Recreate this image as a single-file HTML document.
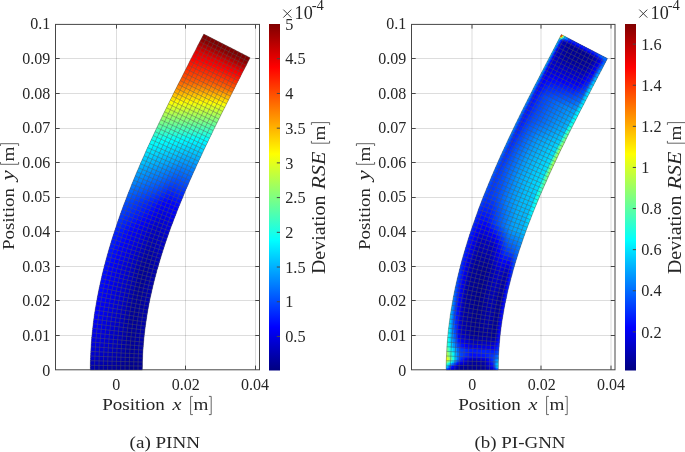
<!DOCTYPE html><html><head><meta charset="utf-8"><title>Figure</title><style>html,body{margin:0;padding:0;background:#fff}svg{display:block;will-change:transform;transform:translateZ(0)}</style></head><body><svg width="685" height="452" viewBox="0 0 685 452" font-family="'Liberation Serif', serif" fill="#262626"><rect width="685" height="452" fill="#fff"/><path d="M55.5 335.5H259.5M55.5 300.5H259.5M55.5 266.5H259.5M55.5 231.5H259.5M55.5 197.5H259.5M55.5 162.5H259.5M55.5 128.5H259.5M55.5 93.5H259.5M55.5 58.5H259.5M116.5 24.5V369.8M185.5 24.5V369.8M255.5 24.5V369.8" stroke="#000" stroke-opacity="0.135" stroke-width="1" fill="none"/><path d="M55.5 335.5h4.2M259.5 335.5h-4.2M55.5 300.5h4.2M259.5 300.5h-4.2M55.5 266.5h4.2M259.5 266.5h-4.2M55.5 231.5h4.2M259.5 231.5h-4.2M55.5 197.5h4.2M259.5 197.5h-4.2M55.5 162.5h4.2M259.5 162.5h-4.2M55.5 128.5h4.2M259.5 128.5h-4.2M55.5 93.5h4.2M259.5 93.5h-4.2M55.5 58.5h4.2M259.5 58.5h-4.2M116.5 369.8v-4.2M116.5 24.4v4.2M185.5 369.8v-4.2M185.5 24.4v4.2M255.5 369.8v-4.2M255.5 24.4v4.2" stroke="#464646" stroke-width="1" fill="none"/><rect x="55.5" y="24.4" width="204.0" height="345.4" fill="none" stroke="#464646" stroke-width="1"/><clipPath id="clip0"><path d="M90.3 370.0L90.3 365.3L90.4 360.7L90.6 356.0L90.8 351.4L91.0 346.7L91.4 342.1L91.7 337.5L92.2 332.9L92.7 328.3L93.2 323.7L93.8 319.1L94.4 314.6L95.1 310.0L95.9 305.5L96.7 301.0L97.5 296.5L98.4 292.0L99.3 287.5L100.3 283.0L101.3 278.6L102.3 274.1L103.4 269.7L104.5 265.3L105.7 260.9L106.9 256.5L108.1 252.2L109.4 247.8L110.7 243.5L112.0 239.1L113.4 234.8L114.8 230.6L116.2 226.3L117.6 222.0L119.1 217.8L120.6 213.5L122.1 209.3L123.7 205.1L125.3 200.9L126.9 196.7L128.5 192.6L130.2 188.4L131.8 184.3L133.5 180.2L135.2 176.0L136.9 171.9L138.7 167.9L140.4 163.8L142.2 159.7L144.0 155.7L145.8 151.6L147.6 147.6L149.5 143.6L151.3 139.6L153.2 135.6L155.0 131.6L156.9 127.6L158.8 123.6L160.7 119.7L162.6 115.7L164.5 111.8L166.5 107.8L168.4 103.9L170.3 100.0L172.3 96.1L174.2 92.1L176.2 88.2L178.1 84.3L180.1 80.5L182.1 76.6L184.0 72.7L186.0 68.8L188.0 64.9L189.9 61.1L191.9 57.2L193.9 53.3L195.9 49.5L197.8 45.6L199.8 41.8L201.8 37.9L203.8 34.1L250.1 57.7L248.1 61.5L246.2 65.4L244.2 69.2L242.2 73.0L240.3 76.9L238.3 80.7L236.3 84.6L234.4 88.4L232.4 92.2L230.5 96.1L228.5 99.9L226.6 103.7L224.7 107.6L222.7 111.4L220.8 115.2L218.9 119.1L217.0 122.9L215.1 126.7L213.2 130.6L211.4 134.4L209.5 138.2L207.7 142.1L205.8 145.9L204.0 149.7L202.2 153.6L200.4 157.4L198.6 161.3L196.8 165.1L195.1 169.0L193.3 172.8L191.6 176.7L189.9 180.5L188.2 184.4L186.5 188.2L184.9 192.1L183.3 196.0L181.7 199.9L180.1 203.7L178.5 207.6L177.0 211.5L175.5 215.4L174.0 219.3L172.5 223.2L171.0 227.1L169.6 231.0L168.2 234.9L166.9 238.8L165.5 242.8L164.2 246.7L163.0 250.6L161.7 254.6L160.5 258.5L159.3 262.4L158.2 266.4L157.0 270.3L156.0 274.3L154.9 278.3L153.9 282.2L152.9 286.2L152.0 290.2L151.1 294.2L150.2 298.1L149.4 302.1L148.6 306.1L147.9 310.1L147.2 314.1L146.6 318.1L146.0 322.1L145.4 326.1L144.9 330.1L144.4 334.1L144.0 338.1L143.6 342.1L143.3 346.1L143.0 350.1L142.7 354.1L142.6 358.1L142.4 362.0L142.4 366.0L142.3 370.0Z"/></clipPath><g clip-path="url(#clip0)" stroke-width="1.3" stroke-linejoin="round" fill="currentColor" stroke="currentColor"><path d="M90.3 370.0L94.6 370.0L94.6 367.7L90.3 367.7Z" color="#0000a3"/><path d="M94.6 370.0L99.0 370.0L99.0 367.7L94.6 367.7Z" color="#0000a0"/><path d="M99.0 370.0L103.3 370.0L103.3 367.8L99.0 367.7Z" color="#00009e"/><path d="M103.3 370.0L107.6 370.0L107.6 367.8L103.3 367.8Z" color="#00009b"/><path d="M107.6 370.0L112.0 370.0L112.0 367.8L107.6 367.8Z" color="#000099"/><path d="M112.0 370.0L116.3 370.0L116.3 367.8L112.0 367.8Z" color="#000096"/><path d="M116.3 370.0L120.6 370.0L120.6 367.9L116.3 367.8Z" color="#000093"/><path d="M120.6 370.0L125.0 370.0L125.0 367.9L120.6 367.9Z" color="#00008e"/><path d="M125.0 370.0L129.3 370.0L129.3 367.9L125.0 367.9Z" color="#00008a"/><path d="M129.3 370.0L133.7 370.0L133.7 368.0L129.3 367.9Z" color="#000089"/><path d="M133.7 370.0L138.0 370.0L138.0 368.0L133.7 368.0Z" color="#00008c"/><path d="M138.0 370.0L142.3 370.0L142.3 368.0L138.0 368.0Z" color="#00008e"/><path d="M90.3 367.7L94.6 367.7L94.6 365.4L90.3 365.3Z" color="#0000aa"/><path d="M94.6 367.7L99.0 367.7L99.0 365.5L94.6 365.4Z" color="#0000a7"/><path d="M99.0 367.7L103.3 367.8L103.3 365.5L99.0 365.5Z" color="#0000a4"/><path d="M103.3 367.8L107.6 367.8L107.7 365.6L103.3 365.5Z" color="#0000a1"/><path d="M107.6 367.8L112.0 367.8L112.0 365.6L107.7 365.6Z" color="#00009e"/><path d="M112.0 367.8L116.3 367.8L116.3 365.7L112.0 365.6Z" color="#00009b"/><path d="M116.3 367.8L120.6 367.9L120.7 365.7L116.3 365.7Z" color="#000097"/><path d="M120.6 367.9L125.0 367.9L125.0 365.8L120.7 365.7Z" color="#000092"/><path d="M125.0 367.9L129.3 367.9L129.3 365.9L125.0 365.8Z" color="#00008d"/><path d="M129.3 367.9L133.7 368.0L133.7 365.9L129.3 365.9Z" color="#00008c"/><path d="M133.7 368.0L138.0 368.0L138.0 366.0L133.7 365.9Z" color="#00008f"/><path d="M138.0 368.0L142.3 368.0L142.4 366.0L138.0 366.0Z" color="#000091"/><path d="M90.3 365.3L94.6 365.4L94.7 363.1L90.3 363.0Z" color="#0000b2"/><path d="M94.6 365.4L99.0 365.5L99.0 363.2L94.7 363.1Z" color="#0000ae"/><path d="M99.0 365.5L103.3 365.5L103.4 363.3L99.0 363.2Z" color="#0000ab"/><path d="M103.3 365.5L107.7 365.6L107.7 363.3L103.4 363.3Z" color="#0000a7"/><path d="M107.7 365.6L112.0 365.6L112.0 363.4L107.7 363.3Z" color="#0000a4"/><path d="M112.0 365.6L116.3 365.7L116.4 363.5L112.0 363.4Z" color="#0000a0"/><path d="M116.3 365.7L120.7 365.7L120.7 363.6L116.4 363.5Z" color="#00009b"/><path d="M120.7 365.7L125.0 365.8L125.0 363.7L120.7 363.6Z" color="#000096"/><path d="M125.0 365.8L129.3 365.9L129.4 363.8L125.0 363.7Z" color="#000090"/><path d="M129.3 365.9L133.7 365.9L133.7 363.9L129.4 363.8Z" color="#00008e"/><path d="M133.7 365.9L138.0 366.0L138.0 363.9L133.7 363.9Z" color="#000092"/><path d="M138.0 366.0L142.4 366.0L142.4 364.0L138.0 363.9Z" color="#000095"/><path d="M90.3 363.0L94.7 363.1L94.7 360.8L90.4 360.7Z" color="#0000b9"/><path d="M94.7 363.1L99.0 363.2L99.1 360.9L94.7 360.8Z" color="#0000b5"/><path d="M99.0 363.2L103.4 363.3L103.4 361.0L99.1 360.9Z" color="#0000b1"/><path d="M103.4 363.3L107.7 363.3L107.7 361.1L103.4 361.0Z" color="#0000ad"/><path d="M107.7 363.3L112.0 363.4L112.1 361.2L107.7 361.1Z" color="#0000a9"/><path d="M112.0 363.4L116.4 363.5L116.4 361.4L112.1 361.2Z" color="#0000a5"/><path d="M116.4 363.5L120.7 363.6L120.8 361.5L116.4 361.4Z" color="#0000a0"/><path d="M120.7 363.6L125.0 363.7L125.1 361.6L120.8 361.5Z" color="#000099"/><path d="M125.0 363.7L129.4 363.8L129.4 361.7L125.1 361.6Z" color="#000093"/><path d="M129.4 363.8L133.7 363.9L133.8 361.8L129.4 361.7Z" color="#000091"/><path d="M133.7 363.9L138.0 363.9L138.1 361.9L133.8 361.8Z" color="#000094"/><path d="M138.0 363.9L142.4 364.0L142.4 362.0L138.1 361.9Z" color="#000098"/><path d="M90.4 360.7L94.7 360.8L94.8 358.5L90.5 358.4Z" color="#0000c1"/><path d="M94.7 360.8L99.1 360.9L99.1 358.6L94.8 358.5Z" color="#0000bc"/><path d="M99.1 360.9L103.4 361.0L103.5 358.8L99.1 358.6Z" color="#0000b8"/><path d="M103.4 361.0L107.7 361.1L107.8 358.9L103.5 358.8Z" color="#0000b3"/><path d="M107.7 361.1L112.1 361.2L112.1 359.1L107.8 358.9Z" color="#0000af"/><path d="M112.1 361.2L116.4 361.4L116.5 359.2L112.1 359.1Z" color="#0000aa"/><path d="M116.4 361.4L120.8 361.5L120.8 359.3L116.5 359.2Z" color="#0000a4"/><path d="M120.8 361.5L125.1 361.6L125.1 359.5L120.8 359.3Z" color="#00009d"/><path d="M125.1 361.6L129.4 361.7L129.5 359.6L125.1 359.5Z" color="#000096"/><path d="M129.4 361.7L133.8 361.8L133.8 359.8L129.5 359.6Z" color="#000094"/><path d="M133.8 361.8L138.1 361.9L138.2 359.9L133.8 359.8Z" color="#000097"/><path d="M138.1 361.9L142.4 362.0L142.5 360.0L138.2 359.9Z" color="#00009b"/><path d="M90.5 358.4L94.8 358.5L94.9 356.2L90.6 356.0Z" color="#0000c8"/><path d="M94.8 358.5L99.1 358.6L99.2 356.4L94.9 356.2Z" color="#0000c3"/><path d="M99.1 358.6L103.5 358.8L103.6 356.5L99.2 356.4Z" color="#0000be"/><path d="M103.5 358.8L107.8 358.9L107.9 356.7L103.6 356.5Z" color="#0000b9"/><path d="M107.8 358.9L112.1 359.1L112.2 356.9L107.9 356.7Z" color="#0000b4"/><path d="M112.1 359.1L116.5 359.2L116.6 357.0L112.2 356.9Z" color="#0000af"/><path d="M116.5 359.2L120.8 359.3L120.9 357.2L116.6 357.0Z" color="#0000a9"/><path d="M120.8 359.3L125.1 359.5L125.2 357.4L120.9 357.2Z" color="#0000a0"/><path d="M125.1 359.5L129.5 359.6L129.6 357.5L125.2 357.4Z" color="#000098"/><path d="M129.5 359.6L133.8 359.8L133.9 357.7L129.6 357.5Z" color="#000096"/><path d="M133.8 359.8L138.2 359.9L138.2 357.9L133.9 357.7Z" color="#00009a"/><path d="M138.2 359.9L142.5 360.0L142.6 358.1L138.2 357.9Z" color="#00009e"/><path d="M90.6 356.0L94.9 356.2L95.0 353.9L90.6 353.7Z" color="#0000ce"/><path d="M94.9 356.2L99.2 356.4L99.3 354.1L95.0 353.9Z" color="#0000c9"/><path d="M99.2 356.4L103.6 356.5L103.6 354.3L99.3 354.1Z" color="#0000c4"/><path d="M103.6 356.5L107.9 356.7L108.0 354.5L103.6 354.3Z" color="#0000be"/><path d="M107.9 356.7L112.2 356.9L112.3 354.7L108.0 354.5Z" color="#0000b9"/><path d="M112.2 356.9L116.6 357.0L116.6 354.9L112.3 354.7Z" color="#0000b4"/><path d="M116.6 357.0L120.9 357.2L121.0 355.1L116.6 354.9Z" color="#0000ad"/><path d="M120.9 357.2L125.2 357.4L125.3 355.3L121.0 355.1Z" color="#0000a4"/><path d="M125.2 357.4L129.6 357.5L129.6 355.5L125.3 355.3Z" color="#00009b"/><path d="M129.6 357.5L133.9 357.7L134.0 355.7L129.6 355.5Z" color="#000099"/><path d="M133.9 357.7L138.2 357.9L138.3 355.9L134.0 355.7Z" color="#00009d"/><path d="M138.2 357.9L142.6 358.1L142.6 356.1L138.3 355.9Z" color="#0000a2"/><path d="M90.6 353.7L95.0 353.9L95.1 351.6L90.8 351.4Z" color="#0000d2"/><path d="M95.0 353.9L99.3 354.1L99.4 351.8L95.1 351.6Z" color="#0000cc"/><path d="M99.3 354.1L103.6 354.3L103.8 352.1L99.4 351.8Z" color="#0000c7"/><path d="M103.6 354.3L108.0 354.5L108.1 352.3L103.8 352.1Z" color="#0000c1"/><path d="M108.0 354.5L112.3 354.7L112.4 352.5L108.1 352.3Z" color="#0000bb"/><path d="M112.3 354.7L116.6 354.9L116.8 352.7L112.4 352.5Z" color="#0000b5"/><path d="M116.6 354.9L121.0 355.1L121.1 352.9L116.8 352.7Z" color="#0000ae"/><path d="M121.0 355.1L125.3 355.3L125.4 353.2L121.1 352.9Z" color="#0000a4"/><path d="M125.3 355.3L129.6 355.5L129.7 353.4L125.4 353.2Z" color="#00009b"/><path d="M129.6 355.5L134.0 355.7L134.1 353.6L129.7 353.4Z" color="#000099"/><path d="M134.0 355.7L138.3 355.9L138.4 353.8L134.1 353.6Z" color="#00009e"/><path d="M138.3 355.9L142.6 356.1L142.7 354.1L138.4 353.8Z" color="#0000a3"/><path d="M90.8 351.4L95.1 351.6L95.2 349.3L90.9 349.1Z" color="#0000d5"/><path d="M95.1 351.6L99.4 351.8L99.6 349.6L95.2 349.3Z" color="#0000cf"/><path d="M99.4 351.8L103.8 352.1L103.9 349.8L99.6 349.6Z" color="#0000c9"/><path d="M103.8 352.1L108.1 352.3L108.2 350.1L103.9 349.8Z" color="#0000c3"/><path d="M108.1 352.3L112.4 352.5L112.5 350.3L108.2 350.1Z" color="#0000bd"/><path d="M112.4 352.5L116.8 352.7L116.9 350.6L112.5 350.3Z" color="#0000b7"/><path d="M116.8 352.7L121.1 352.9L121.2 350.8L116.9 350.6Z" color="#0000af"/><path d="M121.1 352.9L125.4 353.2L125.5 351.1L121.2 350.8Z" color="#0000a5"/><path d="M125.4 353.2L129.7 353.4L129.9 351.3L125.5 351.1Z" color="#00009b"/><path d="M129.7 353.4L134.1 353.6L134.2 351.6L129.9 351.3Z" color="#000099"/><path d="M134.1 353.6L138.4 353.8L138.5 351.8L134.2 351.6Z" color="#00009e"/><path d="M138.4 353.8L142.7 354.1L142.9 352.1L138.5 351.8Z" color="#0000a4"/><path d="M90.9 349.1L95.2 349.3L95.4 347.0L91.0 346.7Z" color="#0000d8"/><path d="M95.2 349.3L99.6 349.6L99.7 347.3L95.4 347.0Z" color="#0000d2"/><path d="M99.6 349.6L103.9 349.8L104.0 347.6L99.7 347.3Z" color="#0000cc"/><path d="M103.9 349.8L108.2 350.1L108.3 347.9L104.0 347.6Z" color="#0000c5"/><path d="M108.2 350.1L112.5 350.3L112.7 348.1L108.3 347.9Z" color="#0000bf"/><path d="M112.5 350.3L116.9 350.6L117.0 348.4L112.7 348.1Z" color="#0000b9"/><path d="M116.9 350.6L121.2 350.8L121.3 348.7L117.0 348.4Z" color="#0000b0"/><path d="M121.2 350.8L125.5 351.1L125.7 349.0L121.3 348.7Z" color="#0000a6"/><path d="M125.5 351.1L129.9 351.3L130.0 349.2L125.7 349.0Z" color="#00009c"/><path d="M129.9 351.3L134.2 351.6L134.3 349.5L130.0 349.2Z" color="#000099"/><path d="M134.2 351.6L138.5 351.8L138.6 349.8L134.3 349.5Z" color="#00009f"/><path d="M138.5 351.8L142.9 352.1L143.0 350.1L138.6 349.8Z" color="#0000a4"/><path d="M91.0 346.7L95.4 347.0L95.5 344.7L91.2 344.4Z" color="#0000db"/><path d="M95.4 347.0L99.7 347.3L99.8 345.0L95.5 344.7Z" color="#0000d5"/><path d="M99.7 347.3L104.0 347.6L104.2 345.3L99.8 345.0Z" color="#0000ce"/><path d="M104.0 347.6L108.3 347.9L108.5 345.6L104.2 345.3Z" color="#0000c8"/><path d="M108.3 347.9L112.7 348.1L112.8 345.9L108.5 345.6Z" color="#0000c1"/><path d="M112.7 348.1L117.0 348.4L117.1 346.3L112.8 345.9Z" color="#0000ba"/><path d="M117.0 348.4L121.3 348.7L121.5 346.6L117.1 346.3Z" color="#0000b2"/><path d="M121.3 348.7L125.7 349.0L125.8 346.9L121.5 346.6Z" color="#0000a7"/><path d="M125.7 349.0L130.0 349.2L130.1 347.2L125.8 346.9Z" color="#00009c"/><path d="M130.0 349.2L134.3 349.5L134.5 347.5L130.1 347.2Z" color="#00009a"/><path d="M134.3 349.5L138.6 349.8L138.8 347.8L134.5 347.5Z" color="#00009f"/><path d="M138.6 349.8L143.0 350.1L143.1 348.1L138.8 347.8Z" color="#0000a5"/><path d="M91.2 344.4L95.5 344.7L95.7 342.5L91.4 342.1Z" color="#0000df"/><path d="M95.5 344.7L99.8 345.0L100.0 342.8L95.7 342.5Z" color="#0000d8"/><path d="M99.8 345.0L104.2 345.3L104.3 343.1L100.0 342.8Z" color="#0000d1"/><path d="M104.2 345.3L108.5 345.6L108.7 343.4L104.3 343.1Z" color="#0000ca"/><path d="M108.5 345.6L112.8 345.9L113.0 343.8L108.7 343.4Z" color="#0000c3"/><path d="M112.8 345.9L117.1 346.3L117.3 344.1L113.0 343.8Z" color="#0000bc"/><path d="M117.1 346.3L121.5 346.6L121.6 344.4L117.3 344.1Z" color="#0000b3"/><path d="M121.5 346.6L125.8 346.9L126.0 344.8L121.6 344.4Z" color="#0000a8"/><path d="M125.8 346.9L130.1 347.2L130.3 345.1L126.0 344.8Z" color="#00009c"/><path d="M130.1 347.2L134.5 347.5L134.6 345.4L130.3 345.1Z" color="#00009a"/><path d="M134.5 347.5L138.8 347.8L138.9 345.7L134.6 345.4Z" color="#0000a0"/><path d="M138.8 347.8L143.1 348.1L143.3 346.1L138.9 345.7Z" color="#0000a6"/><path d="M91.4 342.1L95.7 342.5L95.9 340.2L91.5 339.8Z" color="#0000e2"/><path d="M95.7 342.5L100.0 342.8L100.2 340.5L95.9 340.2Z" color="#0000da"/><path d="M100.0 342.8L104.3 343.1L104.5 340.9L100.2 340.5Z" color="#0000d3"/><path d="M104.3 343.1L108.7 343.4L108.8 341.2L104.5 340.9Z" color="#0000cc"/><path d="M108.7 343.4L113.0 343.8L113.2 341.6L108.8 341.2Z" color="#0000c5"/><path d="M113.0 343.8L117.3 344.1L117.5 341.9L113.2 341.6Z" color="#0000be"/><path d="M117.3 344.1L121.6 344.4L121.8 342.3L117.5 341.9Z" color="#0000b4"/><path d="M121.6 344.4L126.0 344.8L126.1 342.7L121.8 342.3Z" color="#0000a9"/><path d="M126.0 344.8L130.3 345.1L130.4 343.0L126.1 342.7Z" color="#00009d"/><path d="M130.3 345.1L134.6 345.4L134.8 343.4L130.4 343.0Z" color="#00009a"/><path d="M134.6 345.4L138.9 345.7L139.1 343.7L134.8 343.4Z" color="#0000a0"/><path d="M138.9 345.7L143.3 346.1L143.4 344.1L139.1 343.7Z" color="#0000a7"/><path d="M91.5 339.8L95.9 340.2L96.1 337.9L91.7 337.5Z" color="#0000e5"/><path d="M95.9 340.2L100.2 340.5L100.4 338.3L96.1 337.9Z" color="#0000dd"/><path d="M100.2 340.5L104.5 340.9L104.7 338.6L100.4 338.3Z" color="#0000d6"/><path d="M104.5 340.9L108.8 341.2L109.0 339.0L104.7 338.6Z" color="#0000ce"/><path d="M108.8 341.2L113.2 341.6L113.3 339.4L109.0 339.0Z" color="#0000c7"/><path d="M113.2 341.6L117.5 341.9L117.7 339.8L113.3 339.4Z" color="#0000bf"/><path d="M117.5 341.9L121.8 342.3L122.0 340.2L117.7 339.8Z" color="#0000b5"/><path d="M121.8 342.3L126.1 342.7L126.3 340.6L122.0 340.2Z" color="#0000a9"/><path d="M126.1 342.7L130.4 343.0L130.6 340.9L126.3 340.6Z" color="#00009d"/><path d="M130.4 343.0L134.8 343.4L134.9 341.3L130.6 340.9Z" color="#00009a"/><path d="M134.8 343.4L139.1 343.7L139.3 341.7L134.9 341.3Z" color="#0000a1"/><path d="M139.1 343.7L143.4 344.1L143.6 342.1L139.3 341.7Z" color="#0000a7"/><path d="M91.7 337.5L96.1 337.9L96.3 335.6L92.0 335.2Z" color="#0000e8"/><path d="M96.1 337.9L100.4 338.3L100.6 336.0L96.3 335.6Z" color="#0000e0"/><path d="M100.4 338.3L104.7 338.6L104.9 336.4L100.6 336.0Z" color="#0000d8"/><path d="M104.7 338.6L109.0 339.0L109.2 336.8L104.9 336.4Z" color="#0000d0"/><path d="M109.0 339.0L113.3 339.4L113.5 337.2L109.2 336.8Z" color="#0000c9"/><path d="M113.3 339.4L117.7 339.8L117.9 337.6L113.5 337.2Z" color="#0000c1"/><path d="M117.7 339.8L122.0 340.2L122.2 338.0L117.9 337.6Z" color="#0000b7"/><path d="M122.0 340.2L126.3 340.6L126.5 338.5L122.2 338.0Z" color="#0000aa"/><path d="M126.3 340.6L130.6 340.9L130.8 338.9L126.5 338.5Z" color="#00009e"/><path d="M130.6 340.9L134.9 341.3L135.1 339.3L130.8 338.9Z" color="#00009b"/><path d="M134.9 341.3L139.3 341.7L139.5 339.7L135.1 339.3Z" color="#0000a1"/><path d="M139.3 341.7L143.6 342.1L143.8 340.1L139.5 339.7Z" color="#0000a8"/><path d="M92.0 335.2L96.3 335.6L96.5 333.3L92.2 332.9Z" color="#0000ea"/><path d="M96.3 335.6L100.6 336.0L100.8 333.8L96.5 333.3Z" color="#0000e2"/><path d="M100.6 336.0L104.9 336.4L105.1 334.2L100.8 333.8Z" color="#0000da"/><path d="M104.9 336.4L109.2 336.8L109.4 334.6L105.1 334.2Z" color="#0000d3"/><path d="M109.2 336.8L113.5 337.2L113.8 335.1L109.4 334.6Z" color="#0000cb"/><path d="M113.5 337.2L117.9 337.6L118.1 335.5L113.8 335.1Z" color="#0000c3"/><path d="M117.9 337.6L122.2 338.0L122.4 335.9L118.1 335.5Z" color="#0000b8"/><path d="M122.2 338.0L126.5 338.5L126.7 336.4L122.4 335.9Z" color="#0000ab"/><path d="M126.5 338.5L130.8 338.9L131.0 336.8L126.7 336.4Z" color="#00009e"/><path d="M130.8 338.9L135.1 339.3L135.3 337.2L131.0 336.8Z" color="#00009b"/><path d="M135.1 339.3L139.5 339.7L139.7 337.6L135.3 337.2Z" color="#0000a2"/><path d="M139.5 339.7L143.8 340.1L144.0 338.1L139.7 337.6Z" color="#0000a9"/><path d="M92.2 332.9L96.5 333.3L96.7 331.1L92.4 330.6Z" color="#0000ec"/><path d="M96.5 333.3L100.8 333.8L101.0 331.5L96.7 331.1Z" color="#0000e4"/><path d="M100.8 333.8L105.1 334.2L105.4 332.0L101.0 331.5Z" color="#0000dc"/><path d="M105.1 334.2L109.4 334.6L109.7 332.4L105.4 332.0Z" color="#0000d4"/><path d="M109.4 334.6L113.8 335.1L114.0 332.9L109.7 332.4Z" color="#0000cc"/><path d="M113.8 335.1L118.1 335.5L118.3 333.3L114.0 332.9Z" color="#0000c4"/><path d="M118.1 335.5L122.4 335.9L122.6 333.8L118.3 333.3Z" color="#0000b9"/><path d="M122.4 335.9L126.7 336.4L126.9 334.3L122.6 333.8Z" color="#0000ac"/><path d="M126.7 336.4L131.0 336.8L131.2 334.7L126.9 334.3Z" color="#00009f"/><path d="M131.0 336.8L135.3 337.2L135.5 335.2L131.2 334.7Z" color="#00009b"/><path d="M135.3 337.2L139.7 337.6L139.9 335.6L135.5 335.2Z" color="#0000a3"/><path d="M139.7 337.6L144.0 338.1L144.2 336.1L139.9 335.6Z" color="#0000aa"/><path d="M92.4 330.6L96.7 331.1L97.0 328.8L92.7 328.3Z" color="#0000ee"/><path d="M96.7 331.1L101.0 331.5L101.3 329.3L97.0 328.8Z" color="#0000e6"/><path d="M101.0 331.5L105.4 332.0L105.6 329.7L101.3 329.3Z" color="#0000dd"/><path d="M105.4 332.0L109.7 332.4L109.9 330.2L105.6 329.7Z" color="#0000d5"/><path d="M109.7 332.4L114.0 332.9L114.2 330.7L109.9 330.2Z" color="#0000cd"/><path d="M114.0 332.9L118.3 333.3L118.5 331.2L114.2 330.7Z" color="#0000c4"/><path d="M118.3 333.3L122.6 333.8L122.8 331.7L118.5 331.2Z" color="#0000b9"/><path d="M122.6 333.8L126.9 334.3L127.2 332.2L122.8 331.7Z" color="#0000ac"/><path d="M126.9 334.3L131.2 334.7L131.5 332.6L127.2 332.2Z" color="#00009e"/><path d="M131.2 334.7L135.5 335.2L135.8 333.1L131.5 332.6Z" color="#00009b"/><path d="M135.5 335.2L139.9 335.6L140.1 333.6L135.8 333.1Z" color="#0000a3"/><path d="M139.9 335.6L144.2 336.1L144.4 334.1L140.1 333.6Z" color="#0000aa"/><path d="M92.7 328.3L97.0 328.8L97.2 326.5L92.9 326.0Z" color="#0000f0"/><path d="M97.0 328.8L101.3 329.3L101.5 327.0L97.2 326.5Z" color="#0000e8"/><path d="M101.3 329.3L105.6 329.7L105.9 327.5L101.5 327.0Z" color="#0000df"/><path d="M105.6 329.7L109.9 330.2L110.2 328.0L105.9 327.5Z" color="#0000d6"/><path d="M109.9 330.2L114.2 330.7L114.5 328.5L110.2 328.0Z" color="#0000ce"/><path d="M114.2 330.7L118.5 331.2L118.8 329.0L114.5 328.5Z" color="#0000c5"/><path d="M118.5 331.2L122.8 331.7L123.1 329.6L118.8 329.0Z" color="#0000ba"/><path d="M122.8 331.7L127.2 332.2L127.4 330.1L123.1 329.6Z" color="#0000ac"/><path d="M127.2 332.2L131.5 332.6L131.7 330.6L127.4 330.1Z" color="#00009e"/><path d="M131.5 332.6L135.8 333.1L136.0 331.1L131.7 330.6Z" color="#00009a"/><path d="M135.8 333.1L140.1 333.6L140.3 331.6L136.0 331.1Z" color="#0000a2"/><path d="M140.1 333.6L144.4 334.1L144.6 332.1L140.3 331.6Z" color="#0000aa"/><path d="M92.9 326.0L97.2 326.5L97.5 324.2L93.2 323.7Z" color="#0000f2"/><path d="M97.2 326.5L101.5 327.0L101.8 324.8L97.5 324.2Z" color="#0000e9"/><path d="M101.5 327.0L105.9 327.5L106.1 325.3L101.8 324.8Z" color="#0000e0"/><path d="M105.9 327.5L110.2 328.0L110.4 325.8L106.1 325.3Z" color="#0000d8"/><path d="M110.2 328.0L114.5 328.5L114.7 326.4L110.4 325.8Z" color="#0000cf"/><path d="M114.5 328.5L118.8 329.0L119.0 326.9L114.7 326.4Z" color="#0000c6"/><path d="M118.8 329.0L123.1 329.6L123.3 327.4L119.0 326.9Z" color="#0000ba"/><path d="M123.1 329.6L127.4 330.1L127.6 328.0L123.3 327.4Z" color="#0000ac"/><path d="M127.4 330.1L131.7 330.6L132.0 328.5L127.6 328.0Z" color="#00009d"/><path d="M131.7 330.6L136.0 331.1L136.3 329.0L132.0 328.5Z" color="#00009a"/><path d="M136.0 331.1L140.3 331.6L140.6 329.6L136.3 329.0Z" color="#0000a2"/><path d="M140.3 331.6L144.6 332.1L144.9 330.1L140.6 329.6Z" color="#0000aa"/><path d="M93.2 323.7L97.5 324.2L97.8 322.0L93.5 321.4Z" color="#0000f4"/><path d="M97.5 324.2L101.8 324.8L102.1 322.5L97.8 322.0Z" color="#0000eb"/><path d="M101.8 324.8L106.1 325.3L106.4 323.1L102.1 322.5Z" color="#0000e2"/><path d="M106.1 325.3L110.4 325.8L110.7 323.6L106.4 323.1Z" color="#0000d9"/><path d="M110.4 325.8L114.7 326.4L115.0 324.2L110.7 323.6Z" color="#0000d0"/><path d="M114.7 326.4L119.0 326.9L119.3 324.8L115.0 324.2Z" color="#0000c7"/><path d="M119.0 326.9L123.3 327.4L123.6 325.3L119.3 324.8Z" color="#0000ba"/><path d="M123.3 327.4L127.6 328.0L127.9 325.9L123.6 325.3Z" color="#0000ac"/><path d="M127.6 328.0L132.0 328.5L132.2 326.4L127.9 325.9Z" color="#00009d"/><path d="M132.0 328.5L136.3 329.0L136.5 327.0L132.2 326.4Z" color="#000099"/><path d="M136.3 329.0L140.6 329.6L140.8 327.5L136.5 327.0Z" color="#0000a2"/><path d="M140.6 329.6L144.9 330.1L145.1 328.1L140.8 327.5Z" color="#0000aa"/><path d="M93.5 321.4L97.8 322.0L98.1 319.7L93.8 319.1Z" color="#0000f6"/><path d="M97.8 322.0L102.1 322.5L102.4 320.3L98.1 319.7Z" color="#0000ed"/><path d="M102.1 322.5L106.4 323.1L106.7 320.9L102.4 320.3Z" color="#0000e3"/><path d="M106.4 323.1L110.7 323.6L111.0 321.5L106.7 320.9Z" color="#0000da"/><path d="M110.7 323.6L115.0 324.2L115.3 322.0L111.0 321.5Z" color="#0000d1"/><path d="M115.0 324.2L119.3 324.8L119.6 322.6L115.3 322.0Z" color="#0000c7"/><path d="M119.3 324.8L123.6 325.3L123.9 323.2L119.6 322.6Z" color="#0000bb"/><path d="M123.6 325.3L127.9 325.9L128.2 323.8L123.9 323.2Z" color="#0000ac"/><path d="M127.9 325.9L132.2 326.4L132.5 324.4L128.2 323.8Z" color="#00009c"/><path d="M132.2 326.4L136.5 327.0L136.8 324.9L132.5 324.4Z" color="#000099"/><path d="M136.5 327.0L140.8 327.5L141.1 325.5L136.8 324.9Z" color="#0000a1"/><path d="M140.8 327.5L145.1 328.1L145.4 326.1L141.1 325.5Z" color="#0000aa"/><path d="M93.8 319.1L98.1 319.7L98.4 317.5L94.1 316.9Z" color="#0000f8"/><path d="M98.1 319.7L102.4 320.3L102.7 318.1L98.4 317.5Z" color="#0000ef"/><path d="M102.4 320.3L106.7 320.9L107.0 318.7L102.7 318.1Z" color="#0000e5"/><path d="M106.7 320.9L111.0 321.5L111.3 319.3L107.0 318.7Z" color="#0000db"/><path d="M111.0 321.5L115.3 322.0L115.6 319.9L111.3 319.3Z" color="#0000d2"/><path d="M115.3 322.0L119.6 322.6L119.9 320.5L115.6 319.9Z" color="#0000c8"/><path d="M119.6 322.6L123.9 323.2L124.2 321.1L119.9 320.5Z" color="#0000bb"/><path d="M123.9 323.2L128.2 323.8L128.5 321.7L124.2 321.1Z" color="#0000ab"/><path d="M128.2 323.8L132.5 324.4L132.8 322.3L128.5 321.7Z" color="#00009c"/><path d="M132.5 324.4L136.8 324.9L137.1 322.9L132.8 322.3Z" color="#000098"/><path d="M136.8 324.9L141.1 325.5L141.4 323.5L137.1 322.9Z" color="#0000a1"/><path d="M141.1 325.5L145.4 326.1L145.7 324.1L141.4 323.5Z" color="#0000aa"/><path d="M94.1 316.9L98.4 317.5L98.7 315.2L94.4 314.6Z" color="#0000fa"/><path d="M98.4 317.5L102.7 318.1L103.0 315.8L98.7 315.2Z" color="#0000f0"/><path d="M102.7 318.1L107.0 318.7L107.3 316.5L103.0 315.8Z" color="#0000e6"/><path d="M107.0 318.7L111.3 319.3L111.6 317.1L107.3 316.5Z" color="#0000dc"/><path d="M111.3 319.3L115.6 319.9L115.9 317.7L111.6 317.1Z" color="#0000d3"/><path d="M115.6 319.9L119.9 320.5L120.2 318.3L115.9 317.7Z" color="#0000c9"/><path d="M119.9 320.5L124.2 321.1L124.5 319.0L120.2 318.3Z" color="#0000bc"/><path d="M124.2 321.1L128.5 321.7L128.8 319.6L124.5 319.0Z" color="#0000ab"/><path d="M128.5 321.7L132.8 322.3L133.1 320.2L128.8 319.6Z" color="#00009b"/><path d="M132.8 322.3L137.1 322.9L137.4 320.8L133.1 320.2Z" color="#000098"/><path d="M137.1 322.9L141.4 323.5L141.7 321.5L137.4 320.8Z" color="#0000a0"/><path d="M141.4 323.5L145.7 324.1L146.0 322.1L141.7 321.5Z" color="#0000a9"/><path d="M94.4 314.6L98.7 315.2L99.1 313.0L94.8 312.3Z" color="#0000fc"/><path d="M98.7 315.2L103.0 315.8L103.4 313.6L99.1 313.0Z" color="#0000f2"/><path d="M103.0 315.8L107.3 316.5L107.7 314.3L103.4 313.6Z" color="#0000e8"/><path d="M107.3 316.5L111.6 317.1L111.9 314.9L107.7 314.3Z" color="#0000de"/><path d="M111.6 317.1L115.9 317.7L116.2 315.6L111.9 314.9Z" color="#0000d3"/><path d="M115.9 317.7L120.2 318.3L120.5 316.2L116.2 315.6Z" color="#0000c9"/><path d="M120.2 318.3L124.5 319.0L124.8 316.8L120.5 316.2Z" color="#0000bc"/><path d="M124.5 319.0L128.8 319.6L129.1 317.5L124.8 316.8Z" color="#0000ac"/><path d="M128.8 319.6L133.1 320.2L133.4 318.1L129.1 317.5Z" color="#00009b"/><path d="M133.1 320.2L137.4 320.8L137.7 318.8L133.4 318.1Z" color="#000097"/><path d="M137.4 320.8L141.7 321.5L142.0 319.4L137.7 318.8Z" color="#0000a1"/><path d="M141.7 321.5L146.0 322.1L146.3 320.1L142.0 319.4Z" color="#0000aa"/><path d="M94.8 312.3L99.1 313.0L99.4 310.7L95.1 310.0Z" color="#0000fd"/><path d="M99.1 313.0L103.4 313.6L103.7 311.4L99.4 310.7Z" color="#0000f3"/><path d="M103.4 313.6L107.7 314.3L108.0 312.1L103.7 311.4Z" color="#0000e9"/><path d="M107.7 314.3L111.9 314.9L112.3 312.7L108.0 312.1Z" color="#0000de"/><path d="M111.9 314.9L116.2 315.6L116.6 313.4L112.3 312.7Z" color="#0000d4"/><path d="M116.2 315.6L120.5 316.2L120.9 314.1L116.6 313.4Z" color="#0000ca"/><path d="M120.5 316.2L124.8 316.8L125.1 314.7L120.9 314.1Z" color="#0000bd"/><path d="M124.8 316.8L129.1 317.5L129.4 315.4L125.1 314.7Z" color="#0000ac"/><path d="M129.1 317.5L133.4 318.1L133.7 316.1L129.4 315.4Z" color="#00009c"/><path d="M133.4 318.1L137.7 318.8L138.0 316.7L133.7 316.1Z" color="#000098"/><path d="M137.7 318.8L142.0 319.4L142.3 317.4L138.0 316.7Z" color="#0000a1"/><path d="M142.0 319.4L146.3 320.1L146.6 318.1L142.3 317.4Z" color="#0000aa"/><path d="M95.1 310.0L99.4 310.7L99.8 308.5L95.5 307.8Z" color="#0000fe"/><path d="M99.4 310.7L103.7 311.4L104.1 309.2L99.8 308.5Z" color="#0000f4"/><path d="M103.7 311.4L108.0 312.1L108.4 309.8L104.1 309.2Z" color="#0000ea"/><path d="M108.0 312.1L112.3 312.7L112.6 310.5L108.4 309.8Z" color="#0000df"/><path d="M112.3 312.7L116.6 313.4L116.9 311.2L112.6 310.5Z" color="#0000d5"/><path d="M116.6 313.4L120.9 314.1L121.2 311.9L116.9 311.2Z" color="#0000cb"/><path d="M120.9 314.1L125.1 314.7L125.5 312.6L121.2 311.9Z" color="#0000bd"/><path d="M125.1 314.7L129.4 315.4L129.8 313.3L125.5 312.6Z" color="#0000ad"/><path d="M129.4 315.4L133.7 316.1L134.0 314.0L129.8 313.3Z" color="#00009c"/><path d="M133.7 316.1L138.0 316.7L138.3 314.7L134.0 314.0Z" color="#000098"/><path d="M138.0 316.7L142.3 317.4L142.6 315.4L138.3 314.7Z" color="#0000a1"/><path d="M142.3 317.4L146.6 318.1L146.9 316.1L142.6 315.4Z" color="#0000ab"/><path d="M95.5 307.8L99.8 308.5L100.2 306.2L95.9 305.5Z" color="#0000ff"/><path d="M99.8 308.5L104.1 309.2L104.4 306.9L100.2 306.2Z" color="#0000f5"/><path d="M104.1 309.2L108.4 309.8L108.7 307.6L104.4 306.9Z" color="#0000eb"/><path d="M108.4 309.8L112.6 310.5L113.0 308.4L108.7 307.6Z" color="#0000e0"/><path d="M112.6 310.5L116.9 311.2L117.3 309.1L113.0 308.4Z" color="#0000d6"/><path d="M116.9 311.2L121.2 311.9L121.5 309.8L117.3 309.1Z" color="#0000cc"/><path d="M121.2 311.9L125.5 312.6L125.8 310.5L121.5 309.8Z" color="#0000be"/><path d="M125.5 312.6L129.8 313.3L130.1 311.2L125.8 310.5Z" color="#0000ad"/><path d="M129.8 313.3L134.0 314.0L134.4 311.9L130.1 311.2Z" color="#00009c"/><path d="M134.0 314.0L138.3 314.7L138.7 312.7L134.4 311.9Z" color="#000099"/><path d="M138.3 314.7L142.6 315.4L142.9 313.4L138.7 312.7Z" color="#0000a2"/><path d="M142.6 315.4L146.9 316.1L147.2 314.1L142.9 313.4Z" color="#0000ab"/><path d="M95.9 305.5L100.2 306.2L100.5 304.0L96.3 303.2Z" color="#0001ff"/><path d="M100.2 306.2L104.4 306.9L104.8 304.7L100.5 304.0Z" color="#0000f6"/><path d="M104.4 306.9L108.7 307.6L109.1 305.5L104.8 304.7Z" color="#0000ec"/><path d="M108.7 307.6L113.0 308.4L113.4 306.2L109.1 305.5Z" color="#0000e1"/><path d="M113.0 308.4L117.3 309.1L117.6 306.9L113.4 306.2Z" color="#0000d7"/><path d="M117.3 309.1L121.5 309.8L121.9 307.7L117.6 306.9Z" color="#0000cc"/><path d="M121.5 309.8L125.8 310.5L126.2 308.4L121.9 307.7Z" color="#0000bf"/><path d="M125.8 310.5L130.1 311.2L130.5 309.1L126.2 308.4Z" color="#0000ae"/><path d="M130.1 311.2L134.4 311.9L134.7 309.9L130.5 309.1Z" color="#00009d"/><path d="M134.4 311.9L138.7 312.7L139.0 310.6L134.7 309.9Z" color="#000099"/><path d="M138.7 312.7L142.9 313.4L143.3 311.4L139.0 310.6Z" color="#0000a2"/><path d="M142.9 313.4L147.2 314.1L147.6 312.1L143.3 311.4Z" color="#0000ab"/><path d="M96.3 303.2L100.5 304.0L100.9 301.7L96.7 301.0Z" color="#0003ff"/><path d="M100.5 304.0L104.8 304.7L105.2 302.5L100.9 301.7Z" color="#0000f7"/><path d="M104.8 304.7L109.1 305.5L109.5 303.3L105.2 302.5Z" color="#0000ed"/><path d="M109.1 305.5L113.4 306.2L113.7 304.0L109.5 303.3Z" color="#0000e2"/><path d="M113.4 306.2L117.6 306.9L118.0 304.8L113.7 304.0Z" color="#0000d8"/><path d="M117.6 306.9L121.9 307.7L122.3 305.5L118.0 304.8Z" color="#0000cd"/><path d="M121.9 307.7L126.2 308.4L126.6 306.3L122.3 305.5Z" color="#0000bf"/><path d="M126.2 308.4L130.5 309.1L130.8 307.1L126.6 306.3Z" color="#0000ae"/><path d="M130.5 309.1L134.7 309.9L135.1 307.8L130.8 307.1Z" color="#00009d"/><path d="M134.7 309.9L139.0 310.6L139.4 308.6L135.1 307.8Z" color="#000099"/><path d="M139.0 310.6L143.3 311.4L143.6 309.3L139.4 308.6Z" color="#0000a3"/><path d="M143.3 311.4L147.6 312.1L147.9 310.1L143.6 309.3Z" color="#0000ac"/><path d="M96.7 301.0L100.9 301.7L101.3 299.5L97.1 298.7Z" color="#0004ff"/><path d="M100.9 301.7L105.2 302.5L105.6 300.3L101.3 299.5Z" color="#0000f8"/><path d="M105.2 302.5L109.5 303.3L109.9 301.1L105.6 300.3Z" color="#0000ee"/><path d="M109.5 303.3L113.7 304.0L114.1 301.9L109.9 301.1Z" color="#0000e3"/><path d="M113.7 304.0L118.0 304.8L118.4 302.6L114.1 301.9Z" color="#0000d8"/><path d="M118.0 304.8L122.3 305.5L122.7 303.4L118.4 302.6Z" color="#0000ce"/><path d="M122.3 305.5L126.6 306.3L126.9 304.2L122.7 303.4Z" color="#0000c0"/><path d="M126.6 306.3L130.8 307.1L131.2 305.0L126.9 304.2Z" color="#0000af"/><path d="M130.8 307.1L135.1 307.8L135.5 305.8L131.2 305.0Z" color="#00009d"/><path d="M135.1 307.8L139.4 308.6L139.7 306.5L135.5 305.8Z" color="#00009a"/><path d="M139.4 308.6L143.6 309.3L144.0 307.3L139.7 306.5Z" color="#0000a3"/><path d="M143.6 309.3L147.9 310.1L148.3 308.1L144.0 307.3Z" color="#0000ac"/><path d="M97.1 298.7L101.3 299.5L101.8 297.3L97.5 296.5Z" color="#0004ff"/><path d="M101.3 299.5L105.6 300.3L106.0 298.1L101.8 297.3Z" color="#0000f9"/><path d="M105.6 300.3L109.9 301.1L110.3 298.9L106.0 298.1Z" color="#0000ee"/><path d="M109.9 301.1L114.1 301.9L114.6 299.7L110.3 298.9Z" color="#0000e4"/><path d="M114.1 301.9L118.4 302.6L118.8 300.5L114.6 299.7Z" color="#0000d9"/><path d="M118.4 302.6L122.7 303.4L123.1 301.3L118.8 300.5Z" color="#0000cf"/><path d="M122.7 303.4L126.9 304.2L127.3 302.1L123.1 301.3Z" color="#0000c1"/><path d="M126.9 304.2L131.2 305.0L131.6 302.9L127.3 302.1Z" color="#0000af"/><path d="M131.2 305.0L135.5 305.8L135.9 303.7L131.6 302.9Z" color="#00009e"/><path d="M135.5 305.8L139.7 306.5L140.1 304.5L135.9 303.7Z" color="#00009a"/><path d="M139.7 306.5L144.0 307.3L144.4 305.3L140.1 304.5Z" color="#0000a3"/><path d="M144.0 307.3L148.3 308.1L148.6 306.1L144.4 305.3Z" color="#0000ad"/><path d="M97.5 296.5L101.8 297.3L102.2 295.0L97.9 294.2Z" color="#0005ff"/><path d="M101.8 297.3L106.0 298.1L106.5 295.9L102.2 295.0Z" color="#0000f9"/><path d="M106.0 298.1L110.3 298.9L110.7 296.7L106.5 295.9Z" color="#0000ef"/><path d="M110.3 298.9L114.6 299.7L115.0 297.5L110.7 296.7Z" color="#0000e4"/><path d="M114.6 299.7L118.8 300.5L119.2 298.3L115.0 297.5Z" color="#0000da"/><path d="M118.8 300.5L123.1 301.3L123.5 299.2L119.2 298.3Z" color="#0000cf"/><path d="M123.1 301.3L127.3 302.1L127.7 300.0L123.5 299.2Z" color="#0000c1"/><path d="M127.3 302.1L131.6 302.9L132.0 300.8L127.7 300.0Z" color="#0000b0"/><path d="M131.6 302.9L135.9 303.7L136.3 301.6L132.0 300.8Z" color="#00009e"/><path d="M135.9 303.7L140.1 304.5L140.5 302.5L136.3 301.6Z" color="#00009a"/><path d="M140.1 304.5L144.4 305.3L144.8 303.3L140.5 302.5Z" color="#0000a4"/><path d="M144.4 305.3L148.6 306.1L149.0 304.1L144.8 303.3Z" color="#0000ad"/><path d="M97.9 294.2L102.2 295.0L102.6 292.8L98.4 292.0Z" color="#0005ff"/><path d="M102.2 295.0L106.5 295.9L106.9 293.7L102.6 292.8Z" color="#0000fa"/><path d="M106.5 295.9L110.7 296.7L111.1 294.5L106.9 293.7Z" color="#0000ef"/><path d="M110.7 296.7L115.0 297.5L115.4 295.4L111.1 294.5Z" color="#0000e5"/><path d="M115.0 297.5L119.2 298.3L119.6 296.2L115.4 295.4Z" color="#0000da"/><path d="M119.2 298.3L123.5 299.2L123.9 297.0L119.6 296.2Z" color="#0000cf"/><path d="M123.5 299.2L127.7 300.0L128.2 297.9L123.9 297.0Z" color="#0000c1"/><path d="M127.7 300.0L132.0 300.8L132.4 298.7L128.2 297.9Z" color="#0000b0"/><path d="M132.0 300.8L136.3 301.6L136.7 299.6L132.4 298.7Z" color="#00009e"/><path d="M136.3 301.6L140.5 302.5L140.9 300.4L136.7 299.6Z" color="#00009b"/><path d="M140.5 302.5L144.8 303.3L145.2 301.3L140.9 300.4Z" color="#0000a4"/><path d="M144.8 303.3L149.0 304.1L149.4 302.1L145.2 301.3Z" color="#0000ae"/><path d="M98.4 292.0L102.6 292.8L103.1 290.6L98.8 289.7Z" color="#0006ff"/><path d="M102.6 292.8L106.9 293.7L107.3 291.5L103.1 290.6Z" color="#0000fa"/><path d="M106.9 293.7L111.1 294.5L111.6 292.3L107.3 291.5Z" color="#0000f0"/><path d="M111.1 294.5L115.4 295.4L115.8 293.2L111.6 292.3Z" color="#0000e5"/><path d="M115.4 295.4L119.6 296.2L120.1 294.1L115.8 293.2Z" color="#0000da"/><path d="M119.6 296.2L123.9 297.0L124.3 294.9L120.1 294.1Z" color="#0000d0"/><path d="M123.9 297.0L128.2 297.9L128.6 295.8L124.3 294.9Z" color="#0000c1"/><path d="M128.2 297.9L132.4 298.7L132.8 296.7L128.6 295.8Z" color="#0000b0"/><path d="M132.4 298.7L136.7 299.6L137.1 297.5L132.8 296.7Z" color="#00009e"/><path d="M136.7 299.6L140.9 300.4L141.3 298.4L137.1 297.5Z" color="#00009b"/><path d="M140.9 300.4L145.2 301.3L145.6 299.3L141.3 298.4Z" color="#0000a4"/><path d="M145.2 301.3L149.4 302.1L149.8 300.1L145.6 299.3Z" color="#0000ae"/><path d="M98.8 289.7L103.1 290.6L103.5 288.4L99.3 287.5Z" color="#0007ff"/><path d="M103.1 290.6L107.3 291.5L107.8 289.3L103.5 288.4Z" color="#0000fb"/><path d="M107.3 291.5L111.6 292.3L112.0 290.2L107.8 289.3Z" color="#0000f0"/><path d="M111.6 292.3L115.8 293.2L116.3 291.0L112.0 290.2Z" color="#0000e5"/><path d="M115.8 293.2L120.1 294.1L120.5 291.9L116.3 291.0Z" color="#0000db"/><path d="M120.1 294.1L124.3 294.9L124.8 292.8L120.5 291.9Z" color="#0000d0"/><path d="M124.3 294.9L128.6 295.8L129.0 293.7L124.8 292.8Z" color="#0000c2"/><path d="M128.6 295.8L132.8 296.7L133.3 294.6L129.0 293.7Z" color="#0000b0"/><path d="M132.8 296.7L137.1 297.5L137.5 295.5L133.3 294.6Z" color="#00009e"/><path d="M137.1 297.5L141.3 298.4L141.8 296.4L137.5 295.5Z" color="#00009a"/><path d="M141.3 298.4L145.6 299.3L146.0 297.3L141.8 296.4Z" color="#0000a4"/><path d="M145.6 299.3L149.8 300.1L150.2 298.1L146.0 297.3Z" color="#0000ae"/><path d="M99.3 287.5L103.5 288.4L104.0 286.2L99.8 285.3Z" color="#0007ff"/><path d="M103.5 288.4L107.8 289.3L108.3 287.1L104.0 286.2Z" color="#0000fb"/><path d="M107.8 289.3L112.0 290.2L112.5 288.0L108.3 287.1Z" color="#0000f1"/><path d="M112.0 290.2L116.3 291.0L116.7 288.9L112.5 288.0Z" color="#0000e6"/><path d="M116.3 291.0L120.5 291.9L121.0 289.8L116.7 288.9Z" color="#0000db"/><path d="M120.5 291.9L124.8 292.8L125.2 290.7L121.0 289.8Z" color="#0000d0"/><path d="M124.8 292.8L129.0 293.7L129.5 291.6L125.2 290.7Z" color="#0000c2"/><path d="M129.0 293.7L133.3 294.6L133.7 292.5L129.5 291.6Z" color="#0000b0"/><path d="M133.3 294.6L137.5 295.5L137.9 293.4L133.7 292.5Z" color="#00009e"/><path d="M137.5 295.5L141.8 296.4L142.2 294.3L137.9 293.4Z" color="#00009a"/><path d="M141.8 296.4L146.0 297.3L146.4 295.2L142.2 294.3Z" color="#0000a4"/><path d="M146.0 297.3L150.2 298.1L150.7 296.1L146.4 295.2Z" color="#0000ae"/><path d="M99.8 285.3L104.0 286.2L104.5 284.0L100.3 283.0Z" color="#0008ff"/><path d="M104.0 286.2L108.3 287.1L108.7 284.9L104.5 284.0Z" color="#0000fc"/><path d="M108.3 287.1L112.5 288.0L113.0 285.8L108.7 284.9Z" color="#0000f1"/><path d="M112.5 288.0L116.7 288.9L117.2 286.7L113.0 285.8Z" color="#0000e6"/><path d="M116.7 288.9L121.0 289.8L121.4 287.7L117.2 286.7Z" color="#0000db"/><path d="M121.0 289.8L125.2 290.7L125.7 288.6L121.4 287.7Z" color="#0000d0"/><path d="M125.2 290.7L129.5 291.6L129.9 289.5L125.7 288.6Z" color="#0000c2"/><path d="M129.5 291.6L133.7 292.5L134.2 290.4L129.9 289.5Z" color="#0000b0"/><path d="M133.7 292.5L137.9 293.4L138.4 291.4L134.2 290.4Z" color="#00009e"/><path d="M137.9 293.4L142.2 294.3L142.6 292.3L138.4 291.4Z" color="#00009a"/><path d="M142.2 294.3L146.4 295.2L146.9 293.2L142.6 292.3Z" color="#0000a4"/><path d="M146.4 295.2L150.7 296.1L151.1 294.2L146.9 293.2Z" color="#0000ae"/><path d="M100.3 283.0L104.5 284.0L105.0 281.7L100.8 280.8Z" color="#0008ff"/><path d="M104.5 284.0L108.7 284.9L109.2 282.7L105.0 281.7Z" color="#0000fc"/><path d="M108.7 284.9L113.0 285.8L113.5 283.6L109.2 282.7Z" color="#0000f1"/><path d="M113.0 285.8L117.2 286.7L117.7 284.6L113.5 283.6Z" color="#0000e6"/><path d="M117.2 286.7L121.4 287.7L121.9 285.5L117.7 284.6Z" color="#0000db"/><path d="M121.4 287.7L125.7 288.6L126.2 286.5L121.9 285.5Z" color="#0000d0"/><path d="M125.7 288.6L129.9 289.5L130.4 287.4L126.2 286.5Z" color="#0000c2"/><path d="M129.9 289.5L134.2 290.4L134.6 288.4L130.4 287.4Z" color="#0000b0"/><path d="M134.2 290.4L138.4 291.4L138.9 289.3L134.6 288.4Z" color="#00009e"/><path d="M138.4 291.4L142.6 292.3L143.1 290.3L138.9 289.3Z" color="#00009a"/><path d="M142.6 292.3L146.9 293.2L147.3 291.2L143.1 290.3Z" color="#0000a4"/><path d="M146.9 293.2L151.1 294.2L151.5 292.2L147.3 291.2Z" color="#0000ae"/><path d="M100.8 280.8L105.0 281.7L105.5 279.5L101.3 278.6Z" color="#0009ff"/><path d="M105.0 281.7L109.2 282.7L109.7 280.5L105.5 279.5Z" color="#0000fd"/><path d="M109.2 282.7L113.5 283.6L114.0 281.5L109.7 280.5Z" color="#0000f2"/><path d="M113.5 283.6L117.7 284.6L118.2 282.4L114.0 281.5Z" color="#0000e7"/><path d="M117.7 284.6L121.9 285.5L122.4 283.4L118.2 282.4Z" color="#0000dc"/><path d="M121.9 285.5L126.2 286.5L126.6 284.4L122.4 283.4Z" color="#0000d1"/><path d="M126.2 286.5L130.4 287.4L130.9 285.3L126.6 284.4Z" color="#0000c2"/><path d="M130.4 287.4L134.6 288.4L135.1 286.3L130.9 285.3Z" color="#0000b0"/><path d="M134.6 288.4L138.9 289.3L139.3 287.3L135.1 286.3Z" color="#00009e"/><path d="M138.9 289.3L143.1 290.3L143.5 288.2L139.3 287.3Z" color="#00009a"/><path d="M143.1 290.3L147.3 291.2L147.8 289.2L143.5 288.2Z" color="#0000a4"/><path d="M147.3 291.2L151.5 292.2L152.0 290.2L147.8 289.2Z" color="#0000ae"/><path d="M101.3 278.6L105.5 279.5L106.0 277.3L101.8 276.3Z" color="#000aff"/><path d="M105.5 279.5L109.7 280.5L110.2 278.3L106.0 277.3Z" color="#0000fd"/><path d="M109.7 280.5L114.0 281.5L114.5 279.3L110.2 278.3Z" color="#0000f2"/><path d="M114.0 281.5L118.2 282.4L118.7 280.3L114.5 279.3Z" color="#0000e7"/><path d="M118.2 282.4L122.4 283.4L122.9 281.3L118.7 280.3Z" color="#0000dc"/><path d="M122.4 283.4L126.6 284.4L127.1 282.3L122.9 281.3Z" color="#0000d1"/><path d="M126.6 284.4L130.9 285.3L131.3 283.3L127.1 282.3Z" color="#0000c2"/><path d="M130.9 285.3L135.1 286.3L135.6 284.2L131.3 283.3Z" color="#0000b0"/><path d="M135.1 286.3L139.3 287.3L139.8 285.2L135.6 284.2Z" color="#00009e"/><path d="M139.3 287.3L143.5 288.2L144.0 286.2L139.8 285.2Z" color="#00009a"/><path d="M143.5 288.2L147.8 289.2L148.2 287.2L144.0 286.2Z" color="#0000a4"/><path d="M147.8 289.2L152.0 290.2L152.5 288.2L148.2 287.2Z" color="#0000ae"/><path d="M101.8 276.3L106.0 277.3L106.5 275.1L102.3 274.1Z" color="#000aff"/><path d="M106.0 277.3L110.2 278.3L110.8 276.1L106.5 275.1Z" color="#0000fe"/><path d="M110.2 278.3L114.5 279.3L115.0 277.2L110.8 276.1Z" color="#0000f3"/><path d="M114.5 279.3L118.7 280.3L119.2 278.2L115.0 277.2Z" color="#0000e8"/><path d="M118.7 280.3L122.9 281.3L123.4 279.2L119.2 278.2Z" color="#0000dc"/><path d="M122.9 281.3L127.1 282.3L127.6 280.2L123.4 279.2Z" color="#0000d1"/><path d="M127.1 282.3L131.3 283.3L131.8 281.2L127.6 280.2Z" color="#0000c2"/><path d="M131.3 283.3L135.6 284.2L136.1 282.2L131.8 281.2Z" color="#0000b0"/><path d="M135.6 284.2L139.8 285.2L140.3 283.2L136.1 282.2Z" color="#00009e"/><path d="M139.8 285.2L144.0 286.2L144.5 284.2L140.3 283.2Z" color="#00009a"/><path d="M144.0 286.2L148.2 287.2L148.7 285.2L144.5 284.2Z" color="#0000a4"/><path d="M148.2 287.2L152.5 288.2L152.9 286.2L148.7 285.2Z" color="#0000ae"/><path d="M102.3 274.1L106.5 275.1L107.1 272.9L102.9 271.9Z" color="#000bff"/><path d="M106.5 275.1L110.8 276.1L111.3 274.0L107.1 272.9Z" color="#0000ff"/><path d="M110.8 276.1L115.0 277.2L115.5 275.0L111.3 274.0Z" color="#0000f3"/><path d="M115.0 277.2L119.2 278.2L119.7 276.0L115.5 275.0Z" color="#0000e8"/><path d="M119.2 278.2L123.4 279.2L123.9 277.0L119.7 276.0Z" color="#0000dd"/><path d="M123.4 279.2L127.6 280.2L128.1 278.1L123.9 277.0Z" color="#0000d1"/><path d="M127.6 280.2L131.8 281.2L132.3 279.1L128.1 278.1Z" color="#0000c3"/><path d="M131.8 281.2L136.1 282.2L136.6 280.1L132.3 279.1Z" color="#0000b0"/><path d="M136.1 282.2L140.3 283.2L140.8 281.1L136.6 280.1Z" color="#00009e"/><path d="M140.3 283.2L144.5 284.2L145.0 282.2L140.8 281.1Z" color="#000099"/><path d="M144.5 284.2L148.7 285.2L149.2 283.2L145.0 282.2Z" color="#0000a4"/><path d="M148.7 285.2L152.9 286.2L153.4 284.2L149.2 283.2Z" color="#0000ae"/><path d="M102.9 271.9L107.1 272.9L107.6 270.8L103.4 269.7Z" color="#000bff"/><path d="M107.1 272.9L111.3 274.0L111.8 271.8L107.6 270.8Z" color="#0000ff"/><path d="M111.3 274.0L115.5 275.0L116.0 272.8L111.8 271.8Z" color="#0000f4"/><path d="M115.5 275.0L119.7 276.0L120.2 273.9L116.0 272.8Z" color="#0000e8"/><path d="M119.7 276.0L123.9 277.0L124.4 274.9L120.2 273.9Z" color="#0000dd"/><path d="M123.9 277.0L128.1 278.1L128.7 276.0L124.4 274.9Z" color="#0000d2"/><path d="M128.1 278.1L132.3 279.1L132.9 277.0L128.7 276.0Z" color="#0000c3"/><path d="M132.3 279.1L136.6 280.1L137.1 278.1L132.9 277.0Z" color="#0000b0"/><path d="M136.6 280.1L140.8 281.1L141.3 279.1L137.1 278.1Z" color="#00009d"/><path d="M140.8 281.1L145.0 282.2L145.5 280.1L141.3 279.1Z" color="#000099"/><path d="M145.0 282.2L149.2 283.2L149.7 281.2L145.5 280.1Z" color="#0000a4"/><path d="M149.2 283.2L153.4 284.2L153.9 282.2L149.7 281.2Z" color="#0000ae"/><path d="M103.4 269.7L107.6 270.8L108.2 268.6L104.0 267.5Z" color="#000cff"/><path d="M107.6 270.8L111.8 271.8L112.4 269.6L108.2 268.6Z" color="#0001ff"/><path d="M111.8 271.8L116.0 272.8L116.6 270.7L112.4 269.6Z" color="#0000f4"/><path d="M116.0 272.8L120.2 273.9L120.8 271.8L116.6 270.7Z" color="#0000e9"/><path d="M120.2 273.9L124.4 274.9L125.0 272.8L120.8 271.8Z" color="#0000dd"/><path d="M124.4 274.9L128.7 276.0L129.2 273.9L125.0 272.8Z" color="#0000d2"/><path d="M128.7 276.0L132.9 277.0L133.4 274.9L129.2 273.9Z" color="#0000c3"/><path d="M132.9 277.0L137.1 278.1L137.6 276.0L133.4 274.9Z" color="#0000b0"/><path d="M137.1 278.1L141.3 279.1L141.8 277.1L137.6 276.0Z" color="#00009d"/><path d="M141.3 279.1L145.5 280.1L146.0 278.1L141.8 277.1Z" color="#000099"/><path d="M145.5 280.1L149.7 281.2L150.2 279.2L146.0 278.1Z" color="#0000a4"/><path d="M149.7 281.2L153.9 282.2L154.4 280.2L150.2 279.2Z" color="#0000ae"/><path d="M104.0 267.5L108.2 268.6L108.7 266.4L104.5 265.3Z" color="#000dff"/><path d="M108.2 268.6L112.4 269.6L112.9 267.5L108.7 266.4Z" color="#0001ff"/><path d="M112.4 269.6L116.6 270.7L117.1 268.5L112.9 267.5Z" color="#0000f5"/><path d="M116.6 270.7L120.8 271.8L121.3 269.6L117.1 268.5Z" color="#0000e9"/><path d="M120.8 271.8L125.0 272.8L125.5 270.7L121.3 269.6Z" color="#0000de"/><path d="M125.0 272.8L129.2 273.9L129.7 271.8L125.5 270.7Z" color="#0000d2"/><path d="M129.2 273.9L133.4 274.9L133.9 272.9L129.7 271.8Z" color="#0000c3"/><path d="M133.4 274.9L137.6 276.0L138.1 273.9L133.9 272.9Z" color="#0000b0"/><path d="M137.6 276.0L141.8 277.1L142.3 275.0L138.1 273.9Z" color="#00009d"/><path d="M141.8 277.1L146.0 278.1L146.5 276.1L142.3 275.0Z" color="#000099"/><path d="M146.0 278.1L150.2 279.2L150.7 277.2L146.5 276.1Z" color="#0000a4"/><path d="M150.2 279.2L154.4 280.2L154.9 278.3L150.7 277.2Z" color="#0000ae"/><path d="M104.5 265.3L108.7 266.4L109.3 264.2L105.1 263.1Z" color="#000eff"/><path d="M108.7 266.4L112.9 267.5L113.5 265.3L109.3 264.2Z" color="#0002ff"/><path d="M112.9 267.5L117.1 268.5L117.7 266.4L113.5 265.3Z" color="#0000f5"/><path d="M117.1 268.5L121.3 269.6L121.9 267.5L117.7 266.4Z" color="#0000ea"/><path d="M121.3 269.6L125.5 270.7L126.1 268.6L121.9 267.5Z" color="#0000de"/><path d="M125.5 270.7L129.7 271.8L130.3 269.7L126.1 268.6Z" color="#0000d2"/><path d="M129.7 271.8L133.9 272.9L134.5 270.8L130.3 269.7Z" color="#0000c3"/><path d="M133.9 272.9L138.1 273.9L138.7 271.9L134.5 270.8Z" color="#0000b0"/><path d="M138.1 273.9L142.3 275.0L142.9 273.0L138.7 271.9Z" color="#00009d"/><path d="M142.3 275.0L146.5 276.1L147.0 274.1L142.9 273.0Z" color="#000099"/><path d="M146.5 276.1L150.7 277.2L151.2 275.2L147.0 274.1Z" color="#0000a4"/><path d="M150.7 277.2L154.9 278.3L155.4 276.3L151.2 275.2Z" color="#0000ae"/><path d="M105.1 263.1L109.3 264.2L109.9 262.0L105.7 260.9Z" color="#0010ff"/><path d="M109.3 264.2L113.5 265.3L114.1 263.1L109.9 262.0Z" color="#0004ff"/><path d="M113.5 265.3L117.7 266.4L118.3 264.3L114.1 263.1Z" color="#0000f7"/><path d="M117.7 266.4L121.9 267.5L122.4 265.4L118.3 264.3Z" color="#0000ea"/><path d="M121.9 267.5L126.1 268.6L126.6 266.5L122.4 265.4Z" color="#0000de"/><path d="M126.1 268.6L130.3 269.7L130.8 267.6L126.6 266.5Z" color="#0000d3"/><path d="M130.3 269.7L134.5 270.8L135.0 268.7L130.8 267.6Z" color="#0000c3"/><path d="M134.5 270.8L138.7 271.9L139.2 269.8L135.0 268.7Z" color="#0000b0"/><path d="M138.7 271.9L142.9 273.0L143.4 271.0L139.2 269.8Z" color="#00009d"/><path d="M142.9 273.0L147.0 274.1L147.6 272.1L143.4 271.0Z" color="#000099"/><path d="M147.0 274.1L151.2 275.2L151.8 273.2L147.6 272.1Z" color="#0000a4"/><path d="M151.2 275.2L155.4 276.3L156.0 274.3L151.8 273.2Z" color="#0000ae"/><path d="M105.7 260.9L109.9 262.0L110.5 259.8L106.3 258.7Z" color="#0012ff"/><path d="M109.9 262.0L114.1 263.1L114.6 261.0L110.5 259.8Z" color="#0005ff"/><path d="M114.1 263.1L118.3 264.3L118.8 262.1L114.6 261.0Z" color="#0000f8"/><path d="M118.3 264.3L122.4 265.4L123.0 263.2L118.8 262.1Z" color="#0000ec"/><path d="M122.4 265.4L126.6 266.5L127.2 264.4L123.0 263.2Z" color="#0000df"/><path d="M126.6 266.5L130.8 267.6L131.4 265.5L127.2 264.4Z" color="#0000d3"/><path d="M130.8 267.6L135.0 268.7L135.6 266.7L131.4 265.5Z" color="#0000c4"/><path d="M135.0 268.7L139.2 269.8L139.8 267.8L135.6 266.7Z" color="#0000b0"/><path d="M139.2 269.8L143.4 271.0L143.9 268.9L139.8 267.8Z" color="#00009d"/><path d="M143.4 271.0L147.6 272.1L148.1 270.1L143.9 268.9Z" color="#000099"/><path d="M147.6 272.1L151.8 273.2L152.3 271.2L148.1 270.1Z" color="#0000a4"/><path d="M151.8 273.2L156.0 274.3L156.5 272.3L152.3 271.2Z" color="#0000af"/><path d="M106.3 258.7L110.5 259.8L111.1 257.7L106.9 256.5Z" color="#0013ff"/><path d="M110.5 259.8L114.6 261.0L115.2 258.8L111.1 257.7Z" color="#0007ff"/><path d="M114.6 261.0L118.8 262.1L119.4 260.0L115.2 258.8Z" color="#0000f9"/><path d="M118.8 262.1L123.0 263.2L123.6 261.1L119.4 260.0Z" color="#0000ed"/><path d="M123.0 263.2L127.2 264.4L127.8 262.3L123.6 261.1Z" color="#0000e1"/><path d="M127.2 264.4L131.4 265.5L132.0 263.4L127.8 262.3Z" color="#0000d5"/><path d="M131.4 265.5L135.6 266.7L136.1 264.6L132.0 263.4Z" color="#0000c5"/><path d="M135.6 266.7L139.8 267.8L140.3 265.7L136.1 264.6Z" color="#0000b1"/><path d="M139.8 267.8L143.9 268.9L144.5 266.9L140.3 265.7Z" color="#00009e"/><path d="M143.9 268.9L148.1 270.1L148.7 268.0L144.5 266.9Z" color="#00009a"/><path d="M148.1 270.1L152.3 271.2L152.9 269.2L148.7 268.0Z" color="#0000a5"/><path d="M152.3 271.2L156.5 272.3L157.0 270.3L152.9 269.2Z" color="#0000af"/><path d="M106.9 256.5L111.1 257.7L111.7 255.5L107.5 254.3Z" color="#0014ff"/><path d="M111.1 257.7L115.2 258.8L115.8 256.7L111.7 255.5Z" color="#0008ff"/><path d="M115.2 258.8L119.4 260.0L120.0 257.8L115.8 256.7Z" color="#0000fb"/><path d="M119.4 260.0L123.6 261.1L124.2 259.0L120.0 257.8Z" color="#0000ef"/><path d="M123.6 261.1L127.8 262.3L128.4 260.2L124.2 259.0Z" color="#0000e2"/><path d="M127.8 262.3L132.0 263.4L132.5 261.4L128.4 260.2Z" color="#0000d6"/><path d="M132.0 263.4L136.1 264.6L136.7 262.5L132.5 261.4Z" color="#0000c7"/><path d="M136.1 264.6L140.3 265.7L140.9 263.7L136.7 262.5Z" color="#0000b3"/><path d="M140.3 265.7L144.5 266.9L145.1 264.9L140.9 263.7Z" color="#0000a0"/><path d="M144.5 266.9L148.7 268.0L149.2 266.0L145.1 264.9Z" color="#00009b"/><path d="M148.7 268.0L152.9 269.2L153.4 267.2L149.2 266.0Z" color="#0000a5"/><path d="M152.9 269.2L157.0 270.3L157.6 268.4L153.4 267.2Z" color="#0000b0"/><path d="M107.5 254.3L111.7 255.5L112.3 253.3L108.1 252.2Z" color="#0015ff"/><path d="M111.7 255.5L115.8 256.7L116.5 254.5L112.3 253.3Z" color="#0009ff"/><path d="M115.8 256.7L120.0 257.8L120.6 255.7L116.5 254.5Z" color="#0000fc"/><path d="M120.0 257.8L124.2 259.0L124.8 256.9L120.6 255.7Z" color="#0000f0"/><path d="M124.2 259.0L128.4 260.2L129.0 258.1L124.8 256.9Z" color="#0000e4"/><path d="M128.4 260.2L132.5 261.4L133.1 259.3L129.0 258.1Z" color="#0000d8"/><path d="M132.5 261.4L136.7 262.5L137.3 260.5L133.1 259.3Z" color="#0000c8"/><path d="M136.7 262.5L140.9 263.7L141.5 261.6L137.3 260.5Z" color="#0000b5"/><path d="M140.9 263.7L145.1 264.9L145.6 262.8L141.5 261.6Z" color="#0000a2"/><path d="M145.1 264.9L149.2 266.0L149.8 264.0L145.6 262.8Z" color="#00009d"/><path d="M149.2 266.0L153.4 267.2L154.0 265.2L149.8 264.0Z" color="#0000a7"/><path d="M153.4 267.2L157.6 268.4L158.2 266.4L154.0 265.2Z" color="#0000b1"/><path d="M108.1 252.2L112.3 253.3L112.9 251.2L108.7 250.0Z" color="#0016ff"/><path d="M112.3 253.3L116.5 254.5L117.1 252.4L112.9 251.2Z" color="#000aff"/><path d="M116.5 254.5L120.6 255.7L121.2 253.6L117.1 252.4Z" color="#0000fd"/><path d="M120.6 255.7L124.8 256.9L125.4 254.8L121.2 253.6Z" color="#0000f1"/><path d="M124.8 256.9L129.0 258.1L129.6 256.0L125.4 254.8Z" color="#0000e5"/><path d="M129.0 258.1L133.1 259.3L133.7 257.2L129.6 256.0Z" color="#0000da"/><path d="M133.1 259.3L137.3 260.5L137.9 258.4L133.7 257.2Z" color="#0000ca"/><path d="M137.3 260.5L141.5 261.6L142.1 259.6L137.9 258.4Z" color="#0000b7"/><path d="M141.5 261.6L145.6 262.8L146.2 260.8L142.1 259.6Z" color="#0000a4"/><path d="M145.6 262.8L149.8 264.0L150.4 262.0L146.2 260.8Z" color="#00009f"/><path d="M149.8 264.0L154.0 265.2L154.6 263.2L150.4 262.0Z" color="#0000a9"/><path d="M154.0 265.2L158.2 266.4L158.7 264.4L154.6 263.2Z" color="#0000b2"/><path d="M108.7 250.0L112.9 251.2L113.5 249.0L109.4 247.8Z" color="#0017ff"/><path d="M112.9 251.2L117.1 252.4L117.7 250.2L113.5 249.0Z" color="#000bff"/><path d="M117.1 252.4L121.2 253.6L121.9 251.5L117.7 250.2Z" color="#0000ff"/><path d="M121.2 253.6L125.4 254.8L126.0 252.7L121.9 251.5Z" color="#0000f3"/><path d="M125.4 254.8L129.6 256.0L130.2 253.9L126.0 252.7Z" color="#0000e7"/><path d="M129.6 256.0L133.7 257.2L134.3 255.1L130.2 253.9Z" color="#0000db"/><path d="M133.7 257.2L137.9 258.4L138.5 256.3L134.3 255.1Z" color="#0000cc"/><path d="M137.9 258.4L142.1 259.6L142.7 257.6L138.5 256.3Z" color="#0000b9"/><path d="M142.1 259.6L146.2 260.8L146.8 258.8L142.7 257.6Z" color="#0000a6"/><path d="M146.2 260.8L150.4 262.0L151.0 260.0L146.8 258.8Z" color="#0000a2"/><path d="M150.4 262.0L154.6 263.2L155.1 261.2L151.0 260.0Z" color="#0000ab"/><path d="M154.6 263.2L158.7 264.4L159.3 262.4L155.1 261.2Z" color="#0000b4"/><path d="M109.4 247.8L113.5 249.0L114.2 246.9L110.0 245.6Z" color="#0018ff"/><path d="M113.5 249.0L117.7 250.2L118.3 248.1L114.2 246.9Z" color="#000cff"/><path d="M117.7 250.2L121.9 251.5L122.5 249.3L118.3 248.1Z" color="#0001ff"/><path d="M121.9 251.5L126.0 252.7L126.6 250.6L122.5 249.3Z" color="#0000f4"/><path d="M126.0 252.7L130.2 253.9L130.8 251.8L126.6 250.6Z" color="#0000e8"/><path d="M130.2 253.9L134.3 255.1L135.0 253.1L130.8 251.8Z" color="#0000dd"/><path d="M134.3 255.1L138.5 256.3L139.1 254.3L135.0 253.1Z" color="#0000ce"/><path d="M138.5 256.3L142.7 257.6L143.3 255.5L139.1 254.3Z" color="#0000bb"/><path d="M142.7 257.6L146.8 258.8L147.4 256.8L143.3 255.5Z" color="#0000a9"/><path d="M146.8 258.8L151.0 260.0L151.6 258.0L147.4 256.8Z" color="#0000a4"/><path d="M151.0 260.0L155.1 261.2L155.7 259.2L151.6 258.0Z" color="#0000ad"/><path d="M155.1 261.2L159.3 262.4L159.9 260.5L155.7 259.2Z" color="#0000b6"/><path d="M110.0 245.6L114.2 246.9L114.8 244.7L110.7 243.5Z" color="#0019ff"/><path d="M114.2 246.9L118.3 248.1L119.0 246.0L114.8 244.7Z" color="#000eff"/><path d="M118.3 248.1L122.5 249.3L123.1 247.2L119.0 246.0Z" color="#0002ff"/><path d="M122.5 249.3L126.6 250.6L127.3 248.5L123.1 247.2Z" color="#0000f6"/><path d="M126.6 250.6L130.8 251.8L131.4 249.7L127.3 248.5Z" color="#0000ea"/><path d="M130.8 251.8L135.0 253.1L135.6 251.0L131.4 249.7Z" color="#0000de"/><path d="M135.0 253.1L139.1 254.3L139.7 252.2L135.6 251.0Z" color="#0000cf"/><path d="M139.1 254.3L143.3 255.5L143.9 253.5L139.7 252.2Z" color="#0000bd"/><path d="M143.3 255.5L147.4 256.8L148.0 254.7L143.9 253.5Z" color="#0000ab"/><path d="M147.4 256.8L151.6 258.0L152.2 256.0L148.0 254.7Z" color="#0000a6"/><path d="M151.6 258.0L155.7 259.2L156.3 257.2L152.2 256.0Z" color="#0000af"/><path d="M155.7 259.2L159.9 260.5L160.5 258.5L156.3 257.2Z" color="#0000b8"/><path d="M110.7 243.5L114.8 244.7L115.5 242.6L111.3 241.3Z" color="#001aff"/><path d="M114.8 244.7L119.0 246.0L119.6 243.8L115.5 242.6Z" color="#000fff"/><path d="M119.0 246.0L123.1 247.2L123.8 245.1L119.6 243.8Z" color="#0003ff"/><path d="M123.1 247.2L127.3 248.5L127.9 246.4L123.8 245.1Z" color="#0000f7"/><path d="M127.3 248.5L131.4 249.7L132.1 247.6L127.9 246.4Z" color="#0000eb"/><path d="M131.4 249.7L135.6 251.0L136.2 248.9L132.1 247.6Z" color="#0000e0"/><path d="M135.6 251.0L139.7 252.2L140.4 250.2L136.2 248.9Z" color="#0000d1"/><path d="M139.7 252.2L143.9 253.5L144.5 251.5L140.4 250.2Z" color="#0000bf"/><path d="M143.9 253.5L148.0 254.7L148.7 252.7L144.5 251.5Z" color="#0000ad"/><path d="M148.0 254.7L152.2 256.0L152.8 254.0L148.7 252.7Z" color="#0000a8"/><path d="M152.2 256.0L156.3 257.2L156.9 255.3L152.8 254.0Z" color="#0000b1"/><path d="M156.3 257.2L160.5 258.5L161.1 256.5L156.9 255.3Z" color="#0000ba"/><path d="M111.3 241.3L115.5 242.6L116.1 240.4L112.0 239.1Z" color="#001bff"/><path d="M115.5 242.6L119.6 243.8L120.3 241.7L116.1 240.4Z" color="#0010ff"/><path d="M119.6 243.8L123.8 245.1L124.4 243.0L120.3 241.7Z" color="#0005ff"/><path d="M123.8 245.1L127.9 246.4L128.6 244.3L124.4 243.0Z" color="#0000f8"/><path d="M127.9 246.4L132.1 247.6L132.7 245.6L128.6 244.3Z" color="#0000ed"/><path d="M132.1 247.6L136.2 248.9L136.9 246.9L132.7 245.6Z" color="#0000e2"/><path d="M136.2 248.9L140.4 250.2L141.0 248.1L136.9 246.9Z" color="#0000d3"/><path d="M140.4 250.2L144.5 251.5L145.1 249.4L141.0 248.1Z" color="#0000c1"/><path d="M144.5 251.5L148.7 252.7L149.3 250.7L145.1 249.4Z" color="#0000af"/><path d="M148.7 252.7L152.8 254.0L153.4 252.0L149.3 250.7Z" color="#0000aa"/><path d="M152.8 254.0L156.9 255.3L157.6 253.3L153.4 252.0Z" color="#0000b3"/><path d="M156.9 255.3L161.1 256.5L161.7 254.6L157.6 253.3Z" color="#0000bc"/><path d="M112.0 239.1L116.1 240.4L116.8 238.3L112.7 237.0Z" color="#001cff"/><path d="M116.1 240.4L120.3 241.7L121.0 239.6L116.8 238.3Z" color="#0011ff"/><path d="M120.3 241.7L124.4 243.0L125.1 240.9L121.0 239.6Z" color="#0006ff"/><path d="M124.4 243.0L128.6 244.3L129.2 242.2L125.1 240.9Z" color="#0000fa"/><path d="M128.6 244.3L132.7 245.6L133.4 243.5L129.2 242.2Z" color="#0000ee"/><path d="M132.7 245.6L136.9 246.9L137.5 244.8L133.4 243.5Z" color="#0000e3"/><path d="M136.9 246.9L141.0 248.1L141.6 246.1L137.5 244.8Z" color="#0000d5"/><path d="M141.0 248.1L145.1 249.4L145.8 247.4L141.6 246.1Z" color="#0000c3"/><path d="M145.1 249.4L149.3 250.7L149.9 248.7L145.8 247.4Z" color="#0000b1"/><path d="M149.3 250.7L153.4 252.0L154.1 250.0L149.9 248.7Z" color="#0000ad"/><path d="M153.4 252.0L157.6 253.3L158.2 251.3L154.1 250.0Z" color="#0000b5"/><path d="M157.6 253.3L161.7 254.6L162.3 252.6L158.2 251.3Z" color="#0000be"/><path d="M112.7 237.0L116.8 238.3L117.5 236.2L113.4 234.8Z" color="#001dff"/><path d="M116.8 238.3L121.0 239.6L121.6 237.5L117.5 236.2Z" color="#0012ff"/><path d="M121.0 239.6L125.1 240.9L125.8 238.8L121.6 237.5Z" color="#0007ff"/><path d="M125.1 240.9L129.2 242.2L129.9 240.1L125.8 238.8Z" color="#0000fb"/><path d="M129.2 242.2L133.4 243.5L134.0 241.4L129.9 240.1Z" color="#0000f0"/><path d="M133.4 243.5L137.5 244.8L138.2 242.7L134.0 241.4Z" color="#0000e5"/><path d="M137.5 244.8L141.6 246.1L142.3 244.0L138.2 242.7Z" color="#0000d7"/><path d="M141.6 246.1L145.8 247.4L146.4 245.4L142.3 244.0Z" color="#0000c5"/><path d="M145.8 247.4L149.9 248.7L150.6 246.7L146.4 245.4Z" color="#0000b3"/><path d="M149.9 248.7L154.1 250.0L154.7 248.0L150.6 246.7Z" color="#0000af"/><path d="M154.1 250.0L158.2 251.3L158.8 249.3L154.7 248.0Z" color="#0000b7"/><path d="M158.2 251.3L162.3 252.6L163.0 250.6L158.8 249.3Z" color="#0000c0"/><path d="M113.4 234.8L117.5 236.2L118.2 234.0L114.1 232.7Z" color="#001eff"/><path d="M117.5 236.2L121.6 237.5L122.3 235.4L118.2 234.0Z" color="#0013ff"/><path d="M121.6 237.5L125.8 238.8L126.4 236.7L122.3 235.4Z" color="#0008ff"/><path d="M125.8 238.8L129.9 240.1L130.6 238.0L126.4 236.7Z" color="#0000fc"/><path d="M129.9 240.1L134.0 241.4L134.7 239.3L130.6 238.0Z" color="#0000f1"/><path d="M134.0 241.4L138.2 242.7L138.8 240.7L134.7 239.3Z" color="#0000e7"/><path d="M138.2 242.7L142.3 244.0L143.0 242.0L138.8 240.7Z" color="#0000d8"/><path d="M142.3 244.0L146.4 245.4L147.1 243.3L143.0 242.0Z" color="#0000c7"/><path d="M146.4 245.4L150.6 246.7L151.2 244.7L147.1 243.3Z" color="#0000b6"/><path d="M150.6 246.7L154.7 248.0L155.3 246.0L151.2 244.7Z" color="#0000b1"/><path d="M154.7 248.0L158.8 249.3L159.5 247.3L155.3 246.0Z" color="#0000b9"/><path d="M158.8 249.3L163.0 250.6L163.6 248.6L159.5 247.3Z" color="#0000c2"/><path d="M114.1 232.7L118.2 234.0L118.9 231.9L114.8 230.6Z" color="#001fff"/><path d="M118.2 234.0L122.3 235.4L123.0 233.2L118.9 231.9Z" color="#0014ff"/><path d="M122.3 235.4L126.4 236.7L127.1 234.6L123.0 233.2Z" color="#000aff"/><path d="M126.4 236.7L130.6 238.0L131.2 235.9L127.1 234.6Z" color="#0000fe"/><path d="M130.6 238.0L134.7 239.3L135.4 237.3L131.2 235.9Z" color="#0000f3"/><path d="M134.7 239.3L138.8 240.7L139.5 238.6L135.4 237.3Z" color="#0000e8"/><path d="M138.8 240.7L143.0 242.0L143.6 240.0L139.5 238.6Z" color="#0000da"/><path d="M143.0 242.0L147.1 243.3L147.7 241.3L143.6 240.0Z" color="#0000c9"/><path d="M147.1 243.3L151.2 244.7L151.9 242.7L147.7 241.3Z" color="#0000b8"/><path d="M151.2 244.7L155.3 246.0L156.0 244.0L151.9 242.7Z" color="#0000b3"/><path d="M155.3 246.0L159.5 247.3L160.1 245.3L156.0 244.0Z" color="#0000bb"/><path d="M159.5 247.3L163.6 248.6L164.2 246.7L160.1 245.3Z" color="#0000c4"/><path d="M114.8 230.6L118.9 231.9L119.6 229.8L115.5 228.4Z" color="#0022ff"/><path d="M118.9 231.9L123.0 233.2L123.7 231.1L119.6 229.8Z" color="#0016ff"/><path d="M123.0 233.2L127.1 234.6L127.8 232.5L123.7 231.1Z" color="#000bff"/><path d="M127.1 234.6L131.2 235.9L131.9 233.8L127.8 232.5Z" color="#0000ff"/><path d="M131.2 235.9L135.4 237.3L136.1 235.2L131.9 233.8Z" color="#0000f4"/><path d="M135.4 237.3L139.5 238.6L140.2 236.6L136.1 235.2Z" color="#0000ea"/><path d="M139.5 238.6L143.6 240.0L144.3 237.9L140.2 236.6Z" color="#0000dc"/><path d="M143.6 240.0L147.7 241.3L148.4 239.3L144.3 237.9Z" color="#0000cb"/><path d="M147.7 241.3L151.9 242.7L152.5 240.6L148.4 239.3Z" color="#0000ba"/><path d="M151.9 242.7L156.0 244.0L156.6 242.0L152.5 240.6Z" color="#0000b5"/><path d="M156.0 244.0L160.1 245.3L160.8 243.4L156.6 242.0Z" color="#0000be"/><path d="M160.1 245.3L164.2 246.7L164.9 244.7L160.8 243.4Z" color="#0000c6"/><path d="M115.5 228.4L119.6 229.8L120.3 227.6L116.2 226.3Z" color="#0025ff"/><path d="M119.6 229.8L123.7 231.1L124.4 229.0L120.3 227.6Z" color="#0019ff"/><path d="M123.7 231.1L127.8 232.5L128.5 230.4L124.4 229.0Z" color="#000dff"/><path d="M127.8 232.5L131.9 233.8L132.6 231.8L128.5 230.4Z" color="#0002ff"/><path d="M131.9 233.8L136.1 235.2L136.7 233.1L132.6 231.8Z" color="#0000f6"/><path d="M136.1 235.2L140.2 236.6L140.9 234.5L136.7 233.1Z" color="#0000eb"/><path d="M140.2 236.6L144.3 237.9L145.0 235.9L140.9 234.5Z" color="#0000de"/><path d="M144.3 237.9L148.4 239.3L149.1 237.3L145.0 235.9Z" color="#0000cd"/><path d="M148.4 239.3L152.5 240.6L153.2 238.6L149.1 237.3Z" color="#0000bc"/><path d="M152.5 240.6L156.6 242.0L157.3 240.0L153.2 238.6Z" color="#0000b8"/><path d="M156.6 242.0L160.8 243.4L161.4 241.4L157.3 240.0Z" color="#0000c0"/><path d="M160.8 243.4L164.9 244.7L165.5 242.8L161.4 241.4Z" color="#0000c8"/><path d="M116.2 226.3L120.3 227.6L121.0 225.5L116.9 224.1Z" color="#0028ff"/><path d="M120.3 227.6L124.4 229.0L125.1 226.9L121.0 225.5Z" color="#001cff"/><path d="M124.4 229.0L128.5 230.4L129.2 228.3L125.1 226.9Z" color="#0010ff"/><path d="M128.5 230.4L132.6 231.8L133.3 229.7L129.2 228.3Z" color="#0004ff"/><path d="M132.6 231.8L136.7 233.1L137.4 231.1L133.3 229.7Z" color="#0000f8"/><path d="M136.7 233.1L140.9 234.5L141.6 232.5L137.4 231.1Z" color="#0000ed"/><path d="M140.9 234.5L145.0 235.9L145.7 233.9L141.6 232.5Z" color="#0000df"/><path d="M145.0 235.9L149.1 237.3L149.8 235.2L145.7 233.9Z" color="#0000cf"/><path d="M149.1 237.3L153.2 238.6L153.9 236.6L149.8 235.2Z" color="#0000be"/><path d="M153.2 238.6L157.3 240.0L158.0 238.0L153.9 236.6Z" color="#0000ba"/><path d="M157.3 240.0L161.4 241.4L162.1 239.4L158.0 238.0Z" color="#0000c2"/><path d="M161.4 241.4L165.5 242.8L166.2 240.8L162.1 239.4Z" color="#0000ca"/><path d="M116.9 224.1L121.0 225.5L121.7 223.4L117.6 222.0Z" color="#002bff"/><path d="M121.0 225.5L125.1 226.9L125.8 224.8L121.7 223.4Z" color="#001fff"/><path d="M125.1 226.9L129.2 228.3L129.9 226.2L125.8 224.8Z" color="#0013ff"/><path d="M129.2 228.3L133.3 229.7L134.0 227.6L129.9 226.2Z" color="#0008ff"/><path d="M133.3 229.7L137.4 231.1L138.1 229.0L134.0 227.6Z" color="#0000fb"/><path d="M137.4 231.1L141.6 232.5L142.3 230.4L138.1 229.0Z" color="#0000ef"/><path d="M141.6 232.5L145.7 233.9L146.4 231.8L142.3 230.4Z" color="#0000e1"/><path d="M145.7 233.9L149.8 235.2L150.5 233.2L146.4 231.8Z" color="#0000d1"/><path d="M149.8 235.2L153.9 236.6L154.6 234.6L150.5 233.2Z" color="#0000c0"/><path d="M153.9 236.6L158.0 238.0L158.7 236.0L154.6 234.6Z" color="#0000bc"/><path d="M158.0 238.0L162.1 239.4L162.8 237.4L158.7 236.0Z" color="#0000c4"/><path d="M162.1 239.4L166.2 240.8L166.9 238.8L162.8 237.4Z" color="#0000cb"/><path d="M117.6 222.0L121.7 223.4L122.5 221.3L118.4 219.9Z" color="#002eff"/><path d="M121.7 223.4L125.8 224.8L126.6 222.7L122.5 221.3Z" color="#0022ff"/><path d="M125.8 224.8L129.9 226.2L130.7 224.1L126.6 222.7Z" color="#0017ff"/><path d="M129.9 226.2L134.0 227.6L134.8 225.5L130.7 224.1Z" color="#000bff"/><path d="M134.0 227.6L138.1 229.0L138.9 227.0L134.8 225.5Z" color="#0000ff"/><path d="M138.1 229.0L142.3 230.4L143.0 228.4L138.9 227.0Z" color="#0000f3"/><path d="M142.3 230.4L146.4 231.8L147.1 229.8L143.0 228.4Z" color="#0000e4"/><path d="M146.4 231.8L150.5 233.2L151.2 231.2L147.1 229.8Z" color="#0000d3"/><path d="M150.5 233.2L154.6 234.6L155.3 232.6L151.2 231.2Z" color="#0000c3"/><path d="M154.6 234.6L158.7 236.0L159.4 234.0L155.3 232.6Z" color="#0000be"/><path d="M158.7 236.0L162.8 237.4L163.4 235.5L159.4 234.0Z" color="#0000c6"/><path d="M162.8 237.4L166.9 238.8L167.5 236.9L163.4 235.5Z" color="#0000cd"/><path d="M118.4 219.9L122.5 221.3L123.2 219.2L119.1 217.8Z" color="#0031ff"/><path d="M122.5 221.3L126.6 222.7L127.3 220.6L123.2 219.2Z" color="#0025ff"/><path d="M126.6 222.7L130.7 224.1L131.4 222.1L127.3 220.6Z" color="#001aff"/><path d="M130.7 224.1L134.8 225.5L135.5 223.5L131.4 222.1Z" color="#000eff"/><path d="M134.8 225.5L138.9 227.0L139.6 224.9L135.5 223.5Z" color="#0003ff"/><path d="M138.9 227.0L143.0 228.4L143.7 226.3L139.6 224.9Z" color="#0000f7"/><path d="M143.0 228.4L147.1 229.8L147.8 227.8L143.7 226.3Z" color="#0000e8"/><path d="M147.1 229.8L151.2 231.2L151.9 229.2L147.8 227.8Z" color="#0000d7"/><path d="M151.2 231.2L155.3 232.6L156.0 230.6L151.9 229.2Z" color="#0000c6"/><path d="M155.3 232.6L159.4 234.0L160.0 232.1L156.0 230.6Z" color="#0000c1"/><path d="M159.4 234.0L163.4 235.5L164.1 233.5L160.0 232.1Z" color="#0000c8"/><path d="M163.4 235.5L167.5 236.9L168.2 234.9L164.1 233.5Z" color="#0000cf"/><path d="M119.1 217.8L123.2 219.2L123.9 217.1L119.9 215.6Z" color="#0034ff"/><path d="M123.2 219.2L127.3 220.6L128.0 218.5L123.9 217.1Z" color="#0029ff"/><path d="M127.3 220.6L131.4 222.1L132.1 220.0L128.0 218.5Z" color="#001dff"/><path d="M131.4 222.1L135.5 223.5L136.2 221.4L132.1 220.0Z" color="#0012ff"/><path d="M135.5 223.5L139.6 224.9L140.3 222.9L136.2 221.4Z" color="#0006ff"/><path d="M139.6 224.9L143.7 226.3L144.4 224.3L140.3 222.9Z" color="#0000fa"/><path d="M143.7 226.3L147.8 227.8L148.5 225.7L144.4 224.3Z" color="#0000ec"/><path d="M147.8 227.8L151.9 229.2L152.6 227.2L148.5 225.7Z" color="#0000db"/><path d="M151.9 229.2L156.0 230.6L156.7 228.6L152.6 227.2Z" color="#0000ca"/><path d="M156.0 230.6L160.0 232.1L160.7 230.1L156.7 228.6Z" color="#0000c4"/><path d="M160.0 232.1L164.1 233.5L164.8 231.5L160.7 230.1Z" color="#0000ca"/><path d="M164.1 233.5L168.2 234.9L168.9 233.0L164.8 231.5Z" color="#0000d1"/><path d="M119.9 215.6L123.9 217.1L124.7 215.0L120.6 213.5Z" color="#0037ff"/><path d="M123.9 217.1L128.0 218.5L128.8 216.4L124.7 215.0Z" color="#002cff"/><path d="M128.0 218.5L132.1 220.0L132.9 217.9L128.8 216.4Z" color="#0020ff"/><path d="M132.1 220.0L136.2 221.4L137.0 219.4L132.9 217.9Z" color="#0015ff"/><path d="M136.2 221.4L140.3 222.9L141.0 220.8L137.0 219.4Z" color="#000aff"/><path d="M140.3 222.9L144.4 224.3L145.1 222.3L141.0 220.8Z" color="#0000fe"/><path d="M144.4 224.3L148.5 225.7L149.2 223.7L145.1 222.3Z" color="#0000f0"/><path d="M148.5 225.7L152.6 227.2L153.3 225.2L149.2 223.7Z" color="#0000df"/><path d="M152.6 227.2L156.7 228.6L157.4 226.6L153.3 225.2Z" color="#0000ce"/><path d="M156.7 228.6L160.7 230.1L161.5 228.1L157.4 226.6Z" color="#0000c8"/><path d="M160.7 230.1L164.8 231.5L165.5 229.5L161.5 228.1Z" color="#0000ce"/><path d="M164.8 231.5L168.9 233.0L169.6 231.0L165.5 229.5Z" color="#0000d4"/><path d="M120.6 213.5L124.7 215.0L125.5 212.9L121.4 211.4Z" color="#003aff"/><path d="M124.7 215.0L128.8 216.4L129.5 214.4L125.5 212.9Z" color="#002fff"/><path d="M128.8 216.4L132.9 217.9L133.6 215.8L129.5 214.4Z" color="#0024ff"/><path d="M132.9 217.9L137.0 219.4L137.7 217.3L133.6 215.8Z" color="#0018ff"/><path d="M137.0 219.4L141.0 220.8L141.8 218.8L137.7 217.3Z" color="#000dff"/><path d="M141.0 220.8L145.1 222.3L145.9 220.2L141.8 218.8Z" color="#0002ff"/><path d="M145.1 222.3L149.2 223.7L149.9 221.7L145.9 220.2Z" color="#0000f3"/><path d="M149.2 223.7L153.3 225.2L154.0 223.2L149.9 221.7Z" color="#0000e2"/><path d="M153.3 225.2L157.4 226.6L158.1 224.6L154.0 223.2Z" color="#0000d2"/><path d="M157.4 226.6L161.5 228.1L162.2 226.1L158.1 224.6Z" color="#0000cc"/><path d="M161.5 228.1L165.5 229.5L166.3 227.6L162.2 226.1Z" color="#0000d2"/><path d="M165.5 229.5L169.6 231.0L170.3 229.0L166.3 227.6Z" color="#0000d7"/><path d="M121.4 211.4L125.5 212.9L126.2 210.8L122.1 209.3Z" color="#003dff"/><path d="M125.5 212.9L129.5 214.4L130.3 212.3L126.2 210.8Z" color="#0032ff"/><path d="M129.5 214.4L133.6 215.8L134.4 213.8L130.3 212.3Z" color="#0027ff"/><path d="M133.6 215.8L137.7 217.3L138.4 215.2L134.4 213.8Z" color="#001cff"/><path d="M137.7 217.3L141.8 218.8L142.5 216.7L138.4 215.2Z" color="#0011ff"/><path d="M141.8 218.8L145.9 220.2L146.6 218.2L142.5 216.7Z" color="#0006ff"/><path d="M145.9 220.2L149.9 221.7L150.7 219.7L146.6 218.2Z" color="#0000f7"/><path d="M149.9 221.7L154.0 223.2L154.7 221.2L150.7 219.7Z" color="#0000e6"/><path d="M154.0 223.2L158.1 224.6L158.8 222.6L154.7 221.2Z" color="#0000d6"/><path d="M158.1 224.6L162.2 226.1L162.9 224.1L158.8 222.6Z" color="#0000d0"/><path d="M162.2 226.1L166.3 227.6L167.0 225.6L162.9 224.1Z" color="#0000d6"/><path d="M166.3 227.6L170.3 229.0L171.0 227.1L167.0 225.6Z" color="#0000db"/><path d="M122.1 209.3L126.2 210.8L127.0 208.7L122.9 207.2Z" color="#0040ff"/><path d="M126.2 210.8L130.3 212.3L131.1 210.2L127.0 208.7Z" color="#0035ff"/><path d="M130.3 212.3L134.4 213.8L135.1 211.7L131.1 210.2Z" color="#002aff"/><path d="M134.4 213.8L138.4 215.2L139.2 213.2L135.1 211.7Z" color="#001fff"/><path d="M138.4 215.2L142.5 216.7L143.3 214.7L139.2 213.2Z" color="#0014ff"/><path d="M142.5 216.7L146.6 218.2L147.3 216.2L143.3 214.7Z" color="#0009ff"/><path d="M146.6 218.2L150.7 219.7L151.4 217.7L147.3 216.2Z" color="#0000fb"/><path d="M150.7 219.7L154.7 221.2L155.5 219.2L151.4 217.7Z" color="#0000ea"/><path d="M154.7 221.2L158.8 222.6L159.6 220.7L155.5 219.2Z" color="#0000da"/><path d="M158.8 222.6L162.9 224.1L163.6 222.2L159.6 220.7Z" color="#0000d4"/><path d="M162.9 224.1L167.0 225.6L167.7 223.6L163.6 222.2Z" color="#0000da"/><path d="M167.0 225.6L171.0 227.1L171.8 225.1L167.7 223.6Z" color="#0000df"/><path d="M122.9 207.2L127.0 208.7L127.8 206.6L123.7 205.1Z" color="#0043ff"/><path d="M127.0 208.7L131.1 210.2L131.8 208.1L127.8 206.6Z" color="#0038ff"/><path d="M131.1 210.2L135.1 211.7L135.9 209.6L131.8 208.1Z" color="#002dff"/><path d="M135.1 211.7L139.2 213.2L140.0 211.1L135.9 209.6Z" color="#0022ff"/><path d="M139.2 213.2L143.3 214.7L144.0 212.6L140.0 211.1Z" color="#0018ff"/><path d="M143.3 214.7L147.3 216.2L148.1 214.1L144.0 212.6Z" color="#000dff"/><path d="M147.3 216.2L151.4 217.7L152.2 215.7L148.1 214.1Z" color="#0000fe"/><path d="M151.4 217.7L155.5 219.2L156.2 217.2L152.2 215.7Z" color="#0000ee"/><path d="M155.5 219.2L159.6 220.7L160.3 218.7L156.2 217.2Z" color="#0000de"/><path d="M159.6 220.7L163.6 222.2L164.4 220.2L160.3 218.7Z" color="#0000d8"/><path d="M163.6 222.2L167.7 223.6L168.4 221.7L164.4 220.2Z" color="#0000de"/><path d="M167.7 223.6L171.8 225.1L172.5 223.2L168.4 221.7Z" color="#0000e3"/><path d="M123.7 205.1L127.8 206.6L128.6 204.5L124.5 203.0Z" color="#0046ff"/><path d="M127.8 206.6L131.8 208.1L132.6 206.0L128.6 204.5Z" color="#003bff"/><path d="M131.8 208.1L135.9 209.6L136.7 207.6L132.6 206.0Z" color="#0030ff"/><path d="M135.9 209.6L140.0 211.1L140.7 209.1L136.7 207.6Z" color="#0026ff"/><path d="M140.0 211.1L144.0 212.6L144.8 210.6L140.7 209.1Z" color="#001bff"/><path d="M144.0 212.6L148.1 214.1L148.9 212.1L144.8 210.6Z" color="#0010ff"/><path d="M148.1 214.1L152.2 215.7L152.9 213.6L148.9 212.1Z" color="#0003ff"/><path d="M152.2 215.7L156.2 217.2L157.0 215.2L152.9 213.6Z" color="#0000f2"/><path d="M156.2 217.2L160.3 218.7L161.0 216.7L157.0 215.2Z" color="#0000e2"/><path d="M160.3 218.7L164.4 220.2L165.1 218.2L161.0 216.7Z" color="#0000dc"/><path d="M164.4 220.2L168.4 221.7L169.2 219.7L165.1 218.2Z" color="#0000e2"/><path d="M168.4 221.7L172.5 223.2L173.2 221.2L169.2 219.7Z" color="#0000e7"/><path d="M124.5 203.0L128.6 204.5L129.3 202.4L125.3 200.9Z" color="#0049ff"/><path d="M128.6 204.5L132.6 206.0L133.4 204.0L129.3 202.4Z" color="#003eff"/><path d="M132.6 206.0L136.7 207.6L137.5 205.5L133.4 204.0Z" color="#0034ff"/><path d="M136.7 207.6L140.7 209.1L141.5 207.0L137.5 205.5Z" color="#0029ff"/><path d="M140.7 209.1L144.8 210.6L145.6 208.6L141.5 207.0Z" color="#001eff"/><path d="M144.8 210.6L148.9 212.1L149.6 210.1L145.6 208.6Z" color="#0014ff"/><path d="M148.9 212.1L152.9 213.6L153.7 211.6L149.6 210.1Z" color="#0007ff"/><path d="M152.9 213.6L157.0 215.2L157.7 213.2L153.7 211.6Z" color="#0000f6"/><path d="M157.0 215.2L161.0 216.7L161.8 214.7L157.7 213.2Z" color="#0000e6"/><path d="M161.0 216.7L165.1 218.2L165.8 216.2L161.8 214.7Z" color="#0000e1"/><path d="M165.1 218.2L169.2 219.7L169.9 217.8L165.8 216.2Z" color="#0000e5"/><path d="M169.2 219.7L173.2 221.2L174.0 219.3L169.9 217.8Z" color="#0000ea"/><path d="M125.3 200.9L129.3 202.4L130.1 200.4L126.1 198.8Z" color="#004eff"/><path d="M129.3 202.4L133.4 204.0L134.2 201.9L130.1 200.4Z" color="#0041ff"/><path d="M133.4 204.0L137.5 205.5L138.2 203.5L134.2 201.9Z" color="#0037ff"/><path d="M137.5 205.5L141.5 207.0L142.3 205.0L138.2 203.5Z" color="#002cff"/><path d="M141.5 207.0L145.6 208.6L146.3 206.5L142.3 205.0Z" color="#0022ff"/><path d="M145.6 208.6L149.6 210.1L150.4 208.1L146.3 206.5Z" color="#0017ff"/><path d="M149.6 210.1L153.7 211.6L154.4 209.6L150.4 208.1Z" color="#000aff"/><path d="M153.7 211.6L157.7 213.2L158.5 211.2L154.4 209.6Z" color="#0000fa"/><path d="M157.7 213.2L161.8 214.7L162.5 212.7L158.5 211.2Z" color="#0000ea"/><path d="M161.8 214.7L165.8 216.2L166.6 214.3L162.5 212.7Z" color="#0000e5"/><path d="M165.8 216.2L169.9 217.8L170.6 215.8L166.6 214.3Z" color="#0000e9"/><path d="M169.9 217.8L174.0 219.3L174.7 217.3L170.6 215.8Z" color="#0000ee"/><path d="M126.1 198.8L130.1 200.4L130.9 198.3L126.9 196.7Z" color="#0054ff"/><path d="M130.1 200.4L134.2 201.9L135.0 199.8L130.9 198.3Z" color="#0047ff"/><path d="M134.2 201.9L138.2 203.5L139.0 201.4L135.0 199.8Z" color="#003aff"/><path d="M138.2 203.5L142.3 205.0L143.1 203.0L139.0 201.4Z" color="#002fff"/><path d="M142.3 205.0L146.3 206.5L147.1 204.5L143.1 203.0Z" color="#0025ff"/><path d="M146.3 206.5L150.4 208.1L151.2 206.1L147.1 204.5Z" color="#001bff"/><path d="M150.4 208.1L154.4 209.6L155.2 207.6L151.2 206.1Z" color="#000eff"/><path d="M154.4 209.6L158.5 211.2L159.3 209.2L155.2 207.6Z" color="#0000fd"/><path d="M158.5 211.2L162.5 212.7L163.3 210.7L159.3 209.2Z" color="#0000ee"/><path d="M162.5 212.7L166.6 214.3L167.4 212.3L163.3 210.7Z" color="#0000e9"/><path d="M166.6 214.3L170.6 215.8L171.4 213.8L167.4 212.3Z" color="#0000ed"/><path d="M170.6 215.8L174.7 217.3L175.5 215.4L171.4 213.8Z" color="#0000f2"/><path d="M126.9 196.7L130.9 198.3L131.7 196.2L127.7 194.7Z" color="#005aff"/><path d="M130.9 198.3L135.0 199.8L135.8 197.8L131.7 196.2Z" color="#004dff"/><path d="M135.0 199.8L139.0 201.4L139.8 199.4L135.8 197.8Z" color="#0041ff"/><path d="M139.0 201.4L143.1 203.0L143.9 200.9L139.8 199.4Z" color="#0034ff"/><path d="M143.1 203.0L147.1 204.5L147.9 202.5L143.9 200.9Z" color="#0028ff"/><path d="M147.1 204.5L151.2 206.1L152.0 204.1L147.9 202.5Z" color="#001eff"/><path d="M151.2 206.1L155.2 207.6L156.0 205.6L152.0 204.1Z" color="#0011ff"/><path d="M155.2 207.6L159.3 209.2L160.0 207.2L156.0 205.6Z" color="#0002ff"/><path d="M159.3 209.2L163.3 210.7L164.1 208.8L160.0 207.2Z" color="#0000f2"/><path d="M163.3 210.7L167.4 212.3L168.1 210.3L164.1 208.8Z" color="#0000ed"/><path d="M167.4 212.3L171.4 213.8L172.2 211.9L168.1 210.3Z" color="#0000f1"/><path d="M171.4 213.8L175.5 215.4L176.2 213.4L172.2 211.9Z" color="#0000f6"/><path d="M127.7 194.7L131.7 196.2L132.5 194.2L128.5 192.6Z" color="#0060ff"/><path d="M131.7 196.2L135.8 197.8L136.6 195.7L132.5 194.2Z" color="#0053ff"/><path d="M135.8 197.8L139.8 199.4L140.6 197.3L136.6 195.7Z" color="#0047ff"/><path d="M139.8 199.4L143.9 200.9L144.7 198.9L140.6 197.3Z" color="#003aff"/><path d="M143.9 200.9L147.9 202.5L148.7 200.5L144.7 198.9Z" color="#002eff"/><path d="M147.9 202.5L152.0 204.1L152.7 202.0L148.7 200.5Z" color="#0022ff"/><path d="M152.0 204.1L156.0 205.6L156.8 203.6L152.7 202.0Z" color="#0015ff"/><path d="M156.0 205.6L160.0 207.2L160.8 205.2L156.8 203.6Z" color="#0006ff"/><path d="M160.0 207.2L164.1 208.8L164.9 206.8L160.8 205.2Z" color="#0000f6"/><path d="M164.1 208.8L168.1 210.3L168.9 208.3L164.9 206.8Z" color="#0000f1"/><path d="M168.1 210.3L172.2 211.9L172.9 209.9L168.9 208.3Z" color="#0000f5"/><path d="M172.2 211.9L176.2 213.4L177.0 211.5L172.9 209.9Z" color="#0000f9"/><path d="M128.5 192.6L132.5 194.2L133.4 192.1L129.3 190.5Z" color="#0066ff"/><path d="M132.5 194.2L136.6 195.7L137.4 193.7L133.4 192.1Z" color="#005aff"/><path d="M136.6 195.7L140.6 197.3L141.4 195.3L137.4 193.7Z" color="#004dff"/><path d="M140.6 197.3L144.7 198.9L145.5 196.9L141.4 195.3Z" color="#0041ff"/><path d="M144.7 198.9L148.7 200.5L149.5 198.4L145.5 196.9Z" color="#0034ff"/><path d="M148.7 200.5L152.7 202.0L153.5 200.0L149.5 198.4Z" color="#0028ff"/><path d="M152.7 202.0L156.8 203.6L157.6 201.6L153.5 200.0Z" color="#0019ff"/><path d="M156.8 203.6L160.8 205.2L161.6 203.2L157.6 201.6Z" color="#000aff"/><path d="M160.8 205.2L164.9 206.8L165.6 204.8L161.6 203.2Z" color="#0000fa"/><path d="M164.9 206.8L168.9 208.3L169.7 206.4L165.6 204.8Z" color="#0000f5"/><path d="M168.9 208.3L172.9 209.9L173.7 208.0L169.7 206.4Z" color="#0000f9"/><path d="M172.9 209.9L177.0 211.5L177.7 209.6L173.7 208.0Z" color="#0000fd"/><path d="M129.3 190.5L133.4 192.1L134.2 190.0L130.2 188.4Z" color="#006cff"/><path d="M133.4 192.1L137.4 193.7L138.2 191.6L134.2 190.0Z" color="#0060ff"/><path d="M137.4 193.7L141.4 195.3L142.2 193.2L138.2 191.6Z" color="#0053ff"/><path d="M141.4 195.3L145.5 196.9L146.3 194.8L142.2 193.2Z" color="#0047ff"/><path d="M145.5 196.9L149.5 198.4L150.3 196.4L146.3 194.8Z" color="#003bff"/><path d="M149.5 198.4L153.5 200.0L154.3 198.0L150.3 196.4Z" color="#002eff"/><path d="M153.5 200.0L157.6 201.6L158.4 199.6L154.3 198.0Z" color="#0020ff"/><path d="M157.6 201.6L161.6 203.2L162.4 201.2L158.4 199.6Z" color="#000fff"/><path d="M161.6 203.2L165.6 204.8L166.4 202.8L162.4 201.2Z" color="#0000fe"/><path d="M165.6 204.8L169.7 206.4L170.5 204.4L166.4 202.8Z" color="#0000f9"/><path d="M169.7 206.4L173.7 208.0L174.5 206.0L170.5 204.4Z" color="#0000fd"/><path d="M173.7 208.0L177.7 209.6L178.5 207.6L174.5 206.0Z" color="#0002ff"/><path d="M130.2 188.4L134.2 190.0L135.0 188.0L131.0 186.4Z" color="#0072ff"/><path d="M134.2 190.0L138.2 191.6L139.0 189.6L135.0 188.0Z" color="#0066ff"/><path d="M138.2 191.6L142.2 193.2L143.1 191.2L139.0 189.6Z" color="#005aff"/><path d="M142.2 193.2L146.3 194.8L147.1 192.8L143.1 191.2Z" color="#004dff"/><path d="M146.3 194.8L150.3 196.4L151.1 194.4L147.1 192.8Z" color="#0041ff"/><path d="M150.3 196.4L154.3 198.0L155.1 196.0L151.1 194.4Z" color="#0035ff"/><path d="M154.3 198.0L158.4 199.6L159.2 197.6L155.1 196.0Z" color="#0026ff"/><path d="M158.4 199.6L162.4 201.2L163.2 199.2L159.2 197.6Z" color="#0015ff"/><path d="M162.4 201.2L166.4 202.8L167.2 200.8L163.2 199.2Z" color="#0005ff"/><path d="M166.4 202.8L170.5 204.4L171.2 202.5L167.2 200.8Z" color="#0000fd"/><path d="M170.5 204.4L174.5 206.0L175.3 204.1L171.2 202.5Z" color="#0002ff"/><path d="M174.5 206.0L178.5 207.6L179.3 205.7L175.3 204.1Z" color="#0006ff"/><path d="M131.0 186.4L135.0 188.0L135.8 185.9L131.8 184.3Z" color="#0078ff"/><path d="M135.0 188.0L139.0 189.6L139.9 187.5L135.8 185.9Z" color="#006cff"/><path d="M139.0 189.6L143.1 191.2L143.9 189.1L139.9 187.5Z" color="#0060ff"/><path d="M143.1 191.2L147.1 192.8L147.9 190.8L143.9 189.1Z" color="#0054ff"/><path d="M147.1 192.8L151.1 194.4L151.9 192.4L147.9 190.8Z" color="#0047ff"/><path d="M151.1 194.4L155.1 196.0L156.0 194.0L151.9 192.4Z" color="#003bff"/><path d="M155.1 196.0L159.2 197.6L160.0 195.6L156.0 194.0Z" color="#002dff"/><path d="M159.2 197.6L163.2 199.2L164.0 197.3L160.0 195.6Z" color="#001cff"/><path d="M163.2 199.2L167.2 200.8L168.0 198.9L164.0 197.3Z" color="#000cff"/><path d="M167.2 200.8L171.2 202.5L172.0 200.5L168.0 198.9Z" color="#0004ff"/><path d="M171.2 202.5L175.3 204.1L176.1 202.1L172.0 200.5Z" color="#0006ff"/><path d="M175.3 204.1L179.3 205.7L180.1 203.7L176.1 202.1Z" color="#000aff"/><path d="M131.8 184.3L135.8 185.9L136.7 183.9L132.7 182.2Z" color="#007eff"/><path d="M135.8 185.9L139.9 187.5L140.7 185.5L136.7 183.9Z" color="#0072ff"/><path d="M139.9 187.5L143.9 189.1L144.7 187.1L140.7 185.5Z" color="#0066ff"/><path d="M143.9 189.1L147.9 190.8L148.7 188.7L144.7 187.1Z" color="#005aff"/><path d="M147.9 190.8L151.9 192.4L152.8 190.4L148.7 188.7Z" color="#004eff"/><path d="M151.9 192.4L156.0 194.0L156.8 192.0L152.8 190.4Z" color="#0042ff"/><path d="M156.0 194.0L160.0 195.6L160.8 193.6L156.8 192.0Z" color="#0034ff"/><path d="M160.0 195.6L164.0 197.3L164.8 195.3L160.8 193.6Z" color="#0023ff"/><path d="M164.0 197.3L168.0 198.9L168.8 196.9L164.8 195.3Z" color="#0013ff"/><path d="M168.0 198.9L172.0 200.5L172.8 198.5L168.8 196.9Z" color="#000bff"/><path d="M172.0 200.5L176.1 202.1L176.9 200.2L172.8 198.5Z" color="#000cff"/><path d="M176.1 202.1L180.1 203.7L180.9 201.8L176.9 200.2Z" color="#000dff"/><path d="M132.7 182.2L136.7 183.9L137.5 181.8L133.5 180.2Z" color="#0084ff"/><path d="M136.7 183.9L140.7 185.5L141.5 183.4L137.5 181.8Z" color="#0078ff"/><path d="M140.7 185.5L144.7 187.1L145.6 185.1L141.5 183.4Z" color="#006cff"/><path d="M144.7 187.1L148.7 188.7L149.6 186.7L145.6 185.1Z" color="#0060ff"/><path d="M148.7 188.7L152.8 190.4L153.6 188.4L149.6 186.7Z" color="#0054ff"/><path d="M152.8 190.4L156.8 192.0L157.6 190.0L153.6 188.4Z" color="#0048ff"/><path d="M156.8 192.0L160.8 193.6L161.6 191.7L157.6 190.0Z" color="#003aff"/><path d="M160.8 193.6L164.8 195.3L165.6 193.3L161.6 191.7Z" color="#002aff"/><path d="M164.8 195.3L168.8 196.9L169.6 194.9L165.6 193.3Z" color="#001aff"/><path d="M168.8 196.9L172.8 198.5L173.6 196.6L169.6 194.9Z" color="#0012ff"/><path d="M172.8 198.5L176.9 200.2L177.7 198.2L173.6 196.6Z" color="#0013ff"/><path d="M176.9 200.2L180.9 201.8L181.7 199.9L177.7 198.2Z" color="#0014ff"/><path d="M133.5 180.2L137.5 181.8L138.4 179.8L134.4 178.1Z" color="#008aff"/><path d="M137.5 181.8L141.5 183.4L142.4 181.4L138.4 179.8Z" color="#007eff"/><path d="M141.5 183.4L145.6 185.1L146.4 183.1L142.4 181.4Z" color="#0072ff"/><path d="M145.6 185.1L149.6 186.7L150.4 184.7L146.4 183.1Z" color="#0066ff"/><path d="M149.6 186.7L153.6 188.4L154.4 186.4L150.4 184.7Z" color="#005bff"/><path d="M153.6 188.4L157.6 190.0L158.4 188.0L154.4 186.4Z" color="#004fff"/><path d="M157.6 190.0L161.6 191.7L162.4 189.7L158.4 188.0Z" color="#0041ff"/><path d="M161.6 191.7L165.6 193.3L166.4 191.3L162.4 189.7Z" color="#0031ff"/><path d="M165.6 193.3L169.6 194.9L170.4 193.0L166.4 191.3Z" color="#0021ff"/><path d="M169.6 194.9L173.6 196.6L174.4 194.6L170.4 193.0Z" color="#0019ff"/><path d="M173.6 196.6L177.7 198.2L178.5 196.3L174.4 194.6Z" color="#001aff"/><path d="M177.7 198.2L181.7 199.9L182.5 197.9L178.5 196.3Z" color="#001bff"/><path d="M134.4 178.1L138.4 179.8L139.2 177.7L135.2 176.0Z" color="#0090ff"/><path d="M138.4 179.8L142.4 181.4L143.2 179.4L139.2 177.7Z" color="#0084ff"/><path d="M142.4 181.4L146.4 183.1L147.2 181.0L143.2 179.4Z" color="#0079ff"/><path d="M146.4 183.1L150.4 184.7L151.2 182.7L147.2 181.0Z" color="#006dff"/><path d="M150.4 184.7L154.4 186.4L155.2 184.4L151.2 182.7Z" color="#0061ff"/><path d="M154.4 186.4L158.4 188.0L159.2 186.0L155.2 184.4Z" color="#0055ff"/><path d="M158.4 188.0L162.4 189.7L163.3 187.7L159.2 186.0Z" color="#0047ff"/><path d="M162.4 189.7L166.4 191.3L167.3 189.3L163.3 187.7Z" color="#0038ff"/><path d="M166.4 191.3L170.4 193.0L171.3 191.0L167.3 189.3Z" color="#0028ff"/><path d="M170.4 193.0L174.4 194.6L175.3 192.7L171.3 191.0Z" color="#0020ff"/><path d="M174.4 194.6L178.5 196.3L179.3 194.3L175.3 192.7Z" color="#0021ff"/><path d="M178.5 196.3L182.5 197.9L183.3 196.0L179.3 194.3Z" color="#0021ff"/><path d="M135.2 176.0L139.2 177.7L140.1 175.7L136.1 174.0Z" color="#0096ff"/><path d="M139.2 177.7L143.2 179.4L144.1 177.3L140.1 175.7Z" color="#008aff"/><path d="M143.2 179.4L147.2 181.0L148.1 179.0L144.1 177.3Z" color="#007fff"/><path d="M147.2 181.0L151.2 182.7L152.1 180.7L148.1 179.0Z" color="#0073ff"/><path d="M151.2 182.7L155.2 184.4L156.1 182.4L152.1 180.7Z" color="#0067ff"/><path d="M155.2 184.4L159.2 186.0L160.1 184.0L156.1 182.4Z" color="#005cff"/><path d="M159.2 186.0L163.3 187.7L164.1 185.7L160.1 184.0Z" color="#004eff"/><path d="M163.3 187.7L167.3 189.3L168.1 187.4L164.1 185.7Z" color="#003eff"/><path d="M167.3 189.3L171.3 191.0L172.1 189.0L168.1 187.4Z" color="#002fff"/><path d="M171.3 191.0L175.3 192.7L176.1 190.7L172.1 189.0Z" color="#0027ff"/><path d="M175.3 192.7L179.3 194.3L180.1 192.4L176.1 190.7Z" color="#0028ff"/><path d="M179.3 194.3L183.3 196.0L184.1 194.0L180.1 192.4Z" color="#0028ff"/><path d="M136.1 174.0L140.1 175.7L140.9 173.6L136.9 171.9Z" color="#009bff"/><path d="M140.1 175.7L144.1 177.3L144.9 175.3L140.9 173.6Z" color="#0090ff"/><path d="M144.1 177.3L148.1 179.0L148.9 177.0L144.9 175.3Z" color="#0085ff"/><path d="M148.1 179.0L152.1 180.7L152.9 178.7L148.9 177.0Z" color="#0079ff"/><path d="M152.1 180.7L156.1 182.4L156.9 180.4L152.9 178.7Z" color="#006eff"/><path d="M156.1 182.4L160.1 184.0L160.9 182.0L156.9 180.4Z" color="#0062ff"/><path d="M160.1 184.0L164.1 185.7L164.9 183.7L160.9 182.0Z" color="#0055ff"/><path d="M164.1 185.7L168.1 187.4L168.9 185.4L164.9 183.7Z" color="#0045ff"/><path d="M168.1 187.4L172.1 189.0L172.9 187.1L168.9 185.4Z" color="#0036ff"/><path d="M172.1 189.0L176.1 190.7L176.9 188.8L172.9 187.1Z" color="#002eff"/><path d="M176.1 190.7L180.1 192.4L180.9 190.4L176.9 188.8Z" color="#002fff"/><path d="M180.1 192.4L184.1 194.0L184.9 192.1L180.9 190.4Z" color="#002fff"/><path d="M136.9 171.9L140.9 173.6L141.8 171.6L137.8 169.9Z" color="#00a1ff"/><path d="M140.9 173.6L144.9 175.3L145.8 173.3L141.8 171.6Z" color="#0096ff"/><path d="M144.9 175.3L148.9 177.0L149.8 175.0L145.8 173.3Z" color="#008bff"/><path d="M148.9 177.0L152.9 178.7L153.8 176.7L149.8 175.0Z" color="#007fff"/><path d="M152.9 178.7L156.9 180.4L157.8 178.4L153.8 176.7Z" color="#0074ff"/><path d="M156.9 180.4L160.9 182.0L161.8 180.0L157.8 178.4Z" color="#0069ff"/><path d="M160.9 182.0L164.9 183.7L165.8 181.7L161.8 180.0Z" color="#005bff"/><path d="M164.9 183.7L168.9 185.4L169.8 183.4L165.8 181.7Z" color="#004cff"/><path d="M168.9 185.4L172.9 187.1L173.7 185.1L169.8 183.4Z" color="#003dff"/><path d="M172.9 187.1L176.9 188.8L177.7 186.8L173.7 185.1Z" color="#0036ff"/><path d="M176.9 188.8L180.9 190.4L181.7 188.5L177.7 186.8Z" color="#0036ff"/><path d="M180.9 190.4L184.9 192.1L185.7 190.2L181.7 188.5Z" color="#0036ff"/><path d="M137.8 169.9L141.8 171.6L142.7 169.6L138.7 167.9Z" color="#00a8ff"/><path d="M141.8 171.6L145.8 173.3L146.7 171.3L142.7 169.6Z" color="#009cff"/><path d="M145.8 173.3L149.8 175.0L150.7 173.0L146.7 171.3Z" color="#0090ff"/><path d="M149.8 175.0L153.8 176.7L154.6 174.7L150.7 173.0Z" color="#0085ff"/><path d="M153.8 176.7L157.8 178.4L158.6 176.4L154.6 174.7Z" color="#007aff"/><path d="M157.8 178.4L161.8 180.0L162.6 178.1L158.6 176.4Z" color="#006fff"/><path d="M161.8 180.0L165.8 181.7L166.6 179.8L162.6 178.1Z" color="#0062ff"/><path d="M165.8 181.7L169.8 183.4L170.6 181.5L166.6 179.8Z" color="#0053ff"/><path d="M169.8 183.4L173.7 185.1L174.6 183.1L170.6 181.5Z" color="#0045ff"/><path d="M173.7 185.1L177.7 186.8L178.6 184.8L174.6 183.1Z" color="#003dff"/><path d="M177.7 186.8L181.7 188.5L182.6 186.5L178.6 184.8Z" color="#003dff"/><path d="M181.7 188.5L185.7 190.2L186.5 188.2L182.6 186.5Z" color="#003dff"/><path d="M138.7 167.9L142.7 169.6L143.6 167.5L139.6 165.8Z" color="#00afff"/><path d="M142.7 169.6L146.7 171.3L147.5 169.2L143.6 167.5Z" color="#00a3ff"/><path d="M146.7 171.3L150.7 173.0L151.5 170.9L147.5 169.2Z" color="#0097ff"/><path d="M150.7 173.0L154.6 174.7L155.5 172.7L151.5 170.9Z" color="#008bff"/><path d="M154.6 174.7L158.6 176.4L159.5 174.4L155.5 172.7Z" color="#0081ff"/><path d="M158.6 176.4L162.6 178.1L163.5 176.1L159.5 174.4Z" color="#0076ff"/><path d="M162.6 178.1L166.6 179.8L167.5 177.8L163.5 176.1Z" color="#0069ff"/><path d="M166.6 179.8L170.6 181.5L171.4 179.5L167.5 177.8Z" color="#005aff"/><path d="M170.6 181.5L174.6 183.1L175.4 181.2L171.4 179.5Z" color="#004cff"/><path d="M174.6 183.1L178.6 184.8L179.4 182.9L175.4 181.2Z" color="#0044ff"/><path d="M178.6 184.8L182.6 186.5L183.4 184.6L179.4 182.9Z" color="#0044ff"/><path d="M182.6 186.5L186.5 188.2L187.4 186.3L183.4 184.6Z" color="#0044ff"/><path d="M139.6 165.8L143.6 167.5L144.4 165.5L140.4 163.8Z" color="#00b5ff"/><path d="M143.6 167.5L147.5 169.2L148.4 167.2L144.4 165.5Z" color="#00aaff"/><path d="M147.5 169.2L151.5 170.9L152.4 168.9L148.4 167.2Z" color="#009eff"/><path d="M151.5 170.9L155.5 172.7L156.4 170.7L152.4 168.9Z" color="#0092ff"/><path d="M155.5 172.7L159.5 174.4L160.4 172.4L156.4 170.7Z" color="#0087ff"/><path d="M159.5 174.4L163.5 176.1L164.3 174.1L160.4 172.4Z" color="#007cff"/><path d="M163.5 176.1L167.5 177.8L168.3 175.8L164.3 174.1Z" color="#0070ff"/><path d="M167.5 177.8L171.4 179.5L172.3 177.5L168.3 175.8Z" color="#0061ff"/><path d="M171.4 179.5L175.4 181.2L176.3 179.2L172.3 177.5Z" color="#0053ff"/><path d="M175.4 181.2L179.4 182.9L180.3 180.9L176.3 179.2Z" color="#004cff"/><path d="M179.4 182.9L183.4 184.6L184.2 182.7L180.3 180.9Z" color="#004bff"/><path d="M183.4 184.6L187.4 186.3L188.2 184.4L184.2 182.7Z" color="#004bff"/><path d="M140.4 163.8L144.4 165.5L145.3 163.5L141.3 161.8Z" color="#00bcff"/><path d="M144.4 165.5L148.4 167.2L149.3 165.2L145.3 163.5Z" color="#00b1ff"/><path d="M148.4 167.2L152.4 168.9L153.3 166.9L149.3 165.2Z" color="#00a5ff"/><path d="M152.4 168.9L156.4 170.7L157.2 168.7L153.3 166.9Z" color="#0099ff"/><path d="M156.4 170.7L160.4 172.4L161.2 170.4L157.2 168.7Z" color="#008eff"/><path d="M160.4 172.4L164.3 174.1L165.2 172.1L161.2 170.4Z" color="#0082ff"/><path d="M164.3 174.1L168.3 175.8L169.2 173.8L165.2 172.1Z" color="#0076ff"/><path d="M168.3 175.8L172.3 177.5L173.2 175.6L169.2 173.8Z" color="#0068ff"/><path d="M172.3 177.5L176.3 179.2L177.1 177.3L173.2 175.6Z" color="#005aff"/><path d="M176.3 179.2L180.3 180.9L181.1 179.0L177.1 177.3Z" color="#0053ff"/><path d="M180.3 180.9L184.2 182.7L185.1 180.7L181.1 179.0Z" color="#0052ff"/><path d="M184.2 182.7L188.2 184.4L189.1 182.5L185.1 180.7Z" color="#0052ff"/><path d="M141.3 161.8L145.3 163.5L146.2 161.5L142.2 159.7Z" color="#00c3ff"/><path d="M145.3 163.5L149.3 165.2L150.2 163.2L146.2 161.5Z" color="#00b7ff"/><path d="M149.3 165.2L153.3 166.9L154.1 164.9L150.2 163.2Z" color="#00acff"/><path d="M153.3 166.9L157.2 168.7L158.1 166.7L154.1 164.9Z" color="#00a1ff"/><path d="M157.2 168.7L161.2 170.4L162.1 168.4L158.1 166.7Z" color="#0095ff"/><path d="M161.2 170.4L165.2 172.1L166.1 170.1L162.1 168.4Z" color="#008aff"/><path d="M165.2 172.1L169.2 173.8L170.0 171.9L166.1 170.1Z" color="#007dff"/><path d="M169.2 173.8L173.2 175.6L174.0 173.6L170.0 171.9Z" color="#006fff"/><path d="M173.2 175.6L177.1 177.3L178.0 175.3L174.0 173.6Z" color="#0062ff"/><path d="M177.1 177.3L181.1 179.0L182.0 177.1L178.0 175.3Z" color="#005aff"/><path d="M181.1 179.0L185.1 180.7L185.9 178.8L182.0 177.1Z" color="#0059ff"/><path d="M185.1 180.7L189.1 182.5L189.9 180.5L185.9 178.8Z" color="#0058ff"/><path d="M142.2 159.7L146.2 161.5L147.1 159.4L143.1 157.7Z" color="#00caff"/><path d="M146.2 161.5L150.2 163.2L151.1 161.2L147.1 159.4Z" color="#00beff"/><path d="M150.2 163.2L154.1 164.9L155.0 162.9L151.1 161.2Z" color="#00b3ff"/><path d="M154.1 164.9L158.1 166.7L159.0 164.7L155.0 162.9Z" color="#00a8ff"/><path d="M158.1 166.7L162.1 168.4L163.0 166.4L159.0 164.7Z" color="#009dff"/><path d="M162.1 168.4L166.1 170.1L166.9 168.1L163.0 166.4Z" color="#0091ff"/><path d="M166.1 170.1L170.0 171.9L170.9 169.9L166.9 168.1Z" color="#0084ff"/><path d="M170.0 171.9L174.0 173.6L174.9 171.6L170.9 169.9Z" color="#0076ff"/><path d="M174.0 173.6L178.0 175.3L178.8 173.4L174.9 171.6Z" color="#0069ff"/><path d="M178.0 175.3L182.0 177.1L182.8 175.1L178.8 173.4Z" color="#0062ff"/><path d="M182.0 177.1L185.9 178.8L186.8 176.9L182.8 175.1Z" color="#0061ff"/><path d="M185.9 178.8L189.9 180.5L190.8 178.6L186.8 176.9Z" color="#005fff"/><path d="M143.1 157.7L147.1 159.4L148.0 157.4L144.0 155.7Z" color="#00d0ff"/><path d="M147.1 159.4L151.1 161.2L151.9 159.2L148.0 157.4Z" color="#00c5ff"/><path d="M151.1 161.2L155.0 162.9L155.9 160.9L151.9 159.2Z" color="#00baff"/><path d="M155.0 162.9L159.0 164.7L159.9 162.7L155.9 160.9Z" color="#00afff"/><path d="M159.0 164.7L163.0 166.4L163.8 164.4L159.9 162.7Z" color="#00a4ff"/><path d="M163.0 166.4L166.9 168.1L167.8 166.2L163.8 164.4Z" color="#0099ff"/><path d="M166.9 168.1L170.9 169.9L171.8 167.9L167.8 166.2Z" color="#008cff"/><path d="M170.9 169.9L174.9 171.6L175.7 169.7L171.8 167.9Z" color="#007eff"/><path d="M174.9 171.6L178.8 173.4L179.7 171.4L175.7 169.7Z" color="#0070ff"/><path d="M178.8 173.4L182.8 175.1L183.7 173.2L179.7 171.4Z" color="#0069ff"/><path d="M182.8 175.1L186.8 176.9L187.6 174.9L183.7 173.2Z" color="#0068ff"/><path d="M186.8 176.9L190.8 178.6L191.6 176.7L187.6 174.9Z" color="#0066ff"/><path d="M144.0 155.7L148.0 157.4L148.9 155.4L144.9 153.6Z" color="#00d7ff"/><path d="M148.0 157.4L151.9 159.2L152.8 157.2L148.9 155.4Z" color="#00ccff"/><path d="M151.9 159.2L155.9 160.9L156.8 158.9L152.8 157.2Z" color="#00c1ff"/><path d="M155.9 160.9L159.9 162.7L160.8 160.7L156.8 158.9Z" color="#00b6ff"/><path d="M159.9 162.7L163.8 164.4L164.7 162.4L160.8 160.7Z" color="#00abff"/><path d="M163.8 164.4L167.8 166.2L168.7 164.2L164.7 162.4Z" color="#00a0ff"/><path d="M167.8 166.2L171.8 167.9L172.7 166.0L168.7 164.2Z" color="#0094ff"/><path d="M171.8 167.9L175.7 169.7L176.6 167.7L172.7 166.0Z" color="#0086ff"/><path d="M175.7 169.7L179.7 171.4L180.6 169.5L176.6 167.7Z" color="#0079ff"/><path d="M179.7 171.4L183.7 173.2L184.5 171.2L180.6 169.5Z" color="#0070ff"/><path d="M183.7 173.2L187.6 174.9L188.5 173.0L184.5 171.2Z" color="#006fff"/><path d="M187.6 174.9L191.6 176.7L192.5 174.7L188.5 173.0Z" color="#006dff"/><path d="M144.9 153.6L148.9 155.4L149.8 153.4L145.8 151.6Z" color="#00deff"/><path d="M148.9 155.4L152.8 157.2L153.7 155.2L149.8 153.4Z" color="#00d3ff"/><path d="M152.8 157.2L156.8 158.9L157.7 156.9L153.7 155.2Z" color="#00c8ff"/><path d="M156.8 158.9L160.8 160.7L161.7 158.7L157.7 156.9Z" color="#00beff"/><path d="M160.8 160.7L164.7 162.4L165.6 160.5L161.7 158.7Z" color="#00b3ff"/><path d="M164.7 162.4L168.7 164.2L169.6 162.2L165.6 160.5Z" color="#00a8ff"/><path d="M168.7 164.2L172.7 166.0L173.5 164.0L169.6 162.2Z" color="#009cff"/><path d="M172.7 166.0L176.6 167.7L177.5 165.8L173.5 164.0Z" color="#008eff"/><path d="M176.6 167.7L180.6 169.5L181.5 167.5L177.5 165.8Z" color="#0081ff"/><path d="M180.6 169.5L184.5 171.2L185.4 169.3L181.5 167.5Z" color="#0079ff"/><path d="M184.5 171.2L188.5 173.0L189.4 171.0L185.4 169.3Z" color="#0076ff"/><path d="M188.5 173.0L192.5 174.7L193.3 172.8L189.4 171.0Z" color="#0074ff"/><path d="M145.8 151.6L149.8 153.4L150.7 151.4L146.7 149.6Z" color="#00e5ff"/><path d="M149.8 153.4L153.7 155.2L154.6 153.2L150.7 151.4Z" color="#00daff"/><path d="M153.7 155.2L157.7 156.9L158.6 154.9L154.6 153.2Z" color="#00cfff"/><path d="M157.7 156.9L161.7 158.7L162.6 156.7L158.6 154.9Z" color="#00c5ff"/><path d="M161.7 158.7L165.6 160.5L166.5 158.5L162.6 156.7Z" color="#00baff"/><path d="M165.6 160.5L169.6 162.2L170.5 160.2L166.5 158.5Z" color="#00b0ff"/><path d="M169.6 162.2L173.5 164.0L174.4 162.0L170.5 160.2Z" color="#00a4ff"/><path d="M173.5 164.0L177.5 165.8L178.4 163.8L174.4 162.0Z" color="#0097ff"/><path d="M177.5 165.8L181.5 167.5L182.3 165.6L178.4 163.8Z" color="#0089ff"/><path d="M181.5 167.5L185.4 169.3L186.3 167.3L182.3 165.6Z" color="#0081ff"/><path d="M185.4 169.3L189.4 171.0L190.2 169.1L186.3 167.3Z" color="#007eff"/><path d="M189.4 171.0L193.3 172.8L194.2 170.9L190.2 169.1Z" color="#007bff"/><path d="M146.7 149.6L150.7 151.4L151.6 149.4L147.6 147.6Z" color="#00ebff"/><path d="M150.7 151.4L154.6 153.2L155.5 151.2L151.6 149.4Z" color="#00e1ff"/><path d="M154.6 153.2L158.6 154.9L159.5 152.9L155.5 151.2Z" color="#00d6ff"/><path d="M158.6 154.9L162.6 156.7L163.5 154.7L159.5 152.9Z" color="#00ccff"/><path d="M162.6 156.7L166.5 158.5L167.4 156.5L163.5 154.7Z" color="#00c2ff"/><path d="M166.5 158.5L170.5 160.2L171.4 158.3L167.4 156.5Z" color="#00b7ff"/><path d="M170.5 160.2L174.4 162.0L175.3 160.1L171.4 158.3Z" color="#00acff"/><path d="M174.4 162.0L178.4 163.8L179.3 161.8L175.3 160.1Z" color="#009fff"/><path d="M178.4 163.8L182.3 165.6L183.2 163.6L179.3 161.8Z" color="#0092ff"/><path d="M182.3 165.6L186.3 167.3L187.2 165.4L183.2 163.6Z" color="#008aff"/><path d="M186.3 167.3L190.2 169.1L191.1 167.2L187.2 165.4Z" color="#0086ff"/><path d="M190.2 169.1L194.2 170.9L195.1 169.0L191.1 167.2Z" color="#0083ff"/><path d="M147.6 147.6L151.6 149.4L152.5 147.4L148.6 145.6Z" color="#00f2ff"/><path d="M151.6 149.4L155.5 151.2L156.5 149.2L152.5 147.4Z" color="#00e8ff"/><path d="M155.5 151.2L159.5 152.9L160.4 150.9L156.5 149.2Z" color="#00deff"/><path d="M159.5 152.9L163.5 154.7L164.4 152.7L160.4 150.9Z" color="#00d3ff"/><path d="M163.5 154.7L167.4 156.5L168.3 154.5L164.4 152.7Z" color="#00c9ff"/><path d="M167.4 156.5L171.4 158.3L172.3 156.3L168.3 154.5Z" color="#00bfff"/><path d="M171.4 158.3L175.3 160.1L176.2 158.1L172.3 156.3Z" color="#00b3ff"/><path d="M175.3 160.1L179.3 161.8L180.1 159.9L176.2 158.1Z" color="#00a7ff"/><path d="M179.3 161.8L183.2 163.6L184.1 161.7L180.1 159.9Z" color="#009aff"/><path d="M183.2 163.6L187.2 165.4L188.0 163.5L184.1 161.7Z" color="#0092ff"/><path d="M187.2 165.4L191.1 167.2L192.0 165.2L188.0 163.5Z" color="#008fff"/><path d="M191.1 167.2L195.1 169.0L195.9 167.0L192.0 165.2Z" color="#008bff"/><path d="M148.6 145.6L152.5 147.4L153.4 145.4L149.5 143.6Z" color="#00f9ff"/><path d="M152.5 147.4L156.5 149.2L157.4 147.2L153.4 145.4Z" color="#00efff"/><path d="M156.5 149.2L160.4 150.9L161.3 149.0L157.4 147.2Z" color="#00e5ff"/><path d="M160.4 150.9L164.4 152.7L165.3 150.8L161.3 149.0Z" color="#00daff"/><path d="M164.4 152.7L168.3 154.5L169.2 152.5L165.3 150.8Z" color="#00d0ff"/><path d="M168.3 154.5L172.3 156.3L173.2 154.3L169.2 152.5Z" color="#00c6ff"/><path d="M172.3 156.3L176.2 158.1L177.1 156.1L173.2 154.3Z" color="#00bbff"/><path d="M176.2 158.1L180.1 159.9L181.0 157.9L177.1 156.1Z" color="#00afff"/><path d="M180.1 159.9L184.1 161.7L185.0 159.7L181.0 157.9Z" color="#00a3ff"/><path d="M184.1 161.7L188.0 163.5L188.9 161.5L185.0 159.7Z" color="#009bff"/><path d="M188.0 163.5L192.0 165.2L192.9 163.3L188.9 161.5Z" color="#0097ff"/><path d="M192.0 165.2L195.9 167.0L196.8 165.1L192.9 163.3Z" color="#0093ff"/><path d="M149.5 143.6L153.4 145.4L154.3 143.4L150.4 141.6Z" color="#00ffff"/><path d="M153.4 145.4L157.4 147.2L158.3 145.2L154.3 143.4Z" color="#00f6ff"/><path d="M157.4 147.2L161.3 149.0L162.2 147.0L158.3 145.2Z" color="#00ecff"/><path d="M161.3 149.0L165.3 150.8L166.2 148.8L162.2 147.0Z" color="#00e2ff"/><path d="M165.3 150.8L169.2 152.5L170.1 150.6L166.2 148.8Z" color="#00d8ff"/><path d="M169.2 152.5L173.2 154.3L174.1 152.4L170.1 150.6Z" color="#00ceff"/><path d="M173.2 154.3L177.1 156.1L178.0 154.2L174.1 152.4Z" color="#00c3ff"/><path d="M177.1 156.1L181.0 157.9L181.9 156.0L178.0 154.2Z" color="#00b7ff"/><path d="M181.0 157.9L185.0 159.7L185.9 157.8L181.9 156.0Z" color="#00abff"/><path d="M185.0 159.7L188.9 161.5L189.8 159.6L185.9 157.8Z" color="#00a3ff"/><path d="M188.9 161.5L192.9 163.3L193.8 161.4L189.8 159.6Z" color="#009fff"/><path d="M192.9 163.3L196.8 165.1L197.7 163.2L193.8 161.4Z" color="#009bff"/><path d="M150.4 141.6L154.3 143.4L155.3 141.4L151.3 139.6Z" color="#07fff8"/><path d="M154.3 143.4L158.3 145.2L159.2 143.2L155.3 141.4Z" color="#00fcff"/><path d="M158.3 145.2L162.2 147.0L163.1 145.0L159.2 143.2Z" color="#00f3ff"/><path d="M162.2 147.0L166.2 148.8L167.1 146.8L163.1 145.0Z" color="#00e9ff"/><path d="M166.2 148.8L170.1 150.6L171.0 148.6L167.1 146.8Z" color="#00dfff"/><path d="M170.1 150.6L174.1 152.4L175.0 150.4L171.0 148.6Z" color="#00d5ff"/><path d="M174.1 152.4L178.0 154.2L178.9 152.2L175.0 150.4Z" color="#00cbff"/><path d="M178.0 154.2L181.9 156.0L182.8 154.0L178.9 152.2Z" color="#00bfff"/><path d="M181.9 156.0L185.9 157.8L186.8 155.8L182.8 154.0Z" color="#00b3ff"/><path d="M185.9 157.8L189.8 159.6L190.7 157.6L186.8 155.8Z" color="#00acff"/><path d="M189.8 159.6L193.8 161.4L194.7 159.5L190.7 157.6Z" color="#00a7ff"/><path d="M193.8 161.4L197.7 163.2L198.6 161.3L194.7 159.5Z" color="#00a3ff"/><path d="M151.3 139.6L155.3 141.4L156.2 139.4L152.2 137.6Z" color="#0efff1"/><path d="M155.3 141.4L159.2 143.2L160.1 141.2L156.2 139.4Z" color="#04fffb"/><path d="M159.2 143.2L163.1 145.0L164.1 143.0L160.1 141.2Z" color="#00faff"/><path d="M163.1 145.0L167.1 146.8L168.0 144.8L164.1 143.0Z" color="#00f0ff"/><path d="M167.1 146.8L171.0 148.6L171.9 146.6L168.0 144.8Z" color="#00e6ff"/><path d="M171.0 148.6L175.0 150.4L175.9 148.5L171.9 146.6Z" color="#00ddff"/><path d="M175.0 150.4L178.9 152.2L179.8 150.3L175.9 148.5Z" color="#00d2ff"/><path d="M178.9 152.2L182.8 154.0L183.7 152.1L179.8 150.3Z" color="#00c7ff"/><path d="M182.8 154.0L186.8 155.8L187.7 153.9L183.7 152.1Z" color="#00bcff"/><path d="M186.8 155.8L190.7 157.6L191.6 155.7L187.7 153.9Z" color="#00b4ff"/><path d="M190.7 157.6L194.7 159.5L195.6 157.5L191.6 155.7Z" color="#00b0ff"/><path d="M194.7 159.5L198.6 161.3L199.5 159.3L195.6 157.5Z" color="#00abff"/><path d="M152.2 137.6L156.2 139.4L157.1 137.4L153.2 135.6Z" color="#17ffe8"/><path d="M156.2 139.4L160.1 141.2L161.0 139.2L157.1 137.4Z" color="#0bfff4"/><path d="M160.1 141.2L164.1 143.0L165.0 141.0L161.0 139.2Z" color="#02fffd"/><path d="M164.1 143.0L168.0 144.8L168.9 142.9L165.0 141.0Z" color="#00f7ff"/><path d="M168.0 144.8L171.9 146.6L172.8 144.7L168.9 142.9Z" color="#00eeff"/><path d="M171.9 146.6L175.9 148.5L176.8 146.5L172.8 144.7Z" color="#00e4ff"/><path d="M175.9 148.5L179.8 150.3L180.7 148.3L176.8 146.5Z" color="#00daff"/><path d="M179.8 150.3L183.7 152.1L184.6 150.1L180.7 148.3Z" color="#00cfff"/><path d="M183.7 152.1L187.7 153.9L188.6 152.0L184.6 150.1Z" color="#00c4ff"/><path d="M187.7 153.9L191.6 155.7L192.5 153.8L188.6 152.0Z" color="#00bcff"/><path d="M191.6 155.7L195.6 157.5L196.4 155.6L192.5 153.8Z" color="#00b8ff"/><path d="M195.6 157.5L199.5 159.3L200.4 157.4L196.4 155.6Z" color="#00b3ff"/><path d="M153.2 135.6L157.1 137.4L158.0 135.4L154.1 133.6Z" color="#24ffdb"/><path d="M157.1 137.4L161.0 139.2L162.0 137.2L158.0 135.4Z" color="#15ffea"/><path d="M161.0 139.2L165.0 141.0L165.9 139.1L162.0 137.2Z" color="#09fff6"/><path d="M165.0 141.0L168.9 142.9L169.8 140.9L165.9 139.1Z" color="#00feff"/><path d="M168.9 142.9L172.8 144.7L173.8 142.7L169.8 140.9Z" color="#00f5ff"/><path d="M172.8 144.7L176.8 146.5L177.7 144.5L173.8 142.7Z" color="#00ecff"/><path d="M176.8 146.5L180.7 148.3L181.6 146.4L177.7 144.5Z" color="#00e2ff"/><path d="M180.7 148.3L184.6 150.1L185.6 148.2L181.6 146.4Z" color="#00d7ff"/><path d="M184.6 150.1L188.6 152.0L189.5 150.0L185.6 148.2Z" color="#00cdff"/><path d="M188.6 152.0L192.5 153.8L193.4 151.8L189.5 150.0Z" color="#00c5ff"/><path d="M192.5 153.8L196.4 155.6L197.3 153.7L193.4 151.8Z" color="#00c0ff"/><path d="M196.4 155.6L200.4 157.4L201.3 155.5L197.3 153.7Z" color="#00bbff"/><path d="M154.1 133.6L158.0 135.4L159.0 133.4L155.0 131.6Z" color="#30ffcf"/><path d="M158.0 135.4L162.0 137.2L162.9 135.2L159.0 133.4Z" color="#22ffdd"/><path d="M162.0 137.2L165.9 139.1L166.8 137.1L162.9 135.2Z" color="#13ffec"/><path d="M165.9 139.1L169.8 140.9L170.8 138.9L166.8 137.1Z" color="#07fff8"/><path d="M169.8 140.9L173.8 142.7L174.7 140.7L170.8 138.9Z" color="#00fcff"/><path d="M173.8 142.7L177.7 144.5L178.6 142.6L174.7 140.7Z" color="#00f3ff"/><path d="M177.7 144.5L181.6 146.4L182.5 144.4L178.6 142.6Z" color="#00eaff"/><path d="M181.6 146.4L185.6 148.2L186.5 146.2L182.5 144.4Z" color="#00dfff"/><path d="M185.6 148.2L189.5 150.0L190.4 148.1L186.5 146.2Z" color="#00d5ff"/><path d="M189.5 150.0L193.4 151.8L194.3 149.9L190.4 148.1Z" color="#00cdff"/><path d="M193.4 151.8L197.3 153.7L198.3 151.7L194.3 149.9Z" color="#00c8ff"/><path d="M197.3 153.7L201.3 155.5L202.2 153.6L198.3 151.7Z" color="#00c3ff"/><path d="M155.0 131.6L159.0 133.4L159.9 131.4L156.0 129.6Z" color="#3dffc2"/><path d="M159.0 133.4L162.9 135.2L163.8 133.3L159.9 131.4Z" color="#2effd1"/><path d="M162.9 135.2L166.8 137.1L167.8 135.1L163.8 133.3Z" color="#20ffdf"/><path d="M166.8 137.1L170.8 138.9L171.7 136.9L167.8 135.1Z" color="#12ffed"/><path d="M170.8 138.9L174.7 140.7L175.6 138.8L171.7 136.9Z" color="#05fffa"/><path d="M174.7 140.7L178.6 142.6L179.5 140.6L175.6 138.8Z" color="#00fbff"/><path d="M178.6 142.6L182.5 144.4L183.5 142.5L179.5 140.6Z" color="#00f1ff"/><path d="M182.5 144.4L186.5 146.2L187.4 144.3L183.5 142.5Z" color="#00e7ff"/><path d="M186.5 146.2L190.4 148.1L191.3 146.1L187.4 144.3Z" color="#00ddff"/><path d="M190.4 148.1L194.3 149.9L195.2 148.0L191.3 146.1Z" color="#00d6ff"/><path d="M194.3 149.9L198.3 151.7L199.2 149.8L195.2 148.0Z" color="#00d0ff"/><path d="M198.3 151.7L202.2 153.6L203.1 151.7L199.2 149.8Z" color="#00cbff"/><path d="M156.0 129.6L159.9 131.4L160.9 129.4L156.9 127.6Z" color="#49ffb6"/><path d="M159.9 131.4L163.8 133.3L164.8 131.3L160.9 129.4Z" color="#3bffc4"/><path d="M163.8 133.3L167.8 135.1L168.7 133.1L164.8 131.3Z" color="#2dffd2"/><path d="M167.8 135.1L171.7 136.9L172.6 135.0L168.7 133.1Z" color="#1fffe0"/><path d="M171.7 136.9L175.6 138.8L176.5 136.8L172.6 135.0Z" color="#11ffee"/><path d="M175.6 138.8L179.5 140.6L180.5 138.7L176.5 136.8Z" color="#03fffc"/><path d="M179.5 140.6L183.5 142.5L184.4 140.5L180.5 138.7Z" color="#00f9ff"/><path d="M183.5 142.5L187.4 144.3L188.3 142.4L184.4 140.5Z" color="#00efff"/><path d="M187.4 144.3L191.3 146.1L192.2 144.2L188.3 142.4Z" color="#00e6ff"/><path d="M191.3 146.1L195.2 148.0L196.1 146.0L192.2 144.2Z" color="#00deff"/><path d="M195.2 148.0L199.2 149.8L200.1 147.9L196.1 146.0Z" color="#00d9ff"/><path d="M199.2 149.8L203.1 151.7L204.0 149.7L200.1 147.9Z" color="#00d3ff"/><path d="M156.9 127.6L160.9 129.4L161.8 127.5L157.9 125.6Z" color="#56ffa9"/><path d="M160.9 129.4L164.8 131.3L165.7 129.3L161.8 127.5Z" color="#48ffb7"/><path d="M164.8 131.3L168.7 133.1L169.6 131.2L165.7 129.3Z" color="#3affc5"/><path d="M168.7 133.1L172.6 135.0L173.5 133.0L169.6 131.2Z" color="#2cffd3"/><path d="M172.6 135.0L176.5 136.8L177.5 134.9L173.5 133.0Z" color="#1effe1"/><path d="M176.5 136.8L180.5 138.7L181.4 136.7L177.5 134.9Z" color="#10ffef"/><path d="M180.5 138.7L184.4 140.5L185.3 138.6L181.4 136.7Z" color="#02fffd"/><path d="M184.4 140.5L188.3 142.4L189.2 140.4L185.3 138.6Z" color="#00f7ff"/><path d="M188.3 142.4L192.2 144.2L193.1 142.3L189.2 140.4Z" color="#00eeff"/><path d="M192.2 144.2L196.1 146.0L197.1 144.1L193.1 142.3Z" color="#00e6ff"/><path d="M196.1 146.0L200.1 147.9L201.0 146.0L197.1 144.1Z" color="#00e1ff"/><path d="M200.1 147.9L204.0 149.7L204.9 147.8L201.0 146.0Z" color="#00dbff"/><path d="M157.9 125.6L161.8 127.5L162.7 125.5L158.8 123.6Z" color="#62ff9d"/><path d="M161.8 127.5L165.7 129.3L166.7 127.3L162.7 125.5Z" color="#55ffaa"/><path d="M165.7 129.3L169.6 131.2L170.6 129.2L166.7 127.3Z" color="#47ffb8"/><path d="M169.6 131.2L173.5 133.0L174.5 131.1L170.6 129.2Z" color="#39ffc6"/><path d="M173.5 133.0L177.5 134.9L178.4 132.9L174.5 131.1Z" color="#2bffd4"/><path d="M177.5 134.9L181.4 136.7L182.3 134.8L178.4 132.9Z" color="#1dffe2"/><path d="M181.4 136.7L185.3 138.6L186.2 136.6L182.3 134.8Z" color="#0ffff0"/><path d="M185.3 138.6L189.2 140.4L190.2 138.5L186.2 136.6Z" color="#00ffff"/><path d="M189.2 140.4L193.1 142.3L194.1 140.3L190.2 138.5Z" color="#00f6ff"/><path d="M193.1 142.3L197.1 144.1L198.0 142.2L194.1 140.3Z" color="#00efff"/><path d="M197.1 144.1L201.0 146.0L201.9 144.0L198.0 142.2Z" color="#00e9ff"/><path d="M201.0 146.0L204.9 147.8L205.8 145.9L201.9 144.0Z" color="#00e3ff"/><path d="M158.8 123.6L162.7 125.5L163.7 123.5L159.8 121.6Z" color="#6fff90"/><path d="M162.7 125.5L166.7 127.3L167.6 125.4L163.7 123.5Z" color="#61ff9e"/><path d="M166.7 127.3L170.6 129.2L171.5 127.2L167.6 125.4Z" color="#53ffac"/><path d="M170.6 129.2L174.5 131.1L175.4 129.1L171.5 127.2Z" color="#46ffb9"/><path d="M174.5 131.1L178.4 132.9L179.3 131.0L175.4 129.1Z" color="#38ffc7"/><path d="M178.4 132.9L182.3 134.8L183.3 132.8L179.3 131.0Z" color="#2affd5"/><path d="M182.3 134.8L186.2 136.6L187.2 134.7L183.3 132.8Z" color="#1cffe3"/><path d="M186.2 136.6L190.2 138.5L191.1 136.5L187.2 134.7Z" color="#0efff1"/><path d="M190.2 138.5L194.1 140.3L195.0 138.4L191.1 136.5Z" color="#00ffff"/><path d="M194.1 140.3L198.0 142.2L198.9 140.3L195.0 138.4Z" color="#00f7ff"/><path d="M198.0 142.2L201.9 144.0L202.8 142.1L198.9 140.3Z" color="#00f1ff"/><path d="M201.9 144.0L205.8 145.9L206.7 144.0L202.8 142.1Z" color="#00ebff"/><path d="M159.8 121.6L163.7 123.5L164.6 121.5L160.7 119.7Z" color="#7bff84"/><path d="M163.7 123.5L167.6 125.4L168.5 123.4L164.6 121.5Z" color="#6eff91"/><path d="M167.6 125.4L171.5 127.2L172.5 125.3L168.5 123.4Z" color="#60ff9f"/><path d="M171.5 127.2L175.4 129.1L176.4 127.1L172.5 125.3Z" color="#53ffac"/><path d="M175.4 129.1L179.3 131.0L180.3 129.0L176.4 127.1Z" color="#45ffba"/><path d="M179.3 131.0L183.3 132.8L184.2 130.9L180.3 129.0Z" color="#38ffc7"/><path d="M183.3 132.8L187.2 134.7L188.1 132.7L184.2 130.9Z" color="#2affd5"/><path d="M187.2 134.7L191.1 136.5L192.0 134.6L188.1 132.7Z" color="#1cffe3"/><path d="M191.1 136.5L195.0 138.4L195.9 136.5L192.0 134.6Z" color="#0efff1"/><path d="M195.0 138.4L198.9 140.3L199.8 138.3L195.9 136.5Z" color="#01fffe"/><path d="M198.9 140.3L202.8 142.1L203.7 140.2L199.8 138.3Z" color="#00f9ff"/><path d="M202.8 142.1L206.7 144.0L207.7 142.1L203.7 140.2Z" color="#00f3ff"/><path d="M160.7 119.7L164.6 121.5L165.6 119.6L161.7 117.7Z" color="#88ff77"/><path d="M164.6 121.5L168.5 123.4L169.5 121.4L165.6 119.6Z" color="#7aff85"/><path d="M168.5 123.4L172.5 125.3L173.4 123.3L169.5 121.4Z" color="#6dff92"/><path d="M172.5 125.3L176.4 127.1L177.3 125.2L173.4 123.3Z" color="#60ff9f"/><path d="M176.4 127.1L180.3 129.0L181.2 127.0L177.3 125.2Z" color="#52ffad"/><path d="M180.3 129.0L184.2 130.9L185.1 128.9L181.2 127.0Z" color="#45ffba"/><path d="M184.2 130.9L188.1 132.7L189.0 130.8L185.1 128.9Z" color="#37ffc8"/><path d="M188.1 132.7L192.0 134.6L192.9 132.7L189.0 130.8Z" color="#29ffd6"/><path d="M192.0 134.6L195.9 136.5L196.9 134.5L192.9 132.7Z" color="#1cffe3"/><path d="M195.9 136.5L199.8 138.3L200.8 136.4L196.9 134.5Z" color="#0ffff0"/><path d="M199.8 138.3L203.7 140.2L204.7 138.3L200.8 136.4Z" color="#03fffc"/><path d="M203.7 140.2L207.7 142.1L208.6 140.1L204.7 138.3Z" color="#00fbff"/><path d="M161.7 117.7L165.6 119.6L166.5 117.6L162.6 115.7Z" color="#94ff6b"/><path d="M165.6 119.6L169.5 121.4L170.4 119.5L166.5 117.6Z" color="#87ff78"/><path d="M169.5 121.4L173.4 123.3L174.3 121.3L170.4 119.5Z" color="#7aff85"/><path d="M173.4 123.3L177.3 125.2L178.3 123.2L174.3 121.3Z" color="#6dff92"/><path d="M177.3 125.2L181.2 127.0L182.2 125.1L178.3 123.2Z" color="#5fffa0"/><path d="M181.2 127.0L185.1 128.9L186.1 127.0L182.2 125.1Z" color="#52ffad"/><path d="M185.1 128.9L189.0 130.8L190.0 128.8L186.1 127.0Z" color="#45ffba"/><path d="M189.0 130.8L192.9 132.7L193.9 130.7L190.0 128.8Z" color="#37ffc8"/><path d="M192.9 132.7L196.9 134.5L197.8 132.6L193.9 130.7Z" color="#2affd5"/><path d="M196.9 134.5L200.8 136.4L201.7 134.5L197.8 132.6Z" color="#1dffe2"/><path d="M200.8 136.4L204.7 138.3L205.6 136.4L201.7 134.5Z" color="#11ffee"/><path d="M204.7 138.3L208.6 140.1L209.5 138.2L205.6 136.4Z" color="#04fffb"/><path d="M162.6 115.7L166.5 117.6L167.5 115.6L163.6 113.7Z" color="#a1ff5e"/><path d="M166.5 117.6L170.4 119.5L171.4 117.5L167.5 115.6Z" color="#94ff6b"/><path d="M170.4 119.5L174.3 121.3L175.3 119.4L171.4 117.5Z" color="#87ff78"/><path d="M174.3 121.3L178.3 123.2L179.2 121.3L175.3 119.4Z" color="#7aff85"/><path d="M178.3 123.2L182.2 125.1L183.1 123.1L179.2 121.3Z" color="#6dff92"/><path d="M182.2 125.1L186.1 127.0L187.0 125.0L183.1 123.1Z" color="#5fffa0"/><path d="M186.1 127.0L190.0 128.8L190.9 126.9L187.0 125.0Z" color="#52ffad"/><path d="M190.0 128.8L193.9 130.7L194.8 128.8L190.9 126.9Z" color="#45ffba"/><path d="M193.9 130.7L197.8 132.6L198.7 130.7L194.8 128.8Z" color="#38ffc7"/><path d="M197.8 132.6L201.7 134.5L202.6 132.6L198.7 130.7Z" color="#2bffd4"/><path d="M201.7 134.5L205.6 136.4L206.5 134.4L202.6 132.6Z" color="#1effe1"/><path d="M205.6 136.4L209.5 138.2L210.4 136.3L206.5 134.4Z" color="#12ffed"/><path d="M163.6 113.7L167.5 115.6L168.4 113.6L164.5 111.8Z" color="#adff52"/><path d="M167.5 115.6L171.4 117.5L172.3 115.5L168.4 113.6Z" color="#a0ff5f"/><path d="M171.4 117.5L175.3 119.4L176.2 117.4L172.3 115.5Z" color="#93ff6c"/><path d="M175.3 119.4L179.2 121.3L180.2 119.3L176.2 117.4Z" color="#86ff79"/><path d="M179.2 121.3L183.1 123.1L184.1 121.2L180.2 119.3Z" color="#7aff85"/><path d="M183.1 123.1L187.0 125.0L188.0 123.1L184.1 121.2Z" color="#6dff92"/><path d="M187.0 125.0L190.9 126.9L191.9 125.0L188.0 123.1Z" color="#60ff9f"/><path d="M190.9 126.9L194.8 128.8L195.8 126.9L191.9 125.0Z" color="#53ffac"/><path d="M194.8 128.8L198.7 130.7L199.7 128.7L195.8 126.9Z" color="#46ffb9"/><path d="M198.7 130.7L202.6 132.6L203.6 130.6L199.7 128.7Z" color="#39ffc6"/><path d="M202.6 132.6L206.5 134.4L207.5 132.5L203.6 130.6Z" color="#2cffd3"/><path d="M206.5 134.4L210.4 136.3L211.4 134.4L207.5 132.5Z" color="#20ffdf"/><path d="M164.5 111.8L168.4 113.6L169.4 111.7L165.5 109.8Z" color="#baff45"/><path d="M168.4 113.6L172.3 115.5L173.3 113.6L169.4 111.7Z" color="#adff52"/><path d="M172.3 115.5L176.2 117.4L177.2 115.5L173.3 113.6Z" color="#a0ff5f"/><path d="M176.2 117.4L180.2 119.3L181.1 117.4L177.2 115.5Z" color="#94ff6b"/><path d="M180.2 119.3L184.1 121.2L185.0 119.2L181.1 117.4Z" color="#87ff78"/><path d="M184.1 121.2L188.0 123.1L188.9 121.1L185.0 119.2Z" color="#7aff85"/><path d="M188.0 123.1L191.9 125.0L192.8 123.0L188.9 121.1Z" color="#6dff92"/><path d="M191.9 125.0L195.8 126.9L196.7 124.9L192.8 123.0Z" color="#60ff9f"/><path d="M195.8 126.9L199.7 128.7L200.6 126.8L196.7 124.9Z" color="#53ffac"/><path d="M199.7 128.7L203.6 130.6L204.5 128.7L200.6 126.8Z" color="#47ffb8"/><path d="M203.6 130.6L207.5 132.5L208.4 130.6L204.5 128.7Z" color="#3affc5"/><path d="M207.5 132.5L211.4 134.4L212.3 132.5L208.4 130.6Z" color="#2dffd2"/><path d="M165.5 109.8L169.4 111.7L170.4 109.7L166.5 107.8Z" color="#c7ff38"/><path d="M169.4 111.7L173.3 113.6L174.3 111.6L170.4 109.7Z" color="#bbff44"/><path d="M173.3 113.6L177.2 115.5L178.2 113.5L174.3 111.6Z" color="#aeff51"/><path d="M177.2 115.5L181.1 117.4L182.1 115.4L178.2 113.5Z" color="#a1ff5e"/><path d="M181.1 117.4L185.0 119.2L186.0 117.3L182.1 115.4Z" color="#94ff6b"/><path d="M185.0 119.2L188.9 121.1L189.9 119.2L186.0 117.3Z" color="#87ff78"/><path d="M188.9 121.1L192.8 123.0L193.8 121.1L189.9 119.2Z" color="#7aff85"/><path d="M192.8 123.0L196.7 124.9L197.6 123.0L193.8 121.1Z" color="#6dff92"/><path d="M196.7 124.9L200.6 126.8L201.5 124.9L197.6 123.0Z" color="#61ff9e"/><path d="M200.6 126.8L204.5 128.7L205.4 126.8L201.5 124.9Z" color="#54ffab"/><path d="M204.5 128.7L208.4 130.6L209.3 128.7L205.4 126.8Z" color="#47ffb8"/><path d="M208.4 130.6L212.3 132.5L213.2 130.6L209.3 128.7Z" color="#3affc5"/><path d="M166.5 107.8L170.4 109.7L171.3 107.8L167.4 105.9Z" color="#d5ff2a"/><path d="M170.4 109.7L174.3 111.6L175.2 109.7L171.3 107.8Z" color="#c8ff37"/><path d="M174.3 111.6L178.2 113.5L179.1 111.6L175.2 109.7Z" color="#bbff44"/><path d="M178.2 113.5L182.1 115.4L183.0 113.5L179.1 111.6Z" color="#aeff51"/><path d="M182.1 115.4L186.0 117.3L186.9 115.4L183.0 113.5Z" color="#a1ff5e"/><path d="M186.0 117.3L189.9 119.2L190.8 117.3L186.9 115.4Z" color="#94ff6b"/><path d="M189.9 119.2L193.8 121.1L194.7 119.2L190.8 117.3Z" color="#87ff78"/><path d="M193.8 121.1L197.6 123.0L198.6 121.1L194.7 119.2Z" color="#7bff84"/><path d="M197.6 123.0L201.5 124.9L202.5 122.9L198.6 121.1Z" color="#6eff91"/><path d="M201.5 124.9L205.4 126.8L206.4 124.8L202.5 122.9Z" color="#61ff9e"/><path d="M205.4 126.8L209.3 128.7L210.3 126.7L206.4 124.8Z" color="#54ffab"/><path d="M209.3 128.7L213.2 130.6L214.2 128.6L210.3 126.7Z" color="#47ffb8"/><path d="M167.4 105.9L171.3 107.8L172.3 105.8L168.4 103.9Z" color="#e2ff1d"/><path d="M171.3 107.8L175.2 109.7L176.2 107.7L172.3 105.8Z" color="#d5ff2a"/><path d="M175.2 109.7L179.1 111.6L180.1 109.6L176.2 107.7Z" color="#c8ff37"/><path d="M179.1 111.6L183.0 113.5L184.0 111.5L180.1 109.6Z" color="#bbff44"/><path d="M183.0 113.5L186.9 115.4L187.9 113.4L184.0 111.5Z" color="#aeff51"/><path d="M186.9 115.4L190.8 117.3L191.8 115.3L187.9 113.4Z" color="#a2ff5d"/><path d="M190.8 117.3L194.7 119.2L195.7 117.2L191.8 115.3Z" color="#95ff6a"/><path d="M194.7 119.2L198.6 121.1L199.5 119.1L195.7 117.2Z" color="#88ff77"/><path d="M198.6 121.1L202.5 122.9L203.4 121.0L199.5 119.1Z" color="#7bff84"/><path d="M202.5 122.9L206.4 124.8L207.3 122.9L203.4 121.0Z" color="#6eff91"/><path d="M206.4 124.8L210.3 126.7L211.2 124.8L207.3 122.9Z" color="#61ff9e"/><path d="M210.3 126.7L214.2 128.6L215.1 126.7L211.2 124.8Z" color="#54ffab"/><path d="M168.4 103.9L172.3 105.8L173.3 103.8L169.4 101.9Z" color="#efff10"/><path d="M172.3 105.8L176.2 107.7L177.1 105.7L173.3 103.8Z" color="#e2ff1d"/><path d="M176.2 107.7L180.1 109.6L181.0 107.7L177.1 105.7Z" color="#d5ff2a"/><path d="M180.1 109.6L184.0 111.5L184.9 109.6L181.0 107.7Z" color="#c9ff36"/><path d="M184.0 111.5L187.9 113.4L188.8 111.5L184.9 109.6Z" color="#bcff43"/><path d="M187.9 113.4L191.8 115.3L192.7 113.4L188.8 111.5Z" color="#afff50"/><path d="M191.8 115.3L195.7 117.2L196.6 115.3L192.7 113.4Z" color="#a2ff5d"/><path d="M195.7 117.2L199.5 119.1L200.5 117.2L196.6 115.3Z" color="#95ff6a"/><path d="M199.5 119.1L203.4 121.0L204.4 119.1L200.5 117.2Z" color="#88ff77"/><path d="M203.4 121.0L207.3 122.9L208.3 121.0L204.4 119.1Z" color="#7bff84"/><path d="M207.3 122.9L211.2 124.8L212.2 122.9L208.3 121.0Z" color="#6eff91"/><path d="M211.2 124.8L215.1 126.7L216.1 124.8L212.2 122.9Z" color="#61ff9e"/><path d="M169.4 101.9L173.3 103.8L174.2 101.9L170.3 100.0Z" color="#fffe00"/><path d="M173.3 103.8L177.1 105.7L178.1 103.8L174.2 101.9Z" color="#f0ff0f"/><path d="M177.1 105.7L181.0 107.7L182.0 105.7L178.1 103.8Z" color="#e3ff1c"/><path d="M181.0 107.7L184.9 109.6L185.9 107.6L182.0 105.7Z" color="#d6ff29"/><path d="M184.9 109.6L188.8 111.5L189.8 109.5L185.9 107.6Z" color="#c9ff36"/><path d="M188.8 111.5L192.7 113.4L193.7 111.4L189.8 109.5Z" color="#bcff43"/><path d="M192.7 113.4L196.6 115.3L197.6 113.3L193.7 111.4Z" color="#afff50"/><path d="M196.6 115.3L200.5 117.2L201.5 115.3L197.6 113.3Z" color="#a2ff5d"/><path d="M200.5 117.2L204.4 119.1L205.3 117.2L201.5 115.3Z" color="#95ff6a"/><path d="M204.4 119.1L208.3 121.0L209.2 119.1L205.3 117.2Z" color="#88ff77"/><path d="M208.3 121.0L212.2 122.9L213.1 121.0L209.2 119.1Z" color="#7bff84"/><path d="M212.2 122.9L216.1 124.8L217.0 122.9L213.1 121.0Z" color="#6eff91"/><path d="M170.3 100.0L174.2 101.9L175.2 99.9L171.3 98.0Z" color="#ffee00"/><path d="M174.2 101.9L178.1 103.8L179.1 101.8L175.2 99.9Z" color="#fffe00"/><path d="M178.1 103.8L182.0 105.7L183.0 103.8L179.1 101.8Z" color="#f0ff0f"/><path d="M182.0 105.7L185.9 107.6L186.9 105.7L183.0 103.8Z" color="#e3ff1c"/><path d="M185.9 107.6L189.8 109.5L190.7 107.6L186.9 105.7Z" color="#d6ff29"/><path d="M189.8 109.5L193.7 111.4L194.6 109.5L190.7 107.6Z" color="#c9ff36"/><path d="M193.7 111.4L197.6 113.3L198.5 111.4L194.6 109.5Z" color="#bcff43"/><path d="M197.6 113.3L201.5 115.3L202.4 113.3L198.5 111.4Z" color="#afff50"/><path d="M201.5 115.3L205.3 117.2L206.3 115.2L202.4 113.3Z" color="#a2ff5d"/><path d="M205.3 117.2L209.2 119.1L210.2 117.2L206.3 115.2Z" color="#95ff6a"/><path d="M209.2 119.1L213.1 121.0L214.1 119.1L210.2 117.2Z" color="#88ff77"/><path d="M213.1 121.0L217.0 122.9L218.0 121.0L214.1 119.1Z" color="#7bff84"/><path d="M171.3 98.0L175.2 99.9L176.2 98.0L172.3 96.1Z" color="#ffde00"/><path d="M175.2 99.9L179.1 101.8L180.0 99.9L176.2 98.0Z" color="#ffee00"/><path d="M179.1 101.8L183.0 103.8L183.9 101.8L180.0 99.9Z" color="#fffe00"/><path d="M183.0 103.8L186.9 105.7L187.8 103.7L183.9 101.8Z" color="#f0ff0f"/><path d="M186.9 105.7L190.7 107.6L191.7 105.6L187.8 103.7Z" color="#e3ff1c"/><path d="M190.7 107.6L194.6 109.5L195.6 107.6L191.7 105.6Z" color="#d6ff29"/><path d="M194.6 109.5L198.5 111.4L199.5 109.5L195.6 107.6Z" color="#c9ff36"/><path d="M198.5 111.4L202.4 113.3L203.4 111.4L199.5 109.5Z" color="#bcff43"/><path d="M202.4 113.3L206.3 115.2L207.3 113.3L203.4 111.4Z" color="#afff50"/><path d="M206.3 115.2L210.2 117.2L211.1 115.2L207.3 113.3Z" color="#a2ff5d"/><path d="M210.2 117.2L214.1 119.1L215.0 117.1L211.1 115.2Z" color="#95ff6a"/><path d="M214.1 119.1L218.0 121.0L218.9 119.1L215.0 117.1Z" color="#88ff77"/><path d="M172.3 96.1L176.2 98.0L177.1 96.0L173.2 94.1Z" color="#ffcd00"/><path d="M176.2 98.0L180.0 99.9L181.0 97.9L177.1 96.0Z" color="#ffdd00"/><path d="M180.0 99.9L183.9 101.8L184.9 99.9L181.0 97.9Z" color="#ffed00"/><path d="M183.9 101.8L187.8 103.7L188.8 101.8L184.9 99.9Z" color="#fffd00"/><path d="M187.8 103.7L191.7 105.6L192.7 103.7L188.8 101.8Z" color="#f1ff0e"/><path d="M191.7 105.6L195.6 107.6L196.6 105.6L192.7 103.7Z" color="#e3ff1c"/><path d="M195.6 107.6L199.5 109.5L200.4 107.5L196.6 105.6Z" color="#d6ff29"/><path d="M199.5 109.5L203.4 111.4L204.3 109.5L200.4 107.5Z" color="#c9ff36"/><path d="M203.4 111.4L207.3 113.3L208.2 111.4L204.3 109.5Z" color="#bcff43"/><path d="M207.3 113.3L211.1 115.2L212.1 113.3L208.2 111.4Z" color="#afff50"/><path d="M211.1 115.2L215.0 117.1L216.0 115.2L212.1 113.3Z" color="#a2ff5d"/><path d="M215.0 117.1L218.9 119.1L219.9 117.2L216.0 115.2Z" color="#95ff6a"/><path d="M173.2 94.1L177.1 96.0L178.1 94.1L174.2 92.1Z" color="#ffbe00"/><path d="M177.1 96.0L181.0 97.9L182.0 96.0L178.1 94.1Z" color="#ffce00"/><path d="M181.0 97.9L184.9 99.9L185.9 97.9L182.0 96.0Z" color="#ffdd00"/><path d="M184.9 99.9L188.8 101.8L189.8 99.8L185.9 97.9Z" color="#ffed00"/><path d="M188.8 101.8L192.7 103.7L193.6 101.8L189.8 99.8Z" color="#fffd00"/><path d="M192.7 103.7L196.6 105.6L197.5 103.7L193.6 101.8Z" color="#f1ff0e"/><path d="M196.6 105.6L200.4 107.5L201.4 105.6L197.5 103.7Z" color="#e3ff1c"/><path d="M200.4 107.5L204.3 109.5L205.3 107.5L201.4 105.6Z" color="#d7ff28"/><path d="M204.3 109.5L208.2 111.4L209.2 109.5L205.3 107.5Z" color="#caff35"/><path d="M208.2 111.4L212.1 113.3L213.1 111.4L209.2 109.5Z" color="#bdff42"/><path d="M212.1 113.3L216.0 115.2L216.9 113.3L213.1 111.4Z" color="#b0ff4f"/><path d="M216.0 115.2L219.9 117.2L220.8 115.2L216.9 113.3Z" color="#a3ff5c"/><path d="M174.2 92.1L178.1 94.1L179.1 92.1L175.2 90.2Z" color="#ffae00"/><path d="M178.1 94.1L182.0 96.0L183.0 94.0L179.1 92.1Z" color="#ffbe00"/><path d="M182.0 96.0L185.9 97.9L186.8 96.0L183.0 94.0Z" color="#ffce00"/><path d="M185.9 97.9L189.8 99.8L190.7 97.9L186.8 96.0Z" color="#ffde00"/><path d="M189.8 99.8L193.6 101.8L194.6 99.8L190.7 97.9Z" color="#ffed00"/><path d="M193.6 101.8L197.5 103.7L198.5 101.8L194.6 99.8Z" color="#fffd00"/><path d="M197.5 103.7L201.4 105.6L202.4 103.7L198.5 101.8Z" color="#f1ff0e"/><path d="M201.4 105.6L205.3 107.5L206.3 105.6L202.4 103.7Z" color="#e4ff1b"/><path d="M205.3 107.5L209.2 109.5L210.1 107.5L206.3 105.6Z" color="#d7ff28"/><path d="M209.2 109.5L213.1 111.4L214.0 109.5L210.1 107.5Z" color="#caff35"/><path d="M213.1 111.4L216.9 113.3L217.9 111.4L214.0 109.5Z" color="#bdff42"/><path d="M216.9 113.3L220.8 115.2L221.8 113.3L217.9 111.4Z" color="#b0ff4f"/><path d="M175.2 90.2L179.1 92.1L180.1 90.2L176.2 88.2Z" color="#ff9f00"/><path d="M179.1 92.1L183.0 94.0L183.9 92.1L180.1 90.2Z" color="#ffaf00"/><path d="M183.0 94.0L186.8 96.0L187.8 94.0L183.9 92.1Z" color="#ffbe00"/><path d="M186.8 96.0L190.7 97.9L191.7 96.0L187.8 94.0Z" color="#ffce00"/><path d="M190.7 97.9L194.6 99.8L195.6 97.9L191.7 96.0Z" color="#ffde00"/><path d="M194.6 99.8L198.5 101.8L199.5 99.8L195.6 97.9Z" color="#ffed00"/><path d="M198.5 101.8L202.4 103.7L203.3 101.8L199.5 99.8Z" color="#fffd00"/><path d="M202.4 103.7L206.3 105.6L207.2 103.7L203.3 101.8Z" color="#f2ff0d"/><path d="M206.3 105.6L210.1 107.5L211.1 105.6L207.2 103.7Z" color="#e5ff1a"/><path d="M210.1 107.5L214.0 109.5L215.0 107.5L211.1 105.6Z" color="#d8ff27"/><path d="M214.0 109.5L217.9 111.4L218.9 109.5L215.0 107.5Z" color="#cbff34"/><path d="M217.9 111.4L221.8 113.3L222.7 111.4L218.9 109.5Z" color="#bfff40"/><path d="M176.2 88.2L180.1 90.2L181.0 88.2L177.2 86.3Z" color="#ff9100"/><path d="M180.1 90.2L183.9 92.1L184.9 90.2L181.0 88.2Z" color="#ffa000"/><path d="M183.9 92.1L187.8 94.0L188.8 92.1L184.9 90.2Z" color="#ffaf00"/><path d="M187.8 94.0L191.7 96.0L192.7 94.0L188.8 92.1Z" color="#ffbf00"/><path d="M191.7 96.0L195.6 97.9L196.5 96.0L192.7 94.0Z" color="#ffce00"/><path d="M195.6 97.9L199.5 99.8L200.4 97.9L196.5 96.0Z" color="#ffdd00"/><path d="M199.5 99.8L203.3 101.8L204.3 99.8L200.4 97.9Z" color="#ffed00"/><path d="M203.3 101.8L207.2 103.7L208.2 101.8L204.3 99.8Z" color="#fffc00"/><path d="M207.2 103.7L211.1 105.6L212.1 103.7L208.2 101.8Z" color="#f3ff0c"/><path d="M211.1 105.6L215.0 107.5L215.9 105.6L212.1 103.7Z" color="#e6ff19"/><path d="M215.0 107.5L218.9 109.5L219.8 107.6L215.9 105.6Z" color="#daff25"/><path d="M218.9 109.5L222.7 111.4L223.7 109.5L219.8 107.6Z" color="#cdff32"/><path d="M177.2 86.3L181.0 88.2L182.0 86.3L178.1 84.3Z" color="#ff8300"/><path d="M181.0 88.2L184.9 90.2L185.9 88.2L182.0 86.3Z" color="#ff9200"/><path d="M184.9 90.2L188.8 92.1L189.8 90.1L185.9 88.2Z" color="#ffa100"/><path d="M188.8 92.1L192.7 94.0L193.6 92.1L189.8 90.1Z" color="#ffaf00"/><path d="M192.7 94.0L196.5 96.0L197.5 94.0L193.6 92.1Z" color="#ffbe00"/><path d="M196.5 96.0L200.4 97.9L201.4 96.0L197.5 94.0Z" color="#ffcd00"/><path d="M200.4 97.9L204.3 99.8L205.3 97.9L201.4 96.0Z" color="#ffdc00"/><path d="M204.3 99.8L208.2 101.8L209.2 99.8L205.3 97.9Z" color="#ffeb00"/><path d="M208.2 101.8L212.1 103.7L213.0 101.8L209.2 99.8Z" color="#fffa00"/><path d="M212.1 103.7L215.9 105.6L216.9 103.7L213.0 101.8Z" color="#f5ff0a"/><path d="M215.9 105.6L219.8 107.6L220.8 105.6L216.9 103.7Z" color="#e8ff17"/><path d="M219.8 107.6L223.7 109.5L224.7 107.6L220.8 105.6Z" color="#dcff23"/><path d="M178.1 84.3L182.0 86.3L183.0 84.3L179.1 82.4Z" color="#ff7500"/><path d="M182.0 86.3L185.9 88.2L186.9 86.3L183.0 84.3Z" color="#ff8300"/><path d="M185.9 88.2L189.8 90.1L190.7 88.2L186.9 86.3Z" color="#ff9200"/><path d="M189.8 90.1L193.6 92.1L194.6 90.1L190.7 88.2Z" color="#ffa000"/><path d="M193.6 92.1L197.5 94.0L198.5 92.1L194.6 90.1Z" color="#ffaf00"/><path d="M197.5 94.0L201.4 96.0L202.4 94.0L198.5 92.1Z" color="#ffbd00"/><path d="M201.4 96.0L205.3 97.9L206.2 96.0L202.4 94.0Z" color="#ffcc00"/><path d="M205.3 97.9L209.2 99.8L210.1 97.9L206.2 96.0Z" color="#ffda00"/><path d="M209.2 99.8L213.0 101.8L214.0 99.8L210.1 97.9Z" color="#ffe900"/><path d="M213.0 101.8L216.9 103.7L217.9 101.8L214.0 99.8Z" color="#fff700"/><path d="M216.9 103.7L220.8 105.6L221.8 103.7L217.9 101.8Z" color="#f8ff07"/><path d="M220.8 105.6L224.7 107.6L225.6 105.7L221.8 103.7Z" color="#ebff14"/><path d="M179.1 82.4L183.0 84.3L184.0 82.4L180.1 80.5Z" color="#ff6800"/><path d="M183.0 84.3L186.9 86.3L187.8 84.3L184.0 82.4Z" color="#ff7600"/><path d="M186.9 86.3L190.7 88.2L191.7 86.3L187.8 84.3Z" color="#ff8400"/><path d="M190.7 88.2L194.6 90.1L195.6 88.2L191.7 86.3Z" color="#ff9200"/><path d="M194.6 90.1L198.5 92.1L199.5 90.2L195.6 88.2Z" color="#ff9f00"/><path d="M198.5 92.1L202.4 94.0L203.3 92.1L199.5 90.2Z" color="#ffad00"/><path d="M202.4 94.0L206.2 96.0L207.2 94.0L203.3 92.1Z" color="#ffbb00"/><path d="M206.2 96.0L210.1 97.9L211.1 96.0L207.2 94.0Z" color="#ffc900"/><path d="M210.1 97.9L214.0 99.8L215.0 97.9L211.1 96.0Z" color="#ffd700"/><path d="M214.0 99.8L217.9 101.8L218.8 99.9L215.0 97.9Z" color="#ffe500"/><path d="M217.9 101.8L221.8 103.7L222.7 101.8L218.8 99.9Z" color="#fff300"/><path d="M221.8 103.7L225.6 105.7L226.6 103.7L222.7 101.8Z" color="#fdff02"/><path d="M180.1 80.5L184.0 82.4L184.9 80.4L181.1 78.5Z" color="#ff5d00"/><path d="M184.0 82.4L187.8 84.3L188.8 82.4L184.9 80.4Z" color="#ff6800"/><path d="M187.8 84.3L191.7 86.3L192.7 84.3L188.8 82.4Z" color="#ff7500"/><path d="M191.7 86.3L195.6 88.2L196.6 86.3L192.7 84.3Z" color="#ff8300"/><path d="M195.6 88.2L199.5 90.2L200.4 88.2L196.6 86.3Z" color="#ff9000"/><path d="M199.5 90.2L203.3 92.1L204.3 90.2L200.4 88.2Z" color="#ff9e00"/><path d="M203.3 92.1L207.2 94.0L208.2 92.1L204.3 90.2Z" color="#ffab00"/><path d="M207.2 94.0L211.1 96.0L212.1 94.1L208.2 92.1Z" color="#ffb800"/><path d="M211.1 96.0L215.0 97.9L215.9 96.0L212.1 94.1Z" color="#ffc600"/><path d="M215.0 97.9L218.8 99.9L219.8 97.9L215.9 96.0Z" color="#ffd300"/><path d="M218.8 99.9L222.7 101.8L223.7 99.9L219.8 97.9Z" color="#ffe100"/><path d="M222.7 101.8L226.6 103.7L227.6 101.8L223.7 99.9Z" color="#ffee00"/><path d="M181.1 78.5L184.9 80.4L185.9 78.5L182.1 76.6Z" color="#ff5400"/><path d="M184.9 80.4L188.8 82.4L189.8 80.5L185.9 78.5Z" color="#ff5d00"/><path d="M188.8 82.4L192.7 84.3L193.7 82.4L189.8 80.5Z" color="#ff6700"/><path d="M192.7 84.3L196.6 86.3L197.5 84.3L193.7 82.4Z" color="#ff7400"/><path d="M196.6 86.3L200.4 88.2L201.4 86.3L197.5 84.3Z" color="#ff8100"/><path d="M200.4 88.2L204.3 90.2L205.3 88.2L201.4 86.3Z" color="#ff8e00"/><path d="M204.3 90.2L208.2 92.1L209.2 90.2L205.3 88.2Z" color="#ff9b00"/><path d="M208.2 92.1L212.1 94.1L213.0 92.1L209.2 90.2Z" color="#ffa700"/><path d="M212.1 94.1L215.9 96.0L216.9 94.1L213.0 92.1Z" color="#ffb400"/><path d="M215.9 96.0L219.8 97.9L220.8 96.0L216.9 94.1Z" color="#ffc100"/><path d="M219.8 97.9L223.7 99.9L224.7 98.0L220.8 96.0Z" color="#ffce00"/><path d="M223.7 99.9L227.6 101.8L228.5 99.9L224.7 98.0Z" color="#ffdb00"/><path d="M182.1 76.6L185.9 78.5L186.9 76.6L183.0 74.6Z" color="#ff4c00"/><path d="M185.9 78.5L189.8 80.5L190.8 78.5L186.9 76.6Z" color="#ff5400"/><path d="M189.8 80.5L193.7 82.4L194.7 80.5L190.8 78.5Z" color="#ff5c00"/><path d="M193.7 82.4L197.5 84.3L198.5 82.4L194.7 80.5Z" color="#ff6600"/><path d="M197.5 84.3L201.4 86.3L202.4 84.4L198.5 82.4Z" color="#ff7200"/><path d="M201.4 86.3L205.3 88.2L206.3 86.3L202.4 84.4Z" color="#ff7e00"/><path d="M205.3 88.2L209.2 90.2L210.1 88.3L206.3 86.3Z" color="#ff8a00"/><path d="M209.2 90.2L213.0 92.1L214.0 90.2L210.1 88.3Z" color="#ff9600"/><path d="M213.0 92.1L216.9 94.1L217.9 92.1L214.0 90.2Z" color="#ffa200"/><path d="M216.9 94.1L220.8 96.0L221.8 94.1L217.9 92.1Z" color="#ffaf00"/><path d="M220.8 96.0L224.7 98.0L225.6 96.0L221.8 94.1Z" color="#ffbb00"/><path d="M224.7 98.0L228.5 99.9L229.5 98.0L225.6 96.0Z" color="#ffc700"/><path d="M183.0 74.6L186.9 76.6L187.9 74.6L184.0 72.7Z" color="#ff4400"/><path d="M186.9 76.6L190.8 78.5L191.8 76.6L187.9 74.6Z" color="#ff4c00"/><path d="M190.8 78.5L194.7 80.5L195.6 78.5L191.8 76.6Z" color="#ff5300"/><path d="M194.7 80.5L198.5 82.4L199.5 80.5L195.6 78.5Z" color="#ff5b00"/><path d="M198.5 82.4L202.4 84.4L203.4 82.4L199.5 80.5Z" color="#ff6300"/><path d="M202.4 84.4L206.3 86.3L207.2 84.4L203.4 82.4Z" color="#ff6e00"/><path d="M206.3 86.3L210.1 88.3L211.1 86.3L207.2 84.4Z" color="#ff7a00"/><path d="M210.1 88.3L214.0 90.2L215.0 88.3L211.1 86.3Z" color="#ff8500"/><path d="M214.0 90.2L217.9 92.1L218.9 90.2L215.0 88.3Z" color="#ff9100"/><path d="M217.9 92.1L221.8 94.1L222.7 92.2L218.9 90.2Z" color="#ff9c00"/><path d="M221.8 94.1L225.6 96.0L226.6 94.1L222.7 92.2Z" color="#ffa800"/><path d="M225.6 96.0L229.5 98.0L230.5 96.1L226.6 94.1Z" color="#ffb300"/><path d="M184.0 72.7L187.9 74.6L188.9 72.7L185.0 70.7Z" color="#ff3c00"/><path d="M187.9 74.6L191.8 76.6L192.7 74.6L188.9 72.7Z" color="#ff4300"/><path d="M191.8 76.6L195.6 78.5L196.6 76.6L192.7 74.6Z" color="#ff4a00"/><path d="M195.6 78.5L199.5 80.5L200.5 78.5L196.6 76.6Z" color="#ff5100"/><path d="M199.5 80.5L203.4 82.4L204.4 80.5L200.5 78.5Z" color="#ff5800"/><path d="M203.4 82.4L207.2 84.4L208.2 82.4L204.4 80.5Z" color="#ff5f00"/><path d="M207.2 84.4L211.1 86.3L212.1 84.4L208.2 82.4Z" color="#ff6900"/><path d="M211.1 86.3L215.0 88.3L216.0 86.4L212.1 84.4Z" color="#ff7400"/><path d="M215.0 88.3L218.9 90.2L219.8 88.3L216.0 86.4Z" color="#ff7f00"/><path d="M218.9 90.2L222.7 92.2L223.7 90.3L219.8 88.3Z" color="#ff8a00"/><path d="M222.7 92.2L226.6 94.1L227.6 92.2L223.7 90.3Z" color="#ff9400"/><path d="M226.6 94.1L230.5 96.1L231.4 94.2L227.6 92.2Z" color="#ff9f00"/><path d="M185.0 70.7L188.9 72.7L189.9 70.8L186.0 68.8Z" color="#ff3400"/><path d="M188.9 72.7L192.7 74.6L193.7 72.7L189.9 70.8Z" color="#ff3b00"/><path d="M192.7 74.6L196.6 76.6L197.6 74.7L193.7 72.7Z" color="#ff4100"/><path d="M196.6 76.6L200.5 78.5L201.5 76.6L197.6 74.7Z" color="#ff4800"/><path d="M200.5 78.5L204.4 80.5L205.3 78.6L201.5 76.6Z" color="#ff4e00"/><path d="M204.4 80.5L208.2 82.4L209.2 80.5L205.3 78.6Z" color="#ff5500"/><path d="M208.2 82.4L212.1 84.4L213.1 82.5L209.2 80.5Z" color="#ff5c00"/><path d="M212.1 84.4L216.0 86.4L216.9 84.4L213.1 82.5Z" color="#ff6300"/><path d="M216.0 86.4L219.8 88.3L220.8 86.4L216.9 84.4Z" color="#ff6d00"/><path d="M219.8 88.3L223.7 90.3L224.7 88.3L220.8 86.4Z" color="#ff7700"/><path d="M223.7 90.3L227.6 92.2L228.6 90.3L224.7 88.3Z" color="#ff8100"/><path d="M227.6 92.2L231.4 94.2L232.4 92.2L228.6 90.3Z" color="#ff8b00"/><path d="M186.0 68.8L189.9 70.8L190.8 68.8L187.0 66.9Z" color="#ff2c00"/><path d="M189.9 70.8L193.7 72.7L194.7 70.8L190.8 68.8Z" color="#ff3200"/><path d="M193.7 72.7L197.6 74.7L198.6 72.7L194.7 70.8Z" color="#ff3900"/><path d="M197.6 74.7L201.5 76.6L202.4 74.7L198.6 72.7Z" color="#ff3f00"/><path d="M201.5 76.6L205.3 78.6L206.3 76.6L202.4 74.7Z" color="#ff4500"/><path d="M205.3 78.6L209.2 80.5L210.2 78.6L206.3 76.6Z" color="#ff4b00"/><path d="M209.2 80.5L213.1 82.5L214.1 80.5L210.2 78.6Z" color="#ff5100"/><path d="M213.1 82.5L216.9 84.4L217.9 82.5L214.1 80.5Z" color="#ff5700"/><path d="M216.9 84.4L220.8 86.4L221.8 84.5L217.9 82.5Z" color="#ff5d00"/><path d="M220.8 86.4L224.7 88.3L225.7 86.4L221.8 84.5Z" color="#ff6400"/><path d="M224.7 88.3L228.6 90.3L229.5 88.4L225.7 86.4Z" color="#ff6d00"/><path d="M228.6 90.3L232.4 92.2L233.4 90.3L229.5 88.4Z" color="#ff7700"/><path d="M187.0 66.9L190.8 68.8L191.8 66.9L188.0 64.9Z" color="#ff2500"/><path d="M190.8 68.8L194.7 70.8L195.7 68.8L191.8 66.9Z" color="#ff2a00"/><path d="M194.7 70.8L198.6 72.7L199.6 70.8L195.7 68.8Z" color="#ff3000"/><path d="M198.6 72.7L202.4 74.7L203.4 72.8L199.6 70.8Z" color="#ff3500"/><path d="M202.4 74.7L206.3 76.6L207.3 74.7L203.4 72.8Z" color="#ff3b00"/><path d="M206.3 76.6L210.2 78.6L211.2 76.7L207.3 74.7Z" color="#ff4000"/><path d="M210.2 78.6L214.1 80.5L215.0 78.6L211.2 76.7Z" color="#ff4600"/><path d="M214.1 80.5L217.9 82.5L218.9 80.6L215.0 78.6Z" color="#ff4c00"/><path d="M217.9 82.5L221.8 84.5L222.8 82.5L218.9 80.6Z" color="#ff5100"/><path d="M221.8 84.5L225.7 86.4L226.6 84.5L222.8 82.5Z" color="#ff5700"/><path d="M225.7 86.4L229.5 88.4L230.5 86.4L226.6 84.5Z" color="#ff5c00"/><path d="M229.5 88.4L233.4 90.3L234.4 88.4L230.5 86.4Z" color="#ff6200"/><path d="M188.0 64.9L191.8 66.9L192.8 65.0L188.9 63.0Z" color="#ff1d00"/><path d="M191.8 66.9L195.7 68.8L196.7 66.9L192.8 65.0Z" color="#ff2200"/><path d="M195.7 68.8L199.6 70.8L200.5 68.9L196.7 66.9Z" color="#ff2700"/><path d="M199.6 70.8L203.4 72.8L204.4 70.8L200.5 68.9Z" color="#ff2c00"/><path d="M203.4 72.8L207.3 74.7L208.3 72.8L204.4 70.8Z" color="#ff3100"/><path d="M207.3 74.7L211.2 76.7L212.2 74.7L208.3 72.8Z" color="#ff3600"/><path d="M211.2 76.7L215.0 78.6L216.0 76.7L212.2 74.7Z" color="#ff3b00"/><path d="M215.0 78.6L218.9 80.6L219.9 78.7L216.0 76.7Z" color="#ff4000"/><path d="M218.9 80.6L222.8 82.5L223.8 80.6L219.9 78.7Z" color="#ff4500"/><path d="M222.8 82.5L226.6 84.5L227.6 82.6L223.8 80.6Z" color="#ff4b00"/><path d="M226.6 84.5L230.5 86.4L231.5 84.5L227.6 82.6Z" color="#ff5000"/><path d="M230.5 86.4L234.4 88.4L235.4 86.5L231.5 84.5Z" color="#ff5500"/><path d="M188.9 63.0L192.8 65.0L193.8 63.0L189.9 61.1Z" color="#ff1500"/><path d="M192.8 65.0L196.7 66.9L197.7 65.0L193.8 63.0Z" color="#ff1a00"/><path d="M196.7 66.9L200.5 68.9L201.5 66.9L197.7 65.0Z" color="#ff1e00"/><path d="M200.5 68.9L204.4 70.8L205.4 68.9L201.5 66.9Z" color="#ff2300"/><path d="M204.4 70.8L208.3 72.8L209.3 70.9L205.4 68.9Z" color="#ff2700"/><path d="M208.3 72.8L212.2 74.7L213.1 72.8L209.3 70.9Z" color="#ff2c00"/><path d="M212.2 74.7L216.0 76.7L217.0 74.8L213.1 72.8Z" color="#ff3100"/><path d="M216.0 76.7L219.9 78.7L220.9 76.7L217.0 74.8Z" color="#ff3500"/><path d="M219.9 78.7L223.8 80.6L224.7 78.7L220.9 76.7Z" color="#ff3a00"/><path d="M223.8 80.6L227.6 82.6L228.6 80.6L224.7 78.7Z" color="#ff3e00"/><path d="M227.6 82.6L231.5 84.5L232.5 82.6L228.6 80.6Z" color="#ff4300"/><path d="M231.5 84.5L235.4 86.5L236.3 84.6L232.5 82.6Z" color="#ff4800"/><path d="M189.9 61.1L193.8 63.0L194.8 61.1L190.9 59.1Z" color="#ff0d00"/><path d="M193.8 63.0L197.7 65.0L198.7 63.1L194.8 61.1Z" color="#ff1100"/><path d="M197.7 65.0L201.5 66.9L202.5 65.0L198.7 63.1Z" color="#ff1500"/><path d="M201.5 66.9L205.4 68.9L206.4 67.0L202.5 65.0Z" color="#ff1a00"/><path d="M205.4 68.9L209.3 70.9L210.2 68.9L206.4 67.0Z" color="#ff1e00"/><path d="M209.3 70.9L213.1 72.8L214.1 70.9L210.2 68.9Z" color="#ff2200"/><path d="M213.1 72.8L217.0 74.8L218.0 72.8L214.1 70.9Z" color="#ff2600"/><path d="M217.0 74.8L220.9 76.7L221.8 74.8L218.0 72.8Z" color="#ff2a00"/><path d="M220.9 76.7L224.7 78.7L225.7 76.8L221.8 74.8Z" color="#ff2e00"/><path d="M224.7 78.7L228.6 80.6L229.6 78.7L225.7 76.8Z" color="#ff3200"/><path d="M228.6 80.6L232.5 82.6L233.4 80.7L229.6 78.7Z" color="#ff3600"/><path d="M232.5 82.6L236.3 84.6L237.3 82.6L233.4 80.7Z" color="#ff3a00"/><path d="M190.9 59.1L194.8 61.1L195.8 59.2L191.9 57.2Z" color="#ff0500"/><path d="M194.8 61.1L198.7 63.1L199.6 61.1L195.8 59.2Z" color="#ff0900"/><path d="M198.7 63.1L202.5 65.0L203.5 63.1L199.6 61.1Z" color="#ff0d00"/><path d="M202.5 65.0L206.4 67.0L207.4 65.0L203.5 63.1Z" color="#ff1000"/><path d="M206.4 67.0L210.2 68.9L211.2 67.0L207.4 65.0Z" color="#ff1400"/><path d="M210.2 68.9L214.1 70.9L215.1 69.0L211.2 67.0Z" color="#ff1800"/><path d="M214.1 70.9L218.0 72.8L219.0 70.9L215.1 69.0Z" color="#ff1b00"/><path d="M218.0 72.8L221.8 74.8L222.8 72.9L219.0 70.9Z" color="#ff1f00"/><path d="M221.8 74.8L225.7 76.8L226.7 74.8L222.8 72.9Z" color="#ff2200"/><path d="M225.7 76.8L229.6 78.7L230.6 76.8L226.7 74.8Z" color="#ff2600"/><path d="M229.6 78.7L233.4 80.7L234.4 78.8L230.6 76.8Z" color="#ff2a00"/><path d="M233.4 80.7L237.3 82.6L238.3 80.7L234.4 78.8Z" color="#ff2d00"/><path d="M191.9 57.2L195.8 59.2L196.8 57.2L192.9 55.3Z" color="#fd0000"/><path d="M195.8 59.2L199.6 61.1L200.6 59.2L196.8 57.2Z" color="#ff0100"/><path d="M199.6 61.1L203.5 63.1L204.5 61.2L200.6 59.2Z" color="#ff0400"/><path d="M203.5 63.1L207.4 65.0L208.4 63.1L204.5 61.2Z" color="#ff0700"/><path d="M207.4 65.0L211.2 67.0L212.2 65.1L208.4 63.1Z" color="#ff0a00"/><path d="M211.2 67.0L215.1 69.0L216.1 67.0L212.2 65.1Z" color="#ff0d00"/><path d="M215.1 69.0L219.0 70.9L219.9 69.0L216.1 67.0Z" color="#ff1000"/><path d="M219.0 70.9L222.8 72.9L223.8 71.0L219.9 69.0Z" color="#ff1400"/><path d="M222.8 72.9L226.7 74.8L227.7 72.9L223.8 71.0Z" color="#ff1700"/><path d="M226.7 74.8L230.6 76.8L231.5 74.9L227.7 72.9Z" color="#ff1a00"/><path d="M230.6 76.8L234.4 78.8L235.4 76.8L231.5 74.9Z" color="#ff1d00"/><path d="M234.4 78.8L238.3 80.7L239.3 78.8L235.4 76.8Z" color="#ff2000"/><path d="M192.9 55.3L196.8 57.2L197.7 55.3L193.9 53.3Z" color="#f50000"/><path d="M196.8 57.2L200.6 59.2L201.6 57.3L197.7 55.3Z" color="#f70000"/><path d="M200.6 59.2L204.5 61.2L205.5 59.2L201.6 57.3Z" color="#fa0000"/><path d="M204.5 61.2L208.4 63.1L209.3 61.2L205.5 59.2Z" color="#fd0000"/><path d="M208.4 63.1L212.2 65.1L213.2 63.2L209.3 61.2Z" color="#ff0000"/><path d="M212.2 65.1L216.1 67.0L217.1 65.1L213.2 63.2Z" color="#ff0300"/><path d="M216.1 67.0L219.9 69.0L220.9 67.1L217.1 65.1Z" color="#ff0600"/><path d="M219.9 69.0L223.8 71.0L224.8 69.0L220.9 67.1Z" color="#ff0800"/><path d="M223.8 71.0L227.7 72.9L228.7 71.0L224.8 69.0Z" color="#ff0b00"/><path d="M227.7 72.9L231.5 74.9L232.5 73.0L228.7 71.0Z" color="#ff0e00"/><path d="M231.5 74.9L235.4 76.8L236.4 74.9L232.5 73.0Z" color="#ff1000"/><path d="M235.4 76.8L239.3 78.8L240.3 76.9L236.4 74.9Z" color="#ff1300"/><path d="M193.9 53.3L197.7 55.3L198.7 53.4L194.9 51.4Z" color="#ec0000"/><path d="M197.7 55.3L201.6 57.3L202.6 55.3L198.7 53.4Z" color="#ef0000"/><path d="M201.6 57.3L205.5 59.2L206.5 57.3L202.6 55.3Z" color="#f10000"/><path d="M205.5 59.2L209.3 61.2L210.3 59.3L206.5 57.3Z" color="#f30000"/><path d="M209.3 61.2L213.2 63.2L214.2 61.2L210.3 59.3Z" color="#f50000"/><path d="M213.2 63.2L217.1 65.1L218.1 63.2L214.2 61.2Z" color="#f80000"/><path d="M217.1 65.1L220.9 67.1L221.9 65.2L218.1 63.2Z" color="#fa0000"/><path d="M220.9 67.1L224.8 69.0L225.8 67.1L221.9 65.2Z" color="#fc0000"/><path d="M224.8 69.0L228.7 71.0L229.6 69.1L225.8 67.1Z" color="#ff0000"/><path d="M228.7 71.0L232.5 73.0L233.5 71.0L229.6 69.1Z" color="#ff0200"/><path d="M232.5 73.0L236.4 74.9L237.4 73.0L233.5 71.0Z" color="#ff0400"/><path d="M236.4 74.9L240.3 76.9L241.2 75.0L237.4 73.0Z" color="#ff0600"/><path d="M194.9 51.4L198.7 53.4L199.7 51.4L195.9 49.5Z" color="#e30000"/><path d="M198.7 53.4L202.6 55.3L203.6 53.4L199.7 51.4Z" color="#e60000"/><path d="M202.6 55.3L206.5 57.3L207.4 55.4L203.6 53.4Z" color="#e80000"/><path d="M206.5 57.3L210.3 59.3L211.3 57.3L207.4 55.4Z" color="#ea0000"/><path d="M210.3 59.3L214.2 61.2L215.2 59.3L211.3 57.3Z" color="#ec0000"/><path d="M214.2 61.2L218.1 63.2L219.0 61.3L215.2 59.3Z" color="#ed0000"/><path d="M218.1 63.2L221.9 65.2L222.9 63.2L219.0 61.3Z" color="#ef0000"/><path d="M221.9 65.2L225.8 67.1L226.8 65.2L222.9 63.2Z" color="#f10000"/><path d="M225.8 67.1L229.6 69.1L230.6 67.2L226.8 65.2Z" color="#f30000"/><path d="M229.6 69.1L233.5 71.0L234.5 69.1L230.6 67.2Z" color="#f50000"/><path d="M233.5 71.0L237.4 73.0L238.4 71.1L234.5 69.1Z" color="#f70000"/><path d="M237.4 73.0L241.2 75.0L242.2 73.0L238.4 71.1Z" color="#f90000"/><path d="M195.9 49.5L199.7 51.4L200.7 49.5L196.8 47.6Z" color="#d50000"/><path d="M199.7 51.4L203.6 53.4L204.6 51.5L200.7 49.5Z" color="#d80000"/><path d="M203.6 53.4L207.4 55.4L208.4 53.4L204.6 51.5Z" color="#da0000"/><path d="M207.4 55.4L211.3 57.3L212.3 55.4L208.4 53.4Z" color="#dd0000"/><path d="M211.3 57.3L215.2 59.3L216.2 57.4L212.3 55.4Z" color="#df0000"/><path d="M215.2 59.3L219.0 61.3L220.0 59.3L216.2 57.4Z" color="#e20000"/><path d="M219.0 61.3L222.9 63.2L223.9 61.3L220.0 59.3Z" color="#e40000"/><path d="M222.9 63.2L226.8 65.2L227.8 63.3L223.9 61.3Z" color="#e60000"/><path d="M226.8 65.2L230.6 67.2L231.6 65.2L227.8 63.3Z" color="#e80000"/><path d="M230.6 67.2L234.5 69.1L235.5 67.2L231.6 65.2Z" color="#e90000"/><path d="M234.5 69.1L238.4 71.1L239.3 69.2L235.5 67.2Z" color="#eb0000"/><path d="M238.4 71.1L242.2 73.0L243.2 71.1L239.3 69.2Z" color="#ec0000"/><path d="M196.8 47.6L200.7 49.5L201.7 47.6L197.8 45.6Z" color="#c70000"/><path d="M200.7 49.5L204.6 51.5L205.6 49.6L201.7 47.6Z" color="#c90000"/><path d="M204.6 51.5L208.4 53.4L209.4 51.5L205.6 49.6Z" color="#cb0000"/><path d="M208.4 53.4L212.3 55.4L213.3 53.5L209.4 51.5Z" color="#cd0000"/><path d="M212.3 55.4L216.2 57.4L217.1 55.4L213.3 53.5Z" color="#cf0000"/><path d="M216.2 57.4L220.0 59.3L221.0 57.4L217.1 55.4Z" color="#d10000"/><path d="M220.0 59.3L223.9 61.3L224.9 59.4L221.0 57.4Z" color="#d30000"/><path d="M223.9 61.3L227.8 63.3L228.7 61.3L224.9 59.4Z" color="#d40000"/><path d="M227.8 63.3L231.6 65.2L232.6 63.3L228.7 61.3Z" color="#d60000"/><path d="M231.6 65.2L235.5 67.2L236.5 65.3L232.6 63.3Z" color="#d80000"/><path d="M235.5 67.2L239.3 69.2L240.3 67.2L236.5 65.3Z" color="#da0000"/><path d="M239.3 69.2L243.2 71.1L244.2 69.2L240.3 67.2Z" color="#dc0000"/><path d="M197.8 45.6L201.7 47.6L202.7 45.7L198.8 43.7Z" color="#b90000"/><path d="M201.7 47.6L205.6 49.6L206.5 47.6L202.7 45.7Z" color="#ba0000"/><path d="M205.6 49.6L209.4 51.5L210.4 49.6L206.5 47.6Z" color="#bc0000"/><path d="M209.4 51.5L213.3 53.5L214.3 51.6L210.4 49.6Z" color="#bd0000"/><path d="M213.3 53.5L217.1 55.4L218.1 53.5L214.3 51.6Z" color="#be0000"/><path d="M217.1 55.4L221.0 57.4L222.0 55.5L218.1 53.5Z" color="#c00000"/><path d="M221.0 57.4L224.9 59.4L225.9 57.5L222.0 55.5Z" color="#c10000"/><path d="M224.9 59.4L228.7 61.3L229.7 59.4L225.9 57.5Z" color="#c20000"/><path d="M228.7 61.3L232.6 63.3L233.6 61.4L229.7 59.4Z" color="#c40000"/><path d="M232.6 63.3L236.5 65.3L237.4 63.3L233.6 61.4Z" color="#c50000"/><path d="M236.5 65.3L240.3 67.2L241.3 65.3L237.4 63.3Z" color="#c70000"/><path d="M240.3 67.2L244.2 69.2L245.2 67.3L241.3 65.3Z" color="#c80000"/><path d="M198.8 43.7L202.7 45.7L203.7 43.7L199.8 41.8Z" color="#aa0000"/><path d="M202.7 45.7L206.5 47.6L207.5 45.7L203.7 43.7Z" color="#ab0000"/><path d="M206.5 47.6L210.4 49.6L211.4 47.7L207.5 45.7Z" color="#ac0000"/><path d="M210.4 49.6L214.3 51.6L215.3 49.6L211.4 47.7Z" color="#ad0000"/><path d="M214.3 51.6L218.1 53.5L219.1 51.6L215.3 49.6Z" color="#ae0000"/><path d="M218.1 53.5L222.0 55.5L223.0 53.6L219.1 51.6Z" color="#af0000"/><path d="M222.0 55.5L225.9 57.5L226.8 55.5L223.0 53.6Z" color="#b00000"/><path d="M225.9 57.5L229.7 59.4L230.7 57.5L226.8 55.5Z" color="#b10000"/><path d="M229.7 59.4L233.6 61.4L234.6 59.5L230.7 57.5Z" color="#b20000"/><path d="M233.6 61.4L237.4 63.3L238.4 61.4L234.6 59.5Z" color="#b30000"/><path d="M237.4 63.3L241.3 65.3L242.3 63.4L238.4 61.4Z" color="#b30000"/><path d="M241.3 65.3L245.2 67.3L246.2 65.4L242.3 63.4Z" color="#b40000"/><path d="M199.8 41.8L203.7 43.7L204.7 41.8L200.8 39.8Z" color="#9b0000"/><path d="M203.7 43.7L207.5 45.7L208.5 43.8L204.7 41.8Z" color="#9b0000"/><path d="M207.5 45.7L211.4 47.7L212.4 45.7L208.5 43.8Z" color="#9c0000"/><path d="M211.4 47.7L215.3 49.6L216.2 47.7L212.4 45.7Z" color="#9d0000"/><path d="M215.3 49.6L219.1 51.6L220.1 49.7L216.2 47.7Z" color="#9d0000"/><path d="M219.1 51.6L223.0 53.6L224.0 51.6L220.1 49.7Z" color="#9e0000"/><path d="M223.0 53.6L226.8 55.5L227.8 53.6L224.0 51.6Z" color="#9e0000"/><path d="M226.8 55.5L230.7 57.5L231.7 55.6L227.8 53.6Z" color="#9f0000"/><path d="M230.7 57.5L234.6 59.5L235.6 57.5L231.7 55.6Z" color="#9f0000"/><path d="M234.6 59.5L238.4 61.4L239.4 59.5L235.6 57.5Z" color="#a00000"/><path d="M238.4 61.4L242.3 63.4L243.3 61.5L239.4 59.5Z" color="#a10000"/><path d="M242.3 63.4L246.2 65.4L247.1 63.4L243.3 61.5Z" color="#a10000"/><path d="M200.8 39.8L204.7 41.8L205.6 39.9L201.8 37.9Z" color="#8b0000"/><path d="M204.7 41.8L208.5 43.8L209.5 41.9L205.6 39.9Z" color="#8b0000"/><path d="M208.5 43.8L212.4 45.7L213.4 43.8L209.5 41.9Z" color="#8c0000"/><path d="M212.4 45.7L216.2 47.7L217.2 45.8L213.4 43.8Z" color="#8c0000"/><path d="M216.2 47.7L220.1 49.7L221.1 47.8L217.2 45.8Z" color="#8c0000"/><path d="M220.1 49.7L224.0 51.6L225.0 49.7L221.1 47.8Z" color="#8d0000"/><path d="M224.0 51.6L227.8 53.6L228.8 51.7L225.0 49.7Z" color="#8d0000"/><path d="M227.8 53.6L231.7 55.6L232.7 53.6L228.8 51.7Z" color="#8d0000"/><path d="M231.7 55.6L235.6 57.5L236.5 55.6L232.7 53.6Z" color="#8e0000"/><path d="M235.6 57.5L239.4 59.5L240.4 57.6L236.5 55.6Z" color="#8e0000"/><path d="M239.4 59.5L243.3 61.5L244.3 59.5L240.4 57.6Z" color="#8e0000"/><path d="M243.3 61.5L247.1 63.4L248.1 61.5L244.3 59.5Z" color="#8e0000"/><path d="M201.8 37.9L205.6 39.9L206.6 38.0L202.8 36.0Z" color="#800000"/><path d="M205.6 39.9L209.5 41.9L210.5 39.9L206.6 38.0Z" color="#800000"/><path d="M209.5 41.9L213.4 43.8L214.4 41.9L210.5 39.9Z" color="#800000"/><path d="M213.4 43.8L217.2 45.8L218.2 43.9L214.4 41.9Z" color="#800000"/><path d="M217.2 45.8L221.1 47.8L222.1 45.8L218.2 43.9Z" color="#800000"/><path d="M221.1 47.8L225.0 49.7L225.9 47.8L222.1 45.8Z" color="#800000"/><path d="M225.0 49.7L228.8 51.7L229.8 49.8L225.9 47.8Z" color="#800000"/><path d="M228.8 51.7L232.7 53.6L233.7 51.7L229.8 49.8Z" color="#800000"/><path d="M232.7 53.6L236.5 55.6L237.5 53.7L233.7 51.7Z" color="#800000"/><path d="M236.5 55.6L240.4 57.6L241.4 55.7L237.5 53.7Z" color="#800000"/><path d="M240.4 57.6L244.3 59.5L245.3 57.6L241.4 55.7Z" color="#800000"/><path d="M244.3 59.5L248.1 61.5L249.1 59.6L245.3 57.6Z" color="#800000"/><path d="M202.8 36.0L206.6 38.0L207.6 36.0L203.8 34.1Z" color="#800000"/><path d="M206.6 38.0L210.5 39.9L211.5 38.0L207.6 36.0Z" color="#800000"/><path d="M210.5 39.9L214.4 41.9L215.3 40.0L211.5 38.0Z" color="#800000"/><path d="M214.4 41.9L218.2 43.9L219.2 41.9L215.3 40.0Z" color="#800000"/><path d="M218.2 43.9L222.1 45.8L223.1 43.9L219.2 41.9Z" color="#800000"/><path d="M222.1 45.8L225.9 47.8L226.9 45.9L223.1 43.9Z" color="#800000"/><path d="M225.9 47.8L229.8 49.8L230.8 47.8L226.9 45.9Z" color="#800000"/><path d="M229.8 49.8L233.7 51.7L234.7 49.8L230.8 47.8Z" color="#800000"/><path d="M233.7 51.7L237.5 53.7L238.5 51.8L234.7 49.8Z" color="#800000"/><path d="M237.5 53.7L241.4 55.7L242.4 53.7L238.5 51.8Z" color="#800000"/><path d="M241.4 55.7L245.3 57.6L246.2 55.7L242.4 53.7Z" color="#800000"/><path d="M245.3 57.6L249.1 59.6L250.1 57.7L246.2 55.7Z" color="#800000"/></g><path d="M90.3 370.0L90.3 365.3L90.4 360.7L90.6 356.0L90.8 351.4L91.0 346.7L91.4 342.1L91.7 337.5L92.2 332.9L92.7 328.3L93.2 323.7L93.8 319.1L94.4 314.6L95.1 310.0L95.9 305.5L96.7 301.0L97.5 296.5L98.4 292.0L99.3 287.5L100.3 283.0L101.3 278.6L102.3 274.1L103.4 269.7L104.5 265.3L105.7 260.9L106.9 256.5L108.1 252.2L109.4 247.8L110.7 243.5L112.0 239.1L113.4 234.8L114.8 230.6L116.2 226.3L117.6 222.0L119.1 217.8L120.6 213.5L122.1 209.3L123.7 205.1L125.3 200.9L126.9 196.7L128.5 192.6L130.2 188.4L131.8 184.3L133.5 180.2L135.2 176.0L136.9 171.9L138.7 167.9L140.4 163.8L142.2 159.7L144.0 155.7L145.8 151.6L147.6 147.6L149.5 143.6L151.3 139.6L153.2 135.6L155.0 131.6L156.9 127.6L158.8 123.6L160.7 119.7L162.6 115.7L164.5 111.8L166.5 107.8L168.4 103.9L170.3 100.0L172.3 96.1L174.2 92.1L176.2 88.2L178.1 84.3L180.1 80.5L182.1 76.6L184.0 72.7L186.0 68.8L188.0 64.9L189.9 61.1L191.9 57.2L193.9 53.3L195.9 49.5L197.8 45.6L199.8 41.8L201.8 37.9L203.8 34.1M94.6 370.0L94.6 365.4L94.7 360.8L94.9 356.2L95.1 351.6L95.4 347.0L95.7 342.5L96.1 337.9L96.5 333.3L97.0 328.8L97.5 324.2L98.1 319.7L98.7 315.2L99.4 310.7L100.2 306.2L100.9 301.7L101.8 297.3L102.6 292.8L103.5 288.4L104.5 284.0L105.5 279.5L106.5 275.1L107.6 270.8L108.7 266.4L109.9 262.0L111.1 257.7L112.3 253.3L113.5 249.0L114.8 244.7L116.1 240.4L117.5 236.2L118.9 231.9L120.3 227.6L121.7 223.4L123.2 219.2L124.7 215.0L126.2 210.8L127.8 206.6L129.3 202.4L130.9 198.3L132.5 194.2L134.2 190.0L135.8 185.9L137.5 181.8L139.2 177.7L140.9 173.6L142.7 169.6L144.4 165.5L146.2 161.5L148.0 157.4L149.8 153.4L151.6 149.4L153.4 145.4L155.3 141.4L157.1 137.4L159.0 133.4L160.9 129.4L162.7 125.5L164.6 121.5L166.5 117.6L168.4 113.6L170.4 109.7L172.3 105.8L174.2 101.9L176.2 98.0L178.1 94.1L180.1 90.2L182.0 86.3L184.0 82.4L185.9 78.5L187.9 74.6L189.9 70.8L191.8 66.9L193.8 63.0L195.8 59.2L197.7 55.3L199.7 51.4L201.7 47.6L203.7 43.7L205.6 39.9L207.6 36.0M99.0 370.0L99.0 365.5L99.1 360.9L99.2 356.4L99.4 351.8L99.7 347.3L100.0 342.8L100.4 338.3L100.8 333.8L101.3 329.3L101.8 324.8L102.4 320.3L103.0 315.8L103.7 311.4L104.4 306.9L105.2 302.5L106.0 298.1L106.9 293.7L107.8 289.3L108.7 284.9L109.7 280.5L110.8 276.1L111.8 271.8L112.9 267.5L114.1 263.1L115.2 258.8L116.5 254.5L117.7 250.2L119.0 246.0L120.3 241.7L121.6 237.5L123.0 233.2L124.4 229.0L125.8 224.8L127.3 220.6L128.8 216.4L130.3 212.3L131.8 208.1L133.4 204.0L135.0 199.8L136.6 195.7L138.2 191.6L139.9 187.5L141.5 183.4L143.2 179.4L144.9 175.3L146.7 171.3L148.4 167.2L150.2 163.2L151.9 159.2L153.7 155.2L155.5 151.2L157.4 147.2L159.2 143.2L161.0 139.2L162.9 135.2L164.8 131.3L166.7 127.3L168.5 123.4L170.4 119.5L172.3 115.5L174.3 111.6L176.2 107.7L178.1 103.8L180.0 99.9L182.0 96.0L183.9 92.1L185.9 88.2L187.8 84.3L189.8 80.5L191.8 76.6L193.7 72.7L195.7 68.8L197.7 65.0L199.6 61.1L201.6 57.3L203.6 53.4L205.6 49.6L207.5 45.7L209.5 41.9L211.5 38.0M103.3 370.0L103.3 365.5L103.4 361.0L103.6 356.5L103.8 352.1L104.0 347.6L104.3 343.1L104.7 338.6L105.1 334.2L105.6 329.7L106.1 325.3L106.7 320.9L107.3 316.5L108.0 312.1L108.7 307.6L109.5 303.3L110.3 298.9L111.1 294.5L112.0 290.2L113.0 285.8L114.0 281.5L115.0 277.2L116.0 272.8L117.1 268.5L118.3 264.3L119.4 260.0L120.6 255.7L121.9 251.5L123.1 247.2L124.4 243.0L125.8 238.8L127.1 234.6L128.5 230.4L129.9 226.2L131.4 222.1L132.9 217.9L134.4 213.8L135.9 209.6L137.5 205.5L139.0 201.4L140.6 197.3L142.2 193.2L143.9 189.1L145.6 185.1L147.2 181.0L148.9 177.0L150.7 173.0L152.4 168.9L154.1 164.9L155.9 160.9L157.7 156.9L159.5 152.9L161.3 149.0L163.1 145.0L165.0 141.0L166.8 137.1L168.7 133.1L170.6 129.2L172.5 125.3L174.3 121.3L176.2 117.4L178.2 113.5L180.1 109.6L182.0 105.7L183.9 101.8L185.9 97.9L187.8 94.0L189.8 90.1L191.7 86.3L193.7 82.4L195.6 78.5L197.6 74.7L199.6 70.8L201.5 66.9L203.5 63.1L205.5 59.2L207.4 55.4L209.4 51.5L211.4 47.7L213.4 43.8L215.3 40.0M107.6 370.0L107.7 365.6L107.7 361.1L107.9 356.7L108.1 352.3L108.3 347.9L108.7 343.4L109.0 339.0L109.4 334.6L109.9 330.2L110.4 325.8L111.0 321.5L111.6 317.1L112.3 312.7L113.0 308.4L113.7 304.0L114.6 299.7L115.4 295.4L116.3 291.0L117.2 286.7L118.2 282.4L119.2 278.2L120.2 273.9L121.3 269.6L122.4 265.4L123.6 261.1L124.8 256.9L126.0 252.7L127.3 248.5L128.6 244.3L129.9 240.1L131.2 235.9L132.6 231.8L134.0 227.6L135.5 223.5L137.0 219.4L138.4 215.2L140.0 211.1L141.5 207.0L143.1 203.0L144.7 198.9L146.3 194.8L147.9 190.8L149.6 186.7L151.2 182.7L152.9 178.7L154.6 174.7L156.4 170.7L158.1 166.7L159.9 162.7L161.7 158.7L163.5 154.7L165.3 150.8L167.1 146.8L168.9 142.9L170.8 138.9L172.6 135.0L174.5 131.1L176.4 127.1L178.3 123.2L180.2 119.3L182.1 115.4L184.0 111.5L185.9 107.6L187.8 103.7L189.8 99.8L191.7 96.0L193.6 92.1L195.6 88.2L197.5 84.3L199.5 80.5L201.5 76.6L203.4 72.8L205.4 68.9L207.4 65.0L209.3 61.2L211.3 57.3L213.3 53.5L215.3 49.6L217.2 45.8L219.2 41.9M112.0 370.0L112.0 365.6L112.1 361.2L112.2 356.9L112.4 352.5L112.7 348.1L113.0 343.8L113.3 339.4L113.8 335.1L114.2 330.7L114.7 326.4L115.3 322.0L115.9 317.7L116.6 313.4L117.3 309.1L118.0 304.8L118.8 300.5L119.6 296.2L120.5 291.9L121.4 287.7L122.4 283.4L123.4 279.2L124.4 274.9L125.5 270.7L126.6 266.5L127.8 262.3L129.0 258.1L130.2 253.9L131.4 249.7L132.7 245.6L134.0 241.4L135.4 237.3L136.7 233.1L138.1 229.0L139.6 224.9L141.0 220.8L142.5 216.7L144.0 212.6L145.6 208.6L147.1 204.5L148.7 200.5L150.3 196.4L151.9 192.4L153.6 188.4L155.2 184.4L156.9 180.4L158.6 176.4L160.4 172.4L162.1 168.4L163.8 164.4L165.6 160.5L167.4 156.5L169.2 152.5L171.0 148.6L172.8 144.7L174.7 140.7L176.5 136.8L178.4 132.9L180.3 129.0L182.2 125.1L184.1 121.2L186.0 117.3L187.9 113.4L189.8 109.5L191.7 105.6L193.6 101.8L195.6 97.9L197.5 94.0L199.5 90.2L201.4 86.3L203.4 82.4L205.3 78.6L207.3 74.7L209.3 70.9L211.2 67.0L213.2 63.2L215.2 59.3L217.1 55.4L219.1 51.6L221.1 47.8L223.1 43.9M116.3 370.0L116.3 365.7L116.4 361.4L116.6 357.0L116.8 352.7L117.0 348.4L117.3 344.1L117.7 339.8L118.1 335.5L118.5 331.2L119.0 326.9L119.6 322.6L120.2 318.3L120.9 314.1L121.5 309.8L122.3 305.5L123.1 301.3L123.9 297.0L124.8 292.8L125.7 288.6L126.6 284.4L127.6 280.2L128.7 276.0L129.7 271.8L130.8 267.6L132.0 263.4L133.1 259.3L134.3 255.1L135.6 251.0L136.9 246.9L138.2 242.7L139.5 238.6L140.9 234.5L142.3 230.4L143.7 226.3L145.1 222.3L146.6 218.2L148.1 214.1L149.6 210.1L151.2 206.1L152.7 202.0L154.3 198.0L156.0 194.0L157.6 190.0L159.2 186.0L160.9 182.0L162.6 178.1L164.3 174.1L166.1 170.1L167.8 166.2L169.6 162.2L171.4 158.3L173.2 154.3L175.0 150.4L176.8 146.5L178.6 142.6L180.5 138.7L182.3 134.8L184.2 130.9L186.1 127.0L188.0 123.1L189.9 119.2L191.8 115.3L193.7 111.4L195.6 107.6L197.5 103.7L199.5 99.8L201.4 96.0L203.3 92.1L205.3 88.2L207.2 84.4L209.2 80.5L211.2 76.7L213.1 72.8L215.1 69.0L217.1 65.1L219.0 61.3L221.0 57.4L223.0 53.6L225.0 49.7L226.9 45.9M120.6 370.0L120.7 365.7L120.8 361.5L120.9 357.2L121.1 352.9L121.3 348.7L121.6 344.4L122.0 340.2L122.4 335.9L122.8 331.7L123.3 327.4L123.9 323.2L124.5 319.0L125.1 314.7L125.8 310.5L126.6 306.3L127.3 302.1L128.2 297.9L129.0 293.7L129.9 289.5L130.9 285.3L131.8 281.2L132.9 277.0L133.9 272.9L135.0 268.7L136.1 264.6L137.3 260.5L138.5 256.3L139.7 252.2L141.0 248.1L142.3 244.0L143.6 240.0L145.0 235.9L146.4 231.8L147.8 227.8L149.2 223.7L150.7 219.7L152.2 215.7L153.7 211.6L155.2 207.6L156.8 203.6L158.4 199.6L160.0 195.6L161.6 191.7L163.3 187.7L164.9 183.7L166.6 179.8L168.3 175.8L170.0 171.9L171.8 167.9L173.5 164.0L175.3 160.1L177.1 156.1L178.9 152.2L180.7 148.3L182.5 144.4L184.4 140.5L186.2 136.6L188.1 132.7L190.0 128.8L191.9 125.0L193.8 121.1L195.7 117.2L197.6 113.3L199.5 109.5L201.4 105.6L203.3 101.8L205.3 97.9L207.2 94.0L209.2 90.2L211.1 86.3L213.1 82.5L215.0 78.6L217.0 74.8L219.0 70.9L220.9 67.1L222.9 63.2L224.9 59.4L226.8 55.5L228.8 51.7L230.8 47.8M125.0 370.0L125.0 365.8L125.1 361.6L125.2 357.4L125.4 353.2L125.7 349.0L126.0 344.8L126.3 340.6L126.7 336.4L127.2 332.2L127.6 328.0L128.2 323.8L128.8 319.6L129.4 315.4L130.1 311.2L130.8 307.1L131.6 302.9L132.4 298.7L133.3 294.6L134.2 290.4L135.1 286.3L136.1 282.2L137.1 278.1L138.1 273.9L139.2 269.8L140.3 265.7L141.5 261.6L142.7 257.6L143.9 253.5L145.1 249.4L146.4 245.4L147.7 241.3L149.1 237.3L150.5 233.2L151.9 229.2L153.3 225.2L154.7 221.2L156.2 217.2L157.7 213.2L159.3 209.2L160.8 205.2L162.4 201.2L164.0 197.3L165.6 193.3L167.3 189.3L168.9 185.4L170.6 181.5L172.3 177.5L174.0 173.6L175.7 169.7L177.5 165.8L179.3 161.8L181.0 157.9L182.8 154.0L184.6 150.1L186.5 146.2L188.3 142.4L190.2 138.5L192.0 134.6L193.9 130.7L195.8 126.9L197.6 123.0L199.5 119.1L201.5 115.3L203.4 111.4L205.3 107.5L207.2 103.7L209.2 99.8L211.1 96.0L213.0 92.1L215.0 88.3L216.9 84.4L218.9 80.6L220.9 76.7L222.8 72.9L224.8 69.0L226.8 65.2L228.7 61.3L230.7 57.5L232.7 53.6L234.7 49.8M129.3 370.0L129.3 365.9L129.4 361.7L129.6 357.5L129.7 353.4L130.0 349.2L130.3 345.1L130.6 340.9L131.0 336.8L131.5 332.6L132.0 328.5L132.5 324.4L133.1 320.2L133.7 316.1L134.4 311.9L135.1 307.8L135.9 303.7L136.7 299.6L137.5 295.5L138.4 291.4L139.3 287.3L140.3 283.2L141.3 279.1L142.3 275.0L143.4 271.0L144.5 266.9L145.6 262.8L146.8 258.8L148.0 254.7L149.3 250.7L150.6 246.7L151.9 242.7L153.2 238.6L154.6 234.6L156.0 230.6L157.4 226.6L158.8 222.6L160.3 218.7L161.8 214.7L163.3 210.7L164.9 206.8L166.4 202.8L168.0 198.9L169.6 194.9L171.3 191.0L172.9 187.1L174.6 183.1L176.3 179.2L178.0 175.3L179.7 171.4L181.5 167.5L183.2 163.6L185.0 159.7L186.8 155.8L188.6 152.0L190.4 148.1L192.2 144.2L194.1 140.3L195.9 136.5L197.8 132.6L199.7 128.7L201.5 124.9L203.4 121.0L205.3 117.2L207.3 113.3L209.2 109.5L211.1 105.6L213.0 101.8L215.0 97.9L216.9 94.1L218.9 90.2L220.8 86.4L222.8 82.5L224.7 78.7L226.7 74.8L228.7 71.0L230.6 67.2L232.6 63.3L234.6 59.5L236.5 55.6L238.5 51.8M133.7 370.0L133.7 365.9L133.8 361.8L133.9 357.7L134.1 353.6L134.3 349.5L134.6 345.4L134.9 341.3L135.3 337.2L135.8 333.1L136.3 329.0L136.8 324.9L137.4 320.8L138.0 316.7L138.7 312.7L139.4 308.6L140.1 304.5L140.9 300.4L141.8 296.4L142.6 292.3L143.5 288.2L144.5 284.2L145.5 280.1L146.5 276.1L147.6 272.1L148.7 268.0L149.8 264.0L151.0 260.0L152.2 256.0L153.4 252.0L154.7 248.0L156.0 244.0L157.3 240.0L158.7 236.0L160.0 232.1L161.5 228.1L162.9 224.1L164.4 220.2L165.8 216.2L167.4 212.3L168.9 208.3L170.5 204.4L172.0 200.5L173.6 196.6L175.3 192.7L176.9 188.8L178.6 184.8L180.3 180.9L182.0 177.1L183.7 173.2L185.4 169.3L187.2 165.4L188.9 161.5L190.7 157.6L192.5 153.8L194.3 149.9L196.1 146.0L198.0 142.2L199.8 138.3L201.7 134.5L203.6 130.6L205.4 126.8L207.3 122.9L209.2 119.1L211.1 115.2L213.1 111.4L215.0 107.5L216.9 103.7L218.8 99.9L220.8 96.0L222.7 92.2L224.7 88.3L226.6 84.5L228.6 80.6L230.6 76.8L232.5 73.0L234.5 69.1L236.5 65.3L238.4 61.4L240.4 57.6L242.4 53.7M138.0 370.0L138.0 366.0L138.1 361.9L138.2 357.9L138.4 353.8L138.6 349.8L138.9 345.7L139.3 341.7L139.7 337.6L140.1 333.6L140.6 329.6L141.1 325.5L141.7 321.5L142.3 317.4L142.9 313.4L143.6 309.3L144.4 305.3L145.2 301.3L146.0 297.3L146.9 293.2L147.8 289.2L148.7 285.2L149.7 281.2L150.7 277.2L151.8 273.2L152.9 269.2L154.0 265.2L155.1 261.2L156.3 257.2L157.6 253.3L158.8 249.3L160.1 245.3L161.4 241.4L162.8 237.4L164.1 233.5L165.5 229.5L167.0 225.6L168.4 221.7L169.9 217.8L171.4 213.8L172.9 209.9L174.5 206.0L176.1 202.1L177.7 198.2L179.3 194.3L180.9 190.4L182.6 186.5L184.2 182.7L185.9 178.8L187.6 174.9L189.4 171.0L191.1 167.2L192.9 163.3L194.7 159.5L196.4 155.6L198.3 151.7L200.1 147.9L201.9 144.0L203.7 140.2L205.6 136.4L207.5 132.5L209.3 128.7L211.2 124.8L213.1 121.0L215.0 117.1L216.9 113.3L218.9 109.5L220.8 105.6L222.7 101.8L224.7 98.0L226.6 94.1L228.6 90.3L230.5 86.4L232.5 82.6L234.4 78.8L236.4 74.9L238.4 71.1L240.3 67.2L242.3 63.4L244.3 59.5L246.2 55.7M142.3 370.0L142.4 366.0L142.4 362.0L142.6 358.1L142.7 354.1L143.0 350.1L143.3 346.1L143.6 342.1L144.0 338.1L144.4 334.1L144.9 330.1L145.4 326.1L146.0 322.1L146.6 318.1L147.2 314.1L147.9 310.1L148.6 306.1L149.4 302.1L150.2 298.1L151.1 294.2L152.0 290.2L152.9 286.2L153.9 282.2L154.9 278.3L156.0 274.3L157.0 270.3L158.2 266.4L159.3 262.4L160.5 258.5L161.7 254.6L163.0 250.6L164.2 246.7L165.5 242.8L166.9 238.8L168.2 234.9L169.6 231.0L171.0 227.1L172.5 223.2L174.0 219.3L175.5 215.4L177.0 211.5L178.5 207.6L180.1 203.7L181.7 199.9L183.3 196.0L184.9 192.1L186.5 188.2L188.2 184.4L189.9 180.5L191.6 176.7L193.3 172.8L195.1 169.0L196.8 165.1L198.6 161.3L200.4 157.4L202.2 153.6L204.0 149.7L205.8 145.9L207.7 142.1L209.5 138.2L211.4 134.4L213.2 130.6L215.1 126.7L217.0 122.9L218.9 119.1L220.8 115.2L222.7 111.4L224.7 107.6L226.6 103.7L228.5 99.9L230.5 96.1L232.4 92.2L234.4 88.4L236.3 84.6L238.3 80.7L240.3 76.9L242.2 73.0L244.2 69.2L246.2 65.4L248.1 61.5L250.1 57.7M90.3 370.0 L142.3 370.0M90.3 365.3 L142.4 366.0M90.4 360.7 L142.4 362.0M90.6 356.0 L142.6 358.1M90.8 351.4 L142.7 354.1M91.0 346.7 L143.0 350.1M91.4 342.1 L143.3 346.1M91.7 337.5 L143.6 342.1M92.2 332.9 L144.0 338.1M92.7 328.3 L144.4 334.1M93.2 323.7 L144.9 330.1M93.8 319.1 L145.4 326.1M94.4 314.6 L146.0 322.1M95.1 310.0 L146.6 318.1M95.9 305.5 L147.2 314.1M96.7 301.0 L147.9 310.1M97.5 296.5 L148.6 306.1M98.4 292.0 L149.4 302.1M99.3 287.5 L150.2 298.1M100.3 283.0 L151.1 294.2M101.3 278.6 L152.0 290.2M102.3 274.1 L152.9 286.2M103.4 269.7 L153.9 282.2M104.5 265.3 L154.9 278.3M105.7 260.9 L156.0 274.3M106.9 256.5 L157.0 270.3M108.1 252.2 L158.2 266.4M109.4 247.8 L159.3 262.4M110.7 243.5 L160.5 258.5M112.0 239.1 L161.7 254.6M113.4 234.8 L163.0 250.6M114.8 230.6 L164.2 246.7M116.2 226.3 L165.5 242.8M117.6 222.0 L166.9 238.8M119.1 217.8 L168.2 234.9M120.6 213.5 L169.6 231.0M122.1 209.3 L171.0 227.1M123.7 205.1 L172.5 223.2M125.3 200.9 L174.0 219.3M126.9 196.7 L175.5 215.4M128.5 192.6 L177.0 211.5M130.2 188.4 L178.5 207.6M131.8 184.3 L180.1 203.7M133.5 180.2 L181.7 199.9M135.2 176.0 L183.3 196.0M136.9 171.9 L184.9 192.1M138.7 167.9 L186.5 188.2M140.4 163.8 L188.2 184.4M142.2 159.7 L189.9 180.5M144.0 155.7 L191.6 176.7M145.8 151.6 L193.3 172.8M147.6 147.6 L195.1 169.0M149.5 143.6 L196.8 165.1M151.3 139.6 L198.6 161.3M153.2 135.6 L200.4 157.4M155.0 131.6 L202.2 153.6M156.9 127.6 L204.0 149.7M158.8 123.6 L205.8 145.9M160.7 119.7 L207.7 142.1M162.6 115.7 L209.5 138.2M164.5 111.8 L211.4 134.4M166.5 107.8 L213.2 130.6M168.4 103.9 L215.1 126.7M170.3 100.0 L217.0 122.9M172.3 96.1 L218.9 119.1M174.2 92.1 L220.8 115.2M176.2 88.2 L222.7 111.4M178.1 84.3 L224.7 107.6M180.1 80.5 L226.6 103.7M182.1 76.6 L228.5 99.9M184.0 72.7 L230.5 96.1M186.0 68.8 L232.4 92.2M188.0 64.9 L234.4 88.4M189.9 61.1 L236.3 84.6M191.9 57.2 L238.3 80.7M193.9 53.3 L240.3 76.9M195.9 49.5 L242.2 73.0M197.8 45.6 L244.2 69.2M199.8 41.8 L246.2 65.4M201.8 37.9 L248.1 61.5M203.8 34.1 L250.1 57.7" fill="none" stroke="#555" stroke-opacity="0.62" stroke-width="0.72"/><g opacity="0.999"><defs><linearGradient id="cbL" x1="0" y1="0" x2="0" y2="1"><stop offset="0.0000" stop-color="#800000"/><stop offset="0.0312" stop-color="#9f0000"/><stop offset="0.0625" stop-color="#bf0000"/><stop offset="0.0938" stop-color="#df0000"/><stop offset="0.1250" stop-color="#ff0000"/><stop offset="0.1562" stop-color="#ff2000"/><stop offset="0.1875" stop-color="#ff4000"/><stop offset="0.2188" stop-color="#ff6000"/><stop offset="0.2500" stop-color="#ff8000"/><stop offset="0.2812" stop-color="#ff9f00"/><stop offset="0.3125" stop-color="#ffbf00"/><stop offset="0.3438" stop-color="#ffdf00"/><stop offset="0.3750" stop-color="#ffff00"/><stop offset="0.4062" stop-color="#dfff20"/><stop offset="0.4375" stop-color="#bfff40"/><stop offset="0.4688" stop-color="#9fff60"/><stop offset="0.5000" stop-color="#80ff80"/><stop offset="0.5312" stop-color="#60ff9f"/><stop offset="0.5625" stop-color="#40ffbf"/><stop offset="0.5938" stop-color="#20ffdf"/><stop offset="0.6250" stop-color="#00ffff"/><stop offset="0.6562" stop-color="#00dfff"/><stop offset="0.6875" stop-color="#00bfff"/><stop offset="0.7188" stop-color="#009fff"/><stop offset="0.7500" stop-color="#0080ff"/><stop offset="0.7812" stop-color="#0060ff"/><stop offset="0.8125" stop-color="#0040ff"/><stop offset="0.8438" stop-color="#0020ff"/><stop offset="0.8750" stop-color="#0000ff"/><stop offset="0.9062" stop-color="#0000df"/><stop offset="0.9375" stop-color="#0000bf"/><stop offset="0.9688" stop-color="#00009f"/><stop offset="1.0000" stop-color="#000080"/></linearGradient></defs><rect x="269.0" y="24.0" width="11.0" height="346.5" fill="url(#cbL)"/><text x="285.2" y="29.70" font-size="16.3">5</text><text x="285.2" y="64.42" font-size="16.3">4.5</text><text x="285.2" y="99.14" font-size="16.3">4</text><text x="285.2" y="133.86" font-size="16.3">3.5</text><text x="285.2" y="168.58" font-size="16.3">3</text><text x="285.2" y="203.30" font-size="16.3">2.5</text><text x="285.2" y="238.02" font-size="16.3">2</text><text x="285.2" y="272.74" font-size="16.3">1.5</text><text x="285.2" y="307.46" font-size="16.3">1</text><text x="285.2" y="342.17" font-size="16.3">0.5</text><path d="M280.0 58.72h-3.2M280.0 93.44h-3.2M280.0 128.16h-3.2M280.0 162.88h-3.2M280.0 197.60h-3.2M280.0 232.32h-3.2M280.0 267.04h-3.2M280.0 301.76h-3.2M280.0 336.47h-3.2" stroke="#464646" stroke-width="1" fill="none"/><text x="50.2" y="375.50" text-anchor="end" font-size="16">0</text><text x="50.2" y="340.88" text-anchor="end" font-size="16">0.01</text><text x="50.2" y="306.26" text-anchor="end" font-size="16">0.02</text><text x="50.2" y="271.64" text-anchor="end" font-size="16">0.03</text><text x="50.2" y="237.02" text-anchor="end" font-size="16">0.04</text><text x="50.2" y="202.40" text-anchor="end" font-size="16">0.05</text><text x="50.2" y="167.78" text-anchor="end" font-size="16">0.06</text><text x="50.2" y="133.16" text-anchor="end" font-size="16">0.07</text><text x="50.2" y="98.54" text-anchor="end" font-size="16">0.08</text><text x="50.2" y="63.92" text-anchor="end" font-size="16">0.09</text><text x="50.2" y="29.30" text-anchor="end" font-size="16">0.1</text><text x="116.30" y="390.2" text-anchor="middle" font-size="16">0</text><text x="185.70" y="390.2" text-anchor="middle" font-size="16">0.02</text><text x="255.10" y="390.2" text-anchor="middle" font-size="16">0.04</text><text x="102.2" y="409.9" font-size="17" textLength="62.6" lengthAdjust="spacingAndGlyphs">Position</text><text x="172.4" y="409.9" font-size="17" font-style="italic" textLength="9" lengthAdjust="spacingAndGlyphs">x</text><path d="M192.9 396.4H190.6V414.6H192.9M208.9 396.4H211.2V414.6H208.9" stroke="#4a4a4a" stroke-width="0.85" fill="none"/><text x="193.4" y="409.8" font-size="16.6" textLength="14.9" lengthAdjust="spacingAndGlyphs">m</text><g transform="translate(13.8,0) rotate(-90)"><text x="-250" y="0" font-size="17" textLength="62" lengthAdjust="spacingAndGlyphs">Position</text><text x="-180.6" y="0" font-size="18.5" font-style="italic" textLength="10.3" lengthAdjust="spacingAndGlyphs">y</text><path d="M-162.0 -13.4H-164.3V4.8H-162.0M-146.0 -13.4H-143.7V4.8H-146.0" stroke="#4a4a4a" stroke-width="0.85" fill="none"/><text x="-161.5" y="0.0" font-size="16.6" textLength="14.9" lengthAdjust="spacingAndGlyphs">m</text></g><g transform="translate(324.8,0) rotate(-90)"><text x="-274" y="0" font-size="18.4" textLength="78.5" lengthAdjust="spacingAndGlyphs">Deviation</text><text x="-189.4" y="0" font-size="18.4" font-style="italic" textLength="37.7" lengthAdjust="spacingAndGlyphs">RSE</text><path d="M-140.9 -13.4H-143.2V4.8H-140.9M-124.9 -13.4H-122.6V4.8H-124.9" stroke="#4a4a4a" stroke-width="0.85" fill="none"/><text x="-140.4" y="0.0" font-size="16.6" textLength="14.9" lengthAdjust="spacingAndGlyphs">m</text></g><path d="M283.3 9.6l8 8m0 -8l-8 8" stroke="#262626" stroke-width="0.9" fill="none"/><text x="294.6" y="18.7" font-size="18.1">10</text><text x="311.7" y="9.6" font-size="14.6">-4</text><text x="129.6" y="447.7" font-size="17" textLength="70.4" lengthAdjust="spacingAndGlyphs">(a) PINN</text></g><path d="M411.5 335.5H615.0M411.5 300.5H615.0M411.5 266.5H615.0M411.5 231.5H615.0M411.5 197.5H615.0M411.5 162.5H615.0M411.5 128.5H615.0M411.5 93.5H615.0M411.5 58.5H615.0M472.0 24.5V369.8M541.0 24.5V369.8M611.0 24.5V369.8" stroke="#000" stroke-opacity="0.135" stroke-width="1" fill="none"/><path d="M411.5 335.5h4.2M615.0 335.5h-4.2M411.5 300.5h4.2M615.0 300.5h-4.2M411.5 266.5h4.2M615.0 266.5h-4.2M411.5 231.5h4.2M615.0 231.5h-4.2M411.5 197.5h4.2M615.0 197.5h-4.2M411.5 162.5h4.2M615.0 162.5h-4.2M411.5 128.5h4.2M615.0 128.5h-4.2M411.5 93.5h4.2M615.0 93.5h-4.2M411.5 58.5h4.2M615.0 58.5h-4.2M472.0 369.8v-4.2M472.0 24.4v4.2M541.0 369.8v-4.2M541.0 24.4v4.2M611.0 369.8v-4.2M611.0 24.4v4.2" stroke="#464646" stroke-width="1" fill="none"/><rect x="411.5" y="24.4" width="203.5" height="345.4" fill="none" stroke="#464646" stroke-width="1"/><clipPath id="clip356"><path d="M446.2 370.0L446.2 365.3L446.3 360.7L446.5 356.0L446.7 351.4L446.9 346.7L447.3 342.1L447.7 337.5L448.1 332.9L448.6 328.3L449.2 323.7L449.8 319.1L450.4 314.5L451.1 310.0L451.9 305.4L452.7 300.9L453.5 296.4L454.4 291.9L455.3 287.4L456.3 283.0L457.3 278.5L458.4 274.1L459.5 269.6L460.6 265.2L461.8 260.8L463.0 256.5L464.3 252.1L465.6 247.8L466.9 243.4L468.2 239.1L469.6 234.8L471.0 230.5L472.5 226.2L474.0 222.0L475.5 217.7L477.0 213.5L478.5 209.3L480.1 205.1L481.7 200.9L483.3 196.7L485.0 192.6L486.7 188.4L488.4 184.3L490.1 180.2L491.8 176.1L493.6 172.0L495.3 167.9L497.1 163.9L498.9 159.8L500.7 155.8L502.6 151.7L504.4 147.7L506.3 143.7L508.1 139.7L510.0 135.7L511.9 131.7L513.8 127.8L515.7 123.8L517.7 119.8L519.6 115.9L521.5 112.0L523.5 108.0L525.5 104.1L527.4 100.2L529.4 96.3L531.4 92.4L533.3 88.5L535.3 84.6L537.3 80.8L539.3 76.9L541.3 73.0L543.3 69.2L545.3 65.3L547.3 61.4L549.3 57.6L551.3 53.7L553.3 49.9L555.3 46.1L557.3 42.2L559.3 38.4L561.3 34.6L607.5 58.5L605.5 62.3L603.5 66.1L601.5 70.0L599.5 73.8L597.5 77.6L595.5 81.4L593.5 85.3L591.5 89.1L589.6 92.9L587.6 96.7L585.6 100.6L583.7 104.4L581.7 108.2L579.7 112.0L577.8 115.8L575.9 119.6L573.9 123.5L572.0 127.3L570.1 131.1L568.2 134.9L566.3 138.7L564.5 142.6L562.6 146.4L560.7 150.2L558.9 154.0L557.1 157.9L555.3 161.7L553.5 165.5L551.7 169.4L549.9 173.2L548.2 177.0L546.5 180.9L544.8 184.7L543.1 188.6L541.4 192.4L539.7 196.3L538.1 200.2L536.5 204.0L534.9 207.9L533.3 211.8L531.8 215.7L530.3 219.6L528.8 223.4L527.3 227.3L525.9 231.2L524.5 235.1L523.1 239.0L521.8 243.0L520.4 246.9L519.1 250.8L517.9 254.7L516.6 258.7L515.4 262.6L514.3 266.5L513.1 270.5L512.1 274.4L511.0 278.4L510.0 282.4L509.0 286.3L508.0 290.3L507.1 294.3L506.3 298.2L505.4 302.2L504.6 306.2L503.9 310.2L503.2 314.2L502.5 318.2L501.9 322.1L501.3 326.1L500.8 330.1L500.3 334.1L499.9 338.1L499.5 342.1L499.2 346.1L498.9 350.1L498.6 354.1L498.5 358.1L498.3 362.0L498.3 366.0L498.2 370.0Z"/></clipPath><g clip-path="url(#clip356)" stroke-width="1.3" stroke-linejoin="round" fill="currentColor" stroke="currentColor"><path d="M446.2 370.0L447.3 370.0L447.3 368.4L446.2 368.4Z" color="#004cff"/><path d="M447.3 370.0L448.3 370.0L448.3 368.5L447.3 368.4Z" color="#002aff"/><path d="M448.3 370.0L449.4 370.0L449.4 368.5L448.3 368.5Z" color="#0008ff"/><path d="M449.4 370.0L450.5 370.0L450.5 368.5L449.4 368.5Z" color="#0000e6"/><path d="M450.5 370.0L452.7 370.0L452.7 368.5L450.5 368.5Z" color="#0000cd"/><path d="M452.7 370.0L454.8 370.0L454.9 368.5L452.7 368.5Z" color="#0000bd"/><path d="M454.8 370.0L457.0 370.0L457.0 368.5L454.9 368.5Z" color="#0000ad"/><path d="M457.0 370.0L459.2 370.0L459.2 368.5L457.0 368.5Z" color="#00009d"/><path d="M459.2 370.0L461.4 370.0L461.4 368.5L459.2 368.5Z" color="#000094"/><path d="M461.4 370.0L463.5 370.0L463.5 368.5L461.4 368.5Z" color="#000092"/><path d="M463.5 370.0L465.7 370.0L465.7 368.5L463.5 368.5Z" color="#000091"/><path d="M465.7 370.0L467.9 370.0L467.9 368.5L465.7 368.5Z" color="#000090"/><path d="M467.9 370.0L470.0 370.0L470.0 368.5L467.9 368.5Z" color="#00008e"/><path d="M470.0 370.0L472.2 370.0L472.2 368.6L470.0 368.5Z" color="#00008d"/><path d="M472.2 370.0L474.4 370.0L474.4 368.6L472.2 368.6Z" color="#00008d"/><path d="M474.4 370.0L476.5 370.0L476.5 368.6L474.4 368.6Z" color="#00008e"/><path d="M476.5 370.0L478.7 370.0L478.7 368.6L476.5 368.6Z" color="#00008f"/><path d="M478.7 370.0L480.9 370.0L480.9 368.6L478.7 368.6Z" color="#000091"/><path d="M480.9 370.0L483.0 370.0L483.0 368.6L480.9 368.6Z" color="#000092"/><path d="M483.0 370.0L485.2 370.0L485.2 368.6L483.0 368.6Z" color="#000093"/><path d="M485.2 370.0L487.4 370.0L487.4 368.6L485.2 368.6Z" color="#000099"/><path d="M487.4 370.0L489.5 370.0L489.6 368.6L487.4 368.6Z" color="#0000a4"/><path d="M489.5 370.0L491.7 370.0L491.7 368.6L489.6 368.6Z" color="#0000af"/><path d="M491.7 370.0L493.9 370.0L493.9 368.7L491.7 368.6Z" color="#0000ba"/><path d="M493.9 370.0L495.0 370.0L495.0 368.7L493.9 368.7Z" color="#0000d3"/><path d="M495.0 370.0L496.1 370.0L496.1 368.7L495.0 368.7Z" color="#0000f8"/><path d="M496.1 370.0L497.1 370.0L497.1 368.7L496.1 368.7Z" color="#001eff"/><path d="M497.1 370.0L498.2 370.0L498.2 368.7L497.1 368.7Z" color="#0044ff"/><path d="M446.2 368.4L447.3 368.4L447.3 366.9L446.2 366.9Z" color="#0098ff"/><path d="M447.3 368.4L448.3 368.5L448.4 366.9L447.3 366.9Z" color="#006fff"/><path d="M448.3 368.5L449.4 368.5L449.4 366.9L448.4 366.9Z" color="#0046ff"/><path d="M449.4 368.5L450.5 368.5L450.5 366.9L449.4 366.9Z" color="#001cff"/><path d="M450.5 368.5L452.7 368.5L452.7 366.9L450.5 366.9Z" color="#0000f9"/><path d="M452.7 368.5L454.9 368.5L454.9 367.0L452.7 366.9Z" color="#0000de"/><path d="M454.9 368.5L457.0 368.5L457.0 367.0L454.9 367.0Z" color="#0000c3"/><path d="M457.0 368.5L459.2 368.5L459.2 367.0L457.0 367.0Z" color="#0000a8"/><path d="M459.2 368.5L461.4 368.5L461.4 367.0L459.2 367.0Z" color="#00009a"/><path d="M461.4 368.5L463.5 368.5L463.5 367.0L461.4 367.0Z" color="#000098"/><path d="M463.5 368.5L465.7 368.5L465.7 367.1L463.5 367.0Z" color="#000096"/><path d="M465.7 368.5L467.9 368.5L467.9 367.1L465.7 367.1Z" color="#000093"/><path d="M467.9 368.5L470.0 368.5L470.0 367.1L467.9 367.1Z" color="#000092"/><path d="M470.0 368.5L472.2 368.6L472.2 367.1L470.0 367.1Z" color="#000090"/><path d="M472.2 368.6L474.4 368.6L474.4 367.1L472.2 367.1Z" color="#00008f"/><path d="M474.4 368.6L476.5 368.6L476.6 367.2L474.4 367.1Z" color="#000091"/><path d="M476.5 368.6L478.7 368.6L478.7 367.2L476.6 367.2Z" color="#000092"/><path d="M478.7 368.6L480.9 368.6L480.9 367.2L478.7 367.2Z" color="#000094"/><path d="M480.9 368.6L483.0 368.6L483.1 367.2L480.9 367.2Z" color="#000095"/><path d="M483.0 368.6L485.2 368.6L485.2 367.2L483.1 367.2Z" color="#000097"/><path d="M485.2 368.6L487.4 368.6L487.4 367.3L485.2 367.2Z" color="#0000a1"/><path d="M487.4 368.6L489.6 368.6L489.6 367.3L487.4 367.3Z" color="#0000b3"/><path d="M489.6 368.6L491.7 368.6L491.7 367.3L489.6 367.3Z" color="#0000c5"/><path d="M491.7 368.6L493.9 368.7L493.9 367.3L491.7 367.3Z" color="#0000d7"/><path d="M493.9 368.7L495.0 368.7L495.0 367.3L493.9 367.3Z" color="#0000f7"/><path d="M495.0 368.7L496.1 368.7L496.1 367.3L495.0 367.3Z" color="#0026ff"/><path d="M496.1 368.7L497.1 368.7L497.2 367.3L496.1 367.3Z" color="#0055ff"/><path d="M497.1 368.7L498.2 368.7L498.2 367.4L497.2 367.3Z" color="#0083ff"/><path d="M446.2 366.9L447.3 366.9L447.3 365.3L446.2 365.3Z" color="#00e4ff"/><path d="M447.3 366.9L448.4 366.9L448.4 365.4L447.3 365.3Z" color="#00b4ff"/><path d="M448.4 366.9L449.4 366.9L449.5 365.4L448.4 365.4Z" color="#0083ff"/><path d="M449.4 366.9L450.5 366.9L450.5 365.4L449.5 365.4Z" color="#0052ff"/><path d="M450.5 366.9L452.7 366.9L452.7 365.4L450.5 365.4Z" color="#0027ff"/><path d="M452.7 366.9L454.9 367.0L454.9 365.4L452.7 365.4Z" color="#0001ff"/><path d="M454.9 367.0L457.0 367.0L457.0 365.5L454.9 365.4Z" color="#0000da"/><path d="M457.0 367.0L459.2 367.0L459.2 365.5L457.0 365.5Z" color="#0000b4"/><path d="M459.2 367.0L461.4 367.0L461.4 365.5L459.2 365.5Z" color="#00009f"/><path d="M461.4 367.0L463.5 367.0L463.6 365.6L461.4 365.5Z" color="#00009c"/><path d="M463.5 367.0L465.7 367.1L465.7 365.6L463.6 365.6Z" color="#00009a"/><path d="M465.7 367.1L467.9 367.1L467.9 365.6L465.7 365.6Z" color="#000097"/><path d="M467.9 367.1L470.0 367.1L470.1 365.6L467.9 365.6Z" color="#000094"/><path d="M470.0 367.1L472.2 367.1L472.2 365.7L470.1 365.6Z" color="#000092"/><path d="M472.2 367.1L474.4 367.1L474.4 365.7L472.2 365.7Z" color="#000091"/><path d="M474.4 367.1L476.6 367.2L476.6 365.7L474.4 365.7Z" color="#000093"/><path d="M476.6 367.2L478.7 367.2L478.7 365.8L476.6 365.7Z" color="#000095"/><path d="M478.7 367.2L480.9 367.2L480.9 365.8L478.7 365.8Z" color="#000097"/><path d="M480.9 367.2L483.1 367.2L483.1 365.8L480.9 365.8Z" color="#000099"/><path d="M483.1 367.2L485.2 367.2L485.2 365.9L483.1 365.8Z" color="#00009b"/><path d="M485.2 367.2L487.4 367.3L487.4 365.9L485.2 365.9Z" color="#0000a8"/><path d="M487.4 367.3L489.6 367.3L489.6 365.9L487.4 365.9Z" color="#0000c1"/><path d="M489.6 367.3L491.7 367.3L491.7 365.9L489.6 365.9Z" color="#0000da"/><path d="M491.7 367.3L493.9 367.3L493.9 366.0L491.7 365.9Z" color="#0000f3"/><path d="M493.9 367.3L495.0 367.3L495.0 366.0L493.9 366.0Z" color="#001dff"/><path d="M495.0 367.3L496.1 367.3L496.1 366.0L495.0 366.0Z" color="#0054ff"/><path d="M496.1 367.3L497.2 367.3L497.2 366.0L496.1 366.0Z" color="#008bff"/><path d="M497.2 367.3L498.2 367.4L498.3 366.0L497.2 366.0Z" color="#00c3ff"/><path d="M446.2 365.3L447.3 365.3L447.3 363.8L446.2 363.8Z" color="#29ffd6"/><path d="M447.3 365.3L448.4 365.4L448.4 363.8L447.3 363.8Z" color="#00f6ff"/><path d="M448.4 365.4L449.5 365.4L449.5 363.8L448.4 363.8Z" color="#00c5ff"/><path d="M449.5 365.4L450.5 365.4L450.6 363.9L449.5 363.8Z" color="#0093ff"/><path d="M450.5 365.4L452.7 365.4L452.7 363.9L450.6 363.9Z" color="#0062ff"/><path d="M452.7 365.4L454.9 365.4L454.9 363.9L452.7 363.9Z" color="#0031ff"/><path d="M454.9 365.4L457.0 365.5L457.1 364.0L454.9 363.9Z" color="#0000ff"/><path d="M457.0 365.5L459.2 365.5L459.2 364.0L457.1 364.0Z" color="#0000ce"/><path d="M459.2 365.5L461.4 365.5L461.4 364.0L459.2 364.0Z" color="#0000b3"/><path d="M461.4 365.5L463.6 365.6L463.6 364.1L461.4 364.0Z" color="#0000ad"/><path d="M463.6 365.6L465.7 365.6L465.7 364.1L463.6 364.1Z" color="#0000a8"/><path d="M465.7 365.6L467.9 365.6L467.9 364.2L465.7 364.1Z" color="#0000a2"/><path d="M467.9 365.6L470.1 365.6L470.1 364.2L467.9 364.2Z" color="#00009c"/><path d="M470.1 365.6L472.2 365.7L472.3 364.2L470.1 364.2Z" color="#000097"/><path d="M472.2 365.7L474.4 365.7L474.4 364.3L472.3 364.2Z" color="#000095"/><path d="M474.4 365.7L476.6 365.7L476.6 364.3L474.4 364.3Z" color="#000097"/><path d="M476.6 365.7L478.7 365.8L478.8 364.4L476.6 364.3Z" color="#000099"/><path d="M478.7 365.8L480.9 365.8L480.9 364.4L478.8 364.4Z" color="#00009b"/><path d="M480.9 365.8L483.1 365.8L483.1 364.4L480.9 364.4Z" color="#00009e"/><path d="M483.1 365.8L485.2 365.9L485.3 364.5L483.1 364.4Z" color="#0000a0"/><path d="M485.2 365.9L487.4 365.9L487.4 364.5L485.3 364.5Z" color="#0000b0"/><path d="M487.4 365.9L489.6 365.9L489.6 364.5L487.4 364.5Z" color="#0000cd"/><path d="M489.6 365.9L491.7 365.9L491.8 364.6L489.6 364.5Z" color="#0000ea"/><path d="M491.7 365.9L493.9 366.0L493.9 364.6L491.8 364.6Z" color="#0008ff"/><path d="M493.9 366.0L495.0 366.0L495.0 364.6L493.9 364.6Z" color="#0033ff"/><path d="M495.0 366.0L496.1 366.0L496.1 364.7L495.0 364.6Z" color="#006bff"/><path d="M496.1 366.0L497.2 366.0L497.2 364.7L496.1 364.7Z" color="#00a3ff"/><path d="M497.2 366.0L498.3 366.0L498.3 364.7L497.2 364.7Z" color="#00dcff"/><path d="M446.2 363.8L447.3 363.8L447.3 362.2L446.3 362.2Z" color="#65ff9a"/><path d="M447.3 363.8L448.4 363.8L448.4 362.3L447.3 362.2Z" color="#39ffc6"/><path d="M448.4 363.8L449.5 363.8L449.5 362.3L448.4 362.3Z" color="#0cfff3"/><path d="M449.5 363.8L450.6 363.9L450.6 362.3L449.5 362.3Z" color="#00dfff"/><path d="M450.6 363.9L452.7 363.9L452.8 362.4L450.6 362.3Z" color="#00abff"/><path d="M452.7 363.9L454.9 363.9L454.9 362.4L452.8 362.4Z" color="#0070ff"/><path d="M454.9 363.9L457.1 364.0L457.1 362.5L454.9 362.4Z" color="#0035ff"/><path d="M457.1 364.0L459.2 364.0L459.3 362.5L457.1 362.5Z" color="#0000f9"/><path d="M459.2 364.0L461.4 364.0L461.4 362.6L459.3 362.5Z" color="#0000d6"/><path d="M461.4 364.0L463.6 364.1L463.6 362.6L461.4 362.6Z" color="#0000ca"/><path d="M463.6 364.1L465.7 364.1L465.8 362.7L463.6 362.6Z" color="#0000bf"/><path d="M465.7 364.1L467.9 364.2L467.9 362.7L465.8 362.7Z" color="#0000b4"/><path d="M467.9 364.2L470.1 364.2L470.1 362.8L467.9 362.7Z" color="#0000a9"/><path d="M470.1 364.2L472.3 364.2L472.3 362.8L470.1 362.8Z" color="#00009e"/><path d="M472.3 364.2L474.4 364.3L474.4 362.8L472.3 362.8Z" color="#000099"/><path d="M474.4 364.3L476.6 364.3L476.6 362.9L474.4 362.8Z" color="#00009c"/><path d="M476.6 364.3L478.8 364.4L478.8 362.9L476.6 362.9Z" color="#00009f"/><path d="M478.8 364.4L480.9 364.4L481.0 363.0L478.8 362.9Z" color="#0000a1"/><path d="M480.9 364.4L483.1 364.4L483.1 363.0L481.0 363.0Z" color="#0000a4"/><path d="M483.1 364.4L485.3 364.5L485.3 363.1L483.1 363.0Z" color="#0000a7"/><path d="M485.3 364.5L487.4 364.5L487.5 363.1L485.3 363.1Z" color="#0000b7"/><path d="M487.4 364.5L489.6 364.5L489.6 363.2L487.5 363.1Z" color="#0000d5"/><path d="M489.6 364.5L491.8 364.6L491.8 363.2L489.6 363.2Z" color="#0000f4"/><path d="M491.8 364.6L493.9 364.6L494.0 363.3L491.8 363.2Z" color="#0013ff"/><path d="M493.9 364.6L495.0 364.6L495.0 363.3L494.0 363.3Z" color="#003bff"/><path d="M495.0 364.6L496.1 364.7L496.1 363.3L495.0 363.3Z" color="#006cff"/><path d="M496.1 364.7L497.2 364.7L497.2 363.4L496.1 363.3Z" color="#009dff"/><path d="M497.2 364.7L498.3 364.7L498.3 363.4L497.2 363.4Z" color="#00ceff"/><path d="M446.3 362.2L447.3 362.2L447.4 360.7L446.3 360.7Z" color="#a1ff5e"/><path d="M447.3 362.2L448.4 362.3L448.5 360.7L447.4 360.7Z" color="#7aff85"/><path d="M448.4 362.3L449.5 362.3L449.6 360.8L448.5 360.7Z" color="#53ffac"/><path d="M449.5 362.3L450.6 362.3L450.6 360.8L449.6 360.8Z" color="#2cffd3"/><path d="M450.6 362.3L452.8 362.4L452.8 360.8L450.6 360.8Z" color="#00f4ff"/><path d="M452.8 362.4L454.9 362.4L455.0 360.9L452.8 360.8Z" color="#00afff"/><path d="M454.9 362.4L457.1 362.5L457.1 361.0L455.0 360.9Z" color="#006aff"/><path d="M457.1 362.5L459.3 362.5L459.3 361.0L457.1 361.0Z" color="#0024ff"/><path d="M459.3 362.5L461.4 362.6L461.5 361.1L459.3 361.0Z" color="#0000f8"/><path d="M461.4 362.6L463.6 362.6L463.6 361.1L461.5 361.1Z" color="#0000e7"/><path d="M463.6 362.6L465.8 362.7L465.8 361.2L463.6 361.1Z" color="#0000d7"/><path d="M465.8 362.7L467.9 362.7L468.0 361.2L465.8 361.2Z" color="#0000c6"/><path d="M467.9 362.7L470.1 362.8L470.1 361.3L468.0 361.2Z" color="#0000b5"/><path d="M470.1 362.8L472.3 362.8L472.3 361.4L470.1 361.3Z" color="#0000a5"/><path d="M472.3 362.8L474.4 362.8L474.5 361.4L472.3 361.4Z" color="#00009e"/><path d="M474.4 362.8L476.6 362.9L476.7 361.5L474.5 361.4Z" color="#0000a1"/><path d="M476.6 362.9L478.8 362.9L478.8 361.5L476.7 361.5Z" color="#0000a4"/><path d="M478.8 362.9L481.0 363.0L481.0 361.6L478.8 361.5Z" color="#0000a7"/><path d="M481.0 363.0L483.1 363.0L483.2 361.6L481.0 361.6Z" color="#0000ab"/><path d="M483.1 363.0L485.3 363.1L485.3 361.7L483.2 361.6Z" color="#0000ae"/><path d="M485.3 363.1L487.5 363.1L487.5 361.8L485.3 361.7Z" color="#0000bf"/><path d="M487.5 363.1L489.6 363.2L489.7 361.8L487.5 361.8Z" color="#0000de"/><path d="M489.6 363.2L491.8 363.2L491.8 361.9L489.7 361.8Z" color="#0000fd"/><path d="M491.8 363.2L494.0 363.3L494.0 361.9L491.8 361.9Z" color="#001eff"/><path d="M494.0 363.3L495.0 363.3L495.1 362.0L494.0 361.9Z" color="#0042ff"/><path d="M495.0 363.3L496.1 363.3L496.2 362.0L495.1 362.0Z" color="#006cff"/><path d="M496.1 363.3L497.2 363.4L497.2 362.0L496.2 362.0Z" color="#0097ff"/><path d="M497.2 363.4L498.3 363.4L498.3 362.0L497.2 362.0Z" color="#00c1ff"/><path d="M446.3 360.7L447.4 360.7L447.4 359.1L446.3 359.1Z" color="#ddff22"/><path d="M447.4 360.7L448.5 360.7L448.5 359.2L447.4 359.1Z" color="#bbff44"/><path d="M448.5 360.7L449.6 360.8L449.6 359.2L448.5 359.2Z" color="#99ff66"/><path d="M449.6 360.8L450.6 360.8L450.7 359.2L449.6 359.2Z" color="#78ff87"/><path d="M450.6 360.8L452.8 360.8L452.8 359.3L450.7 359.2Z" color="#3fffc0"/><path d="M452.8 360.8L455.0 360.9L455.0 359.4L452.8 359.3Z" color="#00eeff"/><path d="M455.0 360.9L457.1 361.0L457.2 359.4L455.0 359.4Z" color="#009eff"/><path d="M457.1 361.0L459.3 361.0L459.4 359.5L457.2 359.4Z" color="#004eff"/><path d="M459.3 361.0L461.5 361.1L461.5 359.6L459.4 359.5Z" color="#001bff"/><path d="M461.5 361.1L463.6 361.1L463.7 359.7L461.5 359.6Z" color="#0005ff"/><path d="M463.6 361.1L465.8 361.2L465.9 359.7L463.7 359.7Z" color="#0000ee"/><path d="M465.8 361.2L468.0 361.2L468.0 359.8L465.9 359.7Z" color="#0000d8"/><path d="M468.0 361.2L470.1 361.3L470.2 359.9L468.0 359.8Z" color="#0000c2"/><path d="M470.1 361.3L472.3 361.4L472.4 359.9L470.2 359.9Z" color="#0000ac"/><path d="M472.3 361.4L474.5 361.4L474.5 360.0L472.4 359.9Z" color="#0000a2"/><path d="M474.5 361.4L476.7 361.5L476.7 360.1L474.5 360.0Z" color="#0000a6"/><path d="M476.7 361.5L478.8 361.5L478.9 360.1L476.7 360.1Z" color="#0000aa"/><path d="M478.8 361.5L481.0 361.6L481.0 360.2L478.9 360.1Z" color="#0000ad"/><path d="M481.0 361.6L483.2 361.6L483.2 360.3L481.0 360.2Z" color="#0000b1"/><path d="M483.2 361.6L485.3 361.7L485.4 360.3L483.2 360.3Z" color="#0000b5"/><path d="M485.3 361.7L487.5 361.8L487.5 360.4L485.4 360.3Z" color="#0000c7"/><path d="M487.5 361.8L489.7 361.8L489.7 360.5L487.5 360.4Z" color="#0000e7"/><path d="M489.7 361.8L491.8 361.9L491.9 360.5L489.7 360.5Z" color="#0008ff"/><path d="M491.8 361.9L494.0 361.9L494.0 360.6L491.9 360.5Z" color="#0028ff"/><path d="M494.0 361.9L495.1 362.0L495.1 360.6L494.0 360.6Z" color="#004aff"/><path d="M495.1 362.0L496.2 362.0L496.2 360.7L495.1 360.6Z" color="#006dff"/><path d="M496.2 362.0L497.2 362.0L497.3 360.7L496.2 360.7Z" color="#0090ff"/><path d="M497.2 362.0L498.3 362.0L498.4 360.7L497.3 360.7Z" color="#00b3ff"/><path d="M446.3 359.1L447.4 359.1L447.5 357.6L446.4 357.6Z" color="#fffd00"/><path d="M447.4 359.1L448.5 359.2L448.6 357.6L447.5 357.6Z" color="#e3ff1c"/><path d="M448.5 359.2L449.6 359.2L449.6 357.7L448.6 357.6Z" color="#c4ff3b"/><path d="M449.6 359.2L450.7 359.2L450.7 357.7L449.6 357.7Z" color="#a6ff59"/><path d="M450.7 359.2L452.8 359.3L452.9 357.8L450.7 357.7Z" color="#6dff92"/><path d="M452.8 359.3L455.0 359.4L455.1 357.9L452.9 357.8Z" color="#18ffe7"/><path d="M455.0 359.4L457.2 359.4L457.2 357.9L455.1 357.9Z" color="#00c2ff"/><path d="M457.2 359.4L459.4 359.5L459.4 358.0L457.2 357.9Z" color="#006dff"/><path d="M459.4 359.5L461.5 359.6L461.6 358.1L459.4 358.0Z" color="#0036ff"/><path d="M461.5 359.6L463.7 359.7L463.7 358.2L461.6 358.1Z" color="#001dff"/><path d="M463.7 359.7L465.9 359.7L465.9 358.2L463.7 358.2Z" color="#0004ff"/><path d="M465.9 359.7L468.0 359.8L468.1 358.3L465.9 358.2Z" color="#0000ea"/><path d="M468.0 359.8L470.2 359.9L470.2 358.4L468.1 358.3Z" color="#0000d2"/><path d="M470.2 359.9L472.4 359.9L472.4 358.5L470.2 358.4Z" color="#0000b9"/><path d="M472.4 359.9L474.5 360.0L474.6 358.6L472.4 358.5Z" color="#0000ae"/><path d="M474.5 360.0L476.7 360.1L476.7 358.6L474.6 358.6Z" color="#0000b2"/><path d="M476.7 360.1L478.9 360.1L478.9 358.7L476.7 358.6Z" color="#0000b6"/><path d="M478.9 360.1L481.0 360.2L481.1 358.8L478.9 358.7Z" color="#0000ba"/><path d="M481.0 360.2L483.2 360.3L483.2 358.9L481.1 358.8Z" color="#0000be"/><path d="M483.2 360.3L485.4 360.3L485.4 358.9L483.2 358.9Z" color="#0000c2"/><path d="M485.4 360.3L487.5 360.4L487.6 359.0L485.4 358.9Z" color="#0000d3"/><path d="M487.5 360.4L489.7 360.5L489.7 359.1L487.6 359.0Z" color="#0000f2"/><path d="M489.7 360.5L491.9 360.5L491.9 359.2L489.7 359.1Z" color="#0012ff"/><path d="M491.9 360.5L494.0 360.6L494.1 359.2L491.9 359.2Z" color="#0030ff"/><path d="M494.0 360.6L495.1 360.6L495.2 359.3L494.1 359.2Z" color="#004eff"/><path d="M495.1 360.6L496.2 360.7L496.2 359.3L495.2 359.3Z" color="#006bff"/><path d="M496.2 360.7L497.3 360.7L497.3 359.4L496.2 359.3Z" color="#0088ff"/><path d="M497.3 360.7L498.4 360.7L498.4 359.4L497.3 359.4Z" color="#00a4ff"/><path d="M446.4 357.6L447.5 357.6L447.5 356.1L446.5 356.0Z" color="#eeff11"/><path d="M447.5 357.6L448.6 357.6L448.6 356.1L447.5 356.1Z" color="#ceff31"/><path d="M448.6 357.6L449.6 357.7L449.7 356.1L448.6 356.1Z" color="#afff50"/><path d="M449.6 357.7L450.7 357.7L450.8 356.2L449.7 356.1Z" color="#90ff6f"/><path d="M450.7 357.7L452.9 357.8L453.0 356.3L450.8 356.2Z" color="#59ffa6"/><path d="M452.9 357.8L455.1 357.9L455.1 356.4L453.0 356.3Z" color="#0bfff4"/><path d="M455.1 357.9L457.2 357.9L457.3 356.4L455.1 356.4Z" color="#00bcff"/><path d="M457.2 357.9L459.4 358.0L459.5 356.5L457.3 356.4Z" color="#006eff"/><path d="M459.4 358.0L461.6 358.1L461.6 356.6L459.5 356.5Z" color="#003dff"/><path d="M461.6 358.1L463.7 358.2L463.8 356.7L461.6 356.6Z" color="#0028ff"/><path d="M463.7 358.2L465.9 358.2L466.0 356.8L463.8 356.7Z" color="#0014ff"/><path d="M465.9 358.2L468.1 358.3L468.1 356.9L466.0 356.8Z" color="#0000fe"/><path d="M468.1 358.3L470.2 358.4L470.3 357.0L468.1 356.9Z" color="#0000e9"/><path d="M470.2 358.4L472.4 358.5L472.5 357.0L470.3 357.0Z" color="#0000d5"/><path d="M472.4 358.5L474.6 358.6L474.6 357.1L472.5 357.0Z" color="#0000cc"/><path d="M474.6 358.6L476.7 358.6L476.8 357.2L474.6 357.1Z" color="#0000d0"/><path d="M476.7 358.6L478.9 358.7L479.0 357.3L476.8 357.2Z" color="#0000d3"/><path d="M478.9 358.7L481.1 358.8L481.1 357.4L479.0 357.3Z" color="#0000d7"/><path d="M481.1 358.8L483.2 358.9L483.3 357.5L481.1 357.4Z" color="#0000da"/><path d="M483.2 358.9L485.4 358.9L485.5 357.6L483.3 357.5Z" color="#0000de"/><path d="M485.4 358.9L487.6 359.0L487.6 357.6L485.5 357.6Z" color="#0000eb"/><path d="M487.6 359.0L489.7 359.1L489.8 357.7L487.6 357.6Z" color="#0003ff"/><path d="M489.7 359.1L491.9 359.2L492.0 357.8L489.8 357.7Z" color="#001aff"/><path d="M491.9 359.2L494.1 359.2L494.1 357.9L492.0 357.8Z" color="#0032ff"/><path d="M494.1 359.2L495.2 359.3L495.2 357.9L494.1 357.9Z" color="#004aff"/><path d="M495.2 359.3L496.2 359.3L496.3 358.0L495.2 357.9Z" color="#0062ff"/><path d="M496.2 359.3L497.3 359.4L497.4 358.0L496.3 358.0Z" color="#007aff"/><path d="M497.3 359.4L498.4 359.4L498.5 358.1L497.4 358.0Z" color="#0092ff"/><path d="M446.5 356.0L447.5 356.1L447.8 351.4L446.7 351.4Z" color="#c7ff38"/><path d="M447.5 356.1L448.6 356.1L448.8 351.5L447.8 351.4Z" color="#a6ff59"/><path d="M448.6 356.1L449.7 356.1L449.9 351.5L448.8 351.5Z" color="#85ff7a"/><path d="M449.7 356.1L450.8 356.2L451.0 351.6L449.9 351.5Z" color="#64ff9b"/><path d="M450.8 356.2L453.0 356.3L453.2 351.7L451.0 351.6Z" color="#33ffcc"/><path d="M453.0 356.3L455.1 356.4L455.3 351.8L453.2 351.7Z" color="#00f2ff"/><path d="M455.1 356.4L457.3 356.4L457.5 351.9L455.3 351.8Z" color="#00b2ff"/><path d="M457.3 356.4L459.5 356.5L459.7 352.0L457.5 351.9Z" color="#0071ff"/><path d="M459.5 356.5L461.6 356.6L461.8 352.2L459.7 352.0Z" color="#004bff"/><path d="M461.6 356.6L463.8 356.7L464.0 352.3L461.8 352.2Z" color="#003fff"/><path d="M463.8 356.7L466.0 356.8L466.2 352.4L464.0 352.3Z" color="#0032ff"/><path d="M466.0 356.8L468.1 356.9L468.3 352.5L466.2 352.4Z" color="#0026ff"/><path d="M468.1 356.9L470.3 357.0L470.5 352.6L468.3 352.5Z" color="#001aff"/><path d="M470.3 357.0L472.5 357.0L472.7 352.7L470.5 352.6Z" color="#000eff"/><path d="M472.5 357.0L474.6 357.1L474.8 352.8L472.7 352.7Z" color="#0009ff"/><path d="M474.6 357.1L476.8 357.2L477.0 352.9L474.8 352.8Z" color="#000bff"/><path d="M476.8 357.2L479.0 357.3L479.2 353.1L477.0 352.9Z" color="#000eff"/><path d="M479.0 357.3L481.1 357.4L481.3 353.2L479.2 353.1Z" color="#0011ff"/><path d="M481.1 357.4L483.3 357.5L483.5 353.3L481.3 353.2Z" color="#0013ff"/><path d="M483.3 357.5L485.5 357.6L485.7 353.4L483.5 353.3Z" color="#0016ff"/><path d="M485.5 357.6L487.6 357.6L487.8 353.5L485.7 353.4Z" color="#001bff"/><path d="M487.6 357.6L489.8 357.7L490.0 353.6L487.8 353.5Z" color="#0024ff"/><path d="M489.8 357.7L492.0 357.8L492.2 353.7L490.0 353.6Z" color="#002cff"/><path d="M492.0 357.8L494.1 357.9L494.3 353.9L492.2 353.7Z" color="#0034ff"/><path d="M494.1 357.9L495.2 357.9L495.4 353.9L494.3 353.9Z" color="#0040ff"/><path d="M495.2 357.9L496.3 358.0L496.5 354.0L495.4 353.9Z" color="#0050ff"/><path d="M496.3 358.0L497.4 358.0L497.6 354.0L496.5 354.0Z" color="#005fff"/><path d="M497.4 358.0L498.5 358.1L498.6 354.1L497.6 354.0Z" color="#006fff"/><path d="M446.7 351.4L447.8 351.4L448.0 346.8L446.9 346.7Z" color="#87ff78"/><path d="M447.8 351.4L448.8 351.5L449.1 346.9L448.0 346.8Z" color="#66ff99"/><path d="M448.8 351.5L449.9 351.5L450.2 346.9L449.1 346.9Z" color="#45ffba"/><path d="M449.9 351.5L451.0 351.6L451.3 347.0L450.2 346.9Z" color="#24ffdb"/><path d="M451.0 351.6L453.2 351.7L453.4 347.1L451.3 347.0Z" color="#00f9ff"/><path d="M453.2 351.7L455.3 351.8L455.6 347.3L453.4 347.1Z" color="#00c6ff"/><path d="M455.3 351.8L457.5 351.9L457.8 347.4L455.6 347.3Z" color="#0093ff"/><path d="M457.5 351.9L459.7 352.0L459.9 347.6L457.8 347.4Z" color="#005fff"/><path d="M459.7 352.0L461.8 352.2L462.1 347.7L459.9 347.6Z" color="#0042ff"/><path d="M461.8 352.2L464.0 352.3L464.3 347.8L462.1 347.7Z" color="#003aff"/><path d="M464.0 352.3L466.2 352.4L466.4 348.0L464.3 347.8Z" color="#0032ff"/><path d="M466.2 352.4L468.3 352.5L468.6 348.1L466.4 348.0Z" color="#002aff"/><path d="M468.3 352.5L470.5 352.6L470.8 348.3L468.6 348.1Z" color="#0022ff"/><path d="M470.5 352.6L472.7 352.7L472.9 348.4L470.8 348.3Z" color="#001aff"/><path d="M472.7 352.7L474.8 352.8L475.1 348.5L472.9 348.4Z" color="#0018ff"/><path d="M474.8 352.8L477.0 352.9L477.2 348.7L475.1 348.5Z" color="#001aff"/><path d="M477.0 352.9L479.2 353.1L479.4 348.8L477.2 348.7Z" color="#001cff"/><path d="M479.2 353.1L481.3 353.2L481.6 349.0L479.4 348.8Z" color="#001eff"/><path d="M481.3 353.2L483.5 353.3L483.7 349.1L481.6 349.0Z" color="#0020ff"/><path d="M483.5 353.3L485.7 353.4L485.9 349.3L483.7 349.1Z" color="#0022ff"/><path d="M485.7 353.4L487.8 353.5L488.1 349.4L485.9 349.3Z" color="#0022ff"/><path d="M487.8 353.5L490.0 353.6L490.2 349.5L488.1 349.4Z" color="#0021ff"/><path d="M490.0 353.6L492.2 353.7L492.4 349.7L490.2 349.5Z" color="#0020ff"/><path d="M492.2 353.7L494.3 353.9L494.6 349.8L492.4 349.7Z" color="#001fff"/><path d="M494.3 353.9L495.4 353.9L495.6 349.9L494.6 349.8Z" color="#0024ff"/><path d="M495.4 353.9L496.5 354.0L496.7 350.0L495.6 349.9Z" color="#0030ff"/><path d="M496.5 354.0L497.6 354.0L497.8 350.0L496.7 350.0Z" color="#003cff"/><path d="M497.6 354.0L498.6 354.1L498.9 350.1L497.8 350.0Z" color="#0047ff"/><path d="M446.9 346.7L448.0 346.8L448.4 342.2L447.3 342.1Z" color="#42ffbd"/><path d="M448.0 346.8L449.1 346.9L449.4 342.3L448.4 342.2Z" color="#23ffdc"/><path d="M449.1 346.9L450.2 346.9L450.5 342.3L449.4 342.3Z" color="#05fffa"/><path d="M450.2 346.9L451.3 347.0L451.6 342.4L450.5 342.3Z" color="#00e6ff"/><path d="M451.3 347.0L453.4 347.1L453.8 342.6L451.6 342.4Z" color="#00c0ff"/><path d="M453.4 347.1L455.6 347.3L455.9 342.8L453.8 342.6Z" color="#0092ff"/><path d="M455.6 347.3L457.8 347.4L458.1 342.9L455.9 342.8Z" color="#0065ff"/><path d="M457.8 347.4L459.9 347.6L460.3 343.1L458.1 342.9Z" color="#0037ff"/><path d="M459.9 347.6L462.1 347.7L462.4 343.3L460.3 343.1Z" color="#001aff"/><path d="M462.1 347.7L464.3 347.8L464.6 343.4L462.4 343.3Z" color="#000fff"/><path d="M464.3 347.8L466.4 348.0L466.7 343.6L464.6 343.4Z" color="#0003ff"/><path d="M466.4 348.0L468.6 348.1L468.9 343.8L466.7 343.6Z" color="#0000f7"/><path d="M468.6 348.1L470.8 348.3L471.1 343.9L468.9 343.8Z" color="#0000eb"/><path d="M470.8 348.3L472.9 348.4L473.2 344.1L471.1 343.9Z" color="#0000df"/><path d="M472.9 348.4L475.1 348.5L475.4 344.3L473.2 344.1Z" color="#0000db"/><path d="M475.1 348.5L477.2 348.7L477.5 344.4L475.4 344.3Z" color="#0000dd"/><path d="M477.2 348.7L479.4 348.8L479.7 344.6L477.5 344.4Z" color="#0000df"/><path d="M479.4 348.8L481.6 349.0L481.9 344.8L479.7 344.6Z" color="#0000e1"/><path d="M481.6 349.0L483.7 349.1L484.0 344.9L481.9 344.8Z" color="#0000e3"/><path d="M483.7 349.1L485.9 349.3L486.2 345.1L484.0 344.9Z" color="#0000e5"/><path d="M485.9 349.3L488.1 349.4L488.4 345.3L486.2 345.1Z" color="#0000e7"/><path d="M488.1 349.4L490.2 349.5L490.5 345.4L488.4 345.3Z" color="#0000e9"/><path d="M490.2 349.5L492.4 349.7L492.7 345.6L490.5 345.4Z" color="#0000ec"/><path d="M492.4 349.7L494.6 349.8L494.8 345.8L492.7 345.6Z" color="#0000ef"/><path d="M494.6 349.8L495.6 349.9L495.9 345.9L494.8 345.8Z" color="#0000f9"/><path d="M495.6 349.9L496.7 350.0L497.0 345.9L495.9 345.9Z" color="#000bff"/><path d="M496.7 350.0L497.8 350.0L498.1 346.0L497.0 345.9Z" color="#001dff"/><path d="M497.8 350.0L498.9 350.1L499.2 346.1L498.1 346.0Z" color="#002eff"/><path d="M447.3 342.1L448.4 342.2L448.7 337.6L447.7 337.5Z" color="#2cffd3"/><path d="M448.4 342.2L449.4 342.3L449.8 337.7L448.7 337.6Z" color="#0cfff3"/><path d="M449.4 342.3L450.5 342.3L450.9 337.8L449.8 337.7Z" color="#00ebff"/><path d="M450.5 342.3L451.6 342.4L452.0 337.9L450.9 337.8Z" color="#00caff"/><path d="M451.6 342.4L453.8 342.6L454.1 338.1L452.0 337.9Z" color="#00a3ff"/><path d="M453.8 342.6L455.9 342.8L456.3 338.2L454.1 338.1Z" color="#0073ff"/><path d="M455.9 342.8L458.1 342.9L458.5 338.4L456.3 338.2Z" color="#0044ff"/><path d="M458.1 342.9L460.3 343.1L460.6 338.6L458.5 338.4Z" color="#0015ff"/><path d="M460.3 343.1L462.4 343.3L462.8 338.8L460.6 338.6Z" color="#0000f7"/><path d="M462.4 343.3L464.6 343.4L464.9 339.0L462.8 338.8Z" color="#0000ec"/><path d="M464.6 343.4L466.7 343.6L467.1 339.2L464.9 339.0Z" color="#0000e1"/><path d="M466.7 343.6L468.9 343.8L469.3 339.4L467.1 339.2Z" color="#0000d6"/><path d="M468.9 343.8L471.1 343.9L471.4 339.6L469.3 339.4Z" color="#0000cb"/><path d="M471.1 343.9L473.2 344.1L473.6 339.8L471.4 339.6Z" color="#0000c0"/><path d="M473.2 344.1L475.4 344.3L475.7 340.0L473.6 339.8Z" color="#0000bc"/><path d="M475.4 344.3L477.5 344.4L477.9 340.2L475.7 340.0Z" color="#0000be"/><path d="M477.5 344.4L479.7 344.6L480.1 340.4L477.9 340.2Z" color="#0000c0"/><path d="M479.7 344.6L481.9 344.8L482.2 340.6L480.1 340.4Z" color="#0000c2"/><path d="M481.9 344.8L484.0 344.9L484.4 340.8L482.2 340.6Z" color="#0000c4"/><path d="M484.0 344.9L486.2 345.1L486.5 341.0L484.4 340.8Z" color="#0000c6"/><path d="M486.2 345.1L488.4 345.3L488.7 341.1L486.5 341.0Z" color="#0000c7"/><path d="M488.4 345.3L490.5 345.4L490.9 341.3L488.7 341.1Z" color="#0000c9"/><path d="M490.5 345.4L492.7 345.6L493.0 341.5L490.9 341.3Z" color="#0000ca"/><path d="M492.7 345.6L494.8 345.8L495.2 341.7L493.0 341.5Z" color="#0000cb"/><path d="M494.8 345.8L495.9 345.9L496.3 341.8L495.2 341.7Z" color="#0000d7"/><path d="M495.9 345.9L497.0 345.9L497.3 341.9L496.3 341.8Z" color="#0000ee"/><path d="M497.0 345.9L498.1 346.0L498.4 342.0L497.3 341.9Z" color="#0005ff"/><path d="M498.1 346.0L499.2 346.1L499.5 342.1L498.4 342.0Z" color="#001cff"/><path d="M447.7 337.5L448.7 337.6L449.2 333.0L448.1 332.9Z" color="#1cffe3"/><path d="M448.7 337.6L449.8 337.7L450.3 333.1L449.2 333.0Z" color="#00f8ff"/><path d="M449.8 337.7L450.9 337.8L451.3 333.2L450.3 333.1Z" color="#00d5ff"/><path d="M450.9 337.8L452.0 337.9L452.4 333.3L451.3 333.2Z" color="#00b3ff"/><path d="M452.0 337.9L454.1 338.1L454.6 333.5L452.4 333.3Z" color="#0088ff"/><path d="M454.1 338.1L456.3 338.2L456.7 333.7L454.6 333.5Z" color="#0056ff"/><path d="M456.3 338.2L458.5 338.4L458.9 334.0L456.7 333.7Z" color="#0025ff"/><path d="M458.5 338.4L460.6 338.6L461.1 334.2L458.9 334.0Z" color="#0000f2"/><path d="M460.6 338.6L462.8 338.8L463.2 334.4L461.1 334.2Z" color="#0000d4"/><path d="M462.8 338.8L464.9 339.0L465.4 334.6L463.2 334.4Z" color="#0000cb"/><path d="M464.9 339.0L467.1 339.2L467.5 334.8L465.4 334.6Z" color="#0000c1"/><path d="M467.1 339.2L469.3 339.4L469.7 335.1L467.5 334.8Z" color="#0000b7"/><path d="M469.3 339.4L471.4 339.6L471.8 335.3L469.7 335.1Z" color="#0000ae"/><path d="M471.4 339.6L473.6 339.8L474.0 335.5L471.8 335.3Z" color="#0000a4"/><path d="M473.6 339.8L475.7 340.0L476.2 335.7L474.0 335.5Z" color="#0000a0"/><path d="M475.7 340.0L477.9 340.2L478.3 335.9L476.2 335.7Z" color="#0000a2"/><path d="M477.9 340.2L480.1 340.4L480.5 336.1L478.3 335.9Z" color="#0000a4"/><path d="M480.1 340.4L482.2 340.6L482.6 336.4L480.5 336.1Z" color="#0000a6"/><path d="M482.2 340.6L484.4 340.8L484.8 336.6L482.6 336.4Z" color="#0000a8"/><path d="M484.4 340.8L486.5 341.0L486.9 336.8L484.8 336.6Z" color="#0000aa"/><path d="M486.5 341.0L488.7 341.1L489.1 337.0L486.9 336.8Z" color="#0000ab"/><path d="M488.7 341.1L490.9 341.3L491.3 337.2L489.1 337.0Z" color="#0000aa"/><path d="M490.9 341.3L493.0 341.5L493.4 337.5L491.3 337.2Z" color="#0000aa"/><path d="M493.0 341.5L495.2 341.7L495.6 337.7L493.4 337.5Z" color="#0000a9"/><path d="M495.2 341.7L496.3 341.8L496.7 337.8L495.6 337.7Z" color="#0000b7"/><path d="M496.3 341.8L497.3 341.9L497.7 337.9L496.7 337.8Z" color="#0000d2"/><path d="M497.3 341.9L498.4 342.0L498.8 338.0L497.7 337.9Z" color="#0000ee"/><path d="M498.4 342.0L499.5 342.1L499.9 338.1L498.8 338.0Z" color="#000aff"/><path d="M448.1 332.9L449.2 333.0L449.7 328.4L448.6 328.3Z" color="#0bfff4"/><path d="M449.2 333.0L450.3 333.1L450.8 328.5L449.7 328.4Z" color="#00e6ff"/><path d="M450.3 333.1L451.3 333.2L451.8 328.6L450.8 328.5Z" color="#00c2ff"/><path d="M451.3 333.2L452.4 333.3L452.9 328.8L451.8 328.6Z" color="#009eff"/><path d="M452.4 333.3L454.6 333.5L455.1 329.0L452.9 328.8Z" color="#0073ff"/><path d="M454.6 333.5L456.7 333.7L457.2 329.2L455.1 329.0Z" color="#0041ff"/><path d="M456.7 333.7L458.9 334.0L459.4 329.5L457.2 329.2Z" color="#0010ff"/><path d="M458.9 334.0L461.1 334.2L461.5 329.7L459.4 329.5Z" color="#0000dd"/><path d="M461.1 334.2L463.2 334.4L463.7 330.0L461.5 329.7Z" color="#0000c0"/><path d="M463.2 334.4L465.4 334.6L465.8 330.2L463.7 330.0Z" color="#0000b8"/><path d="M465.4 334.6L467.5 334.8L468.0 330.5L465.8 330.2Z" color="#0000af"/><path d="M467.5 334.8L469.7 335.1L470.2 330.7L468.0 330.5Z" color="#0000a6"/><path d="M469.7 335.1L471.8 335.3L472.3 331.0L470.2 330.7Z" color="#00009e"/><path d="M471.8 335.3L474.0 335.5L474.5 331.2L472.3 331.0Z" color="#000095"/><path d="M474.0 335.5L476.2 335.7L476.6 331.4L474.5 331.2Z" color="#000092"/><path d="M476.2 335.7L478.3 335.9L478.8 331.7L476.6 331.4Z" color="#000094"/><path d="M478.3 335.9L480.5 336.1L480.9 331.9L478.8 331.7Z" color="#000097"/><path d="M480.5 336.1L482.6 336.4L483.1 332.2L480.9 331.9Z" color="#00009a"/><path d="M482.6 336.4L484.8 336.6L485.2 332.4L483.1 332.2Z" color="#00009c"/><path d="M484.8 336.6L486.9 336.8L487.4 332.7L485.2 332.4Z" color="#00009e"/><path d="M486.9 336.8L489.1 337.0L489.5 332.9L487.4 332.7Z" color="#00009f"/><path d="M489.1 337.0L491.3 337.2L491.7 333.2L489.5 332.9Z" color="#00009c"/><path d="M491.3 337.2L493.4 337.5L493.9 333.4L491.7 333.2Z" color="#00009a"/><path d="M493.4 337.5L495.6 337.7L496.0 333.6L493.9 333.4Z" color="#000098"/><path d="M495.6 337.7L496.7 337.8L497.1 333.8L496.0 333.6Z" color="#0000a6"/><path d="M496.7 337.8L497.7 337.9L498.2 333.9L497.1 333.8Z" color="#0000c4"/><path d="M497.7 337.9L498.8 338.0L499.2 334.0L498.2 333.9Z" color="#0000e2"/><path d="M498.8 338.0L499.9 338.1L500.3 334.1L499.2 334.0Z" color="#0001ff"/><path d="M448.6 328.3L449.7 328.4L450.2 323.8L449.2 323.7Z" color="#00f8ff"/><path d="M449.7 328.4L450.8 328.5L451.3 323.9L450.2 323.8Z" color="#00d4ff"/><path d="M450.8 328.5L451.8 328.6L452.4 324.1L451.3 323.9Z" color="#00b0ff"/><path d="M451.8 328.6L452.9 328.8L453.5 324.2L452.4 324.1Z" color="#008cff"/><path d="M452.9 328.8L455.1 329.0L455.6 324.5L453.5 324.2Z" color="#0062ff"/><path d="M455.1 329.0L457.2 329.2L457.8 324.8L455.6 324.5Z" color="#0034ff"/><path d="M457.2 329.2L459.4 329.5L459.9 325.0L457.8 324.8Z" color="#0005ff"/><path d="M459.4 329.5L461.5 329.7L462.1 325.3L459.9 325.0Z" color="#0000d6"/><path d="M461.5 329.7L463.7 330.0L464.2 325.6L462.1 325.3Z" color="#0000bb"/><path d="M463.7 330.0L465.8 330.2L466.4 325.8L464.2 325.6Z" color="#0000b3"/><path d="M465.8 330.2L468.0 330.5L468.5 326.1L466.4 325.8Z" color="#0000ab"/><path d="M468.0 330.5L470.2 330.7L470.7 326.4L468.5 326.1Z" color="#0000a3"/><path d="M470.2 330.7L472.3 331.0L472.8 326.6L470.7 326.4Z" color="#00009b"/><path d="M472.3 331.0L474.5 331.2L475.0 326.9L472.8 326.6Z" color="#000093"/><path d="M474.5 331.2L476.6 331.4L477.1 327.2L475.0 326.9Z" color="#000091"/><path d="M476.6 331.4L478.8 331.7L479.3 327.4L477.1 327.2Z" color="#000094"/><path d="M478.8 331.7L480.9 331.9L481.4 327.7L479.3 327.4Z" color="#000098"/><path d="M480.9 331.9L483.1 332.2L483.6 328.0L481.4 327.7Z" color="#00009c"/><path d="M483.1 332.2L485.2 332.4L485.7 328.3L483.6 328.0Z" color="#00009f"/><path d="M485.2 332.4L487.4 332.7L487.9 328.5L485.7 328.3Z" color="#0000a2"/><path d="M487.4 332.7L489.5 332.9L490.0 328.8L487.9 328.5Z" color="#0000a2"/><path d="M489.5 332.9L491.7 333.2L492.2 329.1L490.0 328.8Z" color="#00009f"/><path d="M491.7 333.2L493.9 333.4L494.3 329.3L492.2 329.1Z" color="#00009b"/><path d="M493.9 333.4L496.0 333.6L496.5 329.6L494.3 329.3Z" color="#000097"/><path d="M496.0 333.6L497.1 333.8L497.6 329.7L496.5 329.6Z" color="#0000a5"/><path d="M497.1 333.8L498.2 333.9L498.7 329.9L497.6 329.7Z" color="#0000c3"/><path d="M498.2 333.9L499.2 334.0L499.7 330.0L498.7 329.9Z" color="#0000e2"/><path d="M499.2 334.0L500.3 334.1L500.8 330.1L499.7 330.0Z" color="#0001ff"/><path d="M449.2 323.7L450.2 323.8L450.8 319.2L449.8 319.1Z" color="#00e6ff"/><path d="M450.2 323.8L451.3 323.9L451.9 319.4L450.8 319.2Z" color="#00c2ff"/><path d="M451.3 323.9L452.4 324.1L453.0 319.5L451.9 319.4Z" color="#009eff"/><path d="M452.4 324.1L453.5 324.2L454.1 319.7L453.0 319.5Z" color="#007aff"/><path d="M453.5 324.2L455.6 324.5L456.2 320.0L454.1 319.7Z" color="#0052ff"/><path d="M455.6 324.5L457.8 324.8L458.4 320.3L456.2 320.0Z" color="#0026ff"/><path d="M457.8 324.8L459.9 325.0L460.5 320.6L458.4 320.3Z" color="#0000fa"/><path d="M459.9 325.0L462.1 325.3L462.7 320.9L460.5 320.6Z" color="#0000ce"/><path d="M462.1 325.3L464.2 325.6L464.8 321.2L462.7 320.9Z" color="#0000b5"/><path d="M464.2 325.6L466.4 325.8L467.0 321.4L464.8 321.2Z" color="#0000ae"/><path d="M466.4 325.8L468.5 326.1L469.1 321.7L467.0 321.4Z" color="#0000a7"/><path d="M468.5 326.1L470.7 326.4L471.2 322.0L469.1 321.7Z" color="#0000a0"/><path d="M470.7 326.4L472.8 326.6L473.4 322.3L471.2 322.0Z" color="#000098"/><path d="M472.8 326.6L475.0 326.9L475.5 322.6L473.4 322.3Z" color="#000091"/><path d="M475.0 326.9L477.1 327.2L477.7 322.9L475.5 322.6Z" color="#000090"/><path d="M477.1 327.2L479.3 327.4L479.8 323.2L477.7 322.9Z" color="#000094"/><path d="M479.3 327.4L481.4 327.7L482.0 323.5L479.8 323.2Z" color="#000099"/><path d="M481.4 327.7L483.6 328.0L484.1 323.8L482.0 323.5Z" color="#00009e"/><path d="M483.6 328.0L485.7 328.3L486.3 324.1L484.1 323.8Z" color="#0000a2"/><path d="M485.7 328.3L487.9 328.5L488.4 324.4L486.3 324.1Z" color="#0000a6"/><path d="M487.9 328.5L490.0 328.8L490.6 324.7L488.4 324.4Z" color="#0000a6"/><path d="M490.0 328.8L492.2 329.1L492.7 325.0L490.6 324.7Z" color="#0000a1"/><path d="M492.2 329.1L494.3 329.3L494.9 325.3L492.7 325.0Z" color="#00009c"/><path d="M494.3 329.3L496.5 329.6L497.0 325.6L494.9 325.3Z" color="#000096"/><path d="M496.5 329.6L497.6 329.7L498.1 325.7L497.0 325.6Z" color="#0000a3"/><path d="M497.6 329.7L498.7 329.9L499.2 325.8L498.1 325.7Z" color="#0000c2"/><path d="M498.7 329.9L499.7 330.0L500.3 326.0L499.2 325.8Z" color="#0000e1"/><path d="M499.7 330.0L500.8 330.1L501.3 326.1L500.3 326.0Z" color="#0001ff"/><path d="M449.8 319.1L450.8 319.2L451.5 314.7L450.4 314.5Z" color="#00d4ff"/><path d="M450.8 319.2L451.9 319.4L452.6 314.9L451.5 314.7Z" color="#00b0ff"/><path d="M451.9 319.4L453.0 319.5L453.6 315.0L452.6 314.9Z" color="#008cff"/><path d="M453.0 319.5L454.1 319.7L454.7 315.2L453.6 315.0Z" color="#0068ff"/><path d="M454.1 319.7L456.2 320.0L456.9 315.5L454.7 315.2Z" color="#0041ff"/><path d="M456.2 320.0L458.4 320.3L459.0 315.8L456.9 315.5Z" color="#0019ff"/><path d="M458.4 320.3L460.5 320.6L461.1 316.1L459.0 315.8Z" color="#0000ef"/><path d="M460.5 320.6L462.7 320.9L463.3 316.4L461.1 316.1Z" color="#0000c7"/><path d="M462.7 320.9L464.8 321.2L465.4 316.8L463.3 316.4Z" color="#0000af"/><path d="M464.8 321.2L467.0 321.4L467.6 317.1L465.4 316.8Z" color="#0000a9"/><path d="M467.0 321.4L469.1 321.7L469.7 317.4L467.6 317.1Z" color="#0000a3"/><path d="M469.1 321.7L471.2 322.0L471.9 317.7L469.7 317.4Z" color="#00009c"/><path d="M471.2 322.0L473.4 322.3L474.0 318.0L471.9 317.7Z" color="#000096"/><path d="M473.4 322.3L475.5 322.6L476.2 318.3L474.0 318.0Z" color="#00008f"/><path d="M475.5 322.6L477.7 322.9L478.3 318.7L476.2 318.3Z" color="#00008f"/><path d="M477.7 322.9L479.8 323.2L480.4 319.0L478.3 318.7Z" color="#000094"/><path d="M479.8 323.2L482.0 323.5L482.6 319.3L480.4 319.0Z" color="#00009a"/><path d="M482.0 323.5L484.1 323.8L484.7 319.6L482.6 319.3Z" color="#0000a0"/><path d="M484.1 323.8L486.3 324.1L486.9 319.9L484.7 319.6Z" color="#0000a5"/><path d="M486.3 324.1L488.4 324.4L489.0 320.2L486.9 319.9Z" color="#0000ab"/><path d="M488.4 324.4L490.6 324.7L491.2 320.6L489.0 320.2Z" color="#0000aa"/><path d="M490.6 324.7L492.7 325.0L493.3 320.9L491.2 320.6Z" color="#0000a3"/><path d="M492.7 325.0L494.9 325.3L495.5 321.2L493.3 320.9Z" color="#00009c"/><path d="M494.9 325.3L497.0 325.6L497.6 321.5L495.5 321.2Z" color="#000096"/><path d="M497.0 325.6L498.1 325.7L498.7 321.7L497.6 321.5Z" color="#0000a2"/><path d="M498.1 325.7L499.2 325.8L499.8 321.8L498.7 321.7Z" color="#0000c1"/><path d="M499.2 325.8L500.3 326.0L500.8 322.0L499.8 321.8Z" color="#0000e1"/><path d="M500.3 326.0L501.3 326.1L501.9 322.1L500.8 322.0Z" color="#0001ff"/><path d="M450.4 314.5L451.5 314.7L452.2 310.2L451.1 310.0Z" color="#00c2ff"/><path d="M451.5 314.7L452.6 314.9L453.3 310.3L452.2 310.2Z" color="#00a0ff"/><path d="M452.6 314.9L453.6 315.0L454.3 310.5L453.3 310.3Z" color="#007dff"/><path d="M453.6 315.0L454.7 315.2L455.4 310.7L454.3 310.5Z" color="#005aff"/><path d="M454.7 315.2L456.9 315.5L457.5 311.0L455.4 310.7Z" color="#0035ff"/><path d="M456.9 315.5L459.0 315.8L459.7 311.3L457.5 311.0Z" color="#000fff"/><path d="M459.0 315.8L461.1 316.1L461.8 311.7L459.7 311.3Z" color="#0000e7"/><path d="M461.1 316.1L463.3 316.4L464.0 312.0L461.8 311.7Z" color="#0000c1"/><path d="M463.3 316.4L465.4 316.8L466.1 312.4L464.0 312.0Z" color="#0000ab"/><path d="M465.4 316.8L467.6 317.1L468.3 312.7L466.1 312.4Z" color="#0000a5"/><path d="M467.6 317.1L469.7 317.4L470.4 313.0L468.3 312.7Z" color="#0000a0"/><path d="M469.7 317.4L471.9 317.7L472.5 313.4L470.4 313.0Z" color="#00009a"/><path d="M471.9 317.7L474.0 318.0L474.7 313.7L472.5 313.4Z" color="#000094"/><path d="M474.0 318.0L476.2 318.3L476.8 314.1L474.7 313.7Z" color="#00008e"/><path d="M476.2 318.3L478.3 318.7L479.0 314.4L476.8 314.1Z" color="#00008f"/><path d="M478.3 318.7L480.4 319.0L481.1 314.8L479.0 314.4Z" color="#000095"/><path d="M480.4 319.0L482.6 319.3L483.2 315.1L481.1 314.8Z" color="#00009b"/><path d="M482.6 319.3L484.7 319.6L485.4 315.4L483.2 315.1Z" color="#0000a1"/><path d="M484.7 319.6L486.9 319.9L487.5 315.8L485.4 315.4Z" color="#0000a7"/><path d="M486.9 319.9L489.0 320.2L489.7 316.1L487.5 315.8Z" color="#0000ad"/><path d="M489.0 320.2L491.2 320.6L491.8 316.5L489.7 316.1Z" color="#0000ad"/><path d="M491.2 320.6L493.3 320.9L494.0 316.8L491.8 316.5Z" color="#0000a5"/><path d="M493.3 320.9L495.5 321.2L496.1 317.1L494.0 316.8Z" color="#00009d"/><path d="M495.5 321.2L497.6 321.5L498.2 317.5L496.1 317.1Z" color="#000095"/><path d="M497.6 321.5L498.7 321.7L499.3 317.6L498.2 317.5Z" color="#0000a2"/><path d="M498.7 321.7L499.8 321.8L500.4 317.8L499.3 317.6Z" color="#0000c1"/><path d="M499.8 321.8L500.8 322.0L501.4 318.0L500.4 317.8Z" color="#0000e1"/><path d="M500.8 322.0L501.9 322.1L502.5 318.2L501.4 318.0Z" color="#0002ff"/><path d="M451.1 310.0L452.2 310.2L452.9 305.6L451.9 305.4Z" color="#00b2ff"/><path d="M452.2 310.2L453.3 310.3L454.0 305.8L452.9 305.6Z" color="#0092ff"/><path d="M453.3 310.3L454.3 310.5L455.1 306.0L454.0 305.8Z" color="#0071ff"/><path d="M454.3 310.5L455.4 310.7L456.1 306.2L455.1 306.0Z" color="#0050ff"/><path d="M455.4 310.7L457.5 311.0L458.3 306.5L456.1 306.2Z" color="#002dff"/><path d="M457.5 311.0L459.7 311.3L460.4 306.9L458.3 306.5Z" color="#0008ff"/><path d="M459.7 311.3L461.8 311.7L462.6 307.3L460.4 306.9Z" color="#0000e2"/><path d="M461.8 311.7L464.0 312.0L464.7 307.6L462.6 307.3Z" color="#0000bd"/><path d="M464.0 312.0L466.1 312.4L466.8 308.0L464.7 307.6Z" color="#0000a8"/><path d="M466.1 312.4L468.3 312.7L469.0 308.4L466.8 308.0Z" color="#0000a3"/><path d="M468.3 312.7L470.4 313.0L471.1 308.7L469.0 308.4Z" color="#00009e"/><path d="M470.4 313.0L472.5 313.4L473.3 309.1L471.1 308.7Z" color="#000098"/><path d="M472.5 313.4L474.7 313.7L475.4 309.4L473.3 309.1Z" color="#000093"/><path d="M474.7 313.7L476.8 314.1L477.5 309.8L475.4 309.4Z" color="#00008e"/><path d="M476.8 314.1L479.0 314.4L479.7 310.2L477.5 309.8Z" color="#00008f"/><path d="M479.0 314.4L481.1 314.8L481.8 310.5L479.7 310.2Z" color="#000095"/><path d="M481.1 314.8L483.2 315.1L483.9 310.9L481.8 310.5Z" color="#00009c"/><path d="M483.2 315.1L485.4 315.4L486.1 311.3L483.9 310.9Z" color="#0000a2"/><path d="M485.4 315.4L487.5 315.8L488.2 311.6L486.1 311.3Z" color="#0000a9"/><path d="M487.5 315.8L489.7 316.1L490.4 312.0L488.2 311.6Z" color="#0000af"/><path d="M489.7 316.1L491.8 316.5L492.5 312.4L490.4 312.0Z" color="#0000af"/><path d="M491.8 316.5L494.0 316.8L494.6 312.7L492.5 312.4Z" color="#0000a6"/><path d="M494.0 316.8L496.1 317.1L496.8 313.1L494.6 312.7Z" color="#00009e"/><path d="M496.1 317.1L498.2 317.5L498.9 313.4L496.8 313.1Z" color="#000096"/><path d="M498.2 317.5L499.3 317.6L500.0 313.6L498.9 313.4Z" color="#0000a2"/><path d="M499.3 317.6L500.4 317.8L501.0 313.8L500.0 313.6Z" color="#0000c2"/><path d="M500.4 317.8L501.4 318.0L502.1 314.0L501.0 313.8Z" color="#0000e2"/><path d="M501.4 318.0L502.5 318.2L503.2 314.2L502.1 314.0Z" color="#0004ff"/><path d="M451.9 305.4L452.9 305.6L453.7 301.1L452.7 300.9Z" color="#00a2ff"/><path d="M452.9 305.6L454.0 305.8L454.8 301.3L453.7 301.1Z" color="#0084ff"/><path d="M454.0 305.8L455.1 306.0L455.9 301.5L454.8 301.3Z" color="#0065ff"/><path d="M455.1 306.0L456.1 306.2L456.9 301.7L455.9 301.5Z" color="#0047ff"/><path d="M456.1 306.2L458.3 306.5L459.1 302.1L456.9 301.7Z" color="#0025ff"/><path d="M458.3 306.5L460.4 306.9L461.2 302.5L459.1 302.1Z" color="#0002ff"/><path d="M460.4 306.9L462.6 307.3L463.3 302.9L461.2 302.5Z" color="#0000dd"/><path d="M462.6 307.3L464.7 307.6L465.5 303.2L463.3 302.9Z" color="#0000b9"/><path d="M464.7 307.6L466.8 308.0L467.6 303.6L465.5 303.2Z" color="#0000a5"/><path d="M466.8 308.0L469.0 308.4L469.7 304.0L467.6 303.6Z" color="#0000a0"/><path d="M469.0 308.4L471.1 308.7L471.9 304.4L469.7 304.0Z" color="#00009c"/><path d="M471.1 308.7L473.3 309.1L474.0 304.8L471.9 304.4Z" color="#000097"/><path d="M473.3 309.1L475.4 309.4L476.1 305.2L474.0 304.8Z" color="#000092"/><path d="M475.4 309.4L477.5 309.8L478.3 305.6L476.1 305.2Z" color="#00008e"/><path d="M477.5 309.8L479.7 310.2L480.4 305.9L478.3 305.6Z" color="#00008f"/><path d="M479.7 310.2L481.8 310.5L482.5 306.3L480.4 305.9Z" color="#000096"/><path d="M481.8 310.5L483.9 310.9L484.7 306.7L482.5 306.3Z" color="#00009d"/><path d="M483.9 310.9L486.1 311.3L486.8 307.1L484.7 306.7Z" color="#0000a4"/><path d="M486.1 311.3L488.2 311.6L488.9 307.5L486.8 307.1Z" color="#0000ab"/><path d="M488.2 311.6L490.4 312.0L491.1 307.9L488.9 307.5Z" color="#0000b1"/><path d="M490.4 312.0L492.5 312.4L493.2 308.3L491.1 307.9Z" color="#0000b0"/><path d="M492.5 312.4L494.6 312.7L495.3 308.6L493.2 308.3Z" color="#0000a8"/><path d="M494.6 312.7L496.8 313.1L497.5 309.0L495.3 308.6Z" color="#00009f"/><path d="M496.8 313.1L498.9 313.4L499.6 309.4L497.5 309.0Z" color="#000096"/><path d="M498.9 313.4L500.0 313.6L500.7 309.6L499.6 309.4Z" color="#0000a2"/><path d="M500.0 313.6L501.0 313.8L501.8 309.8L500.7 309.6Z" color="#0000c3"/><path d="M501.0 313.8L502.1 314.0L502.8 310.0L501.8 309.8Z" color="#0000e4"/><path d="M502.1 314.0L503.2 314.2L503.9 310.2L502.8 310.0Z" color="#0005ff"/><path d="M452.7 300.9L453.7 301.1L454.6 296.6L453.5 296.4Z" color="#0092ff"/><path d="M453.7 301.1L454.8 301.3L455.6 296.8L454.6 296.6Z" color="#0076ff"/><path d="M454.8 301.3L455.9 301.5L456.7 297.0L455.6 296.8Z" color="#0059ff"/><path d="M455.9 301.5L456.9 301.7L457.8 297.2L456.7 297.0Z" color="#003dff"/><path d="M456.9 301.7L459.1 302.1L459.9 297.6L457.8 297.2Z" color="#001dff"/><path d="M459.1 302.1L461.2 302.5L462.0 298.0L459.9 297.6Z" color="#0000fa"/><path d="M461.2 302.5L463.3 302.9L464.2 298.4L462.0 298.0Z" color="#0000d8"/><path d="M463.3 302.9L465.5 303.2L466.3 298.9L464.2 298.4Z" color="#0000b5"/><path d="M465.5 303.2L467.6 303.6L468.4 299.3L466.3 298.9Z" color="#0000a2"/><path d="M467.6 303.6L469.7 304.0L470.6 299.7L468.4 299.3Z" color="#00009e"/><path d="M469.7 304.0L471.9 304.4L472.7 300.1L470.6 299.7Z" color="#00009a"/><path d="M471.9 304.4L474.0 304.8L474.8 300.5L472.7 300.1Z" color="#000096"/><path d="M474.0 304.8L476.1 305.2L476.9 300.9L474.8 300.5Z" color="#000092"/><path d="M476.1 305.2L478.3 305.6L479.1 301.3L476.9 300.9Z" color="#00008e"/><path d="M478.3 305.6L480.4 305.9L481.2 301.7L479.1 301.3Z" color="#00008f"/><path d="M480.4 305.9L482.5 306.3L483.3 302.1L481.2 301.7Z" color="#000096"/><path d="M482.5 306.3L484.7 306.7L485.5 302.5L483.3 302.1Z" color="#00009e"/><path d="M484.7 306.7L486.8 307.1L487.6 302.9L485.5 302.5Z" color="#0000a5"/><path d="M486.8 307.1L488.9 307.5L489.7 303.3L487.6 302.9Z" color="#0000ac"/><path d="M488.9 307.5L491.1 307.9L491.9 303.8L489.7 303.3Z" color="#0000b3"/><path d="M491.1 307.9L493.2 308.3L494.0 304.2L491.9 303.8Z" color="#0000b2"/><path d="M493.2 308.3L495.3 308.6L496.1 304.6L494.0 304.2Z" color="#0000a9"/><path d="M495.3 308.6L497.5 309.0L498.2 305.0L496.1 304.6Z" color="#0000a0"/><path d="M497.5 309.0L499.6 309.4L500.4 305.4L498.2 305.0Z" color="#000096"/><path d="M499.6 309.4L500.7 309.6L501.4 305.6L500.4 305.4Z" color="#0000a2"/><path d="M500.7 309.6L501.8 309.8L502.5 305.8L501.4 305.6Z" color="#0000c4"/><path d="M501.8 309.8L502.8 310.0L503.6 306.0L502.5 305.8Z" color="#0000e5"/><path d="M502.8 310.0L503.9 310.2L504.6 306.2L503.6 306.0Z" color="#0007ff"/><path d="M453.5 296.4L454.6 296.6L455.5 292.1L454.4 291.9Z" color="#0082ff"/><path d="M454.6 296.6L455.6 296.8L456.5 292.3L455.5 292.1Z" color="#0068ff"/><path d="M455.6 296.8L456.7 297.0L457.6 292.6L456.5 292.3Z" color="#004eff"/><path d="M456.7 297.0L457.8 297.2L458.7 292.8L457.6 292.6Z" color="#0033ff"/><path d="M457.8 297.2L459.9 297.6L460.8 293.2L458.7 292.8Z" color="#0016ff"/><path d="M459.9 297.6L462.0 298.0L462.9 293.6L460.8 293.2Z" color="#0000f4"/><path d="M462.0 298.0L464.2 298.4L465.0 294.1L462.9 293.6Z" color="#0000d3"/><path d="M464.2 298.4L466.3 298.9L467.2 294.5L465.0 294.1Z" color="#0000b2"/><path d="M466.3 298.9L468.4 299.3L469.3 294.9L467.2 294.5Z" color="#00009f"/><path d="M468.4 299.3L470.6 299.7L471.4 295.3L469.3 294.9Z" color="#00009c"/><path d="M470.6 299.7L472.7 300.1L473.5 295.8L471.4 295.3Z" color="#000098"/><path d="M472.7 300.1L474.8 300.5L475.7 296.2L473.5 295.8Z" color="#000094"/><path d="M474.8 300.5L476.9 300.9L477.8 296.6L475.7 296.2Z" color="#000091"/><path d="M476.9 300.9L479.1 301.3L479.9 297.1L477.8 296.6Z" color="#00008d"/><path d="M479.1 301.3L481.2 301.7L482.0 297.5L479.9 297.1Z" color="#00008f"/><path d="M481.2 301.7L483.3 302.1L484.2 297.9L482.0 297.5Z" color="#000097"/><path d="M483.3 302.1L485.5 302.5L486.3 298.4L484.2 297.9Z" color="#00009f"/><path d="M485.5 302.5L487.6 302.9L488.4 298.8L486.3 298.4Z" color="#0000a6"/><path d="M487.6 302.9L489.7 303.3L490.5 299.2L488.4 298.8Z" color="#0000ae"/><path d="M489.7 303.3L491.9 303.8L492.7 299.6L490.5 299.2Z" color="#0000b5"/><path d="M491.9 303.8L494.0 304.2L494.8 300.1L492.7 299.6Z" color="#0000b4"/><path d="M494.0 304.2L496.1 304.6L496.9 300.5L494.8 300.1Z" color="#0000aa"/><path d="M496.1 304.6L498.2 305.0L499.0 300.9L496.9 300.5Z" color="#0000a0"/><path d="M498.2 305.0L500.4 305.4L501.2 301.4L499.0 300.9Z" color="#000096"/><path d="M500.4 305.4L501.4 305.6L502.2 301.6L501.2 301.4Z" color="#0000a3"/><path d="M501.4 305.6L502.5 305.8L503.3 301.8L502.2 301.6Z" color="#0000c5"/><path d="M502.5 305.8L503.6 306.0L504.4 302.0L503.3 301.8Z" color="#0000e6"/><path d="M503.6 306.0L504.6 306.2L505.4 302.2L504.4 302.0Z" color="#0009ff"/><path d="M454.4 291.9L455.5 292.1L456.4 287.7L455.3 287.4Z" color="#0072ff"/><path d="M455.5 292.1L456.5 292.3L457.5 287.9L456.4 287.7Z" color="#005aff"/><path d="M456.5 292.3L457.6 292.6L458.5 288.1L457.5 287.9Z" color="#0042ff"/><path d="M457.6 292.6L458.7 292.8L459.6 288.3L458.5 288.1Z" color="#002aff"/><path d="M458.7 292.8L460.8 293.2L461.7 288.8L459.6 288.3Z" color="#000eff"/><path d="M460.8 293.2L462.9 293.6L463.8 289.2L461.7 288.8Z" color="#0000ed"/><path d="M462.9 293.6L465.0 294.1L466.0 289.7L463.8 289.2Z" color="#0000cd"/><path d="M465.0 294.1L467.2 294.5L468.1 290.1L466.0 289.7Z" color="#0000ae"/><path d="M467.2 294.5L469.3 294.9L470.2 290.6L468.1 290.1Z" color="#00009c"/><path d="M469.3 294.9L471.4 295.3L472.3 291.0L470.2 290.6Z" color="#000099"/><path d="M471.4 295.3L473.5 295.8L474.4 291.5L472.3 291.0Z" color="#000096"/><path d="M473.5 295.8L475.7 296.2L476.6 291.9L474.4 291.5Z" color="#000093"/><path d="M475.7 296.2L477.8 296.6L478.7 292.4L476.6 291.9Z" color="#000090"/><path d="M477.8 296.6L479.9 297.1L480.8 292.8L478.7 292.4Z" color="#00008d"/><path d="M479.9 297.1L482.0 297.5L482.9 293.3L480.8 292.8Z" color="#00008f"/><path d="M482.0 297.5L484.2 297.9L485.0 293.7L482.9 293.3Z" color="#000097"/><path d="M484.2 297.9L486.3 298.4L487.2 294.2L485.0 293.7Z" color="#00009f"/><path d="M486.3 298.4L488.4 298.8L489.3 294.6L487.2 294.2Z" color="#0000a7"/><path d="M488.4 298.8L490.5 299.2L491.4 295.1L489.3 294.6Z" color="#0000af"/><path d="M490.5 299.2L492.7 299.6L493.5 295.5L491.4 295.1Z" color="#0000b7"/><path d="M492.7 299.6L494.8 300.1L495.6 296.0L493.5 295.5Z" color="#0000b6"/><path d="M494.8 300.1L496.9 300.5L497.8 296.4L495.6 296.0Z" color="#0000ac"/><path d="M496.9 300.5L499.0 300.9L499.9 296.9L497.8 296.4Z" color="#0000a1"/><path d="M499.0 300.9L501.2 301.4L502.0 297.3L499.9 296.9Z" color="#000097"/><path d="M501.2 301.4L502.2 301.6L503.1 297.6L502.0 297.3Z" color="#0000a3"/><path d="M502.2 301.6L503.3 301.8L504.1 297.8L503.1 297.6Z" color="#0000c5"/><path d="M503.3 301.8L504.4 302.0L505.2 298.0L504.1 297.8Z" color="#0000e8"/><path d="M504.4 302.0L505.4 302.2L506.3 298.2L505.2 298.0Z" color="#000bff"/><path d="M455.3 287.4L456.4 287.7L457.4 283.2L456.3 283.0Z" color="#0067ff"/><path d="M456.4 287.7L457.5 287.9L458.4 283.4L457.4 283.2Z" color="#0051ff"/><path d="M457.5 287.9L458.5 288.1L459.5 283.7L458.4 283.4Z" color="#003bff"/><path d="M458.5 288.1L459.6 288.3L460.6 283.9L459.5 283.7Z" color="#0024ff"/><path d="M459.6 288.3L461.7 288.8L462.7 284.4L460.6 283.9Z" color="#000aff"/><path d="M461.7 288.8L463.8 289.2L464.8 284.8L462.7 284.4Z" color="#0000ea"/><path d="M463.8 289.2L466.0 289.7L466.9 285.3L464.8 284.8Z" color="#0000cc"/><path d="M466.0 289.7L468.1 290.1L469.0 285.8L466.9 285.3Z" color="#0000ad"/><path d="M468.1 290.1L470.2 290.6L471.1 286.3L469.0 285.8Z" color="#00009c"/><path d="M470.2 290.6L472.3 291.0L473.3 286.7L471.1 286.3Z" color="#000099"/><path d="M472.3 291.0L474.4 291.5L475.4 287.2L473.3 286.7Z" color="#000096"/><path d="M474.4 291.5L476.6 291.9L477.5 287.7L475.4 287.2Z" color="#000093"/><path d="M476.6 291.9L478.7 292.4L479.6 288.1L477.5 287.7Z" color="#000091"/><path d="M478.7 292.4L480.8 292.8L481.7 288.6L479.6 288.1Z" color="#00008e"/><path d="M480.8 292.8L482.9 293.3L483.8 289.1L481.7 288.6Z" color="#000091"/><path d="M482.9 293.3L485.0 293.7L486.0 289.6L483.8 289.1Z" color="#000099"/><path d="M485.0 293.7L487.2 294.2L488.1 290.0L486.0 289.6Z" color="#0000a1"/><path d="M487.2 294.2L489.3 294.6L490.2 290.5L488.1 290.0Z" color="#0000aa"/><path d="M489.3 294.6L491.4 295.1L492.3 291.0L490.2 290.5Z" color="#0000b2"/><path d="M491.4 295.1L493.5 295.5L494.4 291.4L492.3 291.0Z" color="#0000bb"/><path d="M493.5 295.5L495.6 296.0L496.5 291.9L494.4 291.4Z" color="#0000ba"/><path d="M495.6 296.0L497.8 296.4L498.7 292.4L496.5 291.9Z" color="#0000af"/><path d="M497.8 296.4L499.9 296.9L500.8 292.8L498.7 292.4Z" color="#0000a5"/><path d="M499.9 296.9L502.0 297.3L502.9 293.3L500.8 292.8Z" color="#00009b"/><path d="M502.0 297.3L503.1 297.6L503.9 293.6L502.9 293.3Z" color="#0000a7"/><path d="M503.1 297.6L504.1 297.8L505.0 293.8L503.9 293.6Z" color="#0000c9"/><path d="M504.1 297.8L505.2 298.0L506.1 294.0L505.0 293.8Z" color="#0000ec"/><path d="M505.2 298.0L506.3 298.2L507.1 294.3L506.1 294.0Z" color="#000fff"/><path d="M456.3 283.0L457.4 283.2L458.4 278.8L457.3 278.5Z" color="#005dff"/><path d="M457.4 283.2L458.4 283.4L459.5 279.0L458.4 278.8Z" color="#0049ff"/><path d="M458.4 283.4L459.5 283.7L460.5 279.2L459.5 279.0Z" color="#0034ff"/><path d="M459.5 283.7L460.6 283.9L461.6 279.5L460.5 279.2Z" color="#0020ff"/><path d="M460.6 283.9L462.7 284.4L463.7 280.0L461.6 279.5Z" color="#0007ff"/><path d="M462.7 284.4L464.8 284.8L465.8 280.5L463.7 280.0Z" color="#0000e8"/><path d="M464.8 284.8L466.9 285.3L467.9 281.0L465.8 280.5Z" color="#0000ca"/><path d="M466.9 285.3L469.0 285.8L470.0 281.5L467.9 281.0Z" color="#0000ac"/><path d="M469.0 285.8L471.1 286.3L472.1 281.9L470.0 281.5Z" color="#00009c"/><path d="M471.1 286.3L473.3 286.7L474.2 282.4L472.1 281.9Z" color="#000099"/><path d="M473.3 286.7L475.4 287.2L476.4 282.9L474.2 282.4Z" color="#000097"/><path d="M475.4 287.2L477.5 287.7L478.5 283.4L476.4 282.9Z" color="#000094"/><path d="M477.5 287.7L479.6 288.1L480.6 283.9L478.5 283.4Z" color="#000091"/><path d="M479.6 288.1L481.7 288.6L482.7 284.4L480.6 283.9Z" color="#00008f"/><path d="M481.7 288.6L483.8 289.1L484.8 284.9L482.7 284.4Z" color="#000092"/><path d="M483.8 289.1L486.0 289.6L486.9 285.4L484.8 284.9Z" color="#00009b"/><path d="M486.0 289.6L488.1 290.0L489.0 285.9L486.9 285.4Z" color="#0000a4"/><path d="M488.1 290.0L490.2 290.5L491.1 286.4L489.0 285.9Z" color="#0000ac"/><path d="M490.2 290.5L492.3 291.0L493.2 286.9L491.1 286.4Z" color="#0000b5"/><path d="M492.3 291.0L494.4 291.4L495.4 287.3L493.2 286.9Z" color="#0000be"/><path d="M494.4 291.4L496.5 291.9L497.5 287.8L495.4 287.3Z" color="#0000be"/><path d="M496.5 291.9L498.7 292.4L499.6 288.3L497.5 287.8Z" color="#0000b4"/><path d="M498.7 292.4L500.8 292.8L501.7 288.8L499.6 288.3Z" color="#0000a9"/><path d="M500.8 292.8L502.9 293.3L503.8 289.3L501.7 288.8Z" color="#00009f"/><path d="M502.9 293.3L503.9 293.6L504.9 289.6L503.8 289.3Z" color="#0000ac"/><path d="M503.9 293.6L505.0 293.8L505.9 289.8L504.9 289.6Z" color="#0000ce"/><path d="M505.0 293.8L506.1 294.0L507.0 290.0L505.9 289.8Z" color="#0000f0"/><path d="M506.1 294.0L507.1 294.3L508.0 290.3L507.0 290.0Z" color="#0013ff"/><path d="M457.3 278.5L458.4 278.8L459.5 274.3L458.4 274.1Z" color="#0053ff"/><path d="M458.4 278.8L459.5 279.0L460.5 274.6L459.5 274.3Z" color="#0040ff"/><path d="M459.5 279.0L460.5 279.2L461.6 274.8L460.5 274.6Z" color="#002eff"/><path d="M460.5 279.2L461.6 279.5L462.6 275.1L461.6 274.8Z" color="#001bff"/><path d="M461.6 279.5L463.7 280.0L464.7 275.6L462.6 275.1Z" color="#0003ff"/><path d="M463.7 280.0L465.8 280.5L466.8 276.1L464.7 275.6Z" color="#0000e6"/><path d="M465.8 280.5L467.9 281.0L468.9 276.6L466.8 276.1Z" color="#0000c9"/><path d="M467.9 281.0L470.0 281.5L471.0 277.1L468.9 276.6Z" color="#0000ac"/><path d="M470.0 281.5L472.1 281.9L473.2 277.6L471.0 277.1Z" color="#00009c"/><path d="M472.1 281.9L474.2 282.4L475.3 278.2L473.2 277.6Z" color="#00009a"/><path d="M474.2 282.4L476.4 282.9L477.4 278.7L475.3 278.2Z" color="#000097"/><path d="M476.4 282.9L478.5 283.4L479.5 279.2L477.4 278.7Z" color="#000095"/><path d="M478.5 283.4L480.6 283.9L481.6 279.7L479.5 279.2Z" color="#000092"/><path d="M480.6 283.9L482.7 284.4L483.7 280.2L481.6 279.7Z" color="#00008f"/><path d="M482.7 284.4L484.8 284.9L485.8 280.7L483.7 280.2Z" color="#000093"/><path d="M484.8 284.9L486.9 285.4L487.9 281.2L485.8 280.7Z" color="#00009c"/><path d="M486.9 285.4L489.0 285.9L490.0 281.7L487.9 281.2Z" color="#0000a6"/><path d="M489.0 285.9L491.1 286.4L492.1 282.2L490.0 281.7Z" color="#0000af"/><path d="M491.1 286.4L493.2 286.9L494.2 282.7L492.1 282.2Z" color="#0000b8"/><path d="M493.2 286.9L495.4 287.3L496.3 283.3L494.2 282.7Z" color="#0000c2"/><path d="M495.4 287.3L497.5 287.8L498.4 283.8L496.3 283.3Z" color="#0000c1"/><path d="M497.5 287.8L499.6 288.3L500.6 284.3L498.4 283.8Z" color="#0000b8"/><path d="M499.6 288.3L501.7 288.8L502.7 284.8L500.6 284.3Z" color="#0000ae"/><path d="M501.7 288.8L503.8 289.3L504.8 285.3L502.7 284.8Z" color="#0000a4"/><path d="M503.8 289.3L504.9 289.6L505.8 285.6L504.8 285.3Z" color="#0000b0"/><path d="M504.9 289.6L505.9 289.8L506.9 285.8L505.8 285.6Z" color="#0000d2"/><path d="M505.9 289.8L507.0 290.0L507.9 286.1L506.9 285.8Z" color="#0000f4"/><path d="M507.0 290.0L508.0 290.3L509.0 286.3L507.9 286.1Z" color="#0016ff"/><path d="M458.4 274.1L459.5 274.3L460.6 269.9L459.5 269.6Z" color="#0048ff"/><path d="M459.5 274.3L460.5 274.6L461.6 270.2L460.6 269.9Z" color="#0038ff"/><path d="M460.5 274.6L461.6 274.8L462.7 270.4L461.6 270.2Z" color="#0027ff"/><path d="M461.6 274.8L462.6 275.1L463.7 270.7L462.7 270.4Z" color="#0016ff"/><path d="M462.6 275.1L464.7 275.6L465.8 271.2L463.7 270.7Z" color="#0000ff"/><path d="M464.7 275.6L466.8 276.1L467.9 271.8L465.8 271.2Z" color="#0000e3"/><path d="M466.8 276.1L468.9 276.6L470.0 272.3L467.9 271.8Z" color="#0000c7"/><path d="M468.9 276.6L471.0 277.1L472.1 272.8L470.0 272.3Z" color="#0000ab"/><path d="M471.0 277.1L473.2 277.6L474.2 273.4L472.1 272.8Z" color="#00009c"/><path d="M473.2 277.6L475.3 278.2L476.3 273.9L474.2 273.4Z" color="#00009a"/><path d="M475.3 278.2L477.4 278.7L478.4 274.4L476.3 273.9Z" color="#000098"/><path d="M477.4 278.7L479.5 279.2L480.5 274.9L478.4 274.4Z" color="#000095"/><path d="M479.5 279.2L481.6 279.7L482.6 275.5L480.5 274.9Z" color="#000093"/><path d="M481.6 279.7L483.7 280.2L484.7 276.0L482.6 275.5Z" color="#000090"/><path d="M483.7 280.2L485.8 280.7L486.8 276.5L484.7 276.0Z" color="#000094"/><path d="M485.8 280.7L487.9 281.2L488.9 277.1L486.8 276.5Z" color="#00009e"/><path d="M487.9 281.2L490.0 281.7L491.0 277.6L488.9 277.1Z" color="#0000a8"/><path d="M490.0 281.7L492.1 282.2L493.1 278.1L491.0 277.6Z" color="#0000b2"/><path d="M492.1 282.2L494.2 282.7L495.3 278.7L493.1 278.1Z" color="#0000bb"/><path d="M494.2 282.7L496.3 283.3L497.4 279.2L495.3 278.7Z" color="#0000c5"/><path d="M496.3 283.3L498.4 283.8L499.5 279.7L497.4 279.2Z" color="#0000c5"/><path d="M498.4 283.8L500.6 284.3L501.6 280.2L499.5 279.7Z" color="#0000bc"/><path d="M500.6 284.3L502.7 284.8L503.7 280.8L501.6 280.2Z" color="#0000b2"/><path d="M502.7 284.8L504.8 285.3L505.8 281.3L503.7 280.8Z" color="#0000a9"/><path d="M504.8 285.3L505.8 285.6L506.8 281.6L505.8 281.3Z" color="#0000b5"/><path d="M505.8 285.6L506.9 285.8L507.9 281.8L506.8 281.6Z" color="#0000d6"/><path d="M506.9 285.8L507.9 286.1L508.9 282.1L507.9 281.8Z" color="#0000f8"/><path d="M507.9 286.1L509.0 286.3L510.0 282.4L508.9 282.1Z" color="#001aff"/><path d="M459.5 269.6L460.6 269.9L461.7 265.5L460.6 265.2Z" color="#003eff"/><path d="M460.6 269.9L461.6 270.2L462.7 265.8L461.7 265.5Z" color="#002fff"/><path d="M461.6 270.2L462.7 270.4L463.8 266.1L462.7 265.8Z" color="#0020ff"/><path d="M462.7 270.4L463.7 270.7L464.8 266.3L463.8 266.1Z" color="#0012ff"/><path d="M463.7 270.7L465.8 271.2L466.9 266.9L464.8 266.3Z" color="#0000fc"/><path d="M465.8 271.2L467.9 271.8L469.0 267.4L466.9 266.9Z" color="#0000e1"/><path d="M467.9 271.8L470.0 272.3L471.1 268.0L469.0 267.4Z" color="#0000c6"/><path d="M470.0 272.3L472.1 272.8L473.2 268.5L471.1 268.0Z" color="#0000ab"/><path d="M472.1 272.8L474.2 273.4L475.3 269.1L473.2 268.5Z" color="#00009c"/><path d="M474.2 273.4L476.3 273.9L477.4 269.6L475.3 269.1Z" color="#00009a"/><path d="M476.3 273.9L478.4 274.4L479.5 270.2L477.4 269.6Z" color="#000098"/><path d="M478.4 274.4L480.5 274.9L481.6 270.7L479.5 270.2Z" color="#000096"/><path d="M480.5 274.9L482.6 275.5L483.7 271.3L481.6 270.7Z" color="#000093"/><path d="M482.6 275.5L484.7 276.0L485.8 271.8L483.7 271.3Z" color="#000091"/><path d="M484.7 276.0L486.8 276.5L487.9 272.4L485.8 271.8Z" color="#000095"/><path d="M486.8 276.5L488.9 277.1L490.0 272.9L487.9 272.4Z" color="#0000a0"/><path d="M488.9 277.1L491.0 277.6L492.1 273.5L490.0 272.9Z" color="#0000aa"/><path d="M491.0 277.6L493.1 278.1L494.2 274.0L492.1 273.5Z" color="#0000b4"/><path d="M493.1 278.1L495.3 278.7L496.3 274.6L494.2 274.0Z" color="#0000be"/><path d="M495.3 278.7L497.4 279.2L498.4 275.1L496.3 274.6Z" color="#0000c9"/><path d="M497.4 279.2L499.5 279.7L500.5 275.7L498.4 275.1Z" color="#0000c9"/><path d="M499.5 279.7L501.6 280.2L502.6 276.2L500.5 275.7Z" color="#0000c0"/><path d="M501.6 280.2L503.7 280.8L504.7 276.8L502.6 276.2Z" color="#0000b6"/><path d="M503.7 280.8L505.8 281.3L506.8 277.3L504.7 276.8Z" color="#0000ad"/><path d="M505.8 281.3L506.8 281.6L507.8 277.6L506.8 277.3Z" color="#0000b9"/><path d="M506.8 281.6L507.9 281.8L508.9 277.8L507.8 277.6Z" color="#0000db"/><path d="M507.9 281.8L508.9 282.1L509.9 278.1L508.9 277.8Z" color="#0000fc"/><path d="M508.9 282.1L510.0 282.4L511.0 278.4L509.9 278.1Z" color="#001eff"/><path d="M460.6 265.2L461.7 265.5L462.9 261.1L461.8 260.8Z" color="#0034ff"/><path d="M461.7 265.5L462.7 265.8L463.9 261.4L462.9 261.1Z" color="#0027ff"/><path d="M462.7 265.8L463.8 266.1L465.0 261.7L463.9 261.4Z" color="#001aff"/><path d="M463.8 266.1L464.8 266.3L466.0 262.0L465.0 261.7Z" color="#000dff"/><path d="M464.8 266.3L466.9 266.9L468.1 262.5L466.0 262.0Z" color="#0000f8"/><path d="M466.9 266.9L469.0 267.4L470.2 263.1L468.1 262.5Z" color="#0000de"/><path d="M469.0 267.4L471.1 268.0L472.3 263.7L470.2 263.1Z" color="#0000c4"/><path d="M471.1 268.0L473.2 268.5L474.4 264.2L472.3 263.7Z" color="#0000aa"/><path d="M473.2 268.5L475.3 269.1L476.5 264.8L474.4 264.2Z" color="#00009c"/><path d="M475.3 269.1L477.4 269.6L478.6 265.4L476.5 264.8Z" color="#00009a"/><path d="M477.4 269.6L479.5 270.2L480.7 265.9L478.6 265.4Z" color="#000098"/><path d="M479.5 270.2L481.6 270.7L482.8 266.5L480.7 265.9Z" color="#000096"/><path d="M481.6 270.7L483.7 271.3L484.8 267.1L482.8 266.5Z" color="#000094"/><path d="M483.7 271.3L485.8 271.8L486.9 267.6L484.8 267.1Z" color="#000092"/><path d="M485.8 271.8L487.9 272.4L489.0 268.2L486.9 267.6Z" color="#000096"/><path d="M487.9 272.4L490.0 272.9L491.1 268.8L489.0 268.2Z" color="#0000a1"/><path d="M490.0 272.9L492.1 273.5L493.2 269.3L491.1 268.8Z" color="#0000ac"/><path d="M492.1 273.5L494.2 274.0L495.3 269.9L493.2 269.3Z" color="#0000b7"/><path d="M494.2 274.0L496.3 274.6L497.4 270.5L495.3 269.9Z" color="#0000c1"/><path d="M496.3 274.6L498.4 275.1L499.5 271.0L497.4 270.5Z" color="#0000cc"/><path d="M498.4 275.1L500.5 275.7L501.6 271.6L499.5 271.0Z" color="#0000cd"/><path d="M500.5 275.7L502.6 276.2L503.7 272.2L501.6 271.6Z" color="#0000c4"/><path d="M502.6 276.2L504.7 276.8L505.8 272.7L503.7 272.2Z" color="#0000bb"/><path d="M504.7 276.8L506.8 277.3L507.9 273.3L505.8 272.7Z" color="#0000b2"/><path d="M506.8 277.3L507.8 277.6L508.9 273.6L507.9 273.3Z" color="#0000be"/><path d="M507.8 277.6L508.9 277.8L510.0 273.9L508.9 273.6Z" color="#0000df"/><path d="M508.9 277.8L509.9 278.1L511.0 274.2L510.0 273.9Z" color="#0001ff"/><path d="M509.9 278.1L511.0 278.4L512.1 274.4L511.0 274.2Z" color="#0022ff"/><path d="M461.8 260.8L462.9 261.1L464.1 256.8L463.0 256.5Z" color="#002eff"/><path d="M462.9 261.1L463.9 261.4L465.1 257.0L464.1 256.8Z" color="#0022ff"/><path d="M463.9 261.4L465.0 261.7L466.2 257.3L465.1 257.0Z" color="#0016ff"/><path d="M465.0 261.7L466.0 262.0L467.2 257.6L466.2 257.3Z" color="#000aff"/><path d="M466.0 262.0L468.1 262.5L469.3 258.2L467.2 257.6Z" color="#0000f7"/><path d="M468.1 262.5L470.2 263.1L471.4 258.8L469.3 258.2Z" color="#0000de"/><path d="M470.2 263.1L472.3 263.7L473.5 259.4L471.4 258.8Z" color="#0000c5"/><path d="M472.3 263.7L474.4 264.2L475.6 260.0L473.5 259.4Z" color="#0000ad"/><path d="M474.4 264.2L476.5 264.8L477.7 260.6L475.6 260.0Z" color="#00009f"/><path d="M476.5 264.8L478.6 265.4L479.7 261.1L477.7 260.6Z" color="#00009e"/><path d="M478.6 265.4L480.7 265.9L481.8 261.7L479.7 261.1Z" color="#00009c"/><path d="M480.7 265.9L482.8 266.5L483.9 262.3L481.8 261.7Z" color="#00009a"/><path d="M482.8 266.5L484.8 267.1L486.0 262.9L483.9 262.3Z" color="#000099"/><path d="M484.8 267.1L486.9 267.6L488.1 263.5L486.0 262.9Z" color="#000097"/><path d="M486.9 267.6L489.0 268.2L490.2 264.1L488.1 263.5Z" color="#00009c"/><path d="M489.0 268.2L491.1 268.8L492.3 264.6L490.2 264.1Z" color="#0000a8"/><path d="M491.1 268.8L493.2 269.3L494.4 265.2L492.3 264.6Z" color="#0000b4"/><path d="M493.2 269.3L495.3 269.9L496.4 265.8L494.4 265.2Z" color="#0000c0"/><path d="M495.3 269.9L497.4 270.5L498.5 266.4L496.4 265.8Z" color="#0000cb"/><path d="M497.4 270.5L499.5 271.0L500.6 267.0L498.5 266.4Z" color="#0000d7"/><path d="M499.5 271.0L501.6 271.6L502.7 267.6L500.6 267.0Z" color="#0000d9"/><path d="M501.6 271.6L503.7 272.2L504.8 268.2L502.7 267.6Z" color="#0000d2"/><path d="M503.7 272.2L505.8 272.7L506.9 268.7L504.8 268.2Z" color="#0000ca"/><path d="M505.8 272.7L507.9 273.3L509.0 269.3L506.9 268.7Z" color="#0000c2"/><path d="M507.9 273.3L508.9 273.6L510.0 269.6L509.0 269.3Z" color="#0000ce"/><path d="M508.9 273.6L510.0 273.9L511.1 269.9L510.0 269.6Z" color="#0000ed"/><path d="M510.0 273.9L511.0 274.2L512.1 270.2L511.1 269.9Z" color="#000cff"/><path d="M511.0 274.2L512.1 274.4L513.1 270.5L512.1 270.2Z" color="#002bff"/><path d="M463.0 256.5L464.1 256.8L465.3 252.4L464.3 252.1Z" color="#002cff"/><path d="M464.1 256.8L465.1 257.0L466.4 252.7L465.3 252.4Z" color="#0021ff"/><path d="M465.1 257.0L466.2 257.3L467.4 253.0L466.4 252.7Z" color="#0015ff"/><path d="M466.2 257.3L467.2 257.6L468.5 253.3L467.4 253.0Z" color="#000aff"/><path d="M467.2 257.6L469.3 258.2L470.5 253.9L468.5 253.3Z" color="#0000f8"/><path d="M469.3 258.2L471.4 258.8L472.6 254.5L470.5 253.9Z" color="#0000e0"/><path d="M471.4 258.8L473.5 259.4L474.7 255.1L472.6 254.5Z" color="#0000c9"/><path d="M473.5 259.4L475.6 260.0L476.8 255.7L474.7 255.1Z" color="#0000b1"/><path d="M475.6 260.0L477.7 260.6L478.9 256.3L476.8 255.7Z" color="#0000a5"/><path d="M477.7 260.6L479.7 261.1L481.0 256.9L478.9 256.3Z" color="#0000a4"/><path d="M479.7 261.1L481.8 261.7L483.0 257.5L481.0 256.9Z" color="#0000a3"/><path d="M481.8 261.7L483.9 262.3L485.1 258.1L483.0 257.5Z" color="#0000a2"/><path d="M483.9 262.3L486.0 262.9L487.2 258.7L485.1 258.1Z" color="#0000a1"/><path d="M486.0 262.9L488.1 263.5L489.3 259.3L487.2 258.7Z" color="#0000a0"/><path d="M488.1 263.5L490.2 264.1L491.4 259.9L489.3 259.3Z" color="#0000a7"/><path d="M490.2 264.1L492.3 264.6L493.5 260.5L491.4 259.9Z" color="#0000b4"/><path d="M492.3 264.6L494.4 265.2L495.5 261.1L493.5 260.5Z" color="#0000c1"/><path d="M494.4 265.2L496.4 265.8L497.6 261.7L495.5 261.1Z" color="#0000cf"/><path d="M496.4 265.8L498.5 266.4L499.7 262.3L497.6 261.7Z" color="#0000dc"/><path d="M498.5 266.4L500.6 267.0L501.8 262.9L499.7 262.3Z" color="#0000ea"/><path d="M500.6 267.0L502.7 267.6L503.9 263.5L501.8 262.9Z" color="#0000ee"/><path d="M502.7 267.6L504.8 268.2L505.9 264.1L503.9 263.5Z" color="#0000e9"/><path d="M504.8 268.2L506.9 268.7L508.0 264.7L505.9 264.1Z" color="#0000e4"/><path d="M506.9 268.7L509.0 269.3L510.1 265.3L508.0 264.7Z" color="#0000df"/><path d="M509.0 269.3L510.0 269.6L511.2 265.6L510.1 265.3Z" color="#0000ea"/><path d="M510.0 269.6L511.1 269.9L512.2 265.9L511.2 265.6Z" color="#0004ff"/><path d="M511.1 269.9L512.1 270.2L513.2 266.2L512.2 265.9Z" color="#001eff"/><path d="M512.1 270.2L513.1 270.5L514.3 266.5L513.2 266.2Z" color="#0038ff"/><path d="M464.3 252.1L465.3 252.4L466.6 248.1L465.6 247.8Z" color="#002aff"/><path d="M465.3 252.4L466.4 252.7L467.7 248.4L466.6 248.1Z" color="#001fff"/><path d="M466.4 252.7L467.4 253.0L468.7 248.7L467.7 248.4Z" color="#0015ff"/><path d="M467.4 253.0L468.5 253.3L469.7 249.0L468.7 248.7Z" color="#000aff"/><path d="M468.5 253.3L470.5 253.9L471.8 249.6L469.7 249.0Z" color="#0000f9"/><path d="M470.5 253.9L472.6 254.5L473.9 250.2L471.8 249.6Z" color="#0000e2"/><path d="M472.6 254.5L474.7 255.1L476.0 250.8L473.9 250.2Z" color="#0000cc"/><path d="M474.7 255.1L476.8 255.7L478.0 251.5L476.0 250.8Z" color="#0000b6"/><path d="M476.8 255.7L478.9 256.3L480.1 252.1L478.0 251.5Z" color="#0000ab"/><path d="M478.9 256.3L481.0 256.9L482.2 252.7L480.1 252.1Z" color="#0000ab"/><path d="M481.0 256.9L483.0 257.5L484.3 253.3L482.2 252.7Z" color="#0000aa"/><path d="M483.0 257.5L485.1 258.1L486.4 253.9L484.3 253.3Z" color="#0000aa"/><path d="M485.1 258.1L487.2 258.7L488.4 254.6L486.4 253.9Z" color="#0000aa"/><path d="M487.2 258.7L489.3 259.3L490.5 255.2L488.4 254.6Z" color="#0000aa"/><path d="M489.3 259.3L491.4 259.9L492.6 255.8L490.5 255.2Z" color="#0000b1"/><path d="M491.4 259.9L493.5 260.5L494.7 256.4L492.6 255.8Z" color="#0000c0"/><path d="M493.5 260.5L495.5 261.1L496.7 257.0L494.7 256.4Z" color="#0000cf"/><path d="M495.5 261.1L497.6 261.7L498.8 257.7L496.7 257.0Z" color="#0000de"/><path d="M497.6 261.7L499.7 262.3L500.9 258.3L498.8 257.7Z" color="#0000ed"/><path d="M499.7 262.3L501.8 262.9L503.0 258.9L500.9 258.3Z" color="#0000fc"/><path d="M501.8 262.9L503.9 263.5L505.1 259.5L503.0 258.9Z" color="#0004ff"/><path d="M503.9 263.5L505.9 264.1L507.1 260.1L505.1 259.5Z" color="#0001ff"/><path d="M505.9 264.1L508.0 264.7L509.2 260.7L507.1 260.1Z" color="#0000fe"/><path d="M508.0 264.7L510.1 265.3L511.3 261.4L509.2 260.7Z" color="#0000fc"/><path d="M510.1 265.3L511.2 265.6L512.3 261.7L511.3 261.4Z" color="#0006ff"/><path d="M511.2 265.6L512.2 265.9L513.4 262.0L512.3 261.7Z" color="#001bff"/><path d="M512.2 265.9L513.2 266.2L514.4 262.3L513.4 262.0Z" color="#0030ff"/><path d="M513.2 266.2L514.3 266.5L515.4 262.6L514.4 262.3Z" color="#0045ff"/><path d="M465.6 247.8L466.6 248.1L467.9 243.7L466.9 243.4Z" color="#0028ff"/><path d="M466.6 248.1L467.7 248.4L469.0 244.1L467.9 243.7Z" color="#001eff"/><path d="M467.7 248.4L468.7 248.7L470.0 244.4L469.0 244.1Z" color="#0014ff"/><path d="M468.7 248.7L469.7 249.0L471.0 244.7L470.0 244.4Z" color="#000aff"/><path d="M469.7 249.0L471.8 249.6L473.1 245.3L471.0 244.7Z" color="#0000f9"/><path d="M471.8 249.6L473.9 250.2L475.2 246.0L473.1 245.3Z" color="#0000e4"/><path d="M473.9 250.2L476.0 250.8L477.3 246.6L475.2 246.0Z" color="#0000d0"/><path d="M476.0 250.8L478.0 251.5L479.3 247.2L477.3 246.6Z" color="#0000bb"/><path d="M478.0 251.5L480.1 252.1L481.4 247.9L479.3 247.2Z" color="#0000b0"/><path d="M480.1 252.1L482.2 252.7L483.5 248.5L481.4 247.9Z" color="#0000b1"/><path d="M482.2 252.7L484.3 253.3L485.5 249.1L483.5 248.5Z" color="#0000b2"/><path d="M484.3 253.3L486.4 253.9L487.6 249.8L485.5 249.1Z" color="#0000b2"/><path d="M486.4 253.9L488.4 254.6L489.7 250.4L487.6 249.8Z" color="#0000b2"/><path d="M488.4 254.6L490.5 255.2L491.8 251.0L489.7 250.4Z" color="#0000b3"/><path d="M490.5 255.2L492.6 255.8L493.8 251.7L491.8 251.0Z" color="#0000bc"/><path d="M492.6 255.8L494.7 256.4L495.9 252.3L493.8 251.7Z" color="#0000cc"/><path d="M494.7 256.4L496.7 257.0L498.0 252.9L495.9 252.3Z" color="#0000dd"/><path d="M496.7 257.0L498.8 257.7L500.1 253.6L498.0 252.9Z" color="#0000ed"/><path d="M498.8 257.7L500.9 258.3L502.1 254.2L500.1 253.6Z" color="#0000fe"/><path d="M500.9 258.3L503.0 258.9L504.2 254.9L502.1 254.2Z" color="#0010ff"/><path d="M503.0 258.9L505.1 259.5L506.3 255.5L504.2 254.9Z" color="#0018ff"/><path d="M505.1 259.5L507.1 260.1L508.4 256.1L506.3 255.5Z" color="#0019ff"/><path d="M507.1 260.1L509.2 260.7L510.4 256.8L508.4 256.1Z" color="#0019ff"/><path d="M509.2 260.7L511.3 261.4L512.5 257.4L510.4 256.8Z" color="#0019ff"/><path d="M511.3 261.4L512.3 261.7L513.5 257.7L512.5 257.4Z" color="#0022ff"/><path d="M512.3 261.7L513.4 262.0L514.6 258.0L513.5 257.7Z" color="#0032ff"/><path d="M513.4 262.0L514.4 262.3L515.6 258.3L514.6 258.0Z" color="#0042ff"/><path d="M514.4 262.3L515.4 262.6L516.6 258.7L515.6 258.3Z" color="#0052ff"/><path d="M466.9 243.4L467.9 243.7L469.3 239.4L468.2 239.1Z" color="#0026ff"/><path d="M467.9 243.7L469.0 244.1L470.3 239.8L469.3 239.4Z" color="#001dff"/><path d="M469.0 244.1L470.0 244.4L471.3 240.1L470.3 239.8Z" color="#0013ff"/><path d="M470.0 244.4L471.0 244.7L472.4 240.4L471.3 240.1Z" color="#0009ff"/><path d="M471.0 244.7L473.1 245.3L474.4 241.1L472.4 240.4Z" color="#0000fa"/><path d="M473.1 245.3L475.2 246.0L476.5 241.7L474.4 241.1Z" color="#0000e6"/><path d="M475.2 246.0L477.3 246.6L478.6 242.4L476.5 241.7Z" color="#0000d3"/><path d="M477.3 246.6L479.3 247.2L480.7 243.0L478.6 242.4Z" color="#0000bf"/><path d="M479.3 247.2L481.4 247.9L482.7 243.7L480.7 243.0Z" color="#0000b6"/><path d="M481.4 247.9L483.5 248.5L484.8 244.3L482.7 243.7Z" color="#0000b7"/><path d="M483.5 248.5L485.5 249.1L486.9 245.0L484.8 244.3Z" color="#0000b9"/><path d="M485.5 249.1L487.6 249.8L488.9 245.6L486.9 245.0Z" color="#0000ba"/><path d="M487.6 249.8L489.7 250.4L491.0 246.3L488.9 245.6Z" color="#0000bb"/><path d="M489.7 250.4L491.8 251.0L493.1 246.9L491.0 246.3Z" color="#0000bc"/><path d="M491.8 251.0L493.8 251.7L495.1 247.6L493.1 246.9Z" color="#0000c6"/><path d="M493.8 251.7L495.9 252.3L497.2 248.2L495.1 247.6Z" color="#0000d8"/><path d="M495.9 252.3L498.0 252.9L499.3 248.9L497.2 248.2Z" color="#0000ea"/><path d="M498.0 252.9L500.1 253.6L501.3 249.5L499.3 248.9Z" color="#0000fd"/><path d="M500.1 253.6L502.1 254.2L503.4 250.2L501.3 249.5Z" color="#0010ff"/><path d="M502.1 254.2L504.2 254.9L505.5 250.8L503.4 250.2Z" color="#0022ff"/><path d="M504.2 254.9L506.3 255.5L507.5 251.5L505.5 250.8Z" color="#002dff"/><path d="M506.3 255.5L508.4 256.1L509.6 252.1L507.5 251.5Z" color="#0030ff"/><path d="M508.4 256.1L510.4 256.8L511.7 252.8L509.6 252.1Z" color="#0033ff"/><path d="M510.4 256.8L512.5 257.4L513.7 253.4L511.7 252.8Z" color="#0036ff"/><path d="M512.5 257.4L513.5 257.7L514.8 253.8L513.7 253.4Z" color="#003dff"/><path d="M513.5 257.7L514.6 258.0L515.8 254.1L514.8 253.8Z" color="#0049ff"/><path d="M514.6 258.0L515.6 258.3L516.8 254.4L515.8 254.1Z" color="#0054ff"/><path d="M515.6 258.3L516.6 258.7L517.9 254.7L516.8 254.4Z" color="#005fff"/><path d="M468.2 239.1L469.3 239.4L470.7 235.1L469.6 234.8Z" color="#0024ff"/><path d="M469.3 239.4L470.3 239.8L471.7 235.5L470.7 235.1Z" color="#001bff"/><path d="M470.3 239.8L471.3 240.1L472.7 235.8L471.7 235.5Z" color="#0012ff"/><path d="M471.3 240.1L472.4 240.4L473.8 236.1L472.7 235.8Z" color="#0009ff"/><path d="M472.4 240.4L474.4 241.1L475.8 236.8L473.8 236.1Z" color="#0000fa"/><path d="M474.4 241.1L476.5 241.7L477.9 237.5L475.8 236.8Z" color="#0000e8"/><path d="M476.5 241.7L478.6 242.4L479.9 238.1L477.9 237.5Z" color="#0000d6"/><path d="M478.6 242.4L480.7 243.0L482.0 238.8L479.9 238.1Z" color="#0000c4"/><path d="M480.7 243.0L482.7 243.7L484.1 239.5L482.0 238.8Z" color="#0000bc"/><path d="M482.7 243.7L484.8 244.3L486.1 240.1L484.1 239.5Z" color="#0000be"/><path d="M484.8 244.3L486.9 245.0L488.2 240.8L486.1 240.1Z" color="#0000c0"/><path d="M486.9 245.0L488.9 245.6L490.3 241.5L488.2 240.8Z" color="#0000c2"/><path d="M488.9 245.6L491.0 246.3L492.3 242.1L490.3 241.5Z" color="#0000c4"/><path d="M491.0 246.3L493.1 246.9L494.4 242.8L492.3 242.1Z" color="#0000c6"/><path d="M493.1 246.9L495.1 247.6L496.4 243.5L494.4 242.8Z" color="#0000d0"/><path d="M495.1 247.6L497.2 248.2L498.5 244.1L496.4 243.5Z" color="#0000e4"/><path d="M497.2 248.2L499.3 248.9L500.6 244.8L498.5 244.1Z" color="#0000f8"/><path d="M499.3 248.9L501.3 249.5L502.6 245.5L500.6 244.8Z" color="#000dff"/><path d="M501.3 249.5L503.4 250.2L504.7 246.1L502.6 245.5Z" color="#0021ff"/><path d="M503.4 250.2L505.5 250.8L506.8 246.8L504.7 246.1Z" color="#0035ff"/><path d="M505.5 250.8L507.5 251.5L508.8 247.5L506.8 246.8Z" color="#0041ff"/><path d="M507.5 251.5L509.6 252.1L510.9 248.1L508.8 247.5Z" color="#0047ff"/><path d="M509.6 252.1L511.7 252.8L512.9 248.8L510.9 248.1Z" color="#004dff"/><path d="M511.7 252.8L513.7 253.4L515.0 249.5L512.9 248.8Z" color="#0053ff"/><path d="M513.7 253.4L514.8 253.8L516.0 249.8L515.0 249.5Z" color="#0059ff"/><path d="M514.8 253.8L515.8 254.1L517.1 250.1L516.0 249.8Z" color="#005fff"/><path d="M515.8 254.1L516.8 254.4L518.1 250.5L517.1 250.1Z" color="#0066ff"/><path d="M516.8 254.4L517.9 254.7L519.1 250.8L518.1 250.5Z" color="#006cff"/><path d="M469.6 234.8L470.7 235.1L472.1 230.9L471.0 230.5Z" color="#0026ff"/><path d="M470.7 235.1L471.7 235.5L473.1 231.2L472.1 230.9Z" color="#001dff"/><path d="M471.7 235.5L472.7 235.8L474.1 231.5L473.1 231.2Z" color="#0014ff"/><path d="M472.7 235.8L473.8 236.1L475.2 231.9L474.1 231.5Z" color="#000bff"/><path d="M473.8 236.1L475.8 236.8L477.2 232.6L475.2 231.9Z" color="#0000fe"/><path d="M475.8 236.8L477.9 237.5L479.3 233.2L477.2 232.6Z" color="#0000f0"/><path d="M477.9 237.5L479.9 238.1L481.3 233.9L479.3 233.2Z" color="#0000e1"/><path d="M479.9 238.1L482.0 238.8L483.4 234.6L481.3 233.9Z" color="#0000d3"/><path d="M482.0 238.8L484.1 239.5L485.4 235.3L483.4 234.6Z" color="#0000cd"/><path d="M484.1 239.5L486.1 240.1L487.5 236.0L485.4 235.3Z" color="#0000d1"/><path d="M486.1 240.1L488.2 240.8L489.6 236.6L487.5 236.0Z" color="#0000d5"/><path d="M488.2 240.8L490.3 241.5L491.6 237.3L489.6 236.6Z" color="#0000d9"/><path d="M490.3 241.5L492.3 242.1L493.7 238.0L491.6 237.3Z" color="#0000dd"/><path d="M492.3 242.1L494.4 242.8L495.7 238.7L493.7 238.0Z" color="#0000e1"/><path d="M494.4 242.8L496.4 243.5L497.8 239.4L495.7 238.7Z" color="#0000ec"/><path d="M496.4 243.5L498.5 244.1L499.9 240.1L497.8 239.4Z" color="#0000fe"/><path d="M498.5 244.1L500.6 244.8L501.9 240.7L499.9 240.1Z" color="#0012ff"/><path d="M500.6 244.8L502.6 245.5L504.0 241.4L501.9 240.7Z" color="#0024ff"/><path d="M502.6 245.5L504.7 246.1L506.0 242.1L504.0 241.4Z" color="#0037ff"/><path d="M504.7 246.1L506.8 246.8L508.1 242.8L506.0 242.1Z" color="#0049ff"/><path d="M506.8 246.8L508.8 247.5L510.1 243.5L508.1 242.8Z" color="#0055ff"/><path d="M508.8 247.5L510.9 248.1L512.2 244.2L510.1 243.5Z" color="#005bff"/><path d="M510.9 248.1L512.9 248.8L514.3 244.8L512.2 244.2Z" color="#0060ff"/><path d="M512.9 248.8L515.0 249.5L516.3 245.5L514.3 244.8Z" color="#0066ff"/><path d="M515.0 249.5L516.0 249.8L517.3 245.9L516.3 245.5Z" color="#006bff"/><path d="M516.0 249.8L517.1 250.1L518.4 246.2L517.3 245.9Z" color="#0070ff"/><path d="M517.1 250.1L518.1 250.5L519.4 246.5L518.4 246.2Z" color="#0076ff"/><path d="M518.1 250.5L519.1 250.8L520.4 246.9L519.4 246.5Z" color="#007bff"/><path d="M471.0 230.5L472.1 230.9L473.5 226.6L472.5 226.2Z" color="#0029ff"/><path d="M472.1 230.9L473.1 231.2L474.5 226.9L473.5 226.6Z" color="#0020ff"/><path d="M473.1 231.2L474.1 231.5L475.6 227.3L474.5 226.9Z" color="#0017ff"/><path d="M474.1 231.5L475.2 231.9L476.6 227.6L475.6 227.3Z" color="#000eff"/><path d="M475.2 231.9L477.2 232.6L478.6 228.3L476.6 227.6Z" color="#0004ff"/><path d="M477.2 232.6L479.3 233.2L480.7 229.0L478.6 228.3Z" color="#0000f8"/><path d="M479.3 233.2L481.3 233.9L482.7 229.7L480.7 229.0Z" color="#0000ed"/><path d="M481.3 233.9L483.4 234.6L484.8 230.4L482.7 229.7Z" color="#0000e2"/><path d="M483.4 234.6L485.4 235.3L486.9 231.1L484.8 230.4Z" color="#0000e0"/><path d="M485.4 235.3L487.5 236.0L488.9 231.8L486.9 231.1Z" color="#0000e6"/><path d="M487.5 236.0L489.6 236.6L491.0 232.5L488.9 231.8Z" color="#0000ec"/><path d="M489.6 236.6L491.6 237.3L493.0 233.2L491.0 232.5Z" color="#0000f2"/><path d="M491.6 237.3L493.7 238.0L495.1 233.9L493.0 233.2Z" color="#0000f8"/><path d="M493.7 238.0L495.7 238.7L497.1 234.6L495.1 233.9Z" color="#0000fe"/><path d="M495.7 238.7L497.8 239.4L499.2 235.3L497.1 234.6Z" color="#000aff"/><path d="M497.8 239.4L499.9 240.1L501.2 236.0L499.2 235.3Z" color="#001bff"/><path d="M499.9 240.1L501.9 240.7L503.3 236.7L501.2 236.0Z" color="#002cff"/><path d="M501.9 240.7L504.0 241.4L505.3 237.4L503.3 236.7Z" color="#003cff"/><path d="M504.0 241.4L506.0 242.1L507.4 238.1L505.3 237.4Z" color="#004dff"/><path d="M506.0 242.1L508.1 242.8L509.4 238.8L507.4 238.1Z" color="#005eff"/><path d="M508.1 242.8L510.1 243.5L511.5 239.5L509.4 238.8Z" color="#0069ff"/><path d="M510.1 243.5L512.2 244.2L513.5 240.2L511.5 239.5Z" color="#006eff"/><path d="M512.2 244.2L514.3 244.8L515.6 240.9L513.5 240.2Z" color="#0073ff"/><path d="M514.3 244.8L516.3 245.5L517.6 241.6L515.6 240.9Z" color="#0077ff"/><path d="M516.3 245.5L517.3 245.9L518.7 241.9L517.6 241.6Z" color="#007cff"/><path d="M517.3 245.9L518.4 246.2L519.7 242.3L518.7 241.9Z" color="#0081ff"/><path d="M518.4 246.2L519.4 246.5L520.7 242.6L519.7 242.3Z" color="#0086ff"/><path d="M519.4 246.5L520.4 246.9L521.8 243.0L520.7 242.6Z" color="#008bff"/><path d="M472.5 226.2L473.5 226.6L475.0 222.3L474.0 222.0Z" color="#002bff"/><path d="M473.5 226.6L474.5 226.9L476.0 222.7L475.0 222.3Z" color="#0022ff"/><path d="M474.5 226.9L475.6 227.3L477.0 223.0L476.0 222.7Z" color="#0019ff"/><path d="M475.6 227.3L476.6 227.6L478.1 223.4L477.0 223.0Z" color="#0010ff"/><path d="M476.6 227.6L478.6 228.3L480.1 224.1L478.1 223.4Z" color="#0008ff"/><path d="M478.6 228.3L480.7 229.0L482.1 224.8L480.1 224.1Z" color="#0001ff"/><path d="M480.7 229.0L482.7 229.7L484.2 225.5L482.1 224.8Z" color="#0000f9"/><path d="M482.7 229.7L484.8 230.4L486.2 226.2L484.2 225.5Z" color="#0000f2"/><path d="M484.8 230.4L486.9 231.1L488.3 227.0L486.2 226.2Z" color="#0000f2"/><path d="M486.9 231.1L488.9 231.8L490.3 227.7L488.3 227.0Z" color="#0000fa"/><path d="M488.9 231.8L491.0 232.5L492.4 228.4L490.3 227.7Z" color="#0003ff"/><path d="M491.0 232.5L493.0 233.2L494.4 229.1L492.4 228.4Z" color="#000bff"/><path d="M493.0 233.2L495.1 233.9L496.5 229.8L494.4 229.1Z" color="#0013ff"/><path d="M495.1 233.9L497.1 234.6L498.5 230.5L496.5 229.8Z" color="#001bff"/><path d="M497.1 234.6L499.2 235.3L500.6 231.2L498.5 230.5Z" color="#0027ff"/><path d="M499.2 235.3L501.2 236.0L502.6 231.9L500.6 231.2Z" color="#0036ff"/><path d="M501.2 236.0L503.3 236.7L504.7 232.6L502.6 231.9Z" color="#0045ff"/><path d="M503.3 236.7L505.3 237.4L506.7 233.4L504.7 232.6Z" color="#0055ff"/><path d="M505.3 237.4L507.4 238.1L508.8 234.1L506.7 233.4Z" color="#0064ff"/><path d="M507.4 238.1L509.4 238.8L510.8 234.8L508.8 234.1Z" color="#0073ff"/><path d="M509.4 238.8L511.5 239.5L512.9 235.5L510.8 234.8Z" color="#007dff"/><path d="M511.5 239.5L513.5 240.2L514.9 236.2L512.9 235.5Z" color="#0081ff"/><path d="M513.5 240.2L515.6 240.9L517.0 236.9L514.9 236.2Z" color="#0085ff"/><path d="M515.6 240.9L517.6 241.6L519.0 237.6L517.0 236.9Z" color="#0089ff"/><path d="M517.6 241.6L518.7 241.9L520.0 238.0L519.0 237.6Z" color="#008dff"/><path d="M518.7 241.9L519.7 242.3L521.1 238.3L520.0 238.0Z" color="#0092ff"/><path d="M519.7 242.3L520.7 242.6L522.1 238.7L521.1 238.3Z" color="#0096ff"/><path d="M520.7 242.6L521.8 243.0L523.1 239.0L522.1 238.7Z" color="#009aff"/><path d="M474.0 222.0L475.0 222.3L476.5 218.1L475.5 217.7Z" color="#002eff"/><path d="M475.0 222.3L476.0 222.7L477.5 218.5L476.5 218.1Z" color="#0025ff"/><path d="M476.0 222.7L477.0 223.0L478.5 218.8L477.5 218.5Z" color="#001cff"/><path d="M477.0 223.0L478.1 223.4L479.5 219.2L478.5 218.8Z" color="#0013ff"/><path d="M478.1 223.4L480.1 224.1L481.6 219.9L479.5 219.2Z" color="#000dff"/><path d="M480.1 224.1L482.1 224.8L483.6 220.6L481.6 219.9Z" color="#0009ff"/><path d="M482.1 224.8L484.2 225.5L485.7 221.4L483.6 220.6Z" color="#0006ff"/><path d="M484.2 225.5L486.2 226.2L487.7 222.1L485.7 221.4Z" color="#0002ff"/><path d="M486.2 226.2L488.3 227.0L489.8 222.8L487.7 222.1Z" color="#0006ff"/><path d="M488.3 227.0L490.3 227.7L491.8 223.5L489.8 222.8Z" color="#0010ff"/><path d="M490.3 227.7L492.4 228.4L493.8 224.3L491.8 223.5Z" color="#001aff"/><path d="M492.4 228.4L494.4 229.1L495.9 225.0L493.8 224.3Z" color="#0024ff"/><path d="M494.4 229.1L496.5 229.8L497.9 225.7L495.9 225.0Z" color="#002eff"/><path d="M496.5 229.8L498.5 230.5L500.0 226.4L497.9 225.7Z" color="#0038ff"/><path d="M498.5 230.5L500.6 231.2L502.0 227.2L500.0 226.4Z" color="#0044ff"/><path d="M500.6 231.2L502.6 231.9L504.1 227.9L502.0 227.2Z" color="#0052ff"/><path d="M502.6 231.9L504.7 232.6L506.1 228.6L504.1 227.9Z" color="#005fff"/><path d="M504.7 232.6L506.7 233.4L508.1 229.3L506.1 228.6Z" color="#006dff"/><path d="M506.7 233.4L508.8 234.1L510.2 230.1L508.1 229.3Z" color="#007aff"/><path d="M508.8 234.1L510.8 234.8L512.2 230.8L510.2 230.1Z" color="#0088ff"/><path d="M510.8 234.8L512.9 235.5L514.3 231.5L512.2 230.8Z" color="#0090ff"/><path d="M512.9 235.5L514.9 236.2L516.3 232.2L514.3 231.5Z" color="#0094ff"/><path d="M514.9 236.2L517.0 236.9L518.4 233.0L516.3 232.2Z" color="#0097ff"/><path d="M517.0 236.9L519.0 237.6L520.4 233.7L518.4 233.0Z" color="#009bff"/><path d="M519.0 237.6L520.0 238.0L521.4 234.0L520.4 233.7Z" color="#009fff"/><path d="M520.0 238.0L521.1 238.3L522.4 234.4L521.4 234.0Z" color="#00a2ff"/><path d="M521.1 238.3L522.1 238.7L523.5 234.8L522.4 234.4Z" color="#00a6ff"/><path d="M522.1 238.7L523.1 239.0L524.5 235.1L523.5 234.8Z" color="#00a9ff"/><path d="M475.5 217.7L476.5 218.1L478.0 213.9L477.0 213.5Z" color="#0031ff"/><path d="M476.5 218.1L477.5 218.5L479.0 214.2L478.0 213.9Z" color="#0028ff"/><path d="M477.5 218.5L478.5 218.8L480.0 214.6L479.0 214.2Z" color="#001fff"/><path d="M478.5 218.8L479.5 219.2L481.1 215.0L480.0 214.6Z" color="#0016ff"/><path d="M479.5 219.2L481.6 219.9L483.1 215.7L481.1 215.0Z" color="#0011ff"/><path d="M481.6 219.9L483.6 220.6L485.1 216.5L483.1 215.7Z" color="#0011ff"/><path d="M483.6 220.6L485.7 221.4L487.2 217.2L485.1 216.5Z" color="#0011ff"/><path d="M485.7 221.4L487.7 222.1L489.2 217.9L487.2 217.2Z" color="#0011ff"/><path d="M487.7 222.1L489.8 222.8L491.3 218.7L489.2 217.9Z" color="#0017ff"/><path d="M489.8 222.8L491.8 223.5L493.3 219.4L491.3 218.7Z" color="#0023ff"/><path d="M491.8 223.5L493.8 224.3L495.3 220.2L493.3 219.4Z" color="#002fff"/><path d="M493.8 224.3L495.9 225.0L497.4 220.9L495.3 220.2Z" color="#003bff"/><path d="M495.9 225.0L497.9 225.7L499.4 221.6L497.4 220.9Z" color="#0047ff"/><path d="M497.9 225.7L500.0 226.4L501.4 222.4L499.4 221.6Z" color="#0053ff"/><path d="M500.0 226.4L502.0 227.2L503.5 223.1L501.4 222.4Z" color="#005fff"/><path d="M502.0 227.2L504.1 227.9L505.5 223.8L503.5 223.1Z" color="#006bff"/><path d="M504.1 227.9L506.1 228.6L507.6 224.6L505.5 223.8Z" color="#0077ff"/><path d="M506.1 228.6L508.1 229.3L509.6 225.3L507.6 224.6Z" color="#0083ff"/><path d="M508.1 229.3L510.2 230.1L511.6 226.1L509.6 225.3Z" color="#008fff"/><path d="M510.2 230.1L512.2 230.8L513.7 226.8L511.6 226.1Z" color="#009bff"/><path d="M512.2 230.8L514.3 231.5L515.7 227.5L513.7 226.8Z" color="#00a2ff"/><path d="M514.3 231.5L516.3 232.2L517.7 228.3L515.7 227.5Z" color="#00a5ff"/><path d="M516.3 232.2L518.4 233.0L519.8 229.0L517.7 228.3Z" color="#00a8ff"/><path d="M518.4 233.0L520.4 233.7L521.8 229.8L519.8 229.0Z" color="#00abff"/><path d="M520.4 233.7L521.4 234.0L522.8 230.1L521.8 229.8Z" color="#00aeff"/><path d="M521.4 234.0L522.4 234.4L523.9 230.5L522.8 230.1Z" color="#00b2ff"/><path d="M522.4 234.4L523.5 234.8L524.9 230.9L523.9 230.5Z" color="#00b5ff"/><path d="M523.5 234.8L524.5 235.1L525.9 231.2L524.9 230.9Z" color="#00b8ff"/><path d="M477.0 213.5L478.0 213.9L479.6 209.7L478.5 209.3Z" color="#0037ff"/><path d="M478.0 213.9L479.0 214.2L480.6 210.0L479.6 209.7Z" color="#002eff"/><path d="M479.0 214.2L480.0 214.6L481.6 210.4L480.6 210.0Z" color="#0025ff"/><path d="M480.0 214.6L481.1 215.0L482.6 210.8L481.6 210.4Z" color="#001cff"/><path d="M481.1 215.0L483.1 215.7L484.6 211.6L482.6 210.8Z" color="#0018ff"/><path d="M483.1 215.7L485.1 216.5L486.7 212.3L484.6 211.6Z" color="#0019ff"/><path d="M485.1 216.5L487.2 217.2L488.7 213.1L486.7 212.3Z" color="#001aff"/><path d="M487.2 217.2L489.2 217.9L490.7 213.8L488.7 213.1Z" color="#001bff"/><path d="M489.2 217.9L491.3 218.7L492.8 214.6L490.7 213.8Z" color="#0021ff"/><path d="M491.3 218.7L493.3 219.4L494.8 215.3L492.8 214.6Z" color="#002dff"/><path d="M493.3 219.4L495.3 220.2L496.8 216.1L494.8 215.3Z" color="#0039ff"/><path d="M495.3 220.2L497.4 220.9L498.9 216.8L496.8 216.1Z" color="#0044ff"/><path d="M497.4 220.9L499.4 221.6L500.9 217.6L498.9 216.8Z" color="#0050ff"/><path d="M499.4 221.6L501.4 222.4L502.9 218.3L500.9 217.6Z" color="#005cff"/><path d="M501.4 222.4L503.5 223.1L505.0 219.1L502.9 218.3Z" color="#0068ff"/><path d="M503.5 223.1L505.5 223.8L507.0 219.8L505.0 219.1Z" color="#0073ff"/><path d="M505.5 223.8L507.6 224.6L509.0 220.6L507.0 219.8Z" color="#007eff"/><path d="M507.6 224.6L509.6 225.3L511.1 221.3L509.0 220.6Z" color="#0089ff"/><path d="M509.6 225.3L511.6 226.1L513.1 222.1L511.1 221.3Z" color="#0094ff"/><path d="M511.6 226.1L513.7 226.8L515.1 222.8L513.1 222.1Z" color="#00a0ff"/><path d="M513.7 226.8L515.7 227.5L517.2 223.6L515.1 222.8Z" color="#00a7ff"/><path d="M515.7 227.5L517.7 228.3L519.2 224.3L517.2 223.6Z" color="#00a9ff"/><path d="M517.7 228.3L519.8 229.0L521.2 225.1L519.2 224.3Z" color="#00acff"/><path d="M519.8 229.0L521.8 229.8L523.3 225.8L521.2 225.1Z" color="#00afff"/><path d="M521.8 229.8L522.8 230.1L524.3 226.2L523.3 225.8Z" color="#00b3ff"/><path d="M522.8 230.1L523.9 230.5L525.3 226.6L524.3 226.2Z" color="#00b9ff"/><path d="M523.9 230.5L524.9 230.9L526.3 227.0L525.3 226.6Z" color="#00beff"/><path d="M524.9 230.9L525.9 231.2L527.3 227.3L526.3 227.0Z" color="#00c4ff"/><path d="M478.5 209.3L479.6 209.7L481.1 205.5L480.1 205.1Z" color="#003eff"/><path d="M479.6 209.7L480.6 210.0L482.1 205.9L481.1 205.5Z" color="#0035ff"/><path d="M480.6 210.0L481.6 210.4L483.2 206.2L482.1 205.9Z" color="#002cff"/><path d="M481.6 210.4L482.6 210.8L484.2 206.6L483.2 206.2Z" color="#0023ff"/><path d="M482.6 210.8L484.6 211.6L486.2 207.4L484.2 206.6Z" color="#001fff"/><path d="M484.6 211.6L486.7 212.3L488.2 208.2L486.2 207.4Z" color="#0021ff"/><path d="M486.7 212.3L488.7 213.1L490.3 208.9L488.2 208.2Z" color="#0022ff"/><path d="M488.7 213.1L490.7 213.8L492.3 209.7L490.3 208.9Z" color="#0024ff"/><path d="M490.7 213.8L492.8 214.6L494.3 210.4L492.3 209.7Z" color="#002bff"/><path d="M492.8 214.6L494.8 215.3L496.3 211.2L494.3 210.4Z" color="#0036ff"/><path d="M494.8 215.3L496.8 216.1L498.4 212.0L496.3 211.2Z" color="#0042ff"/><path d="M496.8 216.1L498.9 216.8L500.4 212.7L498.4 212.0Z" color="#004dff"/><path d="M498.9 216.8L500.9 217.6L502.4 213.5L500.4 212.7Z" color="#0059ff"/><path d="M500.9 217.6L502.9 218.3L504.5 214.3L502.4 213.5Z" color="#0065ff"/><path d="M502.9 218.3L505.0 219.1L506.5 215.0L504.5 214.3Z" color="#0070ff"/><path d="M505.0 219.1L507.0 219.8L508.5 215.8L506.5 215.0Z" color="#007aff"/><path d="M507.0 219.8L509.0 220.6L510.5 216.6L508.5 215.8Z" color="#0085ff"/><path d="M509.0 220.6L511.1 221.3L512.6 217.3L510.5 216.6Z" color="#008fff"/><path d="M511.1 221.3L513.1 222.1L514.6 218.1L512.6 217.3Z" color="#009aff"/><path d="M513.1 222.1L515.1 222.8L516.6 218.9L514.6 218.1Z" color="#00a4ff"/><path d="M515.1 222.8L517.2 223.6L518.7 219.6L516.6 218.9Z" color="#00abff"/><path d="M517.2 223.6L519.2 224.3L520.7 220.4L518.7 219.6Z" color="#00adff"/><path d="M519.2 224.3L521.2 225.1L522.7 221.1L520.7 220.4Z" color="#00b0ff"/><path d="M521.2 225.1L523.3 225.8L524.7 221.9L522.7 221.1Z" color="#00b2ff"/><path d="M523.3 225.8L524.3 226.2L525.8 222.3L524.7 221.9Z" color="#00b7ff"/><path d="M524.3 226.2L525.3 226.6L526.8 222.7L525.8 222.3Z" color="#00bfff"/><path d="M525.3 226.6L526.3 227.0L527.8 223.1L526.8 222.7Z" color="#00c7ff"/><path d="M526.3 227.0L527.3 227.3L528.8 223.4L527.8 223.1Z" color="#00cfff"/><path d="M480.1 205.1L481.1 205.5L482.7 201.3L481.7 200.9Z" color="#0044ff"/><path d="M481.1 205.5L482.1 205.9L483.7 201.7L482.7 201.3Z" color="#003bff"/><path d="M482.1 205.9L483.2 206.2L484.8 202.1L483.7 201.7Z" color="#0032ff"/><path d="M483.2 206.2L484.2 206.6L485.8 202.5L484.8 202.1Z" color="#0029ff"/><path d="M484.2 206.6L486.2 207.4L487.8 203.2L485.8 202.5Z" color="#0026ff"/><path d="M486.2 207.4L488.2 208.2L489.8 204.0L487.8 203.2Z" color="#0028ff"/><path d="M488.2 208.2L490.3 208.9L491.8 204.8L489.8 204.0Z" color="#002bff"/><path d="M490.3 208.9L492.3 209.7L493.9 205.6L491.8 204.8Z" color="#002dff"/><path d="M492.3 209.7L494.3 210.4L495.9 206.3L493.9 205.6Z" color="#0034ff"/><path d="M494.3 210.4L496.3 211.2L497.9 207.1L495.9 206.3Z" color="#0040ff"/><path d="M496.3 211.2L498.4 212.0L499.9 207.9L497.9 207.1Z" color="#004bff"/><path d="M498.4 212.0L500.4 212.7L502.0 208.7L499.9 207.9Z" color="#0056ff"/><path d="M500.4 212.7L502.4 213.5L504.0 209.5L502.0 208.7Z" color="#0062ff"/><path d="M502.4 213.5L504.5 214.3L506.0 210.2L504.0 209.5Z" color="#006dff"/><path d="M504.5 214.3L506.5 215.0L508.0 211.0L506.0 210.2Z" color="#0078ff"/><path d="M506.5 215.0L508.5 215.8L510.1 211.8L508.0 211.0Z" color="#0082ff"/><path d="M508.5 215.8L510.5 216.6L512.1 212.6L510.1 211.8Z" color="#008cff"/><path d="M510.5 216.6L512.6 217.3L514.1 213.3L512.1 212.6Z" color="#0095ff"/><path d="M512.6 217.3L514.6 218.1L516.1 214.1L514.1 213.3Z" color="#009fff"/><path d="M514.6 218.1L516.6 218.9L518.1 214.9L516.1 214.1Z" color="#00a9ff"/><path d="M516.6 218.9L518.7 219.6L520.2 215.7L518.1 214.9Z" color="#00afff"/><path d="M518.7 219.6L520.7 220.4L522.2 216.4L520.2 215.7Z" color="#00b1ff"/><path d="M520.7 220.4L522.7 221.1L524.2 217.2L522.2 216.4Z" color="#00b3ff"/><path d="M522.7 221.1L524.7 221.9L526.2 218.0L524.2 217.2Z" color="#00b5ff"/><path d="M524.7 221.9L525.8 222.3L527.3 218.4L526.2 218.0Z" color="#00bcff"/><path d="M525.8 222.3L526.8 222.7L528.3 218.8L527.3 218.4Z" color="#00c6ff"/><path d="M526.8 222.7L527.8 223.1L529.3 219.2L528.3 218.8Z" color="#00d1ff"/><path d="M527.8 223.1L528.8 223.4L530.3 219.6L529.3 219.2Z" color="#00dbff"/><path d="M481.7 200.9L482.7 201.3L484.4 197.1L483.3 196.7Z" color="#004aff"/><path d="M482.7 201.3L483.7 201.7L485.4 197.5L484.4 197.1Z" color="#0041ff"/><path d="M483.7 201.7L484.8 202.1L486.4 197.9L485.4 197.5Z" color="#0038ff"/><path d="M484.8 202.1L485.8 202.5L487.4 198.3L486.4 197.9Z" color="#002fff"/><path d="M485.8 202.5L487.8 203.2L489.4 199.1L487.4 198.3Z" color="#002cff"/><path d="M487.8 203.2L489.8 204.0L491.4 199.9L489.4 199.1Z" color="#0030ff"/><path d="M489.8 204.0L491.8 204.8L493.4 200.7L491.4 199.9Z" color="#0033ff"/><path d="M491.8 204.8L493.9 205.6L495.5 201.5L493.4 200.7Z" color="#0036ff"/><path d="M493.9 205.6L495.9 206.3L497.5 202.3L495.5 201.5Z" color="#003eff"/><path d="M495.9 206.3L497.9 207.1L499.5 203.1L497.5 202.3Z" color="#0049ff"/><path d="M497.9 207.1L499.9 207.9L501.5 203.8L499.5 203.1Z" color="#0054ff"/><path d="M499.9 207.9L502.0 208.7L503.5 204.6L501.5 203.8Z" color="#005fff"/><path d="M502.0 208.7L504.0 209.5L505.6 205.4L503.5 204.6Z" color="#006bff"/><path d="M504.0 209.5L506.0 210.2L507.6 206.2L505.6 205.4Z" color="#0076ff"/><path d="M506.0 210.2L508.0 211.0L509.6 207.0L507.6 206.2Z" color="#0080ff"/><path d="M508.0 211.0L510.1 211.8L511.6 207.8L509.6 207.0Z" color="#0089ff"/><path d="M510.1 211.8L512.1 212.6L513.6 208.6L511.6 207.8Z" color="#0092ff"/><path d="M512.1 212.6L514.1 213.3L515.7 209.4L513.6 208.6Z" color="#009bff"/><path d="M514.1 213.3L516.1 214.1L517.7 210.1L515.7 209.4Z" color="#00a4ff"/><path d="M516.1 214.1L518.1 214.9L519.7 210.9L517.7 210.1Z" color="#00aeff"/><path d="M518.1 214.9L520.2 215.7L521.7 211.7L519.7 210.9Z" color="#00b3ff"/><path d="M520.2 215.7L522.2 216.4L523.7 212.5L521.7 211.7Z" color="#00b5ff"/><path d="M522.2 216.4L524.2 217.2L525.8 213.3L523.7 212.5Z" color="#00b7ff"/><path d="M524.2 217.2L526.2 218.0L527.8 214.1L525.8 213.3Z" color="#00b9ff"/><path d="M526.2 218.0L527.3 218.4L528.8 214.5L527.8 214.1Z" color="#00c0ff"/><path d="M527.3 218.4L528.3 218.8L529.8 214.9L528.8 214.5Z" color="#00cdff"/><path d="M528.3 218.8L529.3 219.2L530.8 215.3L529.8 214.9Z" color="#00daff"/><path d="M529.3 219.2L530.3 219.6L531.8 215.7L530.8 215.3Z" color="#00e7ff"/><path d="M483.3 196.7L484.4 197.1L486.0 193.0L485.0 192.6Z" color="#0051ff"/><path d="M484.4 197.1L485.4 197.5L487.0 193.4L486.0 193.0Z" color="#0048ff"/><path d="M485.4 197.5L486.4 197.9L488.0 193.8L487.0 193.4Z" color="#003fff"/><path d="M486.4 197.9L487.4 198.3L489.0 194.2L488.0 193.8Z" color="#0036ff"/><path d="M487.4 198.3L489.4 199.1L491.0 195.0L489.0 194.2Z" color="#0033ff"/><path d="M489.4 199.1L491.4 199.9L493.1 195.8L491.0 195.0Z" color="#0037ff"/><path d="M491.4 199.9L493.4 200.7L495.1 196.6L493.1 195.8Z" color="#003cff"/><path d="M493.4 200.7L495.5 201.5L497.1 197.4L495.1 196.6Z" color="#0040ff"/><path d="M495.5 201.5L497.5 202.3L499.1 198.2L497.1 197.4Z" color="#0047ff"/><path d="M497.5 202.3L499.5 203.1L501.1 199.0L499.1 198.2Z" color="#0052ff"/><path d="M499.5 203.1L501.5 203.8L503.1 199.8L501.1 199.0Z" color="#005dff"/><path d="M501.5 203.8L503.5 204.6L505.1 200.6L503.1 199.8Z" color="#0068ff"/><path d="M503.5 204.6L505.6 205.4L507.2 201.4L505.1 200.6Z" color="#0074ff"/><path d="M505.6 205.4L507.6 206.2L509.2 202.2L507.2 201.4Z" color="#007fff"/><path d="M507.6 206.2L509.6 207.0L511.2 203.0L509.2 202.2Z" color="#0088ff"/><path d="M509.6 207.0L511.6 207.8L513.2 203.8L511.2 203.0Z" color="#0091ff"/><path d="M511.6 207.8L513.6 208.6L515.2 204.6L513.2 203.8Z" color="#0099ff"/><path d="M513.6 208.6L515.7 209.4L517.2 205.4L515.2 204.6Z" color="#00a1ff"/><path d="M515.7 209.4L517.7 210.1L519.2 206.2L517.2 205.4Z" color="#00aaff"/><path d="M517.7 210.1L519.7 210.9L521.3 207.0L519.2 206.2Z" color="#00b2ff"/><path d="M519.7 210.9L521.7 211.7L523.3 207.8L521.3 207.0Z" color="#00b7ff"/><path d="M521.7 211.7L523.7 212.5L525.3 208.6L523.3 207.8Z" color="#00b9ff"/><path d="M523.7 212.5L525.8 213.3L527.3 209.4L525.3 208.6Z" color="#00baff"/><path d="M525.8 213.3L527.8 214.1L529.3 210.2L527.3 209.4Z" color="#00bcff"/><path d="M527.8 214.1L528.8 214.5L530.3 210.6L529.3 210.2Z" color="#00c5ff"/><path d="M528.8 214.5L529.8 214.9L531.3 211.0L530.3 210.6Z" color="#00d4ff"/><path d="M529.8 214.9L530.8 215.3L532.3 211.4L531.3 211.0Z" color="#00e3ff"/><path d="M530.8 215.3L531.8 215.7L533.3 211.8L532.3 211.4Z" color="#00f2ff"/><path d="M485.0 192.6L486.0 193.0L487.7 188.8L486.7 188.4Z" color="#0056ff"/><path d="M486.0 193.0L487.0 193.4L488.7 189.3L487.7 188.8Z" color="#004cff"/><path d="M487.0 193.4L488.0 193.8L489.7 189.7L488.7 189.3Z" color="#0043ff"/><path d="M488.0 193.8L489.0 194.2L490.7 190.1L489.7 189.7Z" color="#0039ff"/><path d="M489.0 194.2L491.0 195.0L492.7 190.9L490.7 190.1Z" color="#0037ff"/><path d="M491.0 195.0L493.1 195.8L494.7 191.7L492.7 190.9Z" color="#003cff"/><path d="M493.1 195.8L495.1 196.6L496.7 192.5L494.7 191.7Z" color="#0041ff"/><path d="M495.1 196.6L497.1 197.4L498.7 193.3L496.7 192.5Z" color="#0046ff"/><path d="M497.1 197.4L499.1 198.2L500.7 194.1L498.7 193.3Z" color="#004eff"/><path d="M499.1 198.2L501.1 199.0L502.7 194.9L500.7 194.1Z" color="#0059ff"/><path d="M501.1 199.0L503.1 199.8L504.8 195.7L502.7 194.9Z" color="#0064ff"/><path d="M503.1 199.8L505.1 200.6L506.8 196.6L504.8 195.7Z" color="#006fff"/><path d="M505.1 200.6L507.2 201.4L508.8 197.4L506.8 196.6Z" color="#007aff"/><path d="M507.2 201.4L509.2 202.2L510.8 198.2L508.8 197.4Z" color="#0085ff"/><path d="M509.2 202.2L511.2 203.0L512.8 199.0L510.8 198.2Z" color="#008eff"/><path d="M511.2 203.0L513.2 203.8L514.8 199.8L512.8 199.0Z" color="#0096ff"/><path d="M513.2 203.8L515.2 204.6L516.8 200.6L514.8 199.8Z" color="#009eff"/><path d="M515.2 204.6L517.2 205.4L518.8 201.4L516.8 200.6Z" color="#00a6ff"/><path d="M517.2 205.4L519.2 206.2L520.8 202.2L518.8 201.4Z" color="#00aeff"/><path d="M519.2 206.2L521.3 207.0L522.9 203.0L520.8 202.2Z" color="#00b6ff"/><path d="M521.3 207.0L523.3 207.8L524.9 203.9L522.9 203.0Z" color="#00bbff"/><path d="M523.3 207.8L525.3 208.6L526.9 204.7L524.9 203.9Z" color="#00bdff"/><path d="M525.3 208.6L527.3 209.4L528.9 205.5L526.9 204.7Z" color="#00beff"/><path d="M527.3 209.4L529.3 210.2L530.9 206.3L528.9 205.5Z" color="#00c0ff"/><path d="M529.3 210.2L530.3 210.6L531.9 206.7L530.9 206.3Z" color="#00caff"/><path d="M530.3 210.6L531.3 211.0L532.9 207.1L531.9 206.7Z" color="#00dcff"/><path d="M531.3 211.0L532.3 211.4L533.9 207.5L532.9 207.1Z" color="#00edff"/><path d="M532.3 211.4L533.3 211.8L534.9 207.9L533.9 207.5Z" color="#00ffff"/><path d="M486.7 188.4L487.7 188.8L489.4 184.7L488.4 184.3Z" color="#0059ff"/><path d="M487.7 188.8L488.7 189.3L490.4 185.1L489.4 184.7Z" color="#004fff"/><path d="M488.7 189.3L489.7 189.7L491.4 185.5L490.4 185.1Z" color="#0044ff"/><path d="M489.7 189.7L490.7 190.1L492.4 186.0L491.4 185.5Z" color="#003aff"/><path d="M490.7 190.1L492.7 190.9L494.4 186.8L492.4 186.0Z" color="#0037ff"/><path d="M492.7 190.9L494.7 191.7L496.4 187.6L494.4 186.8Z" color="#003dff"/><path d="M494.7 191.7L496.7 192.5L498.4 188.4L496.4 187.6Z" color="#0043ff"/><path d="M496.7 192.5L498.7 193.3L500.4 189.2L498.4 188.4Z" color="#0049ff"/><path d="M498.7 193.3L500.7 194.1L502.4 190.1L500.4 189.2Z" color="#0052ff"/><path d="M500.7 194.1L502.7 194.9L504.4 190.9L502.4 190.1Z" color="#005dff"/><path d="M502.7 194.9L504.8 195.7L506.4 191.7L504.4 190.9Z" color="#0068ff"/><path d="M504.8 195.7L506.8 196.6L508.4 192.5L506.4 191.7Z" color="#0073ff"/><path d="M506.8 196.6L508.8 197.4L510.4 193.4L508.4 192.5Z" color="#007eff"/><path d="M508.8 197.4L510.8 198.2L512.4 194.2L510.4 193.4Z" color="#0089ff"/><path d="M510.8 198.2L512.8 199.0L514.4 195.0L512.4 194.2Z" color="#0092ff"/><path d="M512.8 199.0L514.8 199.8L516.4 195.8L514.4 195.0Z" color="#009aff"/><path d="M514.8 199.8L516.8 200.6L518.4 196.6L516.4 195.8Z" color="#00a2ff"/><path d="M516.8 200.6L518.8 201.4L520.5 197.5L518.4 196.6Z" color="#00a9ff"/><path d="M518.8 201.4L520.8 202.2L522.5 198.3L520.5 197.5Z" color="#00b1ff"/><path d="M520.8 202.2L522.9 203.0L524.5 199.1L522.5 198.3Z" color="#00b9ff"/><path d="M522.9 203.0L524.9 203.9L526.5 199.9L524.5 199.1Z" color="#00beff"/><path d="M524.9 203.9L526.9 204.7L528.5 200.8L526.5 199.9Z" color="#00c0ff"/><path d="M526.9 204.7L528.9 205.5L530.5 201.6L528.5 200.8Z" color="#00c2ff"/><path d="M528.9 205.5L530.9 206.3L532.5 202.4L530.5 201.6Z" color="#00c4ff"/><path d="M530.9 206.3L531.9 206.7L533.5 202.8L532.5 202.4Z" color="#00d0ff"/><path d="M531.9 206.7L532.9 207.1L534.5 203.2L533.5 202.8Z" color="#00e4ff"/><path d="M532.9 207.1L533.9 207.5L535.5 203.6L534.5 203.2Z" color="#00f9ff"/><path d="M533.9 207.5L534.9 207.9L536.5 204.0L535.5 203.6Z" color="#0efff1"/><path d="M488.4 184.3L489.4 184.7L491.1 180.6L490.1 180.2Z" color="#005cff"/><path d="M489.4 184.7L490.4 185.1L492.1 181.0L491.1 180.6Z" color="#0051ff"/><path d="M490.4 185.1L491.4 185.5L493.1 181.4L492.1 181.0Z" color="#0046ff"/><path d="M491.4 185.5L492.4 186.0L494.1 181.9L493.1 181.4Z" color="#003aff"/><path d="M492.4 186.0L494.4 186.8L496.1 182.7L494.1 181.9Z" color="#0038ff"/><path d="M494.4 186.8L496.4 187.6L498.1 183.5L496.1 182.7Z" color="#003fff"/><path d="M496.4 187.6L498.4 188.4L500.1 184.4L498.1 183.5Z" color="#0046ff"/><path d="M498.4 188.4L500.4 189.2L502.1 185.2L500.1 184.4Z" color="#004cff"/><path d="M500.4 189.2L502.4 190.1L504.1 186.0L502.1 185.2Z" color="#0055ff"/><path d="M502.4 190.1L504.4 190.9L506.1 186.9L504.1 186.0Z" color="#0060ff"/><path d="M504.4 190.9L506.4 191.7L508.1 187.7L506.1 186.9Z" color="#006bff"/><path d="M506.4 191.7L508.4 192.5L510.1 188.5L508.1 187.7Z" color="#0076ff"/><path d="M508.4 192.5L510.4 193.4L512.1 189.4L510.1 188.5Z" color="#0081ff"/><path d="M510.4 193.4L512.4 194.2L514.1 190.2L512.1 189.4Z" color="#008cff"/><path d="M512.4 194.2L514.4 195.0L516.1 191.0L514.1 190.2Z" color="#0096ff"/><path d="M514.4 195.0L516.4 195.8L518.1 191.8L516.1 191.0Z" color="#009dff"/><path d="M516.4 195.8L518.4 196.6L520.1 192.7L518.1 191.8Z" color="#00a5ff"/><path d="M518.4 196.6L520.5 197.5L522.1 193.5L520.1 192.7Z" color="#00adff"/><path d="M520.5 197.5L522.5 198.3L524.1 194.3L522.1 193.5Z" color="#00b4ff"/><path d="M522.5 198.3L524.5 199.1L526.1 195.2L524.1 194.3Z" color="#00bcff"/><path d="M524.5 199.1L526.5 199.9L528.1 196.0L526.1 195.2Z" color="#00c1ff"/><path d="M526.5 199.9L528.5 200.8L530.1 196.8L528.1 196.0Z" color="#00c4ff"/><path d="M528.5 200.8L530.5 201.6L532.1 197.7L530.1 196.8Z" color="#00c6ff"/><path d="M530.5 201.6L532.5 202.4L534.1 198.5L532.1 197.7Z" color="#00c9ff"/><path d="M532.5 202.4L533.5 202.8L535.1 198.9L534.1 198.5Z" color="#00d6ff"/><path d="M533.5 202.8L534.5 203.2L536.1 199.3L535.1 198.9Z" color="#00edff"/><path d="M534.5 203.2L535.5 203.6L537.1 199.8L536.1 199.3Z" color="#05fffa"/><path d="M535.5 203.6L536.5 204.0L538.1 200.2L537.1 199.8Z" color="#1cffe3"/><path d="M490.1 180.2L491.1 180.6L492.8 176.5L491.8 176.1Z" color="#005fff"/><path d="M491.1 180.6L492.1 181.0L493.8 176.9L492.8 176.5Z" color="#0053ff"/><path d="M492.1 181.0L493.1 181.4L494.8 177.4L493.8 176.9Z" color="#0047ff"/><path d="M493.1 181.4L494.1 181.9L495.8 177.8L494.8 177.4Z" color="#003bff"/><path d="M494.1 181.9L496.1 182.7L497.8 178.6L495.8 177.8Z" color="#0038ff"/><path d="M496.1 182.7L498.1 183.5L499.8 179.5L497.8 178.6Z" color="#0040ff"/><path d="M498.1 183.5L500.1 184.4L501.8 180.3L499.8 179.5Z" color="#0048ff"/><path d="M500.1 184.4L502.1 185.2L503.8 181.1L501.8 180.3Z" color="#0050ff"/><path d="M502.1 185.2L504.1 186.0L505.8 182.0L503.8 181.1Z" color="#0059ff"/><path d="M504.1 186.0L506.1 186.9L507.8 182.8L505.8 182.0Z" color="#0064ff"/><path d="M506.1 186.9L508.1 187.7L509.8 183.7L507.8 182.8Z" color="#006fff"/><path d="M508.1 187.7L510.1 188.5L511.8 184.5L509.8 183.7Z" color="#007aff"/><path d="M510.1 188.5L512.1 189.4L513.8 185.4L511.8 184.5Z" color="#0085ff"/><path d="M512.1 189.4L514.1 190.2L515.8 186.2L513.8 185.4Z" color="#0090ff"/><path d="M514.1 190.2L516.1 191.0L517.8 187.0L515.8 186.2Z" color="#0099ff"/><path d="M516.1 191.0L518.1 191.8L519.8 187.9L517.8 187.0Z" color="#00a1ff"/><path d="M518.1 191.8L520.1 192.7L521.8 188.7L519.8 187.9Z" color="#00a8ff"/><path d="M520.1 192.7L522.1 193.5L523.8 189.6L521.8 188.7Z" color="#00b0ff"/><path d="M522.1 193.5L524.1 194.3L525.8 190.4L523.8 189.6Z" color="#00b7ff"/><path d="M524.1 194.3L526.1 195.2L527.8 191.3L525.8 190.4Z" color="#00bfff"/><path d="M526.1 195.2L528.1 196.0L529.8 192.1L527.8 191.3Z" color="#00c4ff"/><path d="M528.1 196.0L530.1 196.8L531.7 192.9L529.8 192.1Z" color="#00c7ff"/><path d="M530.1 196.8L532.1 197.7L533.7 193.8L531.7 192.9Z" color="#00caff"/><path d="M532.1 197.7L534.1 198.5L535.7 194.6L533.7 193.8Z" color="#00cdff"/><path d="M534.1 198.5L535.1 198.9L536.7 195.0L535.7 194.6Z" color="#00dcff"/><path d="M535.1 198.9L536.1 199.3L537.7 195.5L536.7 195.0Z" color="#00f5ff"/><path d="M536.1 199.3L537.1 199.8L538.7 195.9L537.7 195.5Z" color="#10ffef"/><path d="M537.1 199.8L538.1 200.2L539.7 196.3L538.7 195.9Z" color="#29ffd6"/><path d="M491.8 176.1L492.8 176.5L494.6 172.4L493.6 172.0Z" color="#0063ff"/><path d="M492.8 176.5L493.8 176.9L495.5 172.9L494.6 172.4Z" color="#0056ff"/><path d="M493.8 176.9L494.8 177.4L496.5 173.3L495.5 172.9Z" color="#0048ff"/><path d="M494.8 177.4L495.8 177.8L497.5 173.7L496.5 173.3Z" color="#003bff"/><path d="M495.8 177.8L497.8 178.6L499.5 174.6L497.5 173.7Z" color="#0039ff"/><path d="M497.8 178.6L499.8 179.5L501.5 175.4L499.5 174.6Z" color="#0042ff"/><path d="M499.8 179.5L501.8 180.3L503.5 176.3L501.5 175.4Z" color="#004aff"/><path d="M501.8 180.3L503.8 181.1L505.5 177.1L503.5 176.3Z" color="#0053ff"/><path d="M503.8 181.1L505.8 182.0L507.5 178.0L505.5 177.1Z" color="#005dff"/><path d="M505.8 182.0L507.8 182.8L509.5 178.8L507.5 178.0Z" color="#0068ff"/><path d="M507.8 182.8L509.8 183.7L511.5 179.7L509.5 178.8Z" color="#0073ff"/><path d="M509.8 183.7L511.8 184.5L513.5 180.5L511.5 179.7Z" color="#007eff"/><path d="M511.8 184.5L513.8 185.4L515.5 181.4L513.5 180.5Z" color="#0089ff"/><path d="M513.8 185.4L515.8 186.2L517.5 182.2L515.5 181.4Z" color="#0094ff"/><path d="M515.8 186.2L517.8 187.0L519.5 183.1L517.5 182.2Z" color="#009dff"/><path d="M517.8 187.0L519.8 187.9L521.5 183.9L519.5 183.1Z" color="#00a4ff"/><path d="M519.8 187.9L521.8 188.7L523.5 184.8L521.5 183.9Z" color="#00acff"/><path d="M521.8 188.7L523.8 189.6L525.4 185.6L523.5 184.8Z" color="#00b3ff"/><path d="M523.8 189.6L525.8 190.4L527.4 186.5L525.4 185.6Z" color="#00baff"/><path d="M525.8 190.4L527.8 191.3L529.4 187.3L527.4 186.5Z" color="#00c2ff"/><path d="M527.8 191.3L529.8 192.1L531.4 188.2L529.4 187.3Z" color="#00c7ff"/><path d="M529.8 192.1L531.7 192.9L533.4 189.0L531.4 188.2Z" color="#00cbff"/><path d="M531.7 192.9L533.7 193.8L535.4 189.9L533.4 189.0Z" color="#00ceff"/><path d="M533.7 193.8L535.7 194.6L537.4 190.7L535.4 189.9Z" color="#00d2ff"/><path d="M535.7 194.6L536.7 195.0L538.4 191.2L537.4 190.7Z" color="#00e2ff"/><path d="M536.7 195.0L537.7 195.5L539.4 191.6L538.4 191.2Z" color="#00feff"/><path d="M537.7 195.5L538.7 195.9L540.4 192.0L539.4 191.6Z" color="#1bffe4"/><path d="M538.7 195.9L539.7 196.3L541.4 192.4L540.4 192.0Z" color="#37ffc8"/><path d="M493.6 172.0L494.6 172.4L496.3 168.4L495.3 167.9Z" color="#0066ff"/><path d="M494.6 172.4L495.5 172.9L497.3 168.8L496.3 168.4Z" color="#0058ff"/><path d="M495.5 172.9L496.5 173.3L498.3 169.2L497.3 168.8Z" color="#004aff"/><path d="M496.5 173.3L497.5 173.7L499.3 169.6L498.3 169.2Z" color="#003cff"/><path d="M497.5 173.7L499.5 174.6L501.3 170.5L499.3 169.6Z" color="#0039ff"/><path d="M499.5 174.6L501.5 175.4L503.3 171.4L501.3 170.5Z" color="#0043ff"/><path d="M501.5 175.4L503.5 176.3L505.3 172.2L503.3 171.4Z" color="#004dff"/><path d="M503.5 176.3L505.5 177.1L507.3 173.1L505.3 172.2Z" color="#0056ff"/><path d="M505.5 177.1L507.5 178.0L509.2 174.0L507.3 173.1Z" color="#0061ff"/><path d="M507.5 178.0L509.5 178.8L511.2 174.8L509.2 174.0Z" color="#006cff"/><path d="M509.5 178.8L511.5 179.7L513.2 175.7L511.2 174.8Z" color="#0077ff"/><path d="M511.5 179.7L513.5 180.5L515.2 176.5L513.2 175.7Z" color="#0082ff"/><path d="M513.5 180.5L515.5 181.4L517.2 177.4L515.2 176.5Z" color="#008dff"/><path d="M515.5 181.4L517.5 182.2L519.2 178.3L517.2 177.4Z" color="#0098ff"/><path d="M517.5 182.2L519.5 183.1L521.2 179.1L519.2 178.3Z" color="#00a1ff"/><path d="M519.5 183.1L521.5 183.9L523.2 180.0L521.2 179.1Z" color="#00a8ff"/><path d="M521.5 183.9L523.5 184.8L525.2 180.8L523.2 180.0Z" color="#00afff"/><path d="M523.5 184.8L525.4 185.6L527.1 181.7L525.2 180.8Z" color="#00b6ff"/><path d="M525.4 185.6L527.4 186.5L529.1 182.6L527.1 181.7Z" color="#00bdff"/><path d="M527.4 186.5L529.4 187.3L531.1 183.4L529.1 182.6Z" color="#00c4ff"/><path d="M529.4 187.3L531.4 188.2L533.1 184.3L531.1 183.4Z" color="#00caff"/><path d="M531.4 188.2L533.4 189.0L535.1 185.1L533.1 184.3Z" color="#00ceff"/><path d="M533.4 189.0L535.4 189.9L537.1 186.0L535.1 185.1Z" color="#00d2ff"/><path d="M535.4 189.9L537.4 190.7L539.1 186.9L537.1 186.0Z" color="#00d6ff"/><path d="M537.4 190.7L538.4 191.2L540.1 187.3L539.1 186.9Z" color="#00e8ff"/><path d="M538.4 191.2L539.4 191.6L541.1 187.7L540.1 187.3Z" color="#07fff8"/><path d="M539.4 191.6L540.4 192.0L542.1 188.2L541.1 187.7Z" color="#26ffd9"/><path d="M540.4 192.0L541.4 192.4L543.1 188.6L542.1 188.2Z" color="#45ffba"/><path d="M495.3 167.9L496.3 168.4L498.1 164.3L497.1 163.9Z" color="#006aff"/><path d="M496.3 168.4L497.3 168.8L499.1 164.7L498.1 164.3Z" color="#005aff"/><path d="M497.3 168.8L498.3 169.2L500.1 165.2L499.1 164.7Z" color="#004bff"/><path d="M498.3 169.2L499.3 169.6L501.1 165.6L500.1 165.2Z" color="#003cff"/><path d="M499.3 169.6L501.3 170.5L503.1 166.5L501.1 165.6Z" color="#0039ff"/><path d="M501.3 170.5L503.3 171.4L505.0 167.3L503.1 166.5Z" color="#0044ff"/><path d="M503.3 171.4L505.3 172.2L507.0 168.2L505.0 167.3Z" color="#004fff"/><path d="M505.3 172.2L507.3 173.1L509.0 169.1L507.0 168.2Z" color="#0059ff"/><path d="M507.3 173.1L509.2 174.0L511.0 169.9L509.0 169.1Z" color="#0064ff"/><path d="M509.2 174.0L511.2 174.8L513.0 170.8L511.0 169.9Z" color="#006fff"/><path d="M511.2 174.8L513.2 175.7L515.0 171.7L513.0 170.8Z" color="#007aff"/><path d="M513.2 175.7L515.2 176.5L517.0 172.6L515.0 171.7Z" color="#0085ff"/><path d="M515.2 176.5L517.2 177.4L518.9 173.4L517.0 172.6Z" color="#0090ff"/><path d="M517.2 177.4L519.2 178.3L520.9 174.3L518.9 173.4Z" color="#009bff"/><path d="M519.2 178.3L521.2 179.1L522.9 175.2L520.9 174.3Z" color="#00a4ff"/><path d="M521.2 179.1L523.2 180.0L524.9 176.0L522.9 175.2Z" color="#00abff"/><path d="M523.2 180.0L525.2 180.8L526.9 176.9L524.9 176.0Z" color="#00b2ff"/><path d="M525.2 180.8L527.1 181.7L528.9 177.8L526.9 176.9Z" color="#00b9ff"/><path d="M527.1 181.7L529.1 182.6L530.9 178.7L528.9 177.8Z" color="#00c0ff"/><path d="M529.1 182.6L531.1 183.4L532.8 179.5L530.9 178.7Z" color="#00c7ff"/><path d="M531.1 183.4L533.1 184.3L534.8 180.4L532.8 179.5Z" color="#00cdff"/><path d="M533.1 184.3L535.1 185.1L536.8 181.3L534.8 180.4Z" color="#00d1ff"/><path d="M535.1 185.1L537.1 186.0L538.8 182.1L536.8 181.3Z" color="#00d6ff"/><path d="M537.1 186.0L539.1 186.9L540.8 183.0L538.8 182.1Z" color="#00daff"/><path d="M539.1 186.9L540.1 187.3L541.8 183.4L540.8 183.0Z" color="#00eeff"/><path d="M540.1 187.3L541.1 187.7L542.8 183.9L541.8 183.4Z" color="#10ffef"/><path d="M541.1 187.7L542.1 188.2L543.8 184.3L542.8 183.9Z" color="#31ffce"/><path d="M542.1 188.2L543.1 188.6L544.8 184.7L543.8 184.3Z" color="#53ffac"/><path d="M497.1 163.9L498.1 164.3L499.9 160.2L498.9 159.8Z" color="#006fff"/><path d="M498.1 164.3L499.1 164.7L500.9 160.7L499.9 160.2Z" color="#005dff"/><path d="M499.1 164.7L500.1 165.2L501.9 161.1L500.9 160.7Z" color="#004cff"/><path d="M500.1 165.2L501.1 165.6L502.9 161.6L501.9 161.1Z" color="#003bff"/><path d="M501.1 165.6L503.1 166.5L504.9 162.4L502.9 161.6Z" color="#0037ff"/><path d="M503.1 166.5L505.0 167.3L506.8 163.3L504.9 162.4Z" color="#0043ff"/><path d="M505.0 167.3L507.0 168.2L508.8 164.2L506.8 163.3Z" color="#004eff"/><path d="M507.0 168.2L509.0 169.1L510.8 165.1L508.8 164.2Z" color="#0059ff"/><path d="M509.0 169.1L511.0 169.9L512.8 166.0L510.8 165.1Z" color="#0064ff"/><path d="M511.0 169.9L513.0 170.8L514.8 166.8L512.8 166.0Z" color="#006fff"/><path d="M513.0 170.8L515.0 171.7L516.7 167.7L514.8 166.8Z" color="#007aff"/><path d="M515.0 171.7L517.0 172.6L518.7 168.6L516.7 167.7Z" color="#0085ff"/><path d="M517.0 172.6L518.9 173.4L520.7 169.5L518.7 168.6Z" color="#0090ff"/><path d="M518.9 173.4L520.9 174.3L522.7 170.3L520.7 169.5Z" color="#009bff"/><path d="M520.9 174.3L522.9 175.2L524.7 171.2L522.7 170.3Z" color="#00a4ff"/><path d="M522.9 175.2L524.9 176.0L526.6 172.1L524.7 171.2Z" color="#00abff"/><path d="M524.9 176.0L526.9 176.9L528.6 173.0L526.6 172.1Z" color="#00b2ff"/><path d="M526.9 176.9L528.9 177.8L530.6 173.9L528.6 173.0Z" color="#00b9ff"/><path d="M528.9 177.8L530.9 178.7L532.6 174.7L530.6 173.9Z" color="#00c0ff"/><path d="M530.9 178.7L532.8 179.5L534.6 175.6L532.6 174.7Z" color="#00c7ff"/><path d="M532.8 179.5L534.8 180.4L536.6 176.5L534.6 175.6Z" color="#00cdff"/><path d="M534.8 180.4L536.8 181.3L538.5 177.4L536.6 176.5Z" color="#00d2ff"/><path d="M536.8 181.3L538.8 182.1L540.5 178.3L538.5 177.4Z" color="#00d7ff"/><path d="M538.8 182.1L540.8 183.0L542.5 179.1L540.5 178.3Z" color="#00dbff"/><path d="M540.8 183.0L541.8 183.4L543.5 179.6L542.5 179.1Z" color="#00f1ff"/><path d="M541.8 183.4L542.8 183.9L544.5 180.0L543.5 179.6Z" color="#18ffe7"/><path d="M542.8 183.9L543.8 184.3L545.5 180.5L544.5 180.0Z" color="#3effc1"/><path d="M543.8 184.3L544.8 184.7L546.5 180.9L545.5 180.5Z" color="#63ff9c"/><path d="M498.9 159.8L499.9 160.2L501.7 156.2L500.7 155.8Z" color="#0074ff"/><path d="M499.9 160.2L500.9 160.7L502.7 156.6L501.7 156.2Z" color="#0060ff"/><path d="M500.9 160.7L501.9 161.1L503.7 157.1L502.7 156.6Z" color="#004dff"/><path d="M501.9 161.1L502.9 161.6L504.7 157.5L503.7 157.1Z" color="#0039ff"/><path d="M502.9 161.6L504.9 162.4L506.7 158.4L504.7 157.5Z" color="#0035ff"/><path d="M504.9 162.4L506.8 163.3L508.6 159.3L506.7 158.4Z" color="#0041ff"/><path d="M506.8 163.3L508.8 164.2L510.6 160.2L508.6 159.3Z" color="#004dff"/><path d="M508.8 164.2L510.8 165.1L512.6 161.1L510.6 160.2Z" color="#0059ff"/><path d="M510.8 165.1L512.8 166.0L514.6 162.0L512.6 161.1Z" color="#0064ff"/><path d="M512.8 166.0L514.8 166.8L516.5 162.9L514.6 162.0Z" color="#006fff"/><path d="M514.8 166.8L516.7 167.7L518.5 163.7L516.5 162.9Z" color="#007aff"/><path d="M516.7 167.7L518.7 168.6L520.5 164.6L518.5 163.7Z" color="#0085ff"/><path d="M518.7 168.6L520.7 169.5L522.5 165.5L520.5 164.6Z" color="#0090ff"/><path d="M520.7 169.5L522.7 170.3L524.5 166.4L522.5 165.5Z" color="#009bff"/><path d="M522.7 170.3L524.7 171.2L526.4 167.3L524.5 166.4Z" color="#00a4ff"/><path d="M524.7 171.2L526.6 172.1L528.4 168.2L526.4 167.3Z" color="#00abff"/><path d="M526.6 172.1L528.6 173.0L530.4 169.1L528.4 168.2Z" color="#00b2ff"/><path d="M528.6 173.0L530.6 173.9L532.4 170.0L530.4 169.1Z" color="#00b9ff"/><path d="M530.6 173.9L532.6 174.7L534.3 170.8L532.4 170.0Z" color="#00c0ff"/><path d="M532.6 174.7L534.6 175.6L536.3 171.7L534.3 170.8Z" color="#00c7ff"/><path d="M534.6 175.6L536.6 176.5L538.3 172.6L536.3 171.7Z" color="#00cdff"/><path d="M536.6 176.5L538.5 177.4L540.3 173.5L538.3 172.6Z" color="#00d2ff"/><path d="M538.5 177.4L540.5 178.3L542.3 174.4L540.3 173.5Z" color="#00d7ff"/><path d="M540.5 178.3L542.5 179.1L544.2 175.3L542.3 174.4Z" color="#00ddff"/><path d="M542.5 179.1L543.5 179.6L545.2 175.7L544.2 175.3Z" color="#00f5ff"/><path d="M543.5 179.6L544.5 180.0L546.2 176.2L545.2 175.7Z" color="#20ffdf"/><path d="M544.5 180.0L545.5 180.5L547.2 176.6L546.2 176.2Z" color="#4affb5"/><path d="M545.5 180.5L546.5 180.9L548.2 177.0L547.2 176.6Z" color="#74ff8b"/><path d="M500.7 155.8L501.7 156.2L503.5 152.2L502.6 151.7Z" color="#0079ff"/><path d="M501.7 156.2L502.7 156.6L504.5 152.6L503.5 152.2Z" color="#0063ff"/><path d="M502.7 156.6L503.7 157.1L505.5 153.1L504.5 152.6Z" color="#004eff"/><path d="M503.7 157.1L504.7 157.5L506.5 153.5L505.5 153.1Z" color="#0038ff"/><path d="M504.7 157.5L506.7 158.4L508.5 154.4L506.5 153.5Z" color="#0033ff"/><path d="M506.7 158.4L508.6 159.3L510.5 155.3L508.5 154.4Z" color="#003fff"/><path d="M508.6 159.3L510.6 160.2L512.4 156.2L510.5 155.3Z" color="#004cff"/><path d="M510.6 160.2L512.6 161.1L514.4 157.1L512.4 156.2Z" color="#0058ff"/><path d="M512.6 161.1L514.6 162.0L516.4 158.0L514.4 157.1Z" color="#0064ff"/><path d="M514.6 162.0L516.5 162.9L518.4 158.9L516.4 158.0Z" color="#006fff"/><path d="M516.5 162.9L518.5 163.7L520.3 159.8L518.4 158.9Z" color="#007aff"/><path d="M518.5 163.7L520.5 164.6L522.3 160.7L520.3 159.8Z" color="#0085ff"/><path d="M520.5 164.6L522.5 165.5L524.3 161.6L522.3 160.7Z" color="#0090ff"/><path d="M522.5 165.5L524.5 166.4L526.2 162.5L524.3 161.6Z" color="#009bff"/><path d="M524.5 166.4L526.4 167.3L528.2 163.4L526.2 162.5Z" color="#00a4ff"/><path d="M526.4 167.3L528.4 168.2L530.2 164.3L528.2 163.4Z" color="#00abff"/><path d="M528.4 168.2L530.4 169.1L532.2 165.2L530.2 164.3Z" color="#00b2ff"/><path d="M530.4 169.1L532.4 170.0L534.1 166.0L532.2 165.2Z" color="#00b9ff"/><path d="M532.4 170.0L534.3 170.8L536.1 166.9L534.1 166.0Z" color="#00c0ff"/><path d="M534.3 170.8L536.3 171.7L538.1 167.8L536.1 166.9Z" color="#00c7ff"/><path d="M536.3 171.7L538.3 172.6L540.1 168.7L538.1 167.8Z" color="#00cdff"/><path d="M538.3 172.6L540.3 173.5L542.0 169.6L540.1 168.7Z" color="#00d3ff"/><path d="M540.3 173.5L542.3 174.4L544.0 170.5L542.0 169.6Z" color="#00d8ff"/><path d="M542.3 174.4L544.2 175.3L546.0 171.4L544.0 170.5Z" color="#00deff"/><path d="M544.2 175.3L545.2 175.7L547.0 171.9L546.0 171.4Z" color="#00f8ff"/><path d="M545.2 175.7L546.2 176.2L548.0 172.3L547.0 171.9Z" color="#27ffd8"/><path d="M546.2 176.2L547.2 176.6L548.9 172.8L548.0 172.3Z" color="#56ffa9"/><path d="M547.2 176.6L548.2 177.0L549.9 173.2L548.9 172.8Z" color="#84ff7b"/><path d="M502.6 151.7L503.5 152.2L505.4 148.2L504.4 147.7Z" color="#007eff"/><path d="M503.5 152.2L504.5 152.6L506.4 148.6L505.4 148.2Z" color="#0066ff"/><path d="M504.5 152.6L505.5 153.1L507.4 149.1L506.4 148.6Z" color="#004eff"/><path d="M505.5 153.1L506.5 153.5L508.3 149.5L507.4 149.1Z" color="#0036ff"/><path d="M506.5 153.5L508.5 154.4L510.3 150.4L508.3 149.5Z" color="#0031ff"/><path d="M508.5 154.4L510.5 155.3L512.3 151.3L510.3 150.4Z" color="#003eff"/><path d="M510.5 155.3L512.4 156.2L514.3 152.2L512.3 151.3Z" color="#004bff"/><path d="M512.4 156.2L514.4 157.1L516.2 153.1L514.3 152.2Z" color="#0058ff"/><path d="M514.4 157.1L516.4 158.0L518.2 154.0L516.2 153.1Z" color="#0064ff"/><path d="M516.4 158.0L518.4 158.9L520.2 154.9L518.2 154.0Z" color="#006fff"/><path d="M518.4 158.9L520.3 159.8L522.1 155.8L520.2 154.9Z" color="#007aff"/><path d="M520.3 159.8L522.3 160.7L524.1 156.7L522.1 155.8Z" color="#0085ff"/><path d="M522.3 160.7L524.3 161.6L526.1 157.6L524.1 156.7Z" color="#0090ff"/><path d="M524.3 161.6L526.2 162.5L528.1 158.5L526.1 157.6Z" color="#009bff"/><path d="M526.2 162.5L528.2 163.4L530.0 159.4L528.1 158.5Z" color="#00a4ff"/><path d="M528.2 163.4L530.2 164.3L532.0 160.3L530.0 159.4Z" color="#00abff"/><path d="M530.2 164.3L532.2 165.2L534.0 161.2L532.0 160.3Z" color="#00b2ff"/><path d="M532.2 165.2L534.1 166.0L535.9 162.1L534.0 161.2Z" color="#00b9ff"/><path d="M534.1 166.0L536.1 166.9L537.9 163.1L535.9 162.1Z" color="#00c0ff"/><path d="M536.1 166.9L538.1 167.8L539.9 164.0L537.9 163.1Z" color="#00c7ff"/><path d="M538.1 167.8L540.1 168.7L541.8 164.9L539.9 164.0Z" color="#00cdff"/><path d="M540.1 168.7L542.0 169.6L543.8 165.8L541.8 164.9Z" color="#00d3ff"/><path d="M542.0 169.6L544.0 170.5L545.8 166.7L543.8 165.8Z" color="#00d9ff"/><path d="M544.0 170.5L546.0 171.4L547.8 167.6L545.8 166.7Z" color="#00dfff"/><path d="M546.0 171.4L547.0 171.9L548.7 168.0L547.8 167.6Z" color="#00fbff"/><path d="M547.0 171.9L548.0 172.3L549.7 168.5L548.7 168.0Z" color="#2fffd0"/><path d="M548.0 172.3L548.9 172.8L550.7 168.9L549.7 168.5Z" color="#62ff9d"/><path d="M548.9 172.8L549.9 173.2L551.7 169.4L550.7 168.9Z" color="#95ff6a"/><path d="M504.4 147.7L505.4 148.2L507.3 144.2L506.3 143.7Z" color="#0083ff"/><path d="M505.4 148.2L506.4 148.6L508.2 144.6L507.3 144.2Z" color="#0069ff"/><path d="M506.4 148.6L507.4 149.1L509.2 145.1L508.2 144.6Z" color="#004fff"/><path d="M507.4 149.1L508.3 149.5L510.2 145.5L509.2 145.1Z" color="#0035ff"/><path d="M508.3 149.5L510.3 150.4L512.2 146.4L510.2 145.5Z" color="#002eff"/><path d="M510.3 150.4L512.3 151.3L514.1 147.3L512.2 146.4Z" color="#003cff"/><path d="M512.3 151.3L514.3 152.2L516.1 148.2L514.1 147.3Z" color="#0049ff"/><path d="M514.3 152.2L516.2 153.1L518.1 149.2L516.1 148.2Z" color="#0057ff"/><path d="M516.2 153.1L518.2 154.0L520.0 150.1L518.1 149.2Z" color="#0063ff"/><path d="M518.2 154.0L520.2 154.9L522.0 151.0L520.0 150.1Z" color="#006eff"/><path d="M520.2 154.9L522.1 155.8L524.0 151.9L522.0 151.0Z" color="#0079ff"/><path d="M522.1 155.8L524.1 156.7L525.9 152.8L524.0 151.9Z" color="#0084ff"/><path d="M524.1 156.7L526.1 157.6L527.9 153.7L525.9 152.8Z" color="#008fff"/><path d="M526.1 157.6L528.1 158.5L529.9 154.6L527.9 153.7Z" color="#009aff"/><path d="M528.1 158.5L530.0 159.4L531.8 155.5L529.9 154.6Z" color="#00a3ff"/><path d="M530.0 159.4L532.0 160.3L533.8 156.4L531.8 155.5Z" color="#00aaff"/><path d="M532.0 160.3L534.0 161.2L535.8 157.3L533.8 156.4Z" color="#00b1ff"/><path d="M534.0 161.2L535.9 162.1L537.7 158.3L535.8 157.3Z" color="#00b8ff"/><path d="M535.9 162.1L537.9 163.1L539.7 159.2L537.7 158.3Z" color="#00bfff"/><path d="M537.9 163.1L539.9 164.0L541.7 160.1L539.7 159.2Z" color="#00c6ff"/><path d="M539.9 164.0L541.8 164.9L543.6 161.0L541.7 160.1Z" color="#00cdff"/><path d="M541.8 164.9L543.8 165.8L545.6 161.9L543.6 161.0Z" color="#00d3ff"/><path d="M543.8 165.8L545.8 166.7L547.6 162.8L545.6 161.9Z" color="#00d9ff"/><path d="M545.8 166.7L547.8 167.6L549.5 163.7L547.6 162.8Z" color="#00dfff"/><path d="M547.8 167.6L548.7 168.0L550.5 164.2L549.5 163.7Z" color="#00feff"/><path d="M548.7 168.0L549.7 168.5L551.5 164.6L550.5 164.2Z" color="#35ffca"/><path d="M549.7 168.5L550.7 168.9L552.5 165.1L551.5 164.6Z" color="#6bff94"/><path d="M550.7 168.9L551.7 169.4L553.5 165.5L552.5 165.1Z" color="#a1ff5e"/><path d="M506.3 143.7L507.3 144.2L509.1 140.2L508.1 139.7Z" color="#0086ff"/><path d="M507.3 144.2L508.2 144.6L510.1 140.6L509.1 140.2Z" color="#006aff"/><path d="M508.2 144.6L509.2 145.1L511.1 141.1L510.1 140.6Z" color="#004fff"/><path d="M509.2 145.1L510.2 145.5L512.1 141.5L511.1 141.1Z" color="#0033ff"/><path d="M510.2 145.5L512.2 146.4L514.0 142.4L512.1 141.5Z" color="#002cff"/><path d="M512.2 146.4L514.1 147.3L516.0 143.4L514.0 142.4Z" color="#0039ff"/><path d="M514.1 147.3L516.1 148.2L518.0 144.3L516.0 143.4Z" color="#0047ff"/><path d="M516.1 148.2L518.1 149.2L519.9 145.2L518.0 144.3Z" color="#0054ff"/><path d="M518.1 149.2L520.0 150.1L521.9 146.1L519.9 145.2Z" color="#0061ff"/><path d="M520.0 150.1L522.0 151.0L523.8 147.0L521.9 146.1Z" color="#006cff"/><path d="M522.0 151.0L524.0 151.9L525.8 147.9L523.8 147.0Z" color="#0077ff"/><path d="M524.0 151.9L525.9 152.8L527.8 148.9L525.8 147.9Z" color="#0082ff"/><path d="M525.9 152.8L527.9 153.7L529.7 149.8L527.8 148.9Z" color="#008dff"/><path d="M527.9 153.7L529.9 154.6L531.7 150.7L529.7 149.8Z" color="#0098ff"/><path d="M529.9 154.6L531.8 155.5L533.7 151.6L531.7 150.7Z" color="#00a1ff"/><path d="M531.8 155.5L533.8 156.4L535.6 152.5L533.7 151.6Z" color="#00a8ff"/><path d="M533.8 156.4L535.8 157.3L537.6 153.4L535.6 152.5Z" color="#00afff"/><path d="M535.8 157.3L537.7 158.3L539.6 154.4L537.6 153.4Z" color="#00b6ff"/><path d="M537.7 158.3L539.7 159.2L541.5 155.3L539.6 154.4Z" color="#00bdff"/><path d="M539.7 159.2L541.7 160.1L543.5 156.2L541.5 155.3Z" color="#00c4ff"/><path d="M541.7 160.1L543.6 161.0L545.5 157.1L543.5 156.2Z" color="#00caff"/><path d="M543.6 161.0L545.6 161.9L547.4 158.0L545.5 157.1Z" color="#00d1ff"/><path d="M545.6 161.9L547.6 162.8L549.4 158.9L547.4 158.0Z" color="#00d7ff"/><path d="M547.6 162.8L549.5 163.7L551.3 159.9L549.4 158.9Z" color="#00deff"/><path d="M549.5 163.7L550.5 164.2L552.3 160.3L551.3 159.9Z" color="#00fcff"/><path d="M550.5 164.2L551.5 164.6L553.3 160.8L552.3 160.3Z" color="#34ffcb"/><path d="M551.5 164.6L552.5 165.1L554.3 161.2L553.3 160.8Z" color="#6aff95"/><path d="M552.5 165.1L553.5 165.5L555.3 161.7L554.3 161.2Z" color="#a0ff5f"/><path d="M508.1 139.7L509.1 140.2L511.0 136.2L510.0 135.7Z" color="#0089ff"/><path d="M509.1 140.2L510.1 140.6L512.0 136.6L511.0 136.2Z" color="#006cff"/><path d="M510.1 140.6L511.1 141.1L513.0 137.1L512.0 136.6Z" color="#004fff"/><path d="M511.1 141.1L512.1 141.5L513.9 137.6L513.0 137.1Z" color="#0032ff"/><path d="M512.1 141.5L514.0 142.4L515.9 138.5L513.9 137.6Z" color="#0029ff"/><path d="M514.0 142.4L516.0 143.4L517.9 139.4L515.9 138.5Z" color="#0037ff"/><path d="M516.0 143.4L518.0 144.3L519.8 140.3L517.9 139.4Z" color="#0044ff"/><path d="M518.0 144.3L519.9 145.2L521.8 141.2L519.8 140.3Z" color="#0052ff"/><path d="M519.9 145.2L521.9 146.1L523.7 142.2L521.8 141.2Z" color="#005eff"/><path d="M521.9 146.1L523.8 147.0L525.7 143.1L523.7 142.2Z" color="#0069ff"/><path d="M523.8 147.0L525.8 147.9L527.7 144.0L525.7 143.1Z" color="#0074ff"/><path d="M525.8 147.9L527.8 148.9L529.6 144.9L527.7 144.0Z" color="#007fff"/><path d="M527.8 148.9L529.7 149.8L531.6 145.9L529.6 144.9Z" color="#008aff"/><path d="M529.7 149.8L531.7 150.7L533.6 146.8L531.6 145.9Z" color="#0095ff"/><path d="M531.7 150.7L533.7 151.6L535.5 147.7L533.6 146.8Z" color="#009eff"/><path d="M533.7 151.6L535.6 152.5L537.5 148.6L535.5 147.7Z" color="#00a5ff"/><path d="M535.6 152.5L537.6 153.4L539.4 149.6L537.5 148.6Z" color="#00acff"/><path d="M537.6 153.4L539.6 154.4L541.4 150.5L539.4 149.6Z" color="#00b3ff"/><path d="M539.6 154.4L541.5 155.3L543.4 151.4L541.4 150.5Z" color="#00baff"/><path d="M541.5 155.3L543.5 156.2L545.3 152.3L543.4 151.4Z" color="#00c1ff"/><path d="M543.5 156.2L545.5 157.1L547.3 153.3L545.3 152.3Z" color="#00c8ff"/><path d="M545.5 157.1L547.4 158.0L549.2 154.2L547.3 153.3Z" color="#00cfff"/><path d="M547.4 158.0L549.4 158.9L551.2 155.1L549.2 154.2Z" color="#00d6ff"/><path d="M549.4 158.9L551.3 159.9L553.2 156.0L551.2 155.1Z" color="#00dcff"/><path d="M551.3 159.9L552.3 160.3L554.1 156.5L553.2 156.0Z" color="#00fbff"/><path d="M552.3 160.3L553.3 160.8L555.1 156.9L554.1 156.5Z" color="#33ffcc"/><path d="M553.3 160.8L554.3 161.2L556.1 157.4L555.1 156.9Z" color="#6aff95"/><path d="M554.3 161.2L555.3 161.7L557.1 157.9L556.1 157.4Z" color="#a0ff5f"/><path d="M510.0 135.7L511.0 136.2L512.9 132.2L511.9 131.7Z" color="#008cff"/><path d="M511.0 136.2L512.0 136.6L513.9 132.7L512.9 132.2Z" color="#006dff"/><path d="M512.0 136.6L513.0 137.1L514.9 133.1L513.9 132.7Z" color="#004eff"/><path d="M513.0 137.1L513.9 137.6L515.8 133.6L514.9 133.1Z" color="#0030ff"/><path d="M513.9 137.6L515.9 138.5L517.8 134.5L515.8 133.6Z" color="#0027ff"/><path d="M515.9 138.5L517.9 139.4L519.8 135.4L517.8 134.5Z" color="#0034ff"/><path d="M517.9 139.4L519.8 140.3L521.7 136.4L519.8 135.4Z" color="#0042ff"/><path d="M519.8 140.3L521.8 141.2L523.7 137.3L521.7 136.4Z" color="#004fff"/><path d="M521.8 141.2L523.7 142.2L525.6 138.2L523.7 137.3Z" color="#005cff"/><path d="M523.7 142.2L525.7 143.1L527.6 139.2L525.6 138.2Z" color="#0067ff"/><path d="M525.7 143.1L527.7 144.0L529.5 140.1L527.6 139.2Z" color="#0072ff"/><path d="M527.7 144.0L529.6 144.9L531.5 141.0L529.5 140.1Z" color="#007dff"/><path d="M529.6 144.9L531.6 145.9L533.5 142.0L531.5 141.0Z" color="#0088ff"/><path d="M531.6 145.9L533.6 146.8L535.4 142.9L533.5 142.0Z" color="#0093ff"/><path d="M533.6 146.8L535.5 147.7L537.4 143.8L535.4 142.9Z" color="#009cff"/><path d="M535.5 147.7L537.5 148.6L539.3 144.7L537.4 143.8Z" color="#00a3ff"/><path d="M537.5 148.6L539.4 149.6L541.3 145.7L539.3 144.7Z" color="#00aaff"/><path d="M539.4 149.6L541.4 150.5L543.2 146.6L541.3 145.7Z" color="#00b1ff"/><path d="M541.4 150.5L543.4 151.4L545.2 147.5L543.2 146.6Z" color="#00b8ff"/><path d="M543.4 151.4L545.3 152.3L547.2 148.5L545.2 147.5Z" color="#00bfff"/><path d="M545.3 152.3L547.3 153.3L549.1 149.4L547.2 148.5Z" color="#00c6ff"/><path d="M547.3 153.3L549.2 154.2L551.1 150.3L549.1 149.4Z" color="#00cdff"/><path d="M549.2 154.2L551.2 155.1L553.0 151.3L551.1 150.3Z" color="#00d4ff"/><path d="M551.2 155.1L553.2 156.0L555.0 152.2L553.0 151.3Z" color="#00dbff"/><path d="M553.2 156.0L554.1 156.5L556.0 152.6L555.0 152.2Z" color="#00faff"/><path d="M554.1 156.5L555.1 156.9L556.9 153.1L556.0 152.6Z" color="#32ffcd"/><path d="M555.1 156.9L556.1 157.4L557.9 153.6L556.9 153.1Z" color="#69ff96"/><path d="M556.1 157.4L557.1 157.9L558.9 154.0L557.9 153.6Z" color="#a0ff5f"/><path d="M511.9 131.7L512.9 132.2L514.8 128.2L513.8 127.8Z" color="#008fff"/><path d="M512.9 132.2L513.9 132.7L515.8 128.7L514.8 128.2Z" color="#006eff"/><path d="M513.9 132.7L514.9 133.1L516.8 129.2L515.8 128.7Z" color="#004eff"/><path d="M514.9 133.1L515.8 133.6L517.7 129.6L516.8 129.2Z" color="#002eff"/><path d="M515.8 133.6L517.8 134.5L519.7 130.6L517.7 129.6Z" color="#0024ff"/><path d="M517.8 134.5L519.8 135.4L521.6 131.5L519.7 130.6Z" color="#0032ff"/><path d="M519.8 135.4L521.7 136.4L523.6 132.4L521.6 131.5Z" color="#003fff"/><path d="M521.7 136.4L523.7 137.3L525.6 133.4L523.6 132.4Z" color="#004dff"/><path d="M523.7 137.3L525.6 138.2L527.5 134.3L525.6 133.4Z" color="#0059ff"/><path d="M525.6 138.2L527.6 139.2L529.5 135.2L527.5 134.3Z" color="#0064ff"/><path d="M527.6 139.2L529.5 140.1L531.4 136.2L529.5 135.2Z" color="#006fff"/><path d="M529.5 140.1L531.5 141.0L533.4 137.1L531.4 136.2Z" color="#007aff"/><path d="M531.5 141.0L533.5 142.0L535.3 138.1L533.4 137.1Z" color="#0085ff"/><path d="M533.5 142.0L535.4 142.9L537.3 139.0L535.3 138.1Z" color="#0090ff"/><path d="M535.4 142.9L537.4 143.8L539.2 139.9L537.3 139.0Z" color="#0099ff"/><path d="M537.4 143.8L539.3 144.7L541.2 140.9L539.2 139.9Z" color="#00a0ff"/><path d="M539.3 144.7L541.3 145.7L543.1 141.8L541.2 140.9Z" color="#00a7ff"/><path d="M541.3 145.7L543.2 146.6L545.1 142.7L543.1 141.8Z" color="#00aeff"/><path d="M543.2 146.6L545.2 147.5L547.1 143.7L545.1 142.7Z" color="#00b5ff"/><path d="M545.2 147.5L547.2 148.5L549.0 144.6L547.1 143.7Z" color="#00bcff"/><path d="M547.2 148.5L549.1 149.4L551.0 145.5L549.0 144.6Z" color="#00c3ff"/><path d="M549.1 149.4L551.1 150.3L552.9 146.5L551.0 145.5Z" color="#00cbff"/><path d="M551.1 150.3L553.0 151.3L554.9 147.4L552.9 146.5Z" color="#00d2ff"/><path d="M553.0 151.3L555.0 152.2L556.8 148.3L554.9 147.4Z" color="#00d9ff"/><path d="M555.0 152.2L556.0 152.6L557.8 148.8L556.8 148.3Z" color="#00f9ff"/><path d="M556.0 152.6L556.9 153.1L558.8 149.3L557.8 148.8Z" color="#31ffce"/><path d="M556.9 153.1L557.9 153.6L559.8 149.7L558.8 149.3Z" color="#69ff96"/><path d="M557.9 153.6L558.9 154.0L560.7 150.2L559.8 149.7Z" color="#a0ff5f"/><path d="M513.8 127.8L514.8 128.2L516.7 124.3L515.7 123.8Z" color="#0090ff"/><path d="M514.8 128.2L515.8 128.7L517.7 124.7L516.7 124.3Z" color="#006fff"/><path d="M515.8 128.7L516.8 129.2L518.7 125.2L517.7 124.7Z" color="#004dff"/><path d="M516.8 129.2L517.7 129.6L519.6 125.7L518.7 125.2Z" color="#002cff"/><path d="M517.7 129.6L519.7 130.6L521.6 126.6L519.6 125.7Z" color="#0022ff"/><path d="M519.7 130.6L521.6 131.5L523.6 127.6L521.6 126.6Z" color="#002fff"/><path d="M521.6 131.5L523.6 132.4L525.5 128.5L523.6 127.6Z" color="#003dff"/><path d="M523.6 132.4L525.6 133.4L527.5 129.4L525.5 128.5Z" color="#004aff"/><path d="M525.6 133.4L527.5 134.3L529.4 130.4L527.5 129.4Z" color="#0056ff"/><path d="M527.5 134.3L529.5 135.2L531.4 131.3L529.4 130.4Z" color="#0061ff"/><path d="M529.5 135.2L531.4 136.2L533.3 132.3L531.4 131.3Z" color="#006bff"/><path d="M531.4 136.2L533.4 137.1L535.3 133.2L533.3 132.3Z" color="#0076ff"/><path d="M533.4 137.1L535.3 138.1L537.2 134.2L535.3 133.2Z" color="#0080ff"/><path d="M535.3 138.1L537.3 139.0L539.2 135.1L537.2 134.2Z" color="#008bff"/><path d="M537.3 139.0L539.2 139.9L541.1 136.0L539.2 135.1Z" color="#0094ff"/><path d="M539.2 139.9L541.2 140.9L543.1 137.0L541.1 136.0Z" color="#009bff"/><path d="M541.2 140.9L543.1 141.8L545.0 137.9L543.1 137.0Z" color="#00a2ff"/><path d="M543.1 141.8L545.1 142.7L547.0 138.9L545.0 137.9Z" color="#00a9ff"/><path d="M545.1 142.7L547.1 143.7L548.9 139.8L547.0 138.9Z" color="#00b0ff"/><path d="M547.1 143.7L549.0 144.6L550.9 140.7L548.9 139.8Z" color="#00b7ff"/><path d="M549.0 144.6L551.0 145.5L552.8 141.7L550.9 140.7Z" color="#00bfff"/><path d="M551.0 145.5L552.9 146.5L554.8 142.6L552.8 141.7Z" color="#00c6ff"/><path d="M552.9 146.5L554.9 147.4L556.7 143.6L554.8 142.6Z" color="#00ceff"/><path d="M554.9 147.4L556.8 148.3L558.7 144.5L556.7 143.6Z" color="#00d5ff"/><path d="M556.8 148.3L557.8 148.8L559.7 145.0L558.7 144.5Z" color="#00f4ff"/><path d="M557.8 148.8L558.8 149.3L560.6 145.4L559.7 145.0Z" color="#2cffd3"/><path d="M558.8 149.3L559.8 149.7L561.6 145.9L560.6 145.4Z" color="#62ff9d"/><path d="M559.8 149.7L560.7 150.2L562.6 146.4L561.6 145.9Z" color="#99ff66"/><path d="M515.7 123.8L516.7 124.3L518.6 120.3L517.7 119.8Z" color="#008fff"/><path d="M516.7 124.3L517.7 124.7L519.6 120.8L518.6 120.3Z" color="#006dff"/><path d="M517.7 124.7L518.7 125.2L520.6 121.3L519.6 120.8Z" color="#004bff"/><path d="M518.7 125.2L519.6 125.7L521.6 121.7L520.6 121.3Z" color="#0029ff"/><path d="M519.6 125.7L521.6 126.6L523.5 122.7L521.6 121.7Z" color="#001fff"/><path d="M521.6 126.6L523.6 127.6L525.5 123.6L523.5 122.7Z" color="#002cff"/><path d="M523.6 127.6L525.5 128.5L527.4 124.6L525.5 123.6Z" color="#003aff"/><path d="M525.5 128.5L527.5 129.4L529.4 125.5L527.4 124.6Z" color="#0047ff"/><path d="M527.5 129.4L529.4 130.4L531.3 126.5L529.4 125.5Z" color="#0053ff"/><path d="M529.4 130.4L531.4 131.3L533.3 127.4L531.3 126.5Z" color="#005cff"/><path d="M531.4 131.3L533.3 132.3L535.2 128.4L533.3 127.4Z" color="#0066ff"/><path d="M533.3 132.3L535.3 133.2L537.2 129.3L535.2 128.4Z" color="#006fff"/><path d="M535.3 133.2L537.2 134.2L539.1 130.3L537.2 129.3Z" color="#0079ff"/><path d="M537.2 134.2L539.2 135.1L541.1 131.2L539.1 130.3Z" color="#0082ff"/><path d="M539.2 135.1L541.1 136.0L543.0 132.2L541.1 131.2Z" color="#008bff"/><path d="M541.1 136.0L543.1 137.0L545.0 133.1L543.0 132.2Z" color="#0092ff"/><path d="M543.1 137.0L545.0 137.9L546.9 134.0L545.0 133.1Z" color="#0099ff"/><path d="M545.0 137.9L547.0 138.9L548.9 135.0L546.9 134.0Z" color="#00a1ff"/><path d="M547.0 138.9L548.9 139.8L550.8 135.9L548.9 135.0Z" color="#00a8ff"/><path d="M548.9 139.8L550.9 140.7L552.8 136.9L550.8 135.9Z" color="#00b0ff"/><path d="M550.9 140.7L552.8 141.7L554.7 137.8L552.8 136.9Z" color="#00b7ff"/><path d="M552.8 141.7L554.8 142.6L556.7 138.8L554.7 137.8Z" color="#00bfff"/><path d="M554.8 142.6L556.7 143.6L558.6 139.7L556.7 138.8Z" color="#00c6ff"/><path d="M556.7 143.6L558.7 144.5L560.6 140.7L558.6 139.7Z" color="#00ceff"/><path d="M558.7 144.5L559.7 145.0L561.5 141.1L560.6 140.7Z" color="#00ecff"/><path d="M559.7 145.0L560.6 145.4L562.5 141.6L561.5 141.1Z" color="#22ffdd"/><path d="M560.6 145.4L561.6 145.9L563.5 142.1L562.5 141.6Z" color="#56ffa9"/><path d="M561.6 145.9L562.6 146.4L564.5 142.6L563.5 142.1Z" color="#8bff74"/><path d="M517.7 119.8L518.6 120.3L520.6 116.4L519.6 115.9Z" color="#008fff"/><path d="M518.6 120.3L519.6 120.8L521.5 116.9L520.6 116.4Z" color="#006cff"/><path d="M519.6 120.8L520.6 121.3L522.5 117.3L521.5 116.9Z" color="#0049ff"/><path d="M520.6 121.3L521.6 121.7L523.5 117.8L522.5 117.3Z" color="#0027ff"/><path d="M521.6 121.7L523.5 122.7L525.4 118.8L523.5 117.8Z" color="#001cff"/><path d="M523.5 122.7L525.5 123.6L527.4 119.7L525.4 118.8Z" color="#0029ff"/><path d="M525.5 123.6L527.4 124.6L529.3 120.7L527.4 119.7Z" color="#0037ff"/><path d="M527.4 124.6L529.4 125.5L531.3 121.6L529.3 120.7Z" color="#0044ff"/><path d="M529.4 125.5L531.3 126.5L533.2 122.6L531.3 121.6Z" color="#004fff"/><path d="M531.3 126.5L533.3 127.4L535.2 123.5L533.2 122.6Z" color="#0058ff"/><path d="M533.3 127.4L535.2 128.4L537.1 124.5L535.2 123.5Z" color="#0060ff"/><path d="M535.2 128.4L537.2 129.3L539.1 125.4L537.1 124.5Z" color="#0069ff"/><path d="M537.2 129.3L539.1 130.3L541.0 126.4L539.1 125.4Z" color="#0071ff"/><path d="M539.1 130.3L541.1 131.2L543.0 127.3L541.0 126.4Z" color="#007aff"/><path d="M541.1 131.2L543.0 132.2L544.9 128.3L543.0 127.3Z" color="#0082ff"/><path d="M543.0 132.2L545.0 133.1L546.9 129.2L544.9 128.3Z" color="#0089ff"/><path d="M545.0 133.1L546.9 134.0L548.8 130.2L546.9 129.2Z" color="#0091ff"/><path d="M546.9 134.0L548.9 135.0L550.8 131.1L548.8 130.2Z" color="#0099ff"/><path d="M548.9 135.0L550.8 135.9L552.7 132.1L550.8 131.1Z" color="#00a0ff"/><path d="M550.8 135.9L552.8 136.9L554.7 133.0L552.7 132.1Z" color="#00a8ff"/><path d="M552.8 136.9L554.7 137.8L556.6 134.0L554.7 133.0Z" color="#00b0ff"/><path d="M554.7 137.8L556.7 138.8L558.5 134.9L556.6 134.0Z" color="#00b7ff"/><path d="M556.7 138.8L558.6 139.7L560.5 135.9L558.5 134.9Z" color="#00bfff"/><path d="M558.6 139.7L560.6 140.7L562.4 136.8L560.5 135.9Z" color="#00c6ff"/><path d="M560.6 140.7L561.5 141.1L563.4 137.3L562.4 136.8Z" color="#00e4ff"/><path d="M561.5 141.1L562.5 141.6L564.4 137.8L563.4 137.3Z" color="#17ffe8"/><path d="M562.5 141.6L563.5 142.1L565.4 138.3L564.4 137.8Z" color="#4affb5"/><path d="M563.5 142.1L564.5 142.6L566.3 138.7L565.4 138.3Z" color="#7dff82"/><path d="M519.6 115.9L520.6 116.4L522.5 112.5L521.5 112.0Z" color="#008fff"/><path d="M520.6 116.4L521.5 116.9L523.5 112.9L522.5 112.5Z" color="#006bff"/><path d="M521.5 116.9L522.5 117.3L524.5 113.4L523.5 112.9Z" color="#0048ff"/><path d="M522.5 117.3L523.5 117.8L525.4 113.9L524.5 113.4Z" color="#0024ff"/><path d="M523.5 117.8L525.4 118.8L527.4 114.8L525.4 113.9Z" color="#0019ff"/><path d="M525.4 118.8L527.4 119.7L529.3 115.8L527.4 114.8Z" color="#0026ff"/><path d="M527.4 119.7L529.3 120.7L531.3 116.8L529.3 115.8Z" color="#0034ff"/><path d="M529.3 120.7L531.3 121.6L533.2 117.7L531.3 116.8Z" color="#0041ff"/><path d="M531.3 121.6L533.2 122.6L535.2 118.7L533.2 117.7Z" color="#004cff"/><path d="M533.2 122.6L535.2 123.5L537.1 119.6L535.2 118.7Z" color="#0053ff"/><path d="M535.2 123.5L537.1 124.5L539.0 120.6L537.1 119.6Z" color="#005bff"/><path d="M537.1 124.5L539.1 125.4L541.0 121.5L539.0 120.6Z" color="#0062ff"/><path d="M539.1 125.4L541.0 126.4L542.9 122.5L541.0 121.5Z" color="#006aff"/><path d="M541.0 126.4L543.0 127.3L544.9 123.4L542.9 122.5Z" color="#0071ff"/><path d="M543.0 127.3L544.9 128.3L546.8 124.4L544.9 123.4Z" color="#0079ff"/><path d="M544.9 128.3L546.9 129.2L548.8 125.4L546.8 124.4Z" color="#0081ff"/><path d="M546.9 129.2L548.8 130.2L550.7 126.3L548.8 125.4Z" color="#0089ff"/><path d="M548.8 130.2L550.8 131.1L552.7 127.3L550.7 126.3Z" color="#0091ff"/><path d="M550.8 131.1L552.7 132.1L554.6 128.2L552.7 127.3Z" color="#0098ff"/><path d="M552.7 132.1L554.7 133.0L556.6 129.2L554.6 128.2Z" color="#00a0ff"/><path d="M554.7 133.0L556.6 134.0L558.5 130.1L556.6 129.2Z" color="#00a8ff"/><path d="M556.6 134.0L558.5 134.9L560.4 131.1L558.5 130.1Z" color="#00b0ff"/><path d="M558.5 134.9L560.5 135.9L562.4 132.1L560.4 131.1Z" color="#00b7ff"/><path d="M560.5 135.9L562.4 136.8L564.3 133.0L562.4 132.1Z" color="#00bfff"/><path d="M562.4 136.8L563.4 137.3L565.3 133.5L564.3 133.0Z" color="#00dbff"/><path d="M563.4 137.3L564.4 137.8L566.3 134.0L565.3 133.5Z" color="#0dfff2"/><path d="M564.4 137.8L565.4 138.3L567.2 134.4L566.3 134.0Z" color="#3effc1"/><path d="M565.4 138.3L566.3 138.7L568.2 134.9L567.2 134.4Z" color="#6fff90"/><path d="M521.5 112.0L522.5 112.5L524.5 108.5L523.5 108.0Z" color="#0091ff"/><path d="M522.5 112.5L523.5 112.9L525.4 109.0L524.5 108.5Z" color="#006cff"/><path d="M523.5 112.9L524.5 113.4L526.4 109.5L525.4 109.0Z" color="#0048ff"/><path d="M524.5 113.4L525.4 113.9L527.4 110.0L526.4 109.5Z" color="#0023ff"/><path d="M525.4 113.9L527.4 114.8L529.3 110.9L527.4 110.0Z" color="#0017ff"/><path d="M527.4 114.8L529.3 115.8L531.3 111.9L529.3 110.9Z" color="#0024ff"/><path d="M529.3 115.8L531.3 116.8L533.2 112.9L531.3 111.9Z" color="#0031ff"/><path d="M531.3 116.8L533.2 117.7L535.2 113.8L533.2 112.9Z" color="#003fff"/><path d="M533.2 117.7L535.2 118.7L537.1 114.8L535.2 113.8Z" color="#0049ff"/><path d="M535.2 118.7L537.1 119.6L539.0 115.7L537.1 114.8Z" color="#0050ff"/><path d="M537.1 119.6L539.0 120.6L541.0 116.7L539.0 115.7Z" color="#0057ff"/><path d="M539.0 120.6L541.0 121.5L542.9 117.7L541.0 116.7Z" color="#005eff"/><path d="M541.0 121.5L542.9 122.5L544.9 118.6L542.9 117.7Z" color="#0066ff"/><path d="M542.9 122.5L544.9 123.4L546.8 119.6L544.9 118.6Z" color="#006dff"/><path d="M544.9 123.4L546.8 124.4L548.7 120.5L546.8 119.6Z" color="#0074ff"/><path d="M546.8 124.4L548.8 125.4L550.7 121.5L548.7 120.5Z" color="#007cff"/><path d="M548.8 125.4L550.7 126.3L552.6 122.5L550.7 121.5Z" color="#0083ff"/><path d="M550.7 126.3L552.7 127.3L554.6 123.4L552.6 122.5Z" color="#008bff"/><path d="M552.7 127.3L554.6 128.2L556.5 124.4L554.6 123.4Z" color="#0093ff"/><path d="M554.6 128.2L556.6 129.2L558.5 125.3L556.5 124.4Z" color="#009aff"/><path d="M556.6 129.2L558.5 130.1L560.4 126.3L558.5 125.3Z" color="#00a2ff"/><path d="M558.5 130.1L560.4 131.1L562.3 127.3L560.4 126.3Z" color="#00a9ff"/><path d="M560.4 131.1L562.4 132.1L564.3 128.2L562.3 127.3Z" color="#00b1ff"/><path d="M562.4 132.1L564.3 133.0L566.2 129.2L564.3 128.2Z" color="#00b8ff"/><path d="M564.3 133.0L565.3 133.5L567.2 129.7L566.2 129.2Z" color="#00d3ff"/><path d="M565.3 133.5L566.3 134.0L568.2 130.1L567.2 129.7Z" color="#00ffff"/><path d="M566.3 134.0L567.2 134.4L569.1 130.6L568.2 130.1Z" color="#2dffd2"/><path d="M567.2 134.4L568.2 134.9L570.1 131.1L569.1 130.6Z" color="#59ffa6"/><path d="M523.5 108.0L524.5 108.5L526.4 104.6L525.5 104.1Z" color="#0095ff"/><path d="M524.5 108.5L525.4 109.0L527.4 105.1L526.4 104.6Z" color="#006fff"/><path d="M525.4 109.0L526.4 109.5L528.4 105.6L527.4 105.1Z" color="#004aff"/><path d="M526.4 109.5L527.4 110.0L529.3 106.1L528.4 105.6Z" color="#0024ff"/><path d="M527.4 110.0L529.3 110.9L531.3 107.0L529.3 106.1Z" color="#0017ff"/><path d="M529.3 110.9L531.3 111.9L533.2 108.0L531.3 107.0Z" color="#0023ff"/><path d="M531.3 111.9L533.2 112.9L535.2 109.0L533.2 108.0Z" color="#0030ff"/><path d="M533.2 112.9L535.2 113.8L537.1 109.9L535.2 109.0Z" color="#003cff"/><path d="M535.2 113.8L537.1 114.8L539.0 110.9L537.1 109.9Z" color="#0047ff"/><path d="M537.1 114.8L539.0 115.7L541.0 111.8L539.0 110.9Z" color="#004eff"/><path d="M539.0 115.7L541.0 116.7L542.9 112.8L541.0 111.8Z" color="#0056ff"/><path d="M541.0 116.7L542.9 117.7L544.9 113.8L542.9 112.8Z" color="#005dff"/><path d="M542.9 117.7L544.9 118.6L546.8 114.7L544.9 113.8Z" color="#0065ff"/><path d="M544.9 118.6L546.8 119.6L548.7 115.7L546.8 114.7Z" color="#006dff"/><path d="M546.8 119.6L548.7 120.5L550.7 116.7L548.7 115.7Z" color="#0074ff"/><path d="M548.7 120.5L550.7 121.5L552.6 117.6L550.7 116.7Z" color="#007bff"/><path d="M550.7 121.5L552.6 122.5L554.6 118.6L552.6 117.6Z" color="#0081ff"/><path d="M552.6 122.5L554.6 123.4L556.5 119.6L554.6 118.6Z" color="#0088ff"/><path d="M554.6 123.4L556.5 124.4L558.4 120.5L556.5 119.6Z" color="#008fff"/><path d="M556.5 124.4L558.5 125.3L560.4 121.5L558.4 120.5Z" color="#0096ff"/><path d="M558.5 125.3L560.4 126.3L562.3 122.5L560.4 121.5Z" color="#009dff"/><path d="M560.4 126.3L562.3 127.3L564.3 123.4L562.3 122.5Z" color="#00a4ff"/><path d="M562.3 127.3L564.3 128.2L566.2 124.4L564.3 123.4Z" color="#00acff"/><path d="M564.3 128.2L566.2 129.2L568.1 125.4L566.2 124.4Z" color="#00b3ff"/><path d="M566.2 129.2L567.2 129.7L569.1 125.8L568.1 125.4Z" color="#00caff"/><path d="M567.2 129.7L568.2 130.1L570.1 126.3L569.1 125.8Z" color="#00f0ff"/><path d="M568.2 130.1L569.1 130.6L571.1 126.8L570.1 126.3Z" color="#16ffe9"/><path d="M569.1 130.6L570.1 131.1L572.0 127.3L571.1 126.8Z" color="#3cffc3"/><path d="M525.5 104.1L526.4 104.6L528.4 100.7L527.4 100.2Z" color="#0099ff"/><path d="M526.4 104.6L527.4 105.1L529.4 101.2L528.4 100.7Z" color="#0072ff"/><path d="M527.4 105.1L528.4 105.6L530.3 101.7L529.4 101.2Z" color="#004bff"/><path d="M528.4 105.6L529.3 106.1L531.3 102.2L530.3 101.7Z" color="#0024ff"/><path d="M529.3 106.1L531.3 107.0L533.2 103.1L531.3 102.2Z" color="#0016ff"/><path d="M531.3 107.0L533.2 108.0L535.2 104.1L533.2 103.1Z" color="#0022ff"/><path d="M533.2 108.0L535.2 109.0L537.1 105.1L535.2 104.1Z" color="#002eff"/><path d="M535.2 109.0L537.1 109.9L539.0 106.0L537.1 105.1Z" color="#003aff"/><path d="M537.1 109.9L539.0 110.9L541.0 107.0L539.0 106.0Z" color="#0044ff"/><path d="M539.0 110.9L541.0 111.8L542.9 108.0L541.0 107.0Z" color="#004cff"/><path d="M541.0 111.8L542.9 112.8L544.9 108.9L542.9 108.0Z" color="#0054ff"/><path d="M542.9 112.8L544.9 113.8L546.8 109.9L544.9 108.9Z" color="#005cff"/><path d="M544.9 113.8L546.8 114.7L548.7 110.9L546.8 109.9Z" color="#0064ff"/><path d="M546.8 114.7L548.7 115.7L550.7 111.8L548.7 110.9Z" color="#006cff"/><path d="M548.7 115.7L550.7 116.7L552.6 112.8L550.7 111.8Z" color="#0073ff"/><path d="M550.7 116.7L552.6 117.6L554.6 113.8L552.6 112.8Z" color="#0079ff"/><path d="M552.6 117.6L554.6 118.6L556.5 114.7L554.6 113.8Z" color="#007fff"/><path d="M554.6 118.6L556.5 119.6L558.4 115.7L556.5 114.7Z" color="#0085ff"/><path d="M556.5 119.6L558.4 120.5L560.4 116.7L558.4 115.7Z" color="#008bff"/><path d="M558.4 120.5L560.4 121.5L562.3 117.7L560.4 116.7Z" color="#0091ff"/><path d="M560.4 121.5L562.3 122.5L564.3 118.6L562.3 117.7Z" color="#0098ff"/><path d="M562.3 122.5L564.3 123.4L566.2 119.6L564.3 118.6Z" color="#009fff"/><path d="M564.3 123.4L566.2 124.4L568.1 120.6L566.2 119.6Z" color="#00a7ff"/><path d="M566.2 124.4L568.1 125.4L570.1 121.5L568.1 120.6Z" color="#00aeff"/><path d="M568.1 125.4L569.1 125.8L571.0 122.0L570.1 121.5Z" color="#00c2ff"/><path d="M569.1 125.8L570.1 126.3L572.0 122.5L571.0 122.0Z" color="#00e1ff"/><path d="M570.1 126.3L571.1 126.8L573.0 123.0L572.0 122.5Z" color="#01fffe"/><path d="M571.1 126.8L572.0 127.3L573.9 123.5L573.0 123.0Z" color="#20ffdf"/><path d="M527.4 100.2L528.4 100.7L530.4 96.8L529.4 96.3Z" color="#009cff"/><path d="M528.4 100.7L529.4 101.2L531.3 97.3L530.4 96.8Z" color="#0073ff"/><path d="M529.4 101.2L530.3 101.7L532.3 97.8L531.3 97.3Z" color="#004aff"/><path d="M530.3 101.7L531.3 102.2L533.3 98.3L532.3 97.8Z" color="#0021ff"/><path d="M531.3 102.2L533.2 103.1L535.2 99.2L533.3 98.3Z" color="#0013ff"/><path d="M533.2 103.1L535.2 104.1L537.1 100.2L535.2 99.2Z" color="#0020ff"/><path d="M535.2 104.1L537.1 105.1L539.1 101.2L537.1 100.2Z" color="#002dff"/><path d="M537.1 105.1L539.0 106.0L541.0 102.1L539.1 101.2Z" color="#003aff"/><path d="M539.0 106.0L541.0 107.0L542.9 103.1L541.0 102.1Z" color="#0044ff"/><path d="M541.0 107.0L542.9 108.0L544.9 104.1L542.9 103.1Z" color="#004bff"/><path d="M542.9 108.0L544.9 108.9L546.8 105.1L544.9 104.1Z" color="#0053ff"/><path d="M544.9 108.9L546.8 109.9L548.8 106.0L546.8 105.1Z" color="#005aff"/><path d="M546.8 109.9L548.7 110.9L550.7 107.0L548.8 106.0Z" color="#0061ff"/><path d="M548.7 110.9L550.7 111.8L552.6 108.0L550.7 107.0Z" color="#0069ff"/><path d="M550.7 111.8L552.6 112.8L554.6 109.0L552.6 108.0Z" color="#006fff"/><path d="M552.6 112.8L554.6 113.8L556.5 109.9L554.6 109.0Z" color="#0075ff"/><path d="M554.6 113.8L556.5 114.7L558.4 110.9L556.5 109.9Z" color="#007bff"/><path d="M556.5 114.7L558.4 115.7L560.4 111.9L558.4 110.9Z" color="#0081ff"/><path d="M558.4 115.7L560.4 116.7L562.3 112.8L560.4 111.9Z" color="#0087ff"/><path d="M560.4 116.7L562.3 117.7L564.2 113.8L562.3 112.8Z" color="#008dff"/><path d="M562.3 117.7L564.3 118.6L566.2 114.8L564.2 113.8Z" color="#0094ff"/><path d="M564.3 118.6L566.2 119.6L568.1 115.8L566.2 114.8Z" color="#009bff"/><path d="M566.2 119.6L568.1 120.6L570.1 116.7L568.1 115.8Z" color="#00a2ff"/><path d="M568.1 120.6L570.1 121.5L572.0 117.7L570.1 116.7Z" color="#00a9ff"/><path d="M570.1 121.5L571.0 122.0L573.0 118.2L572.0 117.7Z" color="#00bbff"/><path d="M571.0 122.0L572.0 122.5L573.9 118.7L573.0 118.2Z" color="#00d8ff"/><path d="M572.0 122.5L573.0 123.0L574.9 119.2L573.9 118.7Z" color="#00f5ff"/><path d="M573.0 123.0L573.9 123.5L575.9 119.6L574.9 119.2Z" color="#13ffec"/><path d="M529.4 96.3L530.4 96.8L532.3 92.9L531.4 92.4Z" color="#009fff"/><path d="M530.4 96.8L531.3 97.3L533.3 93.4L532.3 92.9Z" color="#0074ff"/><path d="M531.3 97.3L532.3 97.8L534.3 93.9L533.3 93.4Z" color="#0049ff"/><path d="M532.3 97.8L533.3 98.3L535.2 94.4L534.3 93.9Z" color="#001eff"/><path d="M533.3 98.3L535.2 99.2L537.2 95.3L535.2 94.4Z" color="#0010ff"/><path d="M535.2 99.2L537.1 100.2L539.1 96.3L537.2 95.3Z" color="#001eff"/><path d="M537.1 100.2L539.1 101.2L541.0 97.3L539.1 96.3Z" color="#002cff"/><path d="M539.1 101.2L541.0 102.1L543.0 98.3L541.0 97.3Z" color="#003aff"/><path d="M541.0 102.1L542.9 103.1L544.9 99.2L543.0 98.3Z" color="#0044ff"/><path d="M542.9 103.1L544.9 104.1L546.8 100.2L544.9 99.2Z" color="#004bff"/><path d="M544.9 104.1L546.8 105.1L548.8 101.2L546.8 100.2Z" color="#0051ff"/><path d="M546.8 105.1L548.8 106.0L550.7 102.2L548.8 101.2Z" color="#0058ff"/><path d="M548.8 106.0L550.7 107.0L552.6 103.1L550.7 102.2Z" color="#005fff"/><path d="M550.7 107.0L552.6 108.0L554.6 104.1L552.6 103.1Z" color="#0065ff"/><path d="M552.6 108.0L554.6 109.0L556.5 105.1L554.6 104.1Z" color="#006cff"/><path d="M554.6 109.0L556.5 109.9L558.5 106.1L556.5 105.1Z" color="#0072ff"/><path d="M556.5 109.9L558.4 110.9L560.4 107.1L558.5 106.1Z" color="#0078ff"/><path d="M558.4 110.9L560.4 111.9L562.3 108.0L560.4 107.1Z" color="#007eff"/><path d="M560.4 111.9L562.3 112.8L564.3 109.0L562.3 108.0Z" color="#0084ff"/><path d="M562.3 112.8L564.2 113.8L566.2 110.0L564.3 109.0Z" color="#008aff"/><path d="M564.2 113.8L566.2 114.8L568.1 111.0L566.2 110.0Z" color="#0090ff"/><path d="M566.2 114.8L568.1 115.8L570.1 111.9L568.1 111.0Z" color="#0096ff"/><path d="M568.1 115.8L570.1 116.7L572.0 112.9L570.1 111.9Z" color="#009dff"/><path d="M570.1 116.7L572.0 117.7L573.9 113.9L572.0 112.9Z" color="#00a3ff"/><path d="M572.0 117.7L573.0 118.2L574.9 114.4L573.9 113.9Z" color="#00b4ff"/><path d="M573.0 118.2L573.9 118.7L575.9 114.9L574.9 114.4Z" color="#00cfff"/><path d="M573.9 118.7L574.9 119.2L576.8 115.3L575.9 114.9Z" color="#00e9ff"/><path d="M574.9 119.2L575.9 119.6L577.8 115.8L576.8 115.3Z" color="#05fffa"/><path d="M531.4 92.4L532.3 92.9L534.3 89.0L533.3 88.5Z" color="#00a2ff"/><path d="M532.3 92.9L533.3 93.4L535.3 89.5L534.3 89.0Z" color="#0075ff"/><path d="M533.3 93.4L534.3 93.9L536.2 90.0L535.3 89.5Z" color="#0048ff"/><path d="M534.3 93.9L535.2 94.4L537.2 90.5L536.2 90.0Z" color="#001cff"/><path d="M535.2 94.4L537.2 95.3L539.1 91.5L537.2 90.5Z" color="#000cff"/><path d="M537.2 95.3L539.1 96.3L541.1 92.4L539.1 91.5Z" color="#001bff"/><path d="M539.1 96.3L541.0 97.3L543.0 93.4L541.1 92.4Z" color="#002aff"/><path d="M541.0 97.3L543.0 98.3L544.9 94.4L543.0 93.4Z" color="#0039ff"/><path d="M543.0 98.3L544.9 99.2L546.9 95.4L544.9 94.4Z" color="#0044ff"/><path d="M544.9 99.2L546.8 100.2L548.8 96.4L546.9 95.4Z" color="#004aff"/><path d="M546.8 100.2L548.8 101.2L550.7 97.3L548.8 96.4Z" color="#0050ff"/><path d="M548.8 101.2L550.7 102.2L552.7 98.3L550.7 97.3Z" color="#0056ff"/><path d="M550.7 102.2L552.6 103.1L554.6 99.3L552.7 98.3Z" color="#005cff"/><path d="M552.6 103.1L554.6 104.1L556.5 100.3L554.6 99.3Z" color="#0062ff"/><path d="M554.6 104.1L556.5 105.1L558.5 101.2L556.5 100.3Z" color="#0068ff"/><path d="M556.5 105.1L558.5 106.1L560.4 102.2L558.5 101.2Z" color="#006eff"/><path d="M558.5 106.1L560.4 107.1L562.3 103.2L560.4 102.2Z" color="#0074ff"/><path d="M560.4 107.1L562.3 108.0L564.3 104.2L562.3 103.2Z" color="#007aff"/><path d="M562.3 108.0L564.3 109.0L566.2 105.2L564.3 104.2Z" color="#0080ff"/><path d="M564.3 109.0L566.2 110.0L568.1 106.1L566.2 105.2Z" color="#0086ff"/><path d="M566.2 110.0L568.1 111.0L570.1 107.1L568.1 106.1Z" color="#008cff"/><path d="M568.1 111.0L570.1 111.9L572.0 108.1L570.1 107.1Z" color="#0092ff"/><path d="M570.1 111.9L572.0 112.9L573.9 109.1L572.0 108.1Z" color="#0098ff"/><path d="M572.0 112.9L573.9 113.9L575.9 110.1L573.9 109.1Z" color="#009eff"/><path d="M573.9 113.9L574.9 114.4L576.8 110.5L575.9 110.1Z" color="#00adff"/><path d="M574.9 114.4L575.9 114.9L577.8 111.0L576.8 110.5Z" color="#00c6ff"/><path d="M575.9 114.9L576.8 115.3L578.8 111.5L577.8 111.0Z" color="#00deff"/><path d="M576.8 115.3L577.8 115.8L579.7 112.0L578.8 111.5Z" color="#00f6ff"/><path d="M533.3 88.5L534.3 89.0L536.3 85.1L535.3 84.6Z" color="#00a6ff"/><path d="M534.3 89.0L535.3 89.5L537.3 85.6L536.3 85.1Z" color="#0077ff"/><path d="M535.3 89.5L536.2 90.0L538.2 86.1L537.3 85.6Z" color="#0048ff"/><path d="M536.2 90.0L537.2 90.5L539.2 86.6L538.2 86.1Z" color="#0019ff"/><path d="M537.2 90.5L539.1 91.5L541.1 87.6L539.2 86.6Z" color="#0008ff"/><path d="M539.1 91.5L541.1 92.4L543.1 88.6L541.1 87.6Z" color="#0014ff"/><path d="M541.1 92.4L543.0 93.4L545.0 89.5L543.1 88.6Z" color="#0021ff"/><path d="M543.0 93.4L544.9 94.4L546.9 90.5L545.0 89.5Z" color="#002eff"/><path d="M544.9 94.4L546.9 95.4L548.9 91.5L546.9 90.5Z" color="#0037ff"/><path d="M546.9 95.4L548.8 96.4L550.8 92.5L548.9 91.5Z" color="#003cff"/><path d="M548.8 96.4L550.7 97.3L552.7 93.5L550.8 92.5Z" color="#0042ff"/><path d="M550.7 97.3L552.7 98.3L554.6 94.5L552.7 93.5Z" color="#0047ff"/><path d="M552.7 98.3L554.6 99.3L556.6 95.4L554.6 94.5Z" color="#004cff"/><path d="M554.6 99.3L556.5 100.3L558.5 96.4L556.6 95.4Z" color="#0051ff"/><path d="M556.5 100.3L558.5 101.2L560.4 97.4L558.5 96.4Z" color="#0056ff"/><path d="M558.5 101.2L560.4 102.2L562.4 98.4L560.4 97.4Z" color="#005cff"/><path d="M560.4 102.2L562.3 103.2L564.3 99.4L562.4 98.4Z" color="#0061ff"/><path d="M562.3 103.2L564.3 104.2L566.2 100.3L564.3 99.4Z" color="#0067ff"/><path d="M564.3 104.2L566.2 105.2L568.2 101.3L566.2 100.3Z" color="#006cff"/><path d="M566.2 105.2L568.1 106.1L570.1 102.3L568.2 101.3Z" color="#0072ff"/><path d="M568.1 106.1L570.1 107.1L572.0 103.3L570.1 102.3Z" color="#0078ff"/><path d="M570.1 107.1L572.0 108.1L574.0 104.3L572.0 103.3Z" color="#007fff"/><path d="M572.0 108.1L573.9 109.1L575.9 105.3L574.0 104.3Z" color="#0085ff"/><path d="M573.9 109.1L575.9 110.1L577.8 106.2L575.9 105.3Z" color="#008cff"/><path d="M575.9 110.1L576.8 110.5L578.8 106.7L577.8 106.2Z" color="#009eff"/><path d="M576.8 110.5L577.8 111.0L579.8 107.2L578.8 106.7Z" color="#00b9ff"/><path d="M577.8 111.0L578.8 111.5L580.7 107.7L579.8 107.2Z" color="#00d4ff"/><path d="M578.8 111.5L579.7 112.0L581.7 108.2L580.7 107.7Z" color="#00efff"/><path d="M535.3 84.6L536.3 85.1L538.3 81.3L537.3 80.8Z" color="#00abff"/><path d="M536.3 85.1L537.3 85.6L539.2 81.7L538.3 81.3Z" color="#0079ff"/><path d="M537.3 85.6L538.2 86.1L540.2 82.2L539.2 81.7Z" color="#0048ff"/><path d="M538.2 86.1L539.2 86.6L541.2 82.7L540.2 82.2Z" color="#0016ff"/><path d="M539.2 86.6L541.1 87.6L543.1 83.7L541.2 82.7Z" color="#0003ff"/><path d="M541.1 87.6L543.1 88.6L545.0 84.7L543.1 83.7Z" color="#000dff"/><path d="M543.1 88.6L545.0 89.5L547.0 85.7L545.0 84.7Z" color="#0018ff"/><path d="M545.0 89.5L546.9 90.5L548.9 86.7L547.0 85.7Z" color="#0022ff"/><path d="M546.9 90.5L548.9 91.5L550.8 87.7L548.9 86.7Z" color="#002aff"/><path d="M548.9 91.5L550.8 92.5L552.8 88.6L550.8 87.7Z" color="#002eff"/><path d="M550.8 92.5L552.7 93.5L554.7 89.6L552.8 88.6Z" color="#0032ff"/><path d="M552.7 93.5L554.6 94.5L556.6 90.6L554.7 89.6Z" color="#0036ff"/><path d="M554.6 94.5L556.6 95.4L558.6 91.6L556.6 90.6Z" color="#003bff"/><path d="M556.6 95.4L558.5 96.4L560.5 92.6L558.6 91.6Z" color="#003fff"/><path d="M558.5 96.4L560.4 97.4L562.4 93.6L560.5 92.6Z" color="#0043ff"/><path d="M560.4 97.4L562.4 98.4L564.3 94.5L562.4 93.6Z" color="#0048ff"/><path d="M562.4 98.4L564.3 99.4L566.3 95.5L564.3 94.5Z" color="#004dff"/><path d="M564.3 99.4L566.2 100.3L568.2 96.5L566.3 95.5Z" color="#0052ff"/><path d="M566.2 100.3L568.2 101.3L570.1 97.5L568.2 96.5Z" color="#0057ff"/><path d="M568.2 101.3L570.1 102.3L572.1 98.5L570.1 97.5Z" color="#005bff"/><path d="M570.1 102.3L572.0 103.3L574.0 99.5L572.1 98.5Z" color="#0062ff"/><path d="M572.0 103.3L574.0 104.3L575.9 100.4L574.0 99.5Z" color="#0069ff"/><path d="M574.0 104.3L575.9 105.3L577.9 101.4L575.9 100.4Z" color="#0071ff"/><path d="M575.9 105.3L577.8 106.2L579.8 102.4L577.9 101.4Z" color="#0079ff"/><path d="M577.8 106.2L578.8 106.7L580.8 102.9L579.8 102.4Z" color="#008dff"/><path d="M578.8 106.7L579.8 107.2L581.7 103.4L580.8 102.9Z" color="#00acff"/><path d="M579.8 107.2L580.7 107.7L582.7 103.9L581.7 103.4Z" color="#00cbff"/><path d="M580.7 107.7L581.7 108.2L583.7 104.4L582.7 103.9Z" color="#00eaff"/><path d="M537.3 80.8L538.3 81.3L540.3 77.4L539.3 76.9Z" color="#00afff"/><path d="M538.3 81.3L539.2 81.7L541.2 77.9L540.3 77.4Z" color="#007bff"/><path d="M539.2 81.7L540.2 82.2L542.2 78.4L541.2 77.9Z" color="#0048ff"/><path d="M540.2 82.2L541.2 82.7L543.2 78.9L542.2 78.4Z" color="#0014ff"/><path d="M541.2 82.7L543.1 83.7L545.1 79.8L543.2 78.9Z" color="#0000fd"/><path d="M543.1 83.7L545.0 84.7L547.0 80.8L545.1 79.8Z" color="#0006ff"/><path d="M545.0 84.7L547.0 85.7L549.0 81.8L547.0 80.8Z" color="#000eff"/><path d="M547.0 85.7L548.9 86.7L550.9 82.8L549.0 81.8Z" color="#0016ff"/><path d="M548.9 86.7L550.8 87.7L552.8 83.8L550.9 82.8Z" color="#001cff"/><path d="M550.8 87.7L552.8 88.6L554.7 84.8L552.8 83.8Z" color="#001fff"/><path d="M552.8 88.6L554.7 89.6L556.7 85.8L554.7 84.8Z" color="#0023ff"/><path d="M554.7 89.6L556.6 90.6L558.6 86.8L556.7 85.8Z" color="#0026ff"/><path d="M556.6 90.6L558.6 91.6L560.5 87.7L558.6 86.8Z" color="#0029ff"/><path d="M558.6 91.6L560.5 92.6L562.5 88.7L560.5 87.7Z" color="#002cff"/><path d="M560.5 92.6L562.4 93.6L564.4 89.7L562.5 88.7Z" color="#0030ff"/><path d="M562.4 93.6L564.3 94.5L566.3 90.7L564.4 89.7Z" color="#0034ff"/><path d="M564.3 94.5L566.3 95.5L568.3 91.7L566.3 90.7Z" color="#0039ff"/><path d="M566.3 95.5L568.2 96.5L570.2 92.7L568.3 91.7Z" color="#003dff"/><path d="M568.2 96.5L570.1 97.5L572.1 93.7L570.2 92.7Z" color="#0041ff"/><path d="M570.1 97.5L572.1 98.5L574.0 94.6L572.1 93.7Z" color="#0045ff"/><path d="M572.1 98.5L574.0 99.5L576.0 95.6L574.0 94.6Z" color="#004cff"/><path d="M574.0 99.5L575.9 100.4L577.9 96.6L576.0 95.6Z" color="#0054ff"/><path d="M575.9 100.4L577.9 101.4L579.8 97.6L577.9 96.6Z" color="#005dff"/><path d="M577.9 101.4L579.8 102.4L581.8 98.6L579.8 97.6Z" color="#0066ff"/><path d="M579.8 102.4L580.8 102.9L582.7 99.1L581.8 98.6Z" color="#007cff"/><path d="M580.8 102.9L581.7 103.4L583.7 99.6L582.7 99.1Z" color="#009fff"/><path d="M581.7 103.4L582.7 103.9L584.7 100.1L583.7 99.6Z" color="#00c1ff"/><path d="M582.7 103.9L583.7 104.4L585.6 100.6L584.7 100.1Z" color="#00e4ff"/><path d="M539.3 76.9L540.3 77.4L542.3 73.5L541.3 73.0Z" color="#00b3ff"/><path d="M540.3 77.4L541.2 77.9L543.2 74.0L542.3 73.5Z" color="#007cff"/><path d="M541.2 77.9L542.2 78.4L544.2 74.5L543.2 74.0Z" color="#0045ff"/><path d="M542.2 78.4L543.2 78.9L545.2 75.0L544.2 74.5Z" color="#000eff"/><path d="M543.2 78.9L545.1 79.8L547.1 76.0L545.2 75.0Z" color="#0000f4"/><path d="M545.1 79.8L547.0 80.8L549.0 77.0L547.1 76.0Z" color="#0000fa"/><path d="M547.0 80.8L549.0 81.8L550.9 78.0L549.0 77.0Z" color="#0001ff"/><path d="M549.0 81.8L550.9 82.8L552.9 79.0L550.9 78.0Z" color="#0006ff"/><path d="M550.9 82.8L552.8 83.8L554.8 79.9L552.9 79.0Z" color="#000bff"/><path d="M552.8 83.8L554.7 84.8L556.7 80.9L554.8 79.9Z" color="#000dff"/><path d="M554.7 84.8L556.7 85.8L558.7 81.9L556.7 80.9Z" color="#0010ff"/><path d="M556.7 85.8L558.6 86.8L560.6 82.9L558.7 81.9Z" color="#0012ff"/><path d="M558.6 86.8L560.5 87.7L562.5 83.9L560.6 82.9Z" color="#0015ff"/><path d="M560.5 87.7L562.5 88.7L564.4 84.9L562.5 83.9Z" color="#0017ff"/><path d="M562.5 88.7L564.4 89.7L566.4 85.9L564.4 84.9Z" color="#001bff"/><path d="M564.4 89.7L566.3 90.7L568.3 86.9L566.4 85.9Z" color="#001eff"/><path d="M566.3 90.7L568.3 91.7L570.2 87.8L568.3 86.9Z" color="#0022ff"/><path d="M568.3 91.7L570.2 92.7L572.2 88.8L570.2 87.8Z" color="#0025ff"/><path d="M570.2 92.7L572.1 93.7L574.1 89.8L572.2 88.8Z" color="#0029ff"/><path d="M572.1 93.7L574.0 94.6L576.0 90.8L574.1 89.8Z" color="#002cff"/><path d="M574.0 94.6L576.0 95.6L577.9 91.8L576.0 90.8Z" color="#0034ff"/><path d="M576.0 95.6L577.9 96.6L579.9 92.8L577.9 91.8Z" color="#003fff"/><path d="M577.9 96.6L579.8 97.6L581.8 93.8L579.9 92.8Z" color="#004aff"/><path d="M579.8 97.6L581.8 98.6L583.7 94.8L581.8 93.8Z" color="#0055ff"/><path d="M581.8 98.6L582.7 99.1L584.7 95.3L583.7 94.8Z" color="#006eff"/><path d="M582.7 99.1L583.7 99.6L585.7 95.7L584.7 95.3Z" color="#0094ff"/><path d="M583.7 99.6L584.7 100.1L586.6 96.2L585.7 95.7Z" color="#00bbff"/><path d="M584.7 100.1L585.6 100.6L587.6 96.7L586.6 96.2Z" color="#00e1ff"/><path d="M541.3 73.0L542.3 73.5L544.3 69.7L543.3 69.2Z" color="#00b7ff"/><path d="M542.3 73.5L543.2 74.0L545.2 70.1L544.3 69.7Z" color="#007cff"/><path d="M543.2 74.0L544.2 74.5L546.2 70.6L545.2 70.1Z" color="#0041ff"/><path d="M544.2 74.5L545.2 75.0L547.2 71.1L546.2 70.6Z" color="#0006ff"/><path d="M545.2 75.0L547.1 76.0L549.1 72.1L547.2 71.1Z" color="#0000e9"/><path d="M547.1 76.0L549.0 77.0L551.0 73.1L549.1 72.1Z" color="#0000ed"/><path d="M549.0 77.0L550.9 78.0L552.9 74.1L551.0 73.1Z" color="#0000f0"/><path d="M550.9 78.0L552.9 79.0L554.9 75.1L552.9 74.1Z" color="#0000f4"/><path d="M552.9 79.0L554.8 79.9L556.8 76.1L554.9 75.1Z" color="#0000f7"/><path d="M554.8 79.9L556.7 80.9L558.7 77.1L556.8 76.1Z" color="#0000f9"/><path d="M556.7 80.9L558.7 81.9L560.6 78.1L558.7 77.1Z" color="#0000fa"/><path d="M558.7 81.9L560.6 82.9L562.6 79.1L560.6 78.1Z" color="#0000fc"/><path d="M560.6 82.9L562.5 83.9L564.5 80.0L562.6 79.1Z" color="#0000fe"/><path d="M562.5 83.9L564.4 84.9L566.4 81.0L564.5 80.0Z" color="#0001ff"/><path d="M564.4 84.9L566.4 85.9L568.4 82.0L566.4 81.0Z" color="#0004ff"/><path d="M566.4 85.9L568.3 86.9L570.3 83.0L568.4 82.0Z" color="#0007ff"/><path d="M568.3 86.9L570.2 87.8L572.2 84.0L570.3 83.0Z" color="#000aff"/><path d="M570.2 87.8L572.2 88.8L574.1 85.0L572.2 84.0Z" color="#000dff"/><path d="M572.2 88.8L574.1 89.8L576.1 86.0L574.1 85.0Z" color="#000fff"/><path d="M574.1 89.8L576.0 90.8L578.0 87.0L576.1 86.0Z" color="#0012ff"/><path d="M576.0 90.8L577.9 91.8L579.9 88.0L578.0 87.0Z" color="#001bff"/><path d="M577.9 91.8L579.9 92.8L581.9 89.0L579.9 88.0Z" color="#0029ff"/><path d="M579.9 92.8L581.8 93.8L583.8 89.9L581.9 89.0Z" color="#0036ff"/><path d="M581.8 93.8L583.7 94.8L585.7 90.9L583.8 89.9Z" color="#0044ff"/><path d="M583.7 94.8L584.7 95.3L586.7 91.4L585.7 90.9Z" color="#0060ff"/><path d="M584.7 95.3L585.7 95.7L587.6 91.9L586.7 91.4Z" color="#008bff"/><path d="M585.7 95.7L586.6 96.2L588.6 92.4L587.6 91.9Z" color="#00b5ff"/><path d="M586.6 96.2L587.6 96.7L589.6 92.9L588.6 92.4Z" color="#00dfff"/><path d="M543.3 69.2L544.3 69.7L546.3 65.8L545.3 65.3Z" color="#00baff"/><path d="M544.3 69.7L545.2 70.1L547.2 66.3L546.3 65.8Z" color="#007cff"/><path d="M545.2 70.1L546.2 70.6L548.2 66.8L547.2 66.3Z" color="#003dff"/><path d="M546.2 70.6L547.2 71.1L549.1 67.3L548.2 66.8Z" color="#0000fe"/><path d="M547.2 71.1L549.1 72.1L551.1 68.3L549.1 67.3Z" color="#0000df"/><path d="M549.1 72.1L551.0 73.1L553.0 69.3L551.1 68.3Z" color="#0000e0"/><path d="M551.0 73.1L552.9 74.1L554.9 70.3L553.0 69.3Z" color="#0000e1"/><path d="M552.9 74.1L554.9 75.1L556.9 71.2L554.9 70.3Z" color="#0000e2"/><path d="M554.9 75.1L556.8 76.1L558.8 72.2L556.9 71.2Z" color="#0000e4"/><path d="M556.8 76.1L558.7 77.1L560.7 73.2L558.8 72.2Z" color="#0000e5"/><path d="M558.7 77.1L560.6 78.1L562.6 74.2L560.7 73.2Z" color="#0000e6"/><path d="M560.6 78.1L562.6 79.1L564.6 75.2L562.6 74.2Z" color="#0000e7"/><path d="M562.6 79.1L564.5 80.0L566.5 76.2L564.6 75.2Z" color="#0000e9"/><path d="M564.5 80.0L566.4 81.0L568.4 77.2L566.5 76.2Z" color="#0000ea"/><path d="M566.4 81.0L568.4 82.0L570.3 78.2L568.4 77.2Z" color="#0000ec"/><path d="M568.4 82.0L570.3 83.0L572.3 79.2L570.3 78.2Z" color="#0000ee"/><path d="M570.3 83.0L572.2 84.0L574.2 80.2L572.3 79.2Z" color="#0000f1"/><path d="M572.2 84.0L574.1 85.0L576.1 81.2L574.2 80.2Z" color="#0000f3"/><path d="M574.1 85.0L576.1 86.0L578.1 82.2L576.1 81.2Z" color="#0000f5"/><path d="M576.1 86.0L578.0 87.0L580.0 83.1L578.1 82.2Z" color="#0000f7"/><path d="M578.0 87.0L579.9 88.0L581.9 84.1L580.0 83.1Z" color="#0002ff"/><path d="M579.9 88.0L581.9 89.0L583.8 85.1L581.9 84.1Z" color="#0013ff"/><path d="M581.9 89.0L583.8 89.9L585.8 86.1L583.8 85.1Z" color="#0023ff"/><path d="M583.8 89.9L585.7 90.9L587.7 87.1L585.8 86.1Z" color="#0034ff"/><path d="M585.7 90.9L586.7 91.4L588.7 87.6L587.7 87.1Z" color="#0053ff"/><path d="M586.7 91.4L587.6 91.9L589.6 88.1L588.7 87.6Z" color="#0081ff"/><path d="M587.6 91.9L588.6 92.4L590.6 88.6L589.6 88.1Z" color="#00afff"/><path d="M588.6 92.4L589.6 92.9L591.5 89.1L590.6 88.6Z" color="#00ddff"/><path d="M545.3 65.3L546.3 65.8L548.3 61.9L547.3 61.4Z" color="#00bdff"/><path d="M546.3 65.8L547.2 66.3L549.2 62.4L548.3 61.9Z" color="#007cff"/><path d="M547.2 66.3L548.2 66.8L550.2 62.9L549.2 62.4Z" color="#003bff"/><path d="M548.2 66.8L549.1 67.3L551.1 63.4L550.2 62.9Z" color="#0000f8"/><path d="M549.1 67.3L551.1 68.3L553.1 64.4L551.1 63.4Z" color="#0000d7"/><path d="M551.1 68.3L553.0 69.3L555.0 65.4L553.1 64.4Z" color="#0000d5"/><path d="M553.0 69.3L554.9 70.3L556.9 66.4L555.0 65.4Z" color="#0000d4"/><path d="M554.9 70.3L556.9 71.2L558.9 67.4L556.9 66.4Z" color="#0000d3"/><path d="M556.9 71.2L558.8 72.2L560.8 68.4L558.9 67.4Z" color="#0000d2"/><path d="M558.8 72.2L560.7 73.2L562.7 69.4L560.8 68.4Z" color="#0000d3"/><path d="M560.7 73.2L562.6 74.2L564.6 70.4L562.7 69.4Z" color="#0000d4"/><path d="M562.6 74.2L564.6 75.2L566.6 71.4L564.6 70.4Z" color="#0000d5"/><path d="M564.6 75.2L566.5 76.2L568.5 72.4L566.6 71.4Z" color="#0000d5"/><path d="M566.5 76.2L568.4 77.2L570.4 73.4L568.5 72.4Z" color="#0000d6"/><path d="M568.4 77.2L570.3 78.2L572.3 74.4L570.4 73.4Z" color="#0000d8"/><path d="M570.3 78.2L572.3 79.2L574.3 75.3L572.3 74.4Z" color="#0000da"/><path d="M572.3 79.2L574.2 80.2L576.2 76.3L574.3 75.3Z" color="#0000dc"/><path d="M574.2 80.2L576.1 81.2L578.1 77.3L576.2 76.3Z" color="#0000de"/><path d="M576.1 81.2L578.1 82.2L580.0 78.3L578.1 77.3Z" color="#0000e0"/><path d="M578.1 82.2L580.0 83.1L582.0 79.3L580.0 78.3Z" color="#0000e2"/><path d="M580.0 83.1L581.9 84.1L583.9 80.3L582.0 79.3Z" color="#0000ec"/><path d="M581.9 84.1L583.8 85.1L585.8 81.3L583.9 80.3Z" color="#0000ff"/><path d="M583.8 85.1L585.8 86.1L587.7 82.3L585.8 81.3Z" color="#0012ff"/><path d="M585.8 86.1L587.7 87.1L589.7 83.3L587.7 82.3Z" color="#0025ff"/><path d="M587.7 87.1L588.7 87.6L590.6 83.8L589.7 83.3Z" color="#0047ff"/><path d="M588.7 87.6L589.6 88.1L591.6 84.3L590.6 83.8Z" color="#0076ff"/><path d="M589.6 88.1L590.6 88.6L592.6 84.8L591.6 84.3Z" color="#00a6ff"/><path d="M590.6 88.6L591.5 89.1L593.5 85.3L592.6 84.8Z" color="#00d5ff"/><path d="M547.3 61.4L548.3 61.9L550.3 58.1L549.3 57.6Z" color="#00bfff"/><path d="M548.3 61.9L549.2 62.4L551.2 58.6L550.3 58.1Z" color="#007cff"/><path d="M549.2 62.4L550.2 62.9L552.2 59.1L551.2 58.6Z" color="#0039ff"/><path d="M550.2 62.9L551.1 63.4L553.1 59.6L552.2 59.1Z" color="#0000f5"/><path d="M551.1 63.4L553.1 64.4L555.1 60.6L553.1 59.6Z" color="#0000d1"/><path d="M553.1 64.4L555.0 65.4L557.0 61.6L555.1 60.6Z" color="#0000cd"/><path d="M555.0 65.4L556.9 66.4L558.9 62.6L557.0 61.6Z" color="#0000c9"/><path d="M556.9 66.4L558.9 67.4L560.9 63.6L558.9 62.6Z" color="#0000c5"/><path d="M558.9 67.4L560.8 68.4L562.8 64.6L560.9 63.6Z" color="#0000c3"/><path d="M560.8 68.4L562.7 69.4L564.7 65.5L562.8 64.6Z" color="#0000c3"/><path d="M562.7 69.4L564.6 70.4L566.6 66.5L564.7 65.5Z" color="#0000c4"/><path d="M564.6 70.4L566.6 71.4L568.6 67.5L566.6 66.5Z" color="#0000c4"/><path d="M566.6 71.4L568.5 72.4L570.5 68.5L568.6 67.5Z" color="#0000c4"/><path d="M568.5 72.4L570.4 73.4L572.4 69.5L570.5 68.5Z" color="#0000c4"/><path d="M570.4 73.4L572.3 74.4L574.3 70.5L572.4 69.5Z" color="#0000c6"/><path d="M572.3 74.4L574.3 75.3L576.3 71.5L574.3 70.5Z" color="#0000c8"/><path d="M574.3 75.3L576.2 76.3L578.2 72.5L576.3 71.5Z" color="#0000ca"/><path d="M576.2 76.3L578.1 77.3L580.1 73.5L578.2 72.5Z" color="#0000cc"/><path d="M578.1 77.3L580.0 78.3L582.0 74.5L580.1 73.5Z" color="#0000ce"/><path d="M580.0 78.3L582.0 79.3L584.0 75.5L582.0 74.5Z" color="#0000d0"/><path d="M582.0 79.3L583.9 80.3L585.9 76.5L584.0 75.5Z" color="#0000db"/><path d="M583.9 80.3L585.8 81.3L587.8 77.5L585.9 76.5Z" color="#0000ef"/><path d="M585.8 81.3L587.7 82.3L589.7 78.5L587.8 77.5Z" color="#0004ff"/><path d="M587.7 82.3L589.7 83.3L591.7 79.5L589.7 78.5Z" color="#0018ff"/><path d="M589.7 83.3L590.6 83.8L592.6 80.0L591.7 79.5Z" color="#003aff"/><path d="M590.6 83.8L591.6 84.3L593.6 80.5L592.6 80.0Z" color="#0069ff"/><path d="M591.6 84.3L592.6 84.8L594.5 81.0L593.6 80.5Z" color="#0098ff"/><path d="M592.6 84.8L593.5 85.3L595.5 81.4L594.5 81.0Z" color="#00c7ff"/><path d="M549.3 57.6L550.3 58.1L552.3 54.2L551.3 53.7Z" color="#00c1ff"/><path d="M550.3 58.1L551.2 58.6L553.2 54.7L552.3 54.2Z" color="#007cff"/><path d="M551.2 58.6L552.2 59.1L554.2 55.2L553.2 54.7Z" color="#0037ff"/><path d="M552.2 59.1L553.1 59.6L555.1 55.7L554.2 55.2Z" color="#0000f1"/><path d="M553.1 59.6L555.1 60.6L557.1 56.7L555.1 55.7Z" color="#0000cb"/><path d="M555.1 60.6L557.0 61.6L559.0 57.7L557.1 56.7Z" color="#0000c4"/><path d="M557.0 61.6L558.9 62.6L560.9 58.7L559.0 57.7Z" color="#0000be"/><path d="M558.9 62.6L560.9 63.6L562.8 59.7L560.9 58.7Z" color="#0000b7"/><path d="M560.9 63.6L562.8 64.6L564.8 60.7L562.8 59.7Z" color="#0000b4"/><path d="M562.8 64.6L564.7 65.5L566.7 61.7L564.8 60.7Z" color="#0000b4"/><path d="M564.7 65.5L566.6 66.5L568.6 62.7L566.7 61.7Z" color="#0000b3"/><path d="M566.6 66.5L568.6 67.5L570.5 63.7L568.6 62.7Z" color="#0000b3"/><path d="M568.6 67.5L570.5 68.5L572.5 64.7L570.5 63.7Z" color="#0000b3"/><path d="M570.5 68.5L572.4 69.5L574.4 65.7L572.5 64.7Z" color="#0000b3"/><path d="M572.4 69.5L574.3 70.5L576.3 66.7L574.4 65.7Z" color="#0000b4"/><path d="M574.3 70.5L576.3 71.5L578.3 67.7L576.3 66.7Z" color="#0000b6"/><path d="M576.3 71.5L578.2 72.5L580.2 68.7L578.3 67.7Z" color="#0000b8"/><path d="M578.2 72.5L580.1 73.5L582.1 69.7L580.2 68.7Z" color="#0000ba"/><path d="M580.1 73.5L582.0 74.5L584.0 70.7L582.1 69.7Z" color="#0000bc"/><path d="M582.0 74.5L584.0 75.5L586.0 71.7L584.0 70.7Z" color="#0000be"/><path d="M584.0 75.5L585.9 76.5L587.9 72.6L586.0 71.7Z" color="#0000c9"/><path d="M585.9 76.5L587.8 77.5L589.8 73.6L587.9 72.6Z" color="#0000df"/><path d="M587.8 77.5L589.7 78.5L591.7 74.6L589.8 73.6Z" color="#0000f5"/><path d="M589.7 78.5L591.7 79.5L593.7 75.6L591.7 74.6Z" color="#000cff"/><path d="M591.7 79.5L592.6 80.0L594.6 76.1L593.7 75.6Z" color="#002eff"/><path d="M592.6 80.0L593.6 80.5L595.6 76.6L594.6 76.1Z" color="#005cff"/><path d="M593.6 80.5L594.5 81.0L596.5 77.1L595.6 76.6Z" color="#008aff"/><path d="M594.5 81.0L595.5 81.4L597.5 77.6L596.5 77.1Z" color="#00b8ff"/><path d="M551.3 53.7L552.3 54.2L554.3 50.4L553.3 49.9Z" color="#00c4ff"/><path d="M552.3 54.2L553.2 54.7L555.2 50.9L554.3 50.4Z" color="#007dff"/><path d="M553.2 54.7L554.2 55.2L556.2 51.4L555.2 50.9Z" color="#0036ff"/><path d="M554.2 55.2L555.1 55.7L557.1 51.9L556.2 51.4Z" color="#0000ee"/><path d="M555.1 55.7L557.1 56.7L559.1 52.9L557.1 51.9Z" color="#0000c5"/><path d="M557.1 56.7L559.0 57.7L561.0 53.9L559.1 52.9Z" color="#0000bc"/><path d="M559.0 57.7L560.9 58.7L562.9 54.9L561.0 53.9Z" color="#0000b3"/><path d="M560.9 58.7L562.8 59.7L564.8 55.9L562.9 54.9Z" color="#0000aa"/><path d="M562.8 59.7L564.8 60.7L566.8 56.9L564.8 55.9Z" color="#0000a5"/><path d="M564.8 60.7L566.7 61.7L568.7 57.9L566.8 56.9Z" color="#0000a4"/><path d="M566.7 61.7L568.6 62.7L570.6 58.9L568.7 57.9Z" color="#0000a3"/><path d="M568.6 62.7L570.5 63.7L572.5 59.9L570.6 58.9Z" color="#0000a2"/><path d="M570.5 63.7L572.5 64.7L574.5 60.9L572.5 59.9Z" color="#0000a2"/><path d="M572.5 64.7L574.4 65.7L576.4 61.8L574.5 60.9Z" color="#0000a1"/><path d="M574.4 65.7L576.3 66.7L578.3 62.8L576.4 61.8Z" color="#0000a2"/><path d="M576.3 66.7L578.3 67.7L580.2 63.8L578.3 62.8Z" color="#0000a3"/><path d="M578.3 67.7L580.2 68.7L582.2 64.8L580.2 63.8Z" color="#0000a5"/><path d="M580.2 68.7L582.1 69.7L584.1 65.8L582.2 64.8Z" color="#0000a7"/><path d="M582.1 69.7L584.0 70.7L586.0 66.8L584.1 65.8Z" color="#0000aa"/><path d="M584.0 70.7L586.0 71.7L587.9 67.8L586.0 66.8Z" color="#0000ab"/><path d="M586.0 71.7L587.9 72.6L589.9 68.8L587.9 67.8Z" color="#0000b8"/><path d="M587.9 72.6L589.8 73.6L591.8 69.8L589.9 68.8Z" color="#0000cf"/><path d="M589.8 73.6L591.7 74.6L593.7 70.8L591.8 69.8Z" color="#0000e7"/><path d="M591.7 74.6L593.7 75.6L595.6 71.8L593.7 70.8Z" color="#0000fe"/><path d="M593.7 75.6L594.6 76.1L596.6 72.3L595.6 71.8Z" color="#0022ff"/><path d="M594.6 76.1L595.6 76.6L597.6 72.8L596.6 72.3Z" color="#004fff"/><path d="M595.6 76.6L596.5 77.1L598.5 73.3L597.6 72.8Z" color="#007cff"/><path d="M596.5 77.1L597.5 77.6L599.5 73.8L598.5 73.3Z" color="#00a9ff"/><path d="M553.3 49.9L554.3 50.4L556.3 46.6L555.3 46.1Z" color="#00c4ff"/><path d="M554.3 50.4L555.2 50.9L557.2 47.1L556.3 46.6Z" color="#007cff"/><path d="M555.2 50.9L556.2 51.4L558.2 47.6L557.2 47.1Z" color="#0034ff"/><path d="M556.2 51.4L557.1 51.9L559.2 48.1L558.2 47.6Z" color="#0000eb"/><path d="M557.1 51.9L559.1 52.9L561.1 49.1L559.2 48.1Z" color="#0000c1"/><path d="M559.1 52.9L561.0 53.9L563.0 50.0L561.1 49.1Z" color="#0000b7"/><path d="M561.0 53.9L562.9 54.9L564.9 51.0L563.0 50.0Z" color="#0000ac"/><path d="M562.9 54.9L564.8 55.9L566.8 52.0L564.9 51.0Z" color="#0000a2"/><path d="M564.8 55.9L566.8 56.9L568.8 53.0L566.8 52.0Z" color="#00009c"/><path d="M566.8 56.9L568.7 57.9L570.7 54.0L568.8 53.0Z" color="#00009b"/><path d="M568.7 57.9L570.6 58.9L572.6 55.0L570.7 54.0Z" color="#00009a"/><path d="M570.6 58.9L572.5 59.9L574.5 56.0L572.6 55.0Z" color="#000099"/><path d="M572.5 59.9L574.5 60.9L576.5 57.0L574.5 56.0Z" color="#000098"/><path d="M574.5 60.9L576.4 61.8L578.4 58.0L576.5 57.0Z" color="#000097"/><path d="M576.4 61.8L578.3 62.8L580.3 59.0L578.4 58.0Z" color="#000098"/><path d="M578.3 62.8L580.2 63.8L582.2 60.0L580.3 59.0Z" color="#00009a"/><path d="M580.2 63.8L582.2 64.8L584.2 61.0L582.2 60.0Z" color="#00009b"/><path d="M582.2 64.8L584.1 65.8L586.1 62.0L584.2 61.0Z" color="#00009d"/><path d="M584.1 65.8L586.0 66.8L588.0 63.0L586.1 62.0Z" color="#00009f"/><path d="M586.0 66.8L587.9 67.8L589.9 64.0L588.0 63.0Z" color="#0000a1"/><path d="M587.9 67.8L589.9 68.8L591.9 65.0L589.9 64.0Z" color="#0000ae"/><path d="M589.9 68.8L591.8 69.8L593.8 66.0L591.9 65.0Z" color="#0000c5"/><path d="M591.8 69.8L593.7 70.8L595.7 67.0L593.8 66.0Z" color="#0000dc"/><path d="M593.7 70.8L595.6 71.8L597.6 68.0L595.7 67.0Z" color="#0000f3"/><path d="M595.6 71.8L596.6 72.3L598.6 68.5L597.6 68.0Z" color="#0016ff"/><path d="M596.6 72.3L597.6 72.8L599.6 69.0L598.6 68.5Z" color="#0041ff"/><path d="M597.6 72.8L598.5 73.3L600.5 69.5L599.6 69.0Z" color="#006dff"/><path d="M598.5 73.3L599.5 73.8L601.5 70.0L600.5 69.5Z" color="#0098ff"/><path d="M555.3 46.1L556.3 46.6L556.9 45.3L556.0 44.8Z" color="#00c4ff"/><path d="M556.3 46.6L557.2 47.1L557.9 45.8L556.9 45.3Z" color="#007bff"/><path d="M557.2 47.1L558.2 47.6L558.9 46.3L557.9 45.8Z" color="#0033ff"/><path d="M558.2 47.6L559.2 48.1L559.8 46.8L558.9 46.3Z" color="#0000e9"/><path d="M559.2 48.1L561.1 49.1L561.7 47.8L559.8 46.8Z" color="#0000bf"/><path d="M561.1 49.1L563.0 50.0L563.7 48.8L561.7 47.8Z" color="#0000b5"/><path d="M563.0 50.0L564.9 51.0L565.6 49.8L563.7 48.8Z" color="#0000ab"/><path d="M564.9 51.0L566.8 52.0L567.5 50.8L565.6 49.8Z" color="#0000a1"/><path d="M566.8 52.0L568.8 53.0L569.4 51.8L567.5 50.8Z" color="#00009b"/><path d="M568.8 53.0L570.7 54.0L571.4 52.8L569.4 51.8Z" color="#00009a"/><path d="M570.7 54.0L572.6 55.0L573.3 53.7L571.4 52.8Z" color="#000099"/><path d="M572.6 55.0L574.5 56.0L575.2 54.7L573.3 53.7Z" color="#000098"/><path d="M574.5 56.0L576.5 57.0L577.1 55.7L575.2 54.7Z" color="#000097"/><path d="M576.5 57.0L578.4 58.0L579.1 56.7L577.1 55.7Z" color="#000096"/><path d="M578.4 58.0L580.3 59.0L581.0 57.7L579.1 56.7Z" color="#000097"/><path d="M580.3 59.0L582.2 60.0L582.9 58.7L581.0 57.7Z" color="#000098"/><path d="M582.2 60.0L584.2 61.0L584.8 59.7L582.9 58.7Z" color="#00009a"/><path d="M584.2 61.0L586.1 62.0L586.8 60.7L584.8 59.7Z" color="#00009c"/><path d="M586.1 62.0L588.0 63.0L588.7 61.7L586.8 60.7Z" color="#00009d"/><path d="M588.0 63.0L589.9 64.0L590.6 62.7L588.7 61.7Z" color="#00009f"/><path d="M589.9 64.0L591.9 65.0L592.5 63.7L590.6 62.7Z" color="#0000ab"/><path d="M591.9 65.0L593.8 66.0L594.5 64.7L592.5 63.7Z" color="#0000c1"/><path d="M593.8 66.0L595.7 67.0L596.4 65.7L594.5 64.7Z" color="#0000d8"/><path d="M595.7 67.0L597.6 68.0L598.3 66.7L596.4 65.7Z" color="#0000ee"/><path d="M597.6 68.0L598.6 68.5L599.3 67.2L598.3 66.7Z" color="#000fff"/><path d="M598.6 68.5L599.6 69.0L600.2 67.7L599.3 67.2Z" color="#0038ff"/><path d="M599.6 69.0L600.5 69.5L601.2 68.2L600.2 67.7Z" color="#0062ff"/><path d="M600.5 69.5L601.5 70.0L602.2 68.7L601.2 68.2Z" color="#008bff"/><path d="M556.0 44.8L556.9 45.3L557.6 44.0L556.6 43.5Z" color="#00c4ff"/><path d="M556.9 45.3L557.9 45.8L558.6 44.5L557.6 44.0Z" color="#007bff"/><path d="M557.9 45.8L558.9 46.3L559.5 45.0L558.6 44.5Z" color="#0032ff"/><path d="M558.9 46.3L559.8 46.8L560.5 45.5L559.5 45.0Z" color="#0000e8"/><path d="M559.8 46.8L561.7 47.8L562.4 46.5L560.5 45.5Z" color="#0000be"/><path d="M561.7 47.8L563.7 48.8L564.3 47.5L562.4 46.5Z" color="#0000b4"/><path d="M563.7 48.8L565.6 49.8L566.3 48.5L564.3 47.5Z" color="#0000aa"/><path d="M565.6 49.8L567.5 50.8L568.2 49.5L566.3 48.5Z" color="#0000a0"/><path d="M567.5 50.8L569.4 51.8L570.1 50.5L568.2 49.5Z" color="#00009b"/><path d="M569.4 51.8L571.4 52.8L572.0 51.5L570.1 50.5Z" color="#00009a"/><path d="M571.4 52.8L573.3 53.7L574.0 52.5L572.0 51.5Z" color="#000099"/><path d="M573.3 53.7L575.2 54.7L575.9 53.5L574.0 52.5Z" color="#000098"/><path d="M575.2 54.7L577.1 55.7L577.8 54.5L575.9 53.5Z" color="#000097"/><path d="M577.1 55.7L579.1 56.7L579.7 55.5L577.8 54.5Z" color="#000096"/><path d="M579.1 56.7L581.0 57.7L581.7 56.5L579.7 55.5Z" color="#000096"/><path d="M581.0 57.7L582.9 58.7L583.6 57.5L581.7 56.5Z" color="#000098"/><path d="M582.9 58.7L584.8 59.7L585.5 58.4L583.6 57.5Z" color="#000099"/><path d="M584.8 59.7L586.8 60.7L587.4 59.4L585.5 58.4Z" color="#00009b"/><path d="M586.8 60.7L588.7 61.7L589.4 60.4L587.4 59.4Z" color="#00009d"/><path d="M588.7 61.7L590.6 62.7L591.3 61.4L589.4 60.4Z" color="#00009e"/><path d="M590.6 62.7L592.5 63.7L593.2 62.4L591.3 61.4Z" color="#0000aa"/><path d="M592.5 63.7L594.5 64.7L595.1 63.4L593.2 62.4Z" color="#0000c0"/><path d="M594.5 64.7L596.4 65.7L597.1 64.4L595.1 63.4Z" color="#0000d5"/><path d="M596.4 65.7L598.3 66.7L599.0 65.4L597.1 64.4Z" color="#0000eb"/><path d="M598.3 66.7L599.3 67.2L599.9 65.9L599.0 65.4Z" color="#000cff"/><path d="M599.3 67.2L600.2 67.7L600.9 66.4L599.9 65.9Z" color="#0034ff"/><path d="M600.2 67.7L601.2 68.2L601.9 66.9L600.9 66.4Z" color="#005cff"/><path d="M601.2 68.2L602.2 68.7L602.8 67.4L601.9 66.9Z" color="#0085ff"/><path d="M556.6 43.5L557.6 44.0L558.3 42.7L557.3 42.2Z" color="#00c4ff"/><path d="M557.6 44.0L558.6 44.5L559.2 43.2L558.3 42.7Z" color="#007bff"/><path d="M558.6 44.5L559.5 45.0L560.2 43.7L559.2 43.2Z" color="#0031ff"/><path d="M559.5 45.0L560.5 45.5L561.2 44.2L560.2 43.7Z" color="#0000e7"/><path d="M560.5 45.5L562.4 46.5L563.1 45.2L561.2 44.2Z" color="#0000bd"/><path d="M562.4 46.5L564.3 47.5L565.0 46.2L563.1 45.2Z" color="#0000b3"/><path d="M564.3 47.5L566.3 48.5L566.9 47.2L565.0 46.2Z" color="#0000a9"/><path d="M566.3 48.5L568.2 49.5L568.8 48.2L566.9 47.2Z" color="#0000a0"/><path d="M568.2 49.5L570.1 50.5L570.8 49.2L568.8 48.2Z" color="#00009a"/><path d="M570.1 50.5L572.0 51.5L572.7 50.2L570.8 49.2Z" color="#000099"/><path d="M572.0 51.5L574.0 52.5L574.6 51.2L572.7 50.2Z" color="#000098"/><path d="M574.0 52.5L575.9 53.5L576.5 52.2L574.6 51.2Z" color="#000097"/><path d="M575.9 53.5L577.8 54.5L578.5 53.2L576.5 52.2Z" color="#000096"/><path d="M577.8 54.5L579.7 55.5L580.4 54.2L578.5 53.2Z" color="#000095"/><path d="M579.7 55.5L581.7 56.5L582.3 55.2L580.4 54.2Z" color="#000096"/><path d="M581.7 56.5L583.6 57.5L584.2 56.2L582.3 55.2Z" color="#000097"/><path d="M583.6 57.5L585.5 58.4L586.2 57.2L584.2 56.2Z" color="#000099"/><path d="M585.5 58.4L587.4 59.4L588.1 58.2L586.2 57.2Z" color="#00009a"/><path d="M587.4 59.4L589.4 60.4L590.0 59.2L588.1 58.2Z" color="#00009c"/><path d="M589.4 60.4L591.3 61.4L591.9 60.2L590.0 59.2Z" color="#00009d"/><path d="M591.3 61.4L593.2 62.4L593.9 61.2L591.9 60.2Z" color="#0000a9"/><path d="M593.2 62.4L595.1 63.4L595.8 62.1L593.9 61.2Z" color="#0000be"/><path d="M595.1 63.4L597.1 64.4L597.7 63.1L595.8 62.1Z" color="#0000d3"/><path d="M597.1 64.4L599.0 65.4L599.6 64.1L597.7 63.1Z" color="#0000e8"/><path d="M599.0 65.4L599.9 65.9L600.6 64.6L599.6 64.1Z" color="#0008ff"/><path d="M599.9 65.9L600.9 66.4L601.6 65.1L600.6 64.6Z" color="#002fff"/><path d="M600.9 66.4L601.9 66.9L602.5 65.6L601.6 65.1Z" color="#0057ff"/><path d="M601.9 66.9L602.8 67.4L603.5 66.1L602.5 65.6Z" color="#007eff"/><path d="M557.3 42.2L558.3 42.7L558.9 41.4L558.0 40.9Z" color="#00c4ff"/><path d="M558.3 42.7L559.2 43.2L559.9 41.9L558.9 41.4Z" color="#007aff"/><path d="M559.2 43.2L560.2 43.7L560.9 42.4L559.9 41.9Z" color="#0031ff"/><path d="M560.2 43.7L561.2 44.2L561.8 42.9L560.9 42.4Z" color="#0000e6"/><path d="M561.2 44.2L563.1 45.2L563.7 43.9L561.8 42.9Z" color="#0000bc"/><path d="M563.1 45.2L565.0 46.2L565.7 44.9L563.7 43.9Z" color="#0000b2"/><path d="M565.0 46.2L566.9 47.2L567.6 45.9L565.7 44.9Z" color="#0000a9"/><path d="M566.9 47.2L568.8 48.2L569.5 46.9L567.6 45.9Z" color="#00009f"/><path d="M568.8 48.2L570.8 49.2L571.4 47.9L569.5 46.9Z" color="#00009a"/><path d="M570.8 49.2L572.7 50.2L573.4 48.9L571.4 47.9Z" color="#000099"/><path d="M572.7 50.2L574.6 51.2L575.3 49.9L573.4 48.9Z" color="#000098"/><path d="M574.6 51.2L576.5 52.2L577.2 50.9L575.3 49.9Z" color="#000097"/><path d="M576.5 52.2L578.5 53.2L579.1 51.9L577.2 50.9Z" color="#000096"/><path d="M578.5 53.2L580.4 54.2L581.1 52.9L579.1 51.9Z" color="#000095"/><path d="M580.4 54.2L582.3 55.2L583.0 53.9L581.1 52.9Z" color="#000095"/><path d="M582.3 55.2L584.2 56.2L584.9 54.9L583.0 53.9Z" color="#000096"/><path d="M584.2 56.2L586.2 57.2L586.8 55.9L584.9 54.9Z" color="#000098"/><path d="M586.2 57.2L588.1 58.2L588.8 56.9L586.8 55.9Z" color="#000099"/><path d="M588.1 58.2L590.0 59.2L590.7 57.9L588.8 56.9Z" color="#00009b"/><path d="M590.0 59.2L591.9 60.2L592.6 58.9L590.7 57.9Z" color="#00009c"/><path d="M591.9 60.2L593.9 61.2L594.5 59.9L592.6 58.9Z" color="#0000a7"/><path d="M593.9 61.2L595.8 62.1L596.5 60.9L594.5 59.9Z" color="#0000bc"/><path d="M595.8 62.1L597.7 63.1L598.4 61.9L596.5 60.9Z" color="#0000d1"/><path d="M597.7 63.1L599.6 64.1L600.3 62.9L598.4 61.9Z" color="#0000e6"/><path d="M599.6 64.1L600.6 64.6L601.3 63.4L600.3 62.9Z" color="#0005ff"/><path d="M600.6 64.6L601.6 65.1L602.2 63.9L601.3 63.4Z" color="#002bff"/><path d="M601.6 65.1L602.5 65.6L603.2 64.4L602.2 63.9Z" color="#0051ff"/><path d="M602.5 65.6L603.5 66.1L604.2 64.9L603.2 64.4Z" color="#0078ff"/><path d="M558.0 40.9L558.9 41.4L559.6 40.2L558.6 39.7Z" color="#00c4ff"/><path d="M558.9 41.4L559.9 41.9L560.6 40.7L559.6 40.2Z" color="#007aff"/><path d="M559.9 41.9L560.9 42.4L561.5 41.2L560.6 40.7Z" color="#0030ff"/><path d="M560.9 42.4L561.8 42.9L562.5 41.7L561.5 41.2Z" color="#0000e5"/><path d="M561.8 42.9L563.7 43.9L564.4 42.7L562.5 41.7Z" color="#0000bb"/><path d="M563.7 43.9L565.7 44.9L566.3 43.7L564.4 42.7Z" color="#0000b2"/><path d="M565.7 44.9L567.6 45.9L568.3 44.6L566.3 43.7Z" color="#0000a8"/><path d="M567.6 45.9L569.5 46.9L570.2 45.6L568.3 44.6Z" color="#00009f"/><path d="M569.5 46.9L571.4 47.9L572.1 46.6L570.2 45.6Z" color="#000099"/><path d="M571.4 47.9L573.4 48.9L574.0 47.6L572.1 46.6Z" color="#000098"/><path d="M573.4 48.9L575.3 49.9L576.0 48.6L574.0 47.6Z" color="#000097"/><path d="M575.3 49.9L577.2 50.9L577.9 49.6L576.0 48.6Z" color="#000096"/><path d="M577.2 50.9L579.1 51.9L579.8 50.6L577.9 49.6Z" color="#000095"/><path d="M579.1 51.9L581.1 52.9L581.7 51.6L579.8 50.6Z" color="#000094"/><path d="M581.1 52.9L583.0 53.9L583.7 52.6L581.7 51.6Z" color="#000094"/><path d="M583.0 53.9L584.9 54.9L585.6 53.6L583.7 52.6Z" color="#000096"/><path d="M584.9 54.9L586.8 55.9L587.5 54.6L585.6 53.6Z" color="#000097"/><path d="M586.8 55.9L588.8 56.9L589.4 55.6L587.5 54.6Z" color="#000099"/><path d="M588.8 56.9L590.7 57.9L591.4 56.6L589.4 55.6Z" color="#00009a"/><path d="M590.7 57.9L592.6 58.9L593.3 57.6L591.4 56.6Z" color="#00009b"/><path d="M592.6 58.9L594.5 59.9L595.2 58.6L593.3 57.6Z" color="#0000a6"/><path d="M594.5 59.9L596.5 60.9L597.1 59.6L595.2 58.6Z" color="#0000ba"/><path d="M596.5 60.9L598.4 61.9L599.0 60.6L597.1 59.6Z" color="#0000cf"/><path d="M598.4 61.9L600.3 62.9L601.0 61.6L599.0 60.6Z" color="#0000e3"/><path d="M600.3 62.9L601.3 63.4L601.9 62.1L601.0 61.6Z" color="#0001ff"/><path d="M601.3 63.4L602.2 63.9L602.9 62.6L601.9 62.1Z" color="#0026ff"/><path d="M602.2 63.9L603.2 64.4L603.9 63.1L602.9 62.6Z" color="#004cff"/><path d="M603.2 64.4L604.2 64.9L604.8 63.6L603.9 63.1Z" color="#0071ff"/><path d="M558.6 39.7L559.6 40.2L560.3 38.9L559.3 38.4Z" color="#00c4ff"/><path d="M559.6 40.2L560.6 40.7L561.2 39.4L560.3 38.9Z" color="#007aff"/><path d="M560.6 40.7L561.5 41.2L562.2 39.9L561.2 39.4Z" color="#0030ff"/><path d="M561.5 41.2L562.5 41.7L563.2 40.4L562.2 39.9Z" color="#0000e5"/><path d="M562.5 41.7L564.4 42.7L565.1 41.4L563.2 40.4Z" color="#0000ba"/><path d="M564.4 42.7L566.3 43.7L567.0 42.4L565.1 41.4Z" color="#0000b1"/><path d="M566.3 43.7L568.3 44.6L568.9 43.4L567.0 42.4Z" color="#0000a7"/><path d="M568.3 44.6L570.2 45.6L570.9 44.4L568.9 43.4Z" color="#00009e"/><path d="M570.2 45.6L572.1 46.6L572.8 45.4L570.9 44.4Z" color="#000099"/><path d="M572.1 46.6L574.0 47.6L574.7 46.4L572.8 45.4Z" color="#000098"/><path d="M574.0 47.6L576.0 48.6L576.6 47.4L574.7 46.4Z" color="#000097"/><path d="M576.0 48.6L577.9 49.6L578.5 48.4L576.6 47.4Z" color="#000096"/><path d="M577.9 49.6L579.8 50.6L580.5 49.3L578.5 48.4Z" color="#000095"/><path d="M579.8 50.6L581.7 51.6L582.4 50.3L580.5 49.3Z" color="#000094"/><path d="M581.7 51.6L583.7 52.6L584.3 51.3L582.4 50.3Z" color="#000094"/><path d="M583.7 52.6L585.6 53.6L586.2 52.3L584.3 51.3Z" color="#000095"/><path d="M585.6 53.6L587.5 54.6L588.2 53.3L586.2 52.3Z" color="#000096"/><path d="M587.5 54.6L589.4 55.6L590.1 54.3L588.2 53.3Z" color="#000098"/><path d="M589.4 55.6L591.4 56.6L592.0 55.3L590.1 54.3Z" color="#000099"/><path d="M591.4 56.6L593.3 57.6L593.9 56.3L592.0 55.3Z" color="#00009a"/><path d="M593.3 57.6L595.2 58.6L595.9 57.3L593.9 56.3Z" color="#0000a5"/><path d="M595.2 58.6L597.1 59.6L597.8 58.3L595.9 57.3Z" color="#0000b9"/><path d="M597.1 59.6L599.0 60.6L599.7 59.3L597.8 58.3Z" color="#0000cc"/><path d="M599.0 60.6L601.0 61.6L601.6 60.3L599.7 59.3Z" color="#0000e0"/><path d="M601.0 61.6L601.9 62.1L602.6 60.8L601.6 60.3Z" color="#0000fd"/><path d="M601.9 62.1L602.9 62.6L603.6 61.3L602.6 60.8Z" color="#0022ff"/><path d="M602.9 62.6L603.9 63.1L604.5 61.8L603.6 61.3Z" color="#0046ff"/><path d="M603.9 63.1L604.8 63.6L605.5 62.3L604.5 61.8Z" color="#006bff"/><path d="M559.3 38.4L560.3 38.9L560.9 37.6L560.0 37.1Z" color="#43ffbc"/><path d="M560.3 38.9L561.2 39.4L561.9 38.1L560.9 37.6Z" color="#00e6ff"/><path d="M561.2 39.4L562.2 39.9L562.9 38.6L561.9 38.1Z" color="#0087ff"/><path d="M562.2 39.9L563.2 40.4L563.8 39.1L562.9 38.6Z" color="#0025ff"/><path d="M563.2 40.4L565.1 41.4L565.7 40.1L563.8 39.1Z" color="#0000e9"/><path d="M565.1 41.4L567.0 42.4L567.7 41.1L565.7 40.1Z" color="#0000d6"/><path d="M567.0 42.4L568.9 43.4L569.6 42.1L567.7 41.1Z" color="#0000c4"/><path d="M568.9 43.4L570.9 44.4L571.5 43.1L569.6 42.1Z" color="#0000b7"/><path d="M570.9 44.4L572.8 45.4L573.4 44.1L571.5 43.1Z" color="#0000b2"/><path d="M572.8 45.4L574.7 46.4L575.4 45.1L573.4 44.1Z" color="#0000b1"/><path d="M574.7 46.4L576.6 47.4L577.3 46.1L575.4 45.1Z" color="#0000b0"/><path d="M576.6 47.4L578.5 48.4L579.2 47.1L577.3 46.1Z" color="#0000af"/><path d="M578.5 48.4L580.5 49.3L581.1 48.1L579.2 47.1Z" color="#0000ae"/><path d="M580.5 49.3L582.4 50.3L583.1 49.1L581.1 48.1Z" color="#0000ad"/><path d="M582.4 50.3L584.3 51.3L585.0 50.1L583.1 49.1Z" color="#0000ad"/><path d="M584.3 51.3L586.2 52.3L586.9 51.1L585.0 50.1Z" color="#0000af"/><path d="M586.2 52.3L588.2 53.3L588.8 52.1L586.9 51.1Z" color="#0000b0"/><path d="M588.2 53.3L590.1 54.3L590.8 53.1L588.8 52.1Z" color="#0000b1"/><path d="M590.1 54.3L592.0 55.3L592.7 54.0L590.8 53.1Z" color="#0000b2"/><path d="M592.0 55.3L593.9 56.3L594.6 55.0L592.7 54.0Z" color="#0000b3"/><path d="M593.9 56.3L595.9 57.3L596.5 56.0L594.6 55.0Z" color="#0000be"/><path d="M595.9 57.3L597.8 58.3L598.5 57.0L596.5 56.0Z" color="#0000d1"/><path d="M597.8 58.3L599.7 59.3L600.4 58.0L598.5 57.0Z" color="#0000e4"/><path d="M599.7 59.3L601.6 60.3L602.3 59.0L600.4 58.0Z" color="#0000f7"/><path d="M601.6 60.3L602.6 60.8L603.3 59.5L602.3 59.0Z" color="#0011ff"/><path d="M602.6 60.8L603.6 61.3L604.2 60.0L603.3 59.5Z" color="#002eff"/><path d="M603.6 61.3L604.5 61.8L605.2 60.5L604.2 60.0Z" color="#004bff"/><path d="M604.5 61.8L605.5 62.3L606.2 61.0L605.2 60.5Z" color="#0068ff"/><path d="M560.0 37.1L560.9 37.6L561.6 36.3L560.6 35.8Z" color="#ffbe00"/><path d="M560.9 37.6L561.9 38.1L562.6 36.8L561.6 36.3Z" color="#bfff40"/><path d="M561.9 38.1L562.9 38.6L563.5 37.3L562.6 36.8Z" color="#36ffc9"/><path d="M562.9 38.6L563.8 39.1L564.5 37.8L563.5 37.3Z" color="#00a6ff"/><path d="M563.8 39.1L565.7 40.1L566.4 38.8L564.5 37.8Z" color="#0048ff"/><path d="M565.7 40.1L567.7 41.1L568.3 39.8L566.4 38.8Z" color="#0023ff"/><path d="M567.7 41.1L569.6 42.1L570.3 40.8L568.3 39.8Z" color="#0000fc"/><path d="M569.6 42.1L571.5 43.1L572.2 41.8L570.3 40.8Z" color="#0000eb"/><path d="M571.5 43.1L573.4 44.1L574.1 42.8L572.2 41.8Z" color="#0000e6"/><path d="M573.4 44.1L575.4 45.1L576.0 43.8L574.1 42.8Z" color="#0000e5"/><path d="M575.4 45.1L577.3 46.1L578.0 44.8L576.0 43.8Z" color="#0000e4"/><path d="M577.3 46.1L579.2 47.1L579.9 45.8L578.0 44.8Z" color="#0000e3"/><path d="M579.2 47.1L581.1 48.1L581.8 46.8L579.9 45.8Z" color="#0000e2"/><path d="M581.1 48.1L583.1 49.1L583.7 47.8L581.8 46.8Z" color="#0000e1"/><path d="M583.1 49.1L585.0 50.1L585.7 48.8L583.7 47.8Z" color="#0000e1"/><path d="M585.0 50.1L586.9 51.1L587.6 49.8L585.7 48.8Z" color="#0000e2"/><path d="M586.9 51.1L588.8 52.1L589.5 50.8L587.6 49.8Z" color="#0000e3"/><path d="M588.8 52.1L590.8 53.1L591.4 51.8L589.5 50.8Z" color="#0000e4"/><path d="M590.8 53.1L592.7 54.0L593.4 52.8L591.4 51.8Z" color="#0000e5"/><path d="M592.7 54.0L594.6 55.0L595.3 53.8L593.4 52.8Z" color="#0000e6"/><path d="M594.6 55.0L596.5 56.0L597.2 54.8L595.3 53.8Z" color="#0000f0"/><path d="M596.5 56.0L598.5 57.0L599.1 55.8L597.2 54.8Z" color="#0004ff"/><path d="M598.5 57.0L600.4 58.0L601.0 56.8L599.1 55.8Z" color="#0017ff"/><path d="M600.4 58.0L602.3 59.0L603.0 57.8L601.0 56.8Z" color="#002aff"/><path d="M602.3 59.0L603.3 59.5L603.9 58.3L603.0 57.8Z" color="#003bff"/><path d="M603.3 59.5L604.2 60.0L604.9 58.8L603.9 58.3Z" color="#004aff"/><path d="M604.2 60.0L605.2 60.5L605.9 59.2L604.9 58.8Z" color="#0059ff"/><path d="M605.2 60.5L606.2 61.0L606.8 59.7L605.9 59.2Z" color="#0068ff"/><path d="M560.6 35.8L561.6 36.3L562.3 35.1L561.3 34.6Z" color="#bf0000"/><path d="M561.6 36.3L562.6 36.8L563.2 35.6L562.3 35.1Z" color="#ff6700"/><path d="M562.6 36.8L563.5 37.3L564.2 36.0L563.2 35.6Z" color="#e5ff1a"/><path d="M563.5 37.3L564.5 37.8L565.2 36.5L564.2 36.0Z" color="#27ffd8"/><path d="M564.5 37.8L566.4 38.8L567.1 37.5L565.2 36.5Z" color="#00a6ff"/><path d="M566.4 38.8L568.3 39.8L569.0 38.5L567.1 37.5Z" color="#006eff"/><path d="M568.3 39.8L570.3 40.8L570.9 39.5L569.0 38.5Z" color="#0036ff"/><path d="M570.3 40.8L572.2 41.8L572.9 40.5L570.9 39.5Z" color="#001fff"/><path d="M572.2 41.8L574.1 42.8L574.8 41.5L572.9 40.5Z" color="#001aff"/><path d="M574.1 42.8L576.0 43.8L576.7 42.5L574.8 41.5Z" color="#0019ff"/><path d="M576.0 43.8L578.0 44.8L578.6 43.5L576.7 42.5Z" color="#0018ff"/><path d="M578.0 44.8L579.9 45.8L580.5 44.5L578.6 43.5Z" color="#0017ff"/><path d="M579.9 45.8L581.8 46.8L582.5 45.5L580.5 44.5Z" color="#0016ff"/><path d="M581.8 46.8L583.7 47.8L584.4 46.5L582.5 45.5Z" color="#0015ff"/><path d="M583.7 47.8L585.7 48.8L586.3 47.5L584.4 46.5Z" color="#0015ff"/><path d="M585.7 48.8L587.6 49.8L588.2 48.5L586.3 47.5Z" color="#0016ff"/><path d="M587.6 49.8L589.5 50.8L590.2 49.5L588.2 48.5Z" color="#0017ff"/><path d="M589.5 50.8L591.4 51.8L592.1 50.5L590.2 49.5Z" color="#0018ff"/><path d="M591.4 51.8L593.4 52.8L594.0 51.5L592.1 50.5Z" color="#0019ff"/><path d="M593.4 52.8L595.3 53.8L595.9 52.5L594.0 51.5Z" color="#001aff"/><path d="M595.3 53.8L597.2 54.8L597.9 53.5L595.9 52.5Z" color="#0024ff"/><path d="M597.2 54.8L599.1 55.8L599.8 54.5L597.9 53.5Z" color="#0036ff"/><path d="M599.1 55.8L601.0 56.8L601.7 55.5L599.8 54.5Z" color="#0049ff"/><path d="M601.0 56.8L603.0 57.8L603.6 56.5L601.7 55.5Z" color="#005bff"/><path d="M603.0 57.8L603.9 58.3L604.6 57.0L603.6 56.5Z" color="#0065ff"/><path d="M603.9 58.3L604.9 58.8L605.6 57.5L604.6 57.0Z" color="#0066ff"/><path d="M604.9 58.8L605.9 59.2L606.5 58.0L605.6 57.5Z" color="#0067ff"/><path d="M605.9 59.2L606.8 59.7L607.5 58.5L606.5 58.0Z" color="#0068ff"/></g><path d="M446.2 370.0L446.2 365.3L446.3 360.7L446.5 356.0L446.7 351.4L446.9 346.7L447.3 342.1L447.7 337.5L448.1 332.9L448.6 328.3L449.2 323.7L449.8 319.1L450.4 314.5L451.1 310.0L451.9 305.4L452.7 300.9L453.5 296.4L454.4 291.9L455.3 287.4L456.3 283.0L457.3 278.5L458.4 274.1L459.5 269.6L460.6 265.2L461.8 260.8L463.0 256.5L464.3 252.1L465.6 247.8L466.9 243.4L468.2 239.1L469.6 234.8L471.0 230.5L472.5 226.2L474.0 222.0L475.5 217.7L477.0 213.5L478.5 209.3L480.1 205.1L481.7 200.9L483.3 196.7L485.0 192.6L486.7 188.4L488.4 184.3L490.1 180.2L491.8 176.1L493.6 172.0L495.3 167.9L497.1 163.9L498.9 159.8L500.7 155.8L502.6 151.7L504.4 147.7L506.3 143.7L508.1 139.7L510.0 135.7L511.9 131.7L513.8 127.8L515.7 123.8L517.7 119.8L519.6 115.9L521.5 112.0L523.5 108.0L525.5 104.1L527.4 100.2L529.4 96.3L531.4 92.4L533.3 88.5L535.3 84.6L537.3 80.8L539.3 76.9L541.3 73.0L543.3 69.2L545.3 65.3L547.3 61.4L549.3 57.6L551.3 53.7L553.3 49.9L555.3 46.1L557.3 42.2L559.3 38.4L561.3 34.6M450.5 370.0L450.5 365.4L450.6 360.8L450.8 356.2L451.0 351.6L451.3 347.0L451.6 342.4L452.0 337.9L452.4 333.3L452.9 328.8L453.5 324.2L454.1 319.7L454.7 315.2L455.4 310.7L456.1 306.2L456.9 301.7L457.8 297.2L458.7 292.8L459.6 288.3L460.6 283.9L461.6 279.5L462.6 275.1L463.7 270.7L464.8 266.3L466.0 262.0L467.2 257.6L468.5 253.3L469.7 249.0L471.0 244.7L472.4 240.4L473.8 236.1L475.2 231.9L476.6 227.6L478.1 223.4L479.5 219.2L481.1 215.0L482.6 210.8L484.2 206.6L485.8 202.5L487.4 198.3L489.0 194.2L490.7 190.1L492.4 186.0L494.1 181.9L495.8 177.8L497.5 173.7L499.3 169.6L501.1 165.6L502.9 161.6L504.7 157.5L506.5 153.5L508.3 149.5L510.2 145.5L512.1 141.5L513.9 137.6L515.8 133.6L517.7 129.6L519.6 125.7L521.6 121.7L523.5 117.8L525.4 113.9L527.4 110.0L529.3 106.1L531.3 102.2L533.3 98.3L535.2 94.4L537.2 90.5L539.2 86.6L541.2 82.7L543.2 78.9L545.2 75.0L547.2 71.1L549.1 67.3L551.1 63.4L553.1 59.6L555.1 55.7L557.1 51.9L559.2 48.1L561.2 44.2L563.2 40.4L565.2 36.5M454.8 370.0L454.9 365.4L455.0 360.9L455.1 356.4L455.3 351.8L455.6 347.3L455.9 342.8L456.3 338.2L456.7 333.7L457.2 329.2L457.8 324.8L458.4 320.3L459.0 315.8L459.7 311.3L460.4 306.9L461.2 302.5L462.0 298.0L462.9 293.6L463.8 289.2L464.8 284.8L465.8 280.5L466.8 276.1L467.9 271.8L469.0 267.4L470.2 263.1L471.4 258.8L472.6 254.5L473.9 250.2L475.2 246.0L476.5 241.7L477.9 237.5L479.3 233.2L480.7 229.0L482.1 224.8L483.6 220.6L485.1 216.5L486.7 212.3L488.2 208.2L489.8 204.0L491.4 199.9L493.1 195.8L494.7 191.7L496.4 187.6L498.1 183.5L499.8 179.5L501.5 175.4L503.3 171.4L505.0 167.3L506.8 163.3L508.6 159.3L510.5 155.3L512.3 151.3L514.1 147.3L516.0 143.4L517.9 139.4L519.8 135.4L521.6 131.5L523.6 127.6L525.5 123.6L527.4 119.7L529.3 115.8L531.3 111.9L533.2 108.0L535.2 104.1L537.1 100.2L539.1 96.3L541.1 92.4L543.1 88.6L545.0 84.7L547.0 80.8L549.0 77.0L551.0 73.1L553.0 69.3L555.0 65.4L557.0 61.6L559.0 57.7L561.0 53.9L563.0 50.0L565.0 46.2L567.0 42.4L569.0 38.5M459.2 370.0L459.2 365.5L459.3 361.0L459.5 356.5L459.7 352.0L459.9 347.6L460.3 343.1L460.6 338.6L461.1 334.2L461.5 329.7L462.1 325.3L462.7 320.9L463.3 316.4L464.0 312.0L464.7 307.6L465.5 303.2L466.3 298.9L467.2 294.5L468.1 290.1L469.0 285.8L470.0 281.5L471.0 277.1L472.1 272.8L473.2 268.5L474.4 264.2L475.6 260.0L476.8 255.7L478.0 251.5L479.3 247.2L480.7 243.0L482.0 238.8L483.4 234.6L484.8 230.4L486.2 226.2L487.7 222.1L489.2 217.9L490.7 213.8L492.3 209.7L493.9 205.6L495.5 201.5L497.1 197.4L498.7 193.3L500.4 189.2L502.1 185.2L503.8 181.1L505.5 177.1L507.3 173.1L509.0 169.1L510.8 165.1L512.6 161.1L514.4 157.1L516.2 153.1L518.1 149.2L519.9 145.2L521.8 141.2L523.7 137.3L525.6 133.4L527.5 129.4L529.4 125.5L531.3 121.6L533.2 117.7L535.2 113.8L537.1 109.9L539.0 106.0L541.0 102.1L543.0 98.3L544.9 94.4L546.9 90.5L548.9 86.7L550.9 82.8L552.9 79.0L554.9 75.1L556.9 71.2L558.9 67.4L560.9 63.6L562.8 59.7L564.8 55.9L566.8 52.0L568.8 48.2L570.9 44.4L572.9 40.5M463.5 370.0L463.6 365.6L463.6 361.1L463.8 356.7L464.0 352.3L464.3 347.8L464.6 343.4L464.9 339.0L465.4 334.6L465.8 330.2L466.4 325.8L467.0 321.4L467.6 317.1L468.3 312.7L469.0 308.4L469.7 304.0L470.6 299.7L471.4 295.3L472.3 291.0L473.3 286.7L474.2 282.4L475.3 278.2L476.3 273.9L477.4 269.6L478.6 265.4L479.7 261.1L481.0 256.9L482.2 252.7L483.5 248.5L484.8 244.3L486.1 240.1L487.5 236.0L488.9 231.8L490.3 227.7L491.8 223.5L493.3 219.4L494.8 215.3L496.3 211.2L497.9 207.1L499.5 203.1L501.1 199.0L502.7 194.9L504.4 190.9L506.1 186.9L507.8 182.8L509.5 178.8L511.2 174.8L513.0 170.8L514.8 166.8L516.5 162.9L518.4 158.9L520.2 154.9L522.0 151.0L523.8 147.0L525.7 143.1L527.6 139.2L529.5 135.2L531.4 131.3L533.3 127.4L535.2 123.5L537.1 119.6L539.0 115.7L541.0 111.8L542.9 108.0L544.9 104.1L546.8 100.2L548.8 96.4L550.8 92.5L552.8 88.6L554.7 84.8L556.7 80.9L558.7 77.1L560.7 73.2L562.7 69.4L564.7 65.5L566.7 61.7L568.7 57.9L570.7 54.0L572.7 50.2L574.7 46.4L576.7 42.5M467.9 370.0L467.9 365.6L468.0 361.2L468.1 356.9L468.3 352.5L468.6 348.1L468.9 343.8L469.3 339.4L469.7 335.1L470.2 330.7L470.7 326.4L471.2 322.0L471.9 317.7L472.5 313.4L473.3 309.1L474.0 304.8L474.8 300.5L475.7 296.2L476.6 291.9L477.5 287.7L478.5 283.4L479.5 279.2L480.5 274.9L481.6 270.7L482.8 266.5L483.9 262.3L485.1 258.1L486.4 253.9L487.6 249.8L488.9 245.6L490.3 241.5L491.6 237.3L493.0 233.2L494.4 229.1L495.9 225.0L497.4 220.9L498.9 216.8L500.4 212.7L502.0 208.7L503.5 204.6L505.1 200.6L506.8 196.6L508.4 192.5L510.1 188.5L511.8 184.5L513.5 180.5L515.2 176.5L517.0 172.6L518.7 168.6L520.5 164.6L522.3 160.7L524.1 156.7L525.9 152.8L527.8 148.9L529.6 144.9L531.5 141.0L533.4 137.1L535.3 133.2L537.2 129.3L539.1 125.4L541.0 121.5L542.9 117.7L544.9 113.8L546.8 109.9L548.8 106.0L550.7 102.2L552.7 98.3L554.6 94.5L556.6 90.6L558.6 86.8L560.6 82.9L562.6 79.1L564.6 75.2L566.6 71.4L568.6 67.5L570.5 63.7L572.5 59.9L574.5 56.0L576.5 52.2L578.5 48.4L580.5 44.5M472.2 370.0L472.2 365.7L472.3 361.4L472.5 357.0L472.7 352.7L472.9 348.4L473.2 344.1L473.6 339.8L474.0 335.5L474.5 331.2L475.0 326.9L475.5 322.6L476.2 318.3L476.8 314.1L477.5 309.8L478.3 305.6L479.1 301.3L479.9 297.1L480.8 292.8L481.7 288.6L482.7 284.4L483.7 280.2L484.7 276.0L485.8 271.8L486.9 267.6L488.1 263.5L489.3 259.3L490.5 255.2L491.8 251.0L493.1 246.9L494.4 242.8L495.7 238.7L497.1 234.6L498.5 230.5L500.0 226.4L501.4 222.4L502.9 218.3L504.5 214.3L506.0 210.2L507.6 206.2L509.2 202.2L510.8 198.2L512.4 194.2L514.1 190.2L515.8 186.2L517.5 182.2L519.2 178.3L520.9 174.3L522.7 170.3L524.5 166.4L526.2 162.5L528.1 158.5L529.9 154.6L531.7 150.7L533.6 146.8L535.4 142.9L537.3 139.0L539.2 135.1L541.1 131.2L543.0 127.3L544.9 123.4L546.8 119.6L548.7 115.7L550.7 111.8L552.6 108.0L554.6 104.1L556.5 100.3L558.5 96.4L560.5 92.6L562.5 88.7L564.4 84.9L566.4 81.0L568.4 77.2L570.4 73.4L572.4 69.5L574.4 65.7L576.4 61.8L578.4 58.0L580.4 54.2L582.4 50.3L584.4 46.5M476.5 370.0L476.6 365.7L476.7 361.5L476.8 357.2L477.0 352.9L477.2 348.7L477.5 344.4L477.9 340.2L478.3 335.9L478.8 331.7L479.3 327.4L479.8 323.2L480.4 319.0L481.1 314.8L481.8 310.5L482.5 306.3L483.3 302.1L484.2 297.9L485.0 293.7L486.0 289.6L486.9 285.4L487.9 281.2L488.9 277.1L490.0 272.9L491.1 268.8L492.3 264.6L493.5 260.5L494.7 256.4L495.9 252.3L497.2 248.2L498.5 244.1L499.9 240.1L501.2 236.0L502.6 231.9L504.1 227.9L505.5 223.8L507.0 219.8L508.5 215.8L510.1 211.8L511.6 207.8L513.2 203.8L514.8 199.8L516.4 195.8L518.1 191.8L519.8 187.9L521.5 183.9L523.2 180.0L524.9 176.0L526.6 172.1L528.4 168.2L530.2 164.3L532.0 160.3L533.8 156.4L535.6 152.5L537.5 148.6L539.3 144.7L541.2 140.9L543.1 137.0L545.0 133.1L546.9 129.2L548.8 125.4L550.7 121.5L552.6 117.6L554.6 113.8L556.5 109.9L558.5 106.1L560.4 102.2L562.4 98.4L564.3 94.5L566.3 90.7L568.3 86.9L570.3 83.0L572.3 79.2L574.3 75.3L576.3 71.5L578.3 67.7L580.2 63.8L582.2 60.0L584.2 56.2L586.2 52.3L588.2 48.5M480.9 370.0L480.9 365.8L481.0 361.6L481.1 357.4L481.3 353.2L481.6 349.0L481.9 344.8L482.2 340.6L482.6 336.4L483.1 332.2L483.6 328.0L484.1 323.8L484.7 319.6L485.4 315.4L486.1 311.3L486.8 307.1L487.6 302.9L488.4 298.8L489.3 294.6L490.2 290.5L491.1 286.4L492.1 282.2L493.1 278.1L494.2 274.0L495.3 269.9L496.4 265.8L497.6 261.7L498.8 257.7L500.1 253.6L501.3 249.5L502.6 245.5L504.0 241.4L505.3 237.4L506.7 233.4L508.1 229.3L509.6 225.3L511.1 221.3L512.6 217.3L514.1 213.3L515.7 209.4L517.2 205.4L518.8 201.4L520.5 197.5L522.1 193.5L523.8 189.6L525.4 185.6L527.1 181.7L528.9 177.8L530.6 173.9L532.4 170.0L534.1 166.0L535.9 162.1L537.7 158.3L539.6 154.4L541.4 150.5L543.2 146.6L545.1 142.7L547.0 138.9L548.9 135.0L550.8 131.1L552.7 127.3L554.6 123.4L556.5 119.6L558.4 115.7L560.4 111.9L562.3 108.0L564.3 104.2L566.2 100.3L568.2 96.5L570.2 92.7L572.2 88.8L574.1 85.0L576.1 81.2L578.1 77.3L580.1 73.5L582.1 69.7L584.1 65.8L586.1 62.0L588.1 58.2L590.1 54.3L592.1 50.5M485.2 370.0L485.2 365.9L485.3 361.7L485.5 357.6L485.7 353.4L485.9 349.3L486.2 345.1L486.5 341.0L486.9 336.8L487.4 332.7L487.9 328.5L488.4 324.4L489.0 320.2L489.7 316.1L490.4 312.0L491.1 307.9L491.9 303.8L492.7 299.6L493.5 295.5L494.4 291.4L495.4 287.3L496.3 283.3L497.4 279.2L498.4 275.1L499.5 271.0L500.6 267.0L501.8 262.9L503.0 258.9L504.2 254.9L505.5 250.8L506.8 246.8L508.1 242.8L509.4 238.8L510.8 234.8L512.2 230.8L513.7 226.8L515.1 222.8L516.6 218.9L518.1 214.9L519.7 210.9L521.3 207.0L522.9 203.0L524.5 199.1L526.1 195.2L527.8 191.3L529.4 187.3L531.1 183.4L532.8 179.5L534.6 175.6L536.3 171.7L538.1 167.8L539.9 164.0L541.7 160.1L543.5 156.2L545.3 152.3L547.2 148.5L549.0 144.6L550.9 140.7L552.8 136.9L554.7 133.0L556.6 129.2L558.5 125.3L560.4 121.5L562.3 117.7L564.2 113.8L566.2 110.0L568.1 106.1L570.1 102.3L572.1 98.5L574.0 94.6L576.0 90.8L578.0 87.0L580.0 83.1L582.0 79.3L584.0 75.5L586.0 71.7L587.9 67.8L589.9 64.0L591.9 60.2L593.9 56.3L595.9 52.5M489.5 370.0L489.6 365.9L489.7 361.8L489.8 357.7L490.0 353.6L490.2 349.5L490.5 345.4L490.9 341.3L491.3 337.2L491.7 333.2L492.2 329.1L492.7 325.0L493.3 320.9L494.0 316.8L494.6 312.7L495.3 308.6L496.1 304.6L496.9 300.5L497.8 296.4L498.7 292.4L499.6 288.3L500.6 284.3L501.6 280.2L502.6 276.2L503.7 272.2L504.8 268.2L505.9 264.1L507.1 260.1L508.4 256.1L509.6 252.1L510.9 248.1L512.2 244.2L513.5 240.2L514.9 236.2L516.3 232.2L517.7 228.3L519.2 224.3L520.7 220.4L522.2 216.4L523.7 212.5L525.3 208.6L526.9 204.7L528.5 200.8L530.1 196.8L531.7 192.9L533.4 189.0L535.1 185.1L536.8 181.3L538.5 177.4L540.3 173.5L542.0 169.6L543.8 165.8L545.6 161.9L547.4 158.0L549.2 154.2L551.1 150.3L552.9 146.5L554.8 142.6L556.7 138.8L558.5 134.9L560.4 131.1L562.3 127.3L564.3 123.4L566.2 119.6L568.1 115.8L570.1 111.9L572.0 108.1L574.0 104.3L575.9 100.4L577.9 96.6L579.9 92.8L581.9 89.0L583.8 85.1L585.8 81.3L587.8 77.5L589.8 73.6L591.8 69.8L593.8 66.0L595.8 62.1L597.8 58.3L599.8 54.5M493.9 370.0L493.9 366.0L494.0 361.9L494.1 357.9L494.3 353.9L494.6 349.8L494.8 345.8L495.2 341.7L495.6 337.7L496.0 333.6L496.5 329.6L497.0 325.6L497.6 321.5L498.2 317.5L498.9 313.4L499.6 309.4L500.4 305.4L501.2 301.4L502.0 297.3L502.9 293.3L503.8 289.3L504.8 285.3L505.8 281.3L506.8 277.3L507.9 273.3L509.0 269.3L510.1 265.3L511.3 261.4L512.5 257.4L513.7 253.4L515.0 249.5L516.3 245.5L517.6 241.6L519.0 237.6L520.4 233.7L521.8 229.8L523.3 225.8L524.7 221.9L526.2 218.0L527.8 214.1L529.3 210.2L530.9 206.3L532.5 202.4L534.1 198.5L535.7 194.6L537.4 190.7L539.1 186.9L540.8 183.0L542.5 179.1L544.2 175.3L546.0 171.4L547.8 167.6L549.5 163.7L551.3 159.9L553.2 156.0L555.0 152.2L556.8 148.3L558.7 144.5L560.6 140.7L562.4 136.8L564.3 133.0L566.2 129.2L568.1 125.4L570.1 121.5L572.0 117.7L573.9 113.9L575.9 110.1L577.8 106.2L579.8 102.4L581.8 98.6L583.7 94.8L585.7 90.9L587.7 87.1L589.7 83.3L591.7 79.5L593.7 75.6L595.6 71.8L597.6 68.0L599.6 64.1L601.6 60.3L603.6 56.5M498.2 370.0L498.3 366.0L498.3 362.0L498.5 358.1L498.6 354.1L498.9 350.1L499.2 346.1L499.5 342.1L499.9 338.1L500.3 334.1L500.8 330.1L501.3 326.1L501.9 322.1L502.5 318.2L503.2 314.2L503.9 310.2L504.6 306.2L505.4 302.2L506.3 298.2L507.1 294.3L508.0 290.3L509.0 286.3L510.0 282.4L511.0 278.4L512.1 274.4L513.1 270.5L514.3 266.5L515.4 262.6L516.6 258.7L517.9 254.7L519.1 250.8L520.4 246.9L521.8 243.0L523.1 239.0L524.5 235.1L525.9 231.2L527.3 227.3L528.8 223.4L530.3 219.6L531.8 215.7L533.3 211.8L534.9 207.9L536.5 204.0L538.1 200.2L539.7 196.3L541.4 192.4L543.1 188.6L544.8 184.7L546.5 180.9L548.2 177.0L549.9 173.2L551.7 169.4L553.5 165.5L555.3 161.7L557.1 157.9L558.9 154.0L560.7 150.2L562.6 146.4L564.5 142.6L566.3 138.7L568.2 134.9L570.1 131.1L572.0 127.3L573.9 123.5L575.9 119.6L577.8 115.8L579.7 112.0L581.7 108.2L583.7 104.4L585.6 100.6L587.6 96.7L589.6 92.9L591.5 89.1L593.5 85.3L595.5 81.4L597.5 77.6L599.5 73.8L601.5 70.0L603.5 66.1L605.5 62.3L607.5 58.5M446.2 370.0 L498.2 370.0M446.2 365.3 L498.3 366.0M446.3 360.7 L498.3 362.0M446.5 356.0 L498.5 358.1M446.7 351.4 L498.6 354.1M446.9 346.7 L498.9 350.1M447.3 342.1 L499.2 346.1M447.7 337.5 L499.5 342.1M448.1 332.9 L499.9 338.1M448.6 328.3 L500.3 334.1M449.2 323.7 L500.8 330.1M449.8 319.1 L501.3 326.1M450.4 314.5 L501.9 322.1M451.1 310.0 L502.5 318.2M451.9 305.4 L503.2 314.2M452.7 300.9 L503.9 310.2M453.5 296.4 L504.6 306.2M454.4 291.9 L505.4 302.2M455.3 287.4 L506.3 298.2M456.3 283.0 L507.1 294.3M457.3 278.5 L508.0 290.3M458.4 274.1 L509.0 286.3M459.5 269.6 L510.0 282.4M460.6 265.2 L511.0 278.4M461.8 260.8 L512.1 274.4M463.0 256.5 L513.1 270.5M464.3 252.1 L514.3 266.5M465.6 247.8 L515.4 262.6M466.9 243.4 L516.6 258.7M468.2 239.1 L517.9 254.7M469.6 234.8 L519.1 250.8M471.0 230.5 L520.4 246.9M472.5 226.2 L521.8 243.0M474.0 222.0 L523.1 239.0M475.5 217.7 L524.5 235.1M477.0 213.5 L525.9 231.2M478.5 209.3 L527.3 227.3M480.1 205.1 L528.8 223.4M481.7 200.9 L530.3 219.6M483.3 196.7 L531.8 215.7M485.0 192.6 L533.3 211.8M486.7 188.4 L534.9 207.9M488.4 184.3 L536.5 204.0M490.1 180.2 L538.1 200.2M491.8 176.1 L539.7 196.3M493.6 172.0 L541.4 192.4M495.3 167.9 L543.1 188.6M497.1 163.9 L544.8 184.7M498.9 159.8 L546.5 180.9M500.7 155.8 L548.2 177.0M502.6 151.7 L549.9 173.2M504.4 147.7 L551.7 169.4M506.3 143.7 L553.5 165.5M508.1 139.7 L555.3 161.7M510.0 135.7 L557.1 157.9M511.9 131.7 L558.9 154.0M513.8 127.8 L560.7 150.2M515.7 123.8 L562.6 146.4M517.7 119.8 L564.5 142.6M519.6 115.9 L566.3 138.7M521.5 112.0 L568.2 134.9M523.5 108.0 L570.1 131.1M525.5 104.1 L572.0 127.3M527.4 100.2 L573.9 123.5M529.4 96.3 L575.9 119.6M531.4 92.4 L577.8 115.8M533.3 88.5 L579.7 112.0M535.3 84.6 L581.7 108.2M537.3 80.8 L583.7 104.4M539.3 76.9 L585.6 100.6M541.3 73.0 L587.6 96.7M543.3 69.2 L589.6 92.9M545.3 65.3 L591.5 89.1M547.3 61.4 L593.5 85.3M549.3 57.6 L595.5 81.4M551.3 53.7 L597.5 77.6M553.3 49.9 L599.5 73.8M555.3 46.1 L601.5 70.0M557.3 42.2 L603.5 66.1M559.3 38.4 L605.5 62.3M561.3 34.6 L607.5 58.5" fill="none" stroke="#555" stroke-opacity="0.62" stroke-width="0.72"/><g opacity="0.999"><defs><linearGradient id="cbR" x1="0" y1="0" x2="0" y2="1"><stop offset="0.0000" stop-color="#800000"/><stop offset="0.0312" stop-color="#9f0000"/><stop offset="0.0625" stop-color="#bf0000"/><stop offset="0.0938" stop-color="#df0000"/><stop offset="0.1250" stop-color="#ff0000"/><stop offset="0.1562" stop-color="#ff2000"/><stop offset="0.1875" stop-color="#ff4000"/><stop offset="0.2188" stop-color="#ff6000"/><stop offset="0.2500" stop-color="#ff8000"/><stop offset="0.2812" stop-color="#ff9f00"/><stop offset="0.3125" stop-color="#ffbf00"/><stop offset="0.3438" stop-color="#ffdf00"/><stop offset="0.3750" stop-color="#ffff00"/><stop offset="0.4062" stop-color="#dfff20"/><stop offset="0.4375" stop-color="#bfff40"/><stop offset="0.4688" stop-color="#9fff60"/><stop offset="0.5000" stop-color="#80ff80"/><stop offset="0.5312" stop-color="#60ff9f"/><stop offset="0.5625" stop-color="#40ffbf"/><stop offset="0.5938" stop-color="#20ffdf"/><stop offset="0.6250" stop-color="#00ffff"/><stop offset="0.6562" stop-color="#00dfff"/><stop offset="0.6875" stop-color="#00bfff"/><stop offset="0.7188" stop-color="#009fff"/><stop offset="0.7500" stop-color="#0080ff"/><stop offset="0.7812" stop-color="#0060ff"/><stop offset="0.8125" stop-color="#0040ff"/><stop offset="0.8438" stop-color="#0020ff"/><stop offset="0.8750" stop-color="#0000ff"/><stop offset="0.9062" stop-color="#0000df"/><stop offset="0.9375" stop-color="#0000bf"/><stop offset="0.9688" stop-color="#00009f"/><stop offset="1.0000" stop-color="#000080"/></linearGradient></defs><rect x="625.0" y="24.0" width="11.0" height="346.5" fill="url(#cbR)"/><text x="641.2" y="49.84" font-size="16.3">1.6</text><text x="641.2" y="90.94" font-size="16.3">1.4</text><text x="641.2" y="132.05" font-size="16.3">1.2</text><text x="641.2" y="173.15" font-size="16.3">1</text><text x="641.2" y="214.25" font-size="16.3">0.8</text><text x="641.2" y="255.36" font-size="16.3">0.6</text><text x="641.2" y="296.46" font-size="16.3">0.4</text><text x="641.2" y="337.56" font-size="16.3">0.2</text><path d="M636.0 44.14h-3.2M636.0 85.24h-3.2M636.0 126.35h-3.2M636.0 167.45h-3.2M636.0 208.55h-3.2M636.0 249.66h-3.2M636.0 290.76h-3.2M636.0 331.86h-3.2" stroke="#464646" stroke-width="1" fill="none"/><text x="406.2" y="375.50" text-anchor="end" font-size="16">0</text><text x="406.2" y="340.88" text-anchor="end" font-size="16">0.01</text><text x="406.2" y="306.26" text-anchor="end" font-size="16">0.02</text><text x="406.2" y="271.64" text-anchor="end" font-size="16">0.03</text><text x="406.2" y="237.02" text-anchor="end" font-size="16">0.04</text><text x="406.2" y="202.40" text-anchor="end" font-size="16">0.05</text><text x="406.2" y="167.78" text-anchor="end" font-size="16">0.06</text><text x="406.2" y="133.16" text-anchor="end" font-size="16">0.07</text><text x="406.2" y="98.54" text-anchor="end" font-size="16">0.08</text><text x="406.2" y="63.92" text-anchor="end" font-size="16">0.09</text><text x="406.2" y="29.30" text-anchor="end" font-size="16">0.1</text><text x="472.30" y="390.2" text-anchor="middle" font-size="16">0</text><text x="541.70" y="390.2" text-anchor="middle" font-size="16">0.02</text><text x="611.10" y="390.2" text-anchor="middle" font-size="16">0.04</text><text x="458.2" y="409.9" font-size="17" textLength="62.6" lengthAdjust="spacingAndGlyphs">Position</text><text x="528.4" y="409.9" font-size="17" font-style="italic" textLength="9" lengthAdjust="spacingAndGlyphs">x</text><path d="M548.9 396.4H546.6V414.6H548.9M564.9 396.4H567.2V414.6H564.9" stroke="#4a4a4a" stroke-width="0.85" fill="none"/><text x="549.4" y="409.8" font-size="16.6" textLength="14.9" lengthAdjust="spacingAndGlyphs">m</text><g transform="translate(369.8,0) rotate(-90)"><text x="-250" y="0" font-size="17" textLength="62" lengthAdjust="spacingAndGlyphs">Position</text><text x="-180.6" y="0" font-size="18.5" font-style="italic" textLength="10.3" lengthAdjust="spacingAndGlyphs">y</text><path d="M-162.0 -13.4H-164.3V4.8H-162.0M-146.0 -13.4H-143.7V4.8H-146.0" stroke="#4a4a4a" stroke-width="0.85" fill="none"/><text x="-161.5" y="0.0" font-size="16.6" textLength="14.9" lengthAdjust="spacingAndGlyphs">m</text></g><g transform="translate(680.8,0) rotate(-90)"><text x="-274" y="0" font-size="18.4" textLength="78.5" lengthAdjust="spacingAndGlyphs">Deviation</text><text x="-189.4" y="0" font-size="18.4" font-style="italic" textLength="37.7" lengthAdjust="spacingAndGlyphs">RSE</text><path d="M-140.9 -13.4H-143.2V4.8H-140.9M-124.9 -13.4H-122.6V4.8H-124.9" stroke="#4a4a4a" stroke-width="0.85" fill="none"/><text x="-140.4" y="0.0" font-size="16.6" textLength="14.9" lengthAdjust="spacingAndGlyphs">m</text></g><path d="M639.3 9.6l8 8m0 -8l-8 8" stroke="#262626" stroke-width="0.9" fill="none"/><text x="650.6" y="18.7" font-size="18.1">10</text><text x="667.7" y="9.6" font-size="14.6">-4</text><text x="474.5" y="447.7" font-size="17" textLength="91.0" lengthAdjust="spacingAndGlyphs">(b) PI-GNN</text></g></svg></body></html>
